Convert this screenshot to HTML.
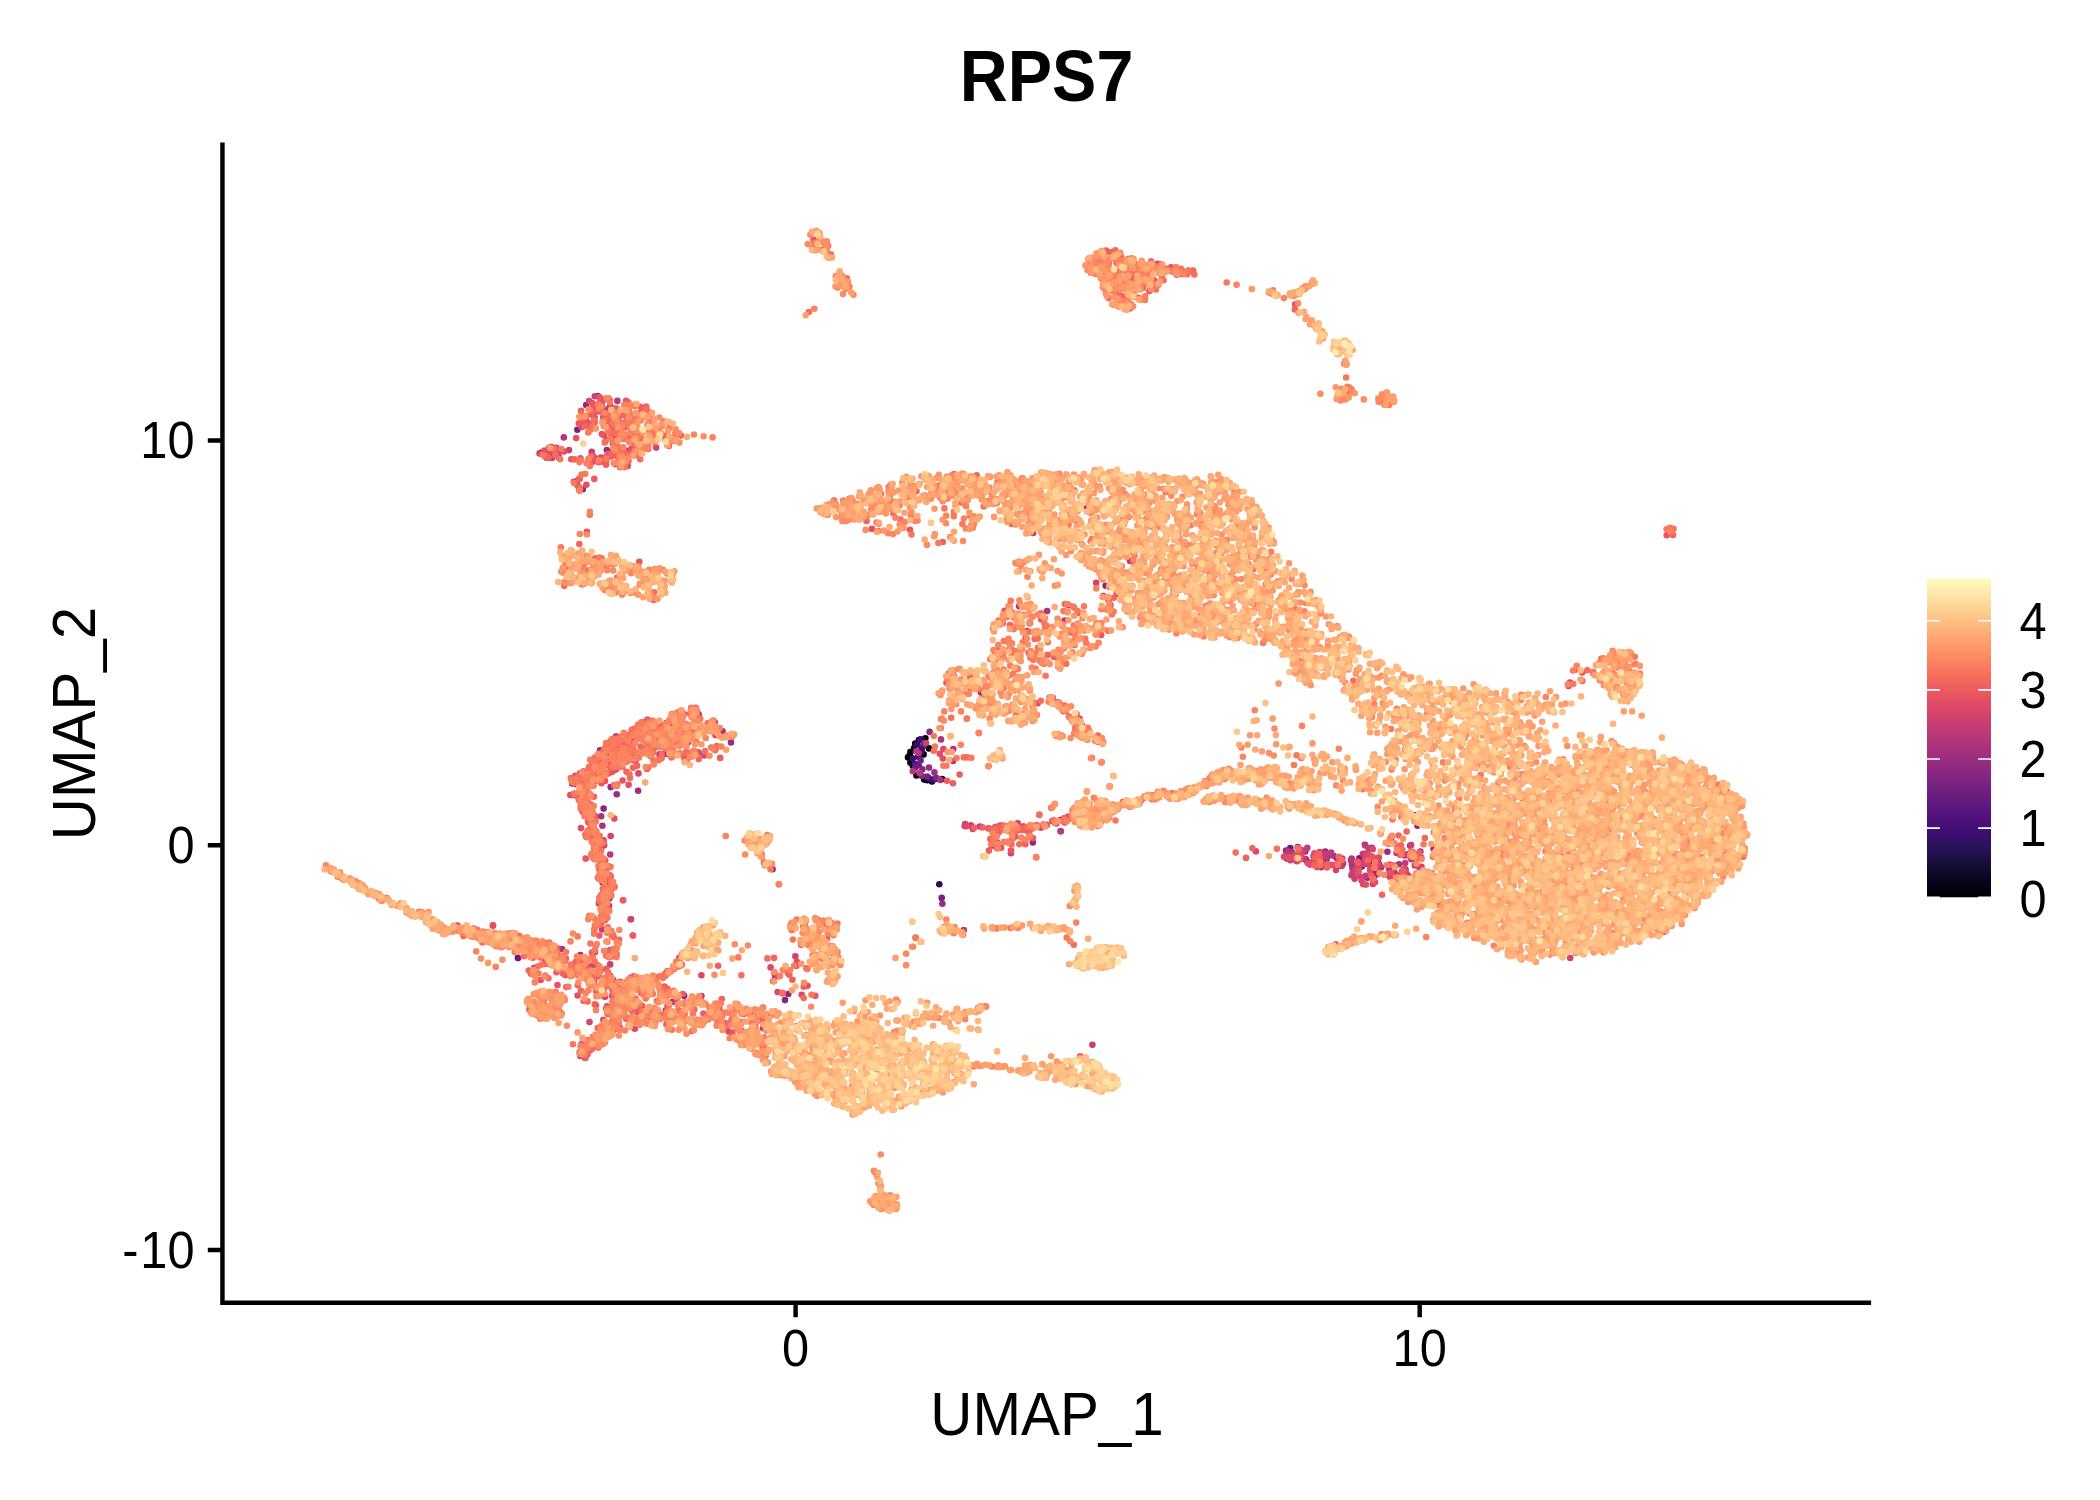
<!DOCTYPE html>
<html><head><meta charset="utf-8"><title>RPS7</title>
<style>
html,body{margin:0;padding:0;background:#fff}
svg{display:block}
text{font-family:"Liberation Sans",Arial,Helvetica,sans-serif;fill:#000}
</style></head><body>
<svg width="2100" height="1500" viewBox="0 0 2100 1500">
<defs><linearGradient id="mg" x1="0" y1="0" x2="0" y2="1"><stop offset="0.00" stop-color="#fcfdbf"/><stop offset="0.05" stop-color="#fde7a9"/><stop offset="0.10" stop-color="#fecf92"/><stop offset="0.15" stop-color="#feb77e"/><stop offset="0.20" stop-color="#fe9f6d"/><stop offset="0.25" stop-color="#fc8961"/><stop offset="0.30" stop-color="#f7705c"/><stop offset="0.35" stop-color="#ed5a5f"/><stop offset="0.40" stop-color="#de4968"/><stop offset="0.45" stop-color="#ca3e72"/><stop offset="0.50" stop-color="#b73779"/><stop offset="0.55" stop-color="#a1307e"/><stop offset="0.60" stop-color="#8c2981"/><stop offset="0.65" stop-color="#782281"/><stop offset="0.70" stop-color="#641a80"/><stop offset="0.75" stop-color="#51127c"/><stop offset="0.80" stop-color="#3b0f70"/><stop offset="0.85" stop-color="#251255"/><stop offset="0.90" stop-color="#140e36"/><stop offset="0.95" stop-color="#06051a"/><stop offset="1.00" stop-color="#000004"/></linearGradient></defs>
<rect width="2100" height="1500" fill="#fff"/>
<g fill="none" stroke-width="6.6" stroke-linecap="round">
<path stroke="#010106" d="M929 748.4h0M909.8 755h0M908 757.4h0M925.4 738.2h0M910.4 752h0"/>
<path stroke="#030312" d="M923.6 754.4h0M924.2 779.6h0M911.6 758h0M932 781.4h0M942.2 779h0M916.4 775.4h0M910.4 762.8h0"/>
<path stroke="#07061c" d="M921.8 749h0M915.2 743.6h0"/>
<path stroke="#0c0926" d="M912.8 765.8h0M914 748.4h0M927.2 780.2h0"/>
<path stroke="#130d34" d="M918.8 740h0"/>
<path stroke="#29115a" d="M939.3 884.3h0"/>
<path stroke="#390f6e" d="M920.6 739.4h0M917 744.8h0M912.8 758.6h0"/>
<path stroke="#440f76" d="M932 779.6h0M922.4 747.2h0M918.2 756.8h0M921.2 751.4h0"/>
<path stroke="#4c117a" d="M1405.7 887.3h0M928.4 777.8h0M935.6 779h0"/>
<path stroke="#54137d" d="M915.2 764h0"/>
<path stroke="#6d1d81" d="M915.2 767.6h0M518.1 958.1h0M1361.9 866.5h0M918.8 765.2h0M923.6 743.6h0M1317.2 854.3h0M1361.9 864.3h0M1290.3 848h0M1359.4 858.3h0M517.9 957.9h0"/>
<path stroke="#762181" d="M927.2 776.6h0M920.6 760.4h0M609.1 1024.4h0M941.7 897.9h0M1371.9 873.7h0M1341 865.8h0M1378 862.3h0M577.4 429.8h0M628.1 759.9h0M523.9 943.6h0M1060.4 820.1h0"/>
<path stroke="#7e2482" d="M1367.4 877.7h0M629.1 998.1h0M545.2 953h0M1105.7 585.7h0M1391.3 837.6h0M1364.9 844.8h0M650.7 722.1h0M585 795.6h0M1397.2 850.5h0M1336.3 867.2h0M604.3 1037.3h0M1373.5 874.1h0M996.5 846.9h0M694.2 718.1h0M613.3 980.3h0M911.6 1064.9h0M749.6 1011.8h0M528.9 947h0M936.2 777.8h0M684.1 995.7h0M580.5 793h0M554.2 455h0M540.5 452.9h0"/>
<path stroke="#862781" d="M595.4 847.6h0M1084.8 505.6h0M595.6 778.1h0M1312 863.3h0M663 754.4h0M586.2 405h0M1372.6 875.8h0M742.5 1010.3h0M1006.7 706.6h0M1417.5 825.8h0M581.1 779h0M605.3 873.5h0M1412.7 895.1h0M922.4 769.4h0M1369.1 849.1h0M558.8 457.3h0M921.8 776h0M1077.8 520.7h0M600.7 845.1h0M593.7 826.5h0M1305.3 859.4h0M773.8 1071.6h0M583.2 964.4h0M1336.4 857.7h0M785 1000.1h0M603.6 808.6h0M1074.2 645h0M601.3 921.1h0"/>
<path stroke="#902a81" d="M610.7 787.1h0M540.2 955.8h0M929.6 731.9h0M594.7 975.3h0M551.7 452.5h0M1422.6 873.7h0M1297.8 847.1h0M585.3 815.8h0M612.7 953.9h0M1433.6 849h0M1032.8 842.5h0M1307.4 861.7h0M1305.3 851.4h0M1325.3 851.6h0M1325.1 865h0M788.3 994h0M1305.7 859.3h0M1017.8 827.2h0M688.4 733.3h0M1286 850.6h0M1064.3 708h0M582.8 489.2h0M607.2 867.4h0M617.5 429.9h0M563.1 958.7h0M1378.1 872.8h0"/>
<path stroke="#982d80" d="M672.1 1002h0M585.5 799.3h0M602.6 882.6h0M1325.1 865.2h0M731 742.4h0M613.2 887.1h0M590.7 971.7h0M606.4 1008.6h0M772.6 869.3h0M600 750.4h0M598.4 1044.5h0M580.3 955h0M597.8 396.1h0M561.1 450.4h0M1295.1 857.1h0M688.3 742h0M699.7 1002.9h0M942.4 903.8h0M698.5 714.3h0M1327.5 856.9h0M616.7 794.3h0M551.4 947.4h0M1387.4 851.7h0M632.3 738.8h0M698.4 752.5h0M929 767.6h0M1289.5 857.6h0M606.2 909.3h0M606.8 450.1h0M715.9 747.3h0M1377.5 874h0M586.3 812h0M1060.7 831.2h0M1371.9 847.7h0"/>
<path stroke="#a02f7f" d="M965.8 826.2h0M642.3 1018.1h0M1374.2 876.5h0M1355.7 869.1h0M1005.3 829.7h0M1405.4 869.3h0M668.6 754.2h0M572.9 965.2h0M688.5 756.4h0M1402 871.2h0M1414 815.1h0M619.4 984.1h0M594.1 759.5h0M934.4 772.4h0M1289.2 858.7h0M1055.6 529.4h0M638.1 790.7h0M1316.3 865.6h0M1367 856.5h0M754.5 1035.6h0M1319.4 854.4h0M1389.2 868.9h0M582 802.7h0M605 912.3h0M609.4 898.6h0M1321.2 858.2h0M981 692.4h0M579.8 1052.6h0M1397.2 879.2h0"/>
<path stroke="#aa337d" d="M1286.8 858.6h0M562.1 949h0M717.4 731.2h0M602.4 825.7h0M1420.4 851.6h0M918.8 753.2h0M1326.4 860.1h0M874.6 1062.6h0M1394.6 872.9h0M1047.1 611.1h0M1398.1 846.3h0M581 804.4h0M1351.9 864.8h0M617.7 740.8h0M1398.9 864.3h0M992 845.4h0M940.4 779.9h0M722.6 731.2h0M1019 606.2h0M1411.4 859.3h0M1333.5 855.8h0M626 454.5h0M604.6 996.3h0M601.2 816.2h0M605 983.6h0M1340.4 860.7h0M582 784.5h0M1381 867.4h0M595 951.9h0M551.1 447h0M605.6 757.9h0M629.7 752.9h0M1118 590h0"/>
<path stroke="#b2357b" d="M619.3 986.9h0M1372.1 848.5h0M594.5 417.5h0M595.8 407.7h0M1311.8 862.8h0M1314.1 861.1h0M1373 858h0M631.7 995.7h0M572.1 783.6h0M1352.5 868.7h0M988.4 828.3h0M581.4 420.4h0M1323.7 853.8h0M953.3 749h0M1292 852.4h0M610.3 881.3h0M625.7 403.8h0M941 739.4h0M590.3 769.2h0M497.4 938.2h0M563.8 437.4h0M1410.1 845.8h0M1321 867.2h0M564.9 974.2h0M665.7 1010.5h0M1351.7 858.6h0M963.6 694.7h0M921.4 1074.1h0M1288.2 851.2h0M1364 863.9h0M1407.7 854.3h0M612.4 1031.8h0"/>
<path stroke="#ba3878" d="M617.4 400.9h0M630.3 1006.5h0M1362.8 854.1h0M659.5 754.2h0M701.4 996h0M614.7 434.2h0M576.5 969.3h0M963.8 930h0M635.1 998.5h0M1361.6 877.8h0M588.6 459.3h0M664 745.2h0M1342.2 858.6h0M1013.8 829.7h0M601.8 757.5h0M852.2 1042.5h0M1064.6 620.6h0M604.8 898.4h0M1431.8 873.6h0M1343.1 863.4h0M594.6 815.8h0M595.2 819.3h0M578.5 797.2h0M1286.6 854h0M1342 859.4h0M1311.4 864h0M912.8 771.2h0M684.6 759h0M775.3 977h0M953 761h0M1027.1 631h0M1056.4 702.2h0M528.3 943.7h0M1060.7 831.2h0M1130 561h0M576.3 784.3h0M610.2 854.5h0M1370.4 861.3h0M660 745.2h0M617.7 986.9h0M1421.2 857.9h0M614.3 448.8h0M660.9 741.7h0M763.1 1028.3h0M916.4 751.4h0M630.2 740.3h0M1318.4 861h0M579.5 478.6h0M979.9 826.5h0M919.4 773h0M1331.1 852.6h0M1350.9 860.4h0M548.8 457.6h0M1033 533h0M1151.4 511.7h0M589.7 768.4h0"/>
<path stroke="#c43c75" d="M606.8 764.9h0M1392.6 873h0M1404.7 855.6h0M1368.7 857.4h0M1052.4 821.1h0M1017.6 830.3h0M1397.4 881.6h0M1341.9 865.7h0M1369.4 848.2h0M592.1 982.6h0M1396.5 853h0M1405.2 863h0M598.2 778.5h0M632.6 429.5h0M1302.2 850.2h0M1352.6 872.9h0M1407.9 875.2h0M1068.2 604.9h0M1006.1 827.3h0M1067.8 819.6h0M1400.5 855h0M1325.7 857h0M591.9 425.7h0M1322.5 855.9h0M1291.4 859h0M1419.2 866.9h0M1103.3 596.1h0M1365.3 845.6h0M1325.6 853.8h0M609.5 887.1h0M1370.8 856.3h0M608.8 408.3h0M1041.4 827.3h0M667.3 748.5h0M692.2 754.2h0M1303.6 858.6h0M1321 859.6h0M1365.5 875.9h0M614.3 427.2h0M1378.3 866.3h0M615.1 1000h0M654.3 746h0M592.4 840.1h0M598.2 767.4h0M593.7 423.4h0M1307.3 847.9h0M602.1 929.5h0M1290.5 860.3h0M631.1 743h0M592.9 820.4h0M714.9 722.5h0M598.9 903.4h0"/>
<path stroke="#cc3f71" d="M1031.8 828.4h0M575.5 781.4h0M610.2 964.4h0M627.1 450.7h0M1355.3 869.9h0M589.6 982.2h0M1303.2 852h0M607.9 764.8h0M457.4 925.5h0M619.3 758h0M970.8 825.2h0M607.7 898.7h0M620.7 737.4h0M546.2 457.6h0M552 458h0M1015.7 825.4h0M630.6 750.3h0M596.9 856.3h0M1186.6 625.5h0M1397.8 879.4h0M635.6 760.8h0M614.7 414.4h0M1366.9 863.8h0M709.8 729.5h0M1411.1 845h0M957.4 687.5h0M616.4 1007.1h0M594.8 396.3h0M1365.1 853.5h0M600.9 461.6h0M596.3 769.4h0M609 905.7h0M1027.2 829.7h0M632.2 755.5h0M725.3 1023.2h0M587.9 1040.4h0M1121.6 594.4h0M631 919.3h0M680.1 1011.4h0M478.7 934.5h0M926 743h0M1017.4 827.1h0M653.5 736.2h0M591.7 451.9h0M609.3 419.8h0M610.1 766.5h0M603.7 905.3h0M1299.5 859.4h0M639.5 1009.8h0M605.9 1036.8h0M605 984.1h0M591.7 966.6h0M580.3 1056h0M603.1 409.8h0M1354.6 878.7h0M657 726.4h0M1364.2 863.8h0M1017.7 823.2h0M1378.7 857.8h0M582.5 420.6h0M1317.1 862.8h0M997.4 842.6h0M601.6 758.5h0M607.4 875h0M1372.9 884h0M569 450.1h0M1357.4 865.5h0M1351.4 875.3h0M1319.7 852.1h0M606.1 460.7h0M623.3 1003.4h0M1300.4 853.6h0M556.9 450.4h0M1092.4 1044.8h0"/>
<path stroke="#d3436e" d="M1379.5 864.6h0M949.1 673.5h0M588.3 811.3h0M627 995.9h0M578.6 783.4h0M656.2 447.6h0M604.2 896.5h0M1570.2 957.9h0M616 736.4h0M665.5 975h0M1105 574h0M1025.6 638.5h0M1036.8 825.4h0M1148.1 271.9h0M954.1 676.5h0M1117.1 593.8h0M964.7 826h0M630.7 919.3h0M1415.5 860.3h0M1398.8 885.9h0M601.1 898.4h0M972.8 829h0M595.1 816.9h0M1010.9 853.3h0M609.6 754h0M1336 870.1h0M601.3 847.9h0M1328.6 947.1h0M1414.8 865.5h0M576.9 481.1h0M593.1 413.8h0M1018 825.8h0M628.1 411.5h0M549.3 447.8h0M606.3 884h0M658.7 732.8h0M1294.4 855h0M1157.6 263.9h0M610.4 406h0M1404.5 880.1h0M562.6 961.9h0M1387.9 874.9h0M611.1 746.8h0M774.6 973.5h0M1296.8 861.3h0M584.3 809.9h0M603.7 901.5h0M586.3 970.9h0M655.1 743.5h0M1096.2 582.9h0M604.2 845.2h0M1114.6 291.1h0M1373.2 858.3h0M621.6 1003h0M715.5 735.1h0M603.6 840.2h0M1362.8 863.9h0M1003.5 825.5h0M608.4 415.3h0M612.7 883.2h0M607.8 978.9h0M1006.9 827.4h0M1358.6 875.4h0M628.7 758.7h0M610.7 836h0M615.5 748.9h0M969.5 687.6h0M606.7 874.1h0M605.7 983.5h0M1357.6 861.5h0M632.5 735.5h0M615.1 464.1h0M795.4 956.4h0M601.9 919.2h0M1298.3 859.7h0M1364.6 860.6h0M589.5 1022.1h0M649.8 419.1h0M618.6 753.9h0M965.2 824h0M509.7 943.4h0M588.1 1043.5h0M632.7 423.3h0M645.9 726.8h0M582.3 810.2h0M575.4 775.8h0M982.6 697.7h0M1421.5 866.9h0M650.2 1017.4h0M600.1 843.3h0M1056.3 823.5h0M671.6 724.8h0M612.8 451.4h0M629.3 424.9h0M642.8 984.5h0M1390 877.1h0M590.7 816.6h0M1000.3 825.6h0M619.7 745.9h0M605 996.7h0M534.3 967.8h0"/>
<path stroke="#dc4869" d="M1052 702.1h0M1405.7 871.7h0M634.8 1028.8h0M626.6 996.8h0M616.8 1025.1h0M688.3 727.2h0M610.9 767.5h0M626.9 740.7h0M593.5 818.7h0M493.1 925.2h0M579.5 784.3h0M543.9 952.1h0M637.9 1011.8h0M579.1 489.4h0M580.1 773.4h0M1311 864.1h0M553.4 451.6h0M662.5 738.8h0M605 462.3h0M628.3 410.6h0M1370.1 867h0M1290.3 857.4h0M612 885.6h0M666.6 722.8h0M1284 856.7h0M1040.8 827.4h0M600.3 458.4h0M492.9 943.4h0M1372.7 849.2h0M645.4 448.2h0M1388.6 843.7h0M573.9 481.8h0M615.6 994.1h0M603.5 908.4h0M524.1 946.3h0M588.9 983.4h0M600.7 457.5h0M583 783.4h0M1142.6 286.3h0M586.2 836.8h0M1361.6 880.6h0M1363.2 884.3h0M597 845.5h0M1037.7 703.3h0M564.9 960.6h0M510.5 940.7h0M704 755.4h0M607.6 906.9h0M548.1 452.5h0M1289.1 859.1h0M539.5 453.6h0M607.1 1006.2h0M770.6 967.4h0M595.6 974h0M604.1 908.7h0M546.6 451.1h0M1014.1 834.1h0M606.3 748.1h0M556.1 451.9h0M1309.9 864.6h0M580.8 961.1h0M652.4 745.8h0M610.2 950.1h0M1570 682.5h0M642.5 728.4h0M701.4 975.2h0M615.7 437.9h0M728.5 1031.4h0M589.1 401h0M629.6 993.1h0M1296 859.7h0M556.5 447.8h0M588.5 965h0M607.8 910.2h0M1411.5 877.7h0M1256 851.4h0M1313.4 856.3h0M665.4 439.8h0M592 462.2h0M777.6 992.1h0M1024.2 829h0M1109.5 604.1h0M1389.5 873h0M943.4 749h0M632.8 754.1h0M644.7 417h0M638.4 773.4h0M1358.7 868h0M426.4 915.6h0M1376 866.1h0M592 785.9h0M580.4 776.2h0M618 423.9h0M580.2 785h0M667.6 1006h0M504.4 943.2h0M1367.6 854.3h0M1300.7 855.8h0M558.2 455.5h0M647.9 741.3h0M593.8 854.9h0M605.1 882.1h0M967.1 825.8h0M686 724h0M801.7 994.7h0M599.4 846.2h0M611.3 1032.4h0M612.5 1007.8h0"/>
<path stroke="#e34e65" d="M1117.1 302.9h0M532.2 948.9h0M577.5 485.3h0M1314.8 860.3h0M611.4 956.4h0M598.6 462.2h0M594.3 981.3h0M1079.6 718.5h0M590.7 804.6h0M1288.3 857.1h0M565.5 975.1h0M650.7 751h0M942.8 758.6h0M600.6 872.6h0M1116.7 592.7h0M577.6 995.5h0M1149.4 291h0M577.7 974.9h0M564.1 451.5h0M608.1 420.3h0M542.5 955.1h0M593.1 834.7h0M612.3 751.8h0M625.3 1003.2h0M1295.3 856.5h0M1153.9 280.4h0M807.5 985.7h0M1331.1 864.9h0M627.7 1008h0M587.8 797.1h0M607.9 426.4h0M796.2 965.9h0M1664.3 931.7h0M1314.4 853.4h0M1032.2 704.2h0M1011.3 829.4h0M1171 267.4h0M687.2 737h0M605.3 1029.3h0M605 920h0M627.8 465.9h0M492.9 925.7h0M689.5 738.1h0M602.4 902.1h0M628.6 784.8h0M633.5 760.3h0M604 1038.4h0M643.1 723h0M600.5 993.2h0M1082.1 725.6h0M1307.8 863.3h0M1375 882.3h0M597.2 852.4h0M612.4 1025.1h0M603.3 1019.7h0M616 769.6h0M593 783h0M1134.1 286.8h0M678.5 717.5h0M1335 864.8h0M588.1 793.4h0M1390.9 872.6h0M545 961.3h0M679.7 741.7h0M1410.5 857.6h0M595.3 459.2h0M641.9 734.1h0M581.6 426.9h0M1316.2 859.3h0M1076.5 714.1h0M603.2 761.7h0M1342.3 392.9h0M540.7 980h0M606.4 413.9h0M593.3 814.6h0M614.3 818.6h0M612.2 771.8h0M1001 847.8h0M603.8 435h0M1012 829h0M490.1 940.4h0M570.3 795.1h0M1370.1 870.4h0M778.7 976.1h0M796.9 961.9h0M586.3 484.7h0M760.5 1020.6h0M997.7 827.6h0M586.9 531.7h0M679.3 957.7h0M556.1 961.5h0M636.6 432.9h0M581 828.1h0M719.4 1008.9h0M560.3 964.7h0M550.6 448.5h0M1071.9 720.2h0M622.7 747.1h0M496.6 940.1h0M1294.9 857.4h0M1404 868.9h0M675.7 727.5h0M1119.8 277.1h0M614.2 758h0M605.2 860.6h0M1008.2 830.9h0M598.8 763.6h0M598.4 1045.3h0M604.2 750.5h0M585.4 1057.9h0M1122.6 600h0M631.5 448.5h0M510.6 936.6h0M544.5 450.5h0M606.5 952.3h0M604.7 420.2h0M1120 302.4h0M504.7 935.5h0M602 405.3h0M1123.7 260.9h0M946.5 682.7h0M611.7 758.6h0M1365.9 884.6h0M872 528.9h0M600.6 401.1h0M599.7 849.5h0M603.2 417.4h0M1040.4 827.4h0M1399.2 875.4h0M995.4 827h0M710.9 1012.9h0M676.6 1001h0M606.3 955.6h0M1013.2 837.9h0M631.6 1010.3h0M1109 601.4h0M614 417.9h0M1568.6 685.9h0M657.3 739.7h0M582 416.3h0M791 924.7h0M1582.2 672.5h0M615.5 769.5h0M603.2 909.9h0M627.1 427.3h0M545.6 451.9h0M606.6 438.7h0M612.7 1001.6h0M622.5 748.5h0M1018.5 514.4h0M601.4 763.2h0M606 904.4h0M620 981.8h0M636.1 444.1h0M585.7 420.1h0M592.9 456.1h0M939.8 753.8h0M628.8 412.2h0M622 737.3h0M599.1 970.4h0M992.4 842.6h0M692.9 730.1h0M489.8 934.3h0M1126.3 280.6h0M1317.2 867.3h0M614.1 762.1h0M597.1 459.4h0M1378.8 857.5h0M1123.2 267.1h0"/>
<path stroke="#e95462" d="M557.2 948.2h0M593.7 834.8h0M633.5 755h0M597.3 921.2h0M685.6 1002.3h0M612.8 443h0M604.7 899.7h0M581.3 775h0M1389.9 864.6h0M604.8 875.5h0M594 413.6h0M586.4 416h0M1004.6 610.7h0M630 1005.4h0M611.3 771.7h0M658.2 735h0M609.9 875.9h0M635.8 756.6h0M601.7 1029.6h0M608.9 773.2h0M578.3 781h0M1077.4 613.1h0M599.9 762.6h0M604.3 888.1h0M910 529.8h0M582.2 807.9h0M649.2 747.3h0M1041.3 619.4h0M579.1 785.8h0M590.9 427.6h0M1120.8 256.4h0M607.7 866.1h0M689.6 736.9h0M622.7 749.1h0M601.4 783.3h0M597.6 847.1h0M625.9 735.9h0M765.7 1055.4h0M673.7 720.1h0M592.5 767.3h0M664.6 746.7h0M1338.6 862.2h0M610.8 456.5h0M1319.8 858.1h0M506.3 934.7h0M813.5 239.5h0M1046.9 824.9h0M592.9 427.9h0M605 780.9h0M600.9 970.5h0M609.9 400.6h0M663.1 747.3h0M665 976.1h0M691.5 1001.2h0M1011 850.5h0M1027 533h0M579.4 799.4h0M607.9 1012.9h0M806.5 968.4h0M622.6 780.5h0M1086.5 738.2h0M604.8 457.6h0M1046.4 628.5h0M1152.5 271.2h0M736.3 1021.7h0M571.3 459.3h0M582.4 967.8h0M1372.4 856.7h0M751.3 1016.4h0M486.9 932.3h0M581.5 1044h0M601.9 752.7h0M597.6 965.2h0M628.7 1025.6h0M599.3 411.5h0M602.9 982h0M592.4 414.8h0M639.3 561.9h0M580.5 458.3h0M1295.2 304.4h0M659.1 737.2h0M684.1 714.4h0M617 745.1h0M1127.1 295.2h0M604 399.6h0M628 742.1h0M500.8 935.6h0M599.8 397.3h0M618.3 419.3h0M596 1005.2h0M835.4 952.4h0M573.8 795.3h0M1112.3 270.3h0M1576.1 669.4h0M577.4 971.9h0M611.3 748.1h0M642.3 1006.1h0M561.9 970.5h0M582 784.5h0M764.8 1025h0M498.5 938h0M1023.5 826.2h0M732.3 1032.6h0M623.7 1007.5h0M511 936.7h0M557.5 985h0M592.8 424.2h0M576.2 438.1h0M1101 274.2h0M578.8 423.2h0M1081.6 732.1h0M716.5 729.9h0M1068.2 816.6h0M1039.7 660.5h0M1015.1 836.7h0M604.8 773.3h0M614.7 1003.9h0M593.8 422.2h0M1059.1 705.2h0M1611.6 659.3h0M587.2 421.5h0M582.8 776.4h0M1419 881.4h0M606.3 891.4h0M598.9 976.5h0M573.4 964.5h0M660.4 992.3h0M626.7 419.7h0M587.8 807h0M581.2 779.5h0M586 810.3h0M697.5 752.2h0M608.9 877.6h0M592.3 403.1h0M1036.8 634.6h0M605 914.7h0M699.8 718.4h0M589.8 424.6h0M623.1 900.2h0M601.2 1044.6h0M1666.7 535.3h0M620.1 467.2h0M645.1 411.4h0M1063.5 711.2h0M993.5 829.3h0M605.9 751.9h0M1007.1 827.2h0M815.3 995.8h0M585.7 858.6h0M623.6 758.1h0M561.8 956.7h0M650.4 756.1h0M1101.2 635.1h0M605.4 870.2h0M611.9 995.8h0M634.8 752.4h0M507.9 934.6h0M593.1 405.1h0M589.4 822.9h0M594.9 458.1h0M686.9 752.5h0M635.4 455.2h0M601.5 874.4h0M996.9 649.9h0M594.5 848.1h0M1142.5 270.8h0M614.1 434.5h0M1119.2 258.3h0M601.9 434h0M1071.2 656.1h0M1110.5 605.3h0M557.3 1007.2h0M596.1 991.1h0M632.9 935.5h0M668.5 732h0M582.6 800.1h0M949 1049.5h0M1358.7 871.3h0M691.9 1000.4h0M665.6 736.6h0M626.1 400.9h0"/>
<path stroke="#ef5d5e" d="M982.3 827.4h0M590.9 804.7h0M591.4 854.3h0M750.4 1012.9h0M1025.3 844.2h0M762.1 1019.5h0M648 749.9h0M555.8 965.1h0M1018.6 626.8h0M606.1 464.7h0M998.9 828.6h0M608.3 951.1h0M715.4 749.1h0M591.9 952.5h0M617.3 784.5h0M1182.1 274.1h0M584.5 1057.5h0M612.1 1009.6h0M1118.1 271.7h0M669.5 731.1h0M1004 826.3h0M699 728.8h0M576 780.6h0M635 438.7h0M1121.1 295.8h0M616 408.3h0M952.3 478.2h0M559.4 968.1h0M577.3 974.6h0M1301.7 290.2h0M618.7 1002.9h0M696.7 710.6h0M1150.7 283.8h0M637.8 733.7h0M875.4 1172.6h0M1131.5 258.5h0M586.2 968.1h0M703.4 1013.5h0M656.7 739.2h0M645.4 748.4h0M1066.7 821h0M1130.4 289.7h0M593.3 766.6h0M998.6 832.4h0M1189.5 271.2h0M1080.2 1056.2h0M583.8 812.6h0M731.9 1036.5h0M603.2 892.5h0M591.2 978.1h0M1008.1 826.2h0M593.7 425.2h0M953 783.2h0M581.1 410.9h0M1326.8 864.4h0M1066.1 640.1h0M1000.6 826.8h0M586.6 804.1h0M539.1 954.3h0M997.5 826.9h0M717.8 1003.9h0M597.8 769.1h0M1096.1 568.9h0M1080.6 823.1h0M464.1 932.7h0M790.9 927.5h0M644.2 752.5h0M587.5 778.1h0M565.9 958.6h0M1138.3 297.9h0M506.6 937.3h0M625 737.7h0M590.6 767.6h0M607.1 1012.6h0M1411 853.1h0M681.7 712.1h0M765.2 1017.5h0M607.8 454h0M1034.3 653.8h0M504.6 939.6h0M586.2 978.4h0M617.5 422h0M1103.8 279.8h0M603.5 979.3h0M629.7 453.6h0M1083 731.4h0M586.2 960.1h0M651.4 436.8h0M599.8 874.9h0M603.3 842.4h0M605.8 752.4h0M592.2 811.6h0M584.3 783h0M599.4 935.6h0M620 1027.6h0M759.7 1012.5h0M489 939.1h0M1030.3 605.1h0M646.6 733.6h0M647.5 411h0M561.1 962.2h0M616.7 755.5h0M600 863.8h0M606 460.1h0M997 848.3h0M480.4 939.5h0M682.9 994h0M502.7 939.4h0M1357.8 862.6h0M597.7 778.2h0M1371.2 876.1h0M807.4 930.5h0M1156.1 798.7h0M822.8 249.7h0M588.4 821.3h0M556.5 972.2h0M594.8 1004.2h0M812.2 249.1h0M608.4 757.2h0M633.4 730.5h0M604 988.2h0M718.1 965.7h0M593 984.5h0M640.4 406.7h0M1110.2 252.5h0M588.8 830.2h0M601.1 861.7h0M514 933.8h0M575.9 961.8h0M604.4 750.1h0M792.4 979.7h0M646.9 768.9h0M1099.8 253.6h0M1127.7 277.8h0M522 946.9h0M523.1 939.2h0M563.1 572.6h0M1103.7 259.5h0M1064.7 822.6h0M588 821.9h0M585.3 791.2h0M582.7 811.8h0M1419.3 852.8h0M612.5 934h0M592.1 981h0M773.2 981.2h0M633.6 419.3h0M1317.2 854.9h0M1053.9 656.9h0M1079.7 724.7h0M602.3 921.4h0M626.7 739.6h0M661.3 725h0M524.5 943.3h0M1072.7 719.4h0M1174.3 271.6h0M618.8 461.7h0M1090.8 258h0M720.2 757.9h0M627.4 751.2h0M526.6 946.7h0M608.3 745.6h0M602.5 776h0M558.2 961.8h0M643.8 981.6h0M603 863.2h0M1129.9 308.4h0M595.4 986.3h0M633.9 1001.5h0M1318 814.8h0M1151 280.1h0M607.5 930.9h0M646.4 428.7h0M1335.7 944.3h0M594.4 848.4h0M527.3 948.7h0M603.8 902.5h0M592.7 841.9h0M827.1 938.5h0M624.3 741.4h0M505.2 937.5h0M733.9 1008.7h0M959.6 774.5h0M1142.8 288h0M593.3 764.7h0M587.1 800.7h0M585.1 1045.4h0M990.4 839h0M614.4 1029.3h0M1433 856.8h0M1299.9 859.1h0M1082.4 726.9h0M594.9 818h0M1029.1 833h0M603.7 1035.8h0M623.4 742.2h0M598.9 773.6h0M1299 848.4h0M594.3 478.9h0M1132.4 261.6h0M626.9 1002.3h0M589.9 807.1h0M532 956.9h0M1055 526h0M642 409.1h0M578.7 780.7h0M647.4 719.5h0M1648.8 929.3h0M594.5 772.5h0M1176 585.8h0M478.7 935.4h0M1032.9 838.1h0M604.9 460.5h0M622.9 900.2h0M607.9 752.3h0M652.3 720.8h0M682.8 953.1h0M742.9 1040.3h0M656 742h0M1107.8 809.8h0M600.9 924.1h0M599.5 853.4h0M631.7 435.2h0M652.3 726.7h0M988.9 850.6h0M594.1 561.5h0M591.5 838.3h0M638.4 1010.2h0M1120.8 285.5h0M648.1 428.4h0M1012.8 653.9h0M670 1018h0M531 973.7h0M719.8 1012.9h0M556.8 967.4h0M722.3 1016.1h0M1111 573.7h0M667.2 744.6h0M630.4 742.6h0M624.6 982.6h0M654 748.2h0M543.4 1000.6h0M529.3 1009.5h0M951.4 1050.2h0M632.9 935.5h0M1024.9 830.1h0M532.8 957.7h0M597 991.2h0M621.8 423h0M507.7 938.8h0M803.7 986.7h0M587.5 1054.4h0M637.2 983.9h0M726.6 1024.1h0M988.8 828.2h0M625.5 746.8h0M1088.1 729.3h0M1132 278.6h0M839.6 962.2h0M782.6 993.5h0M616.4 455.8h0M664.5 986.5h0M630.9 977.6h0M654.6 979.1h0M628.4 461.1h0M606.3 968.7h0M1122.8 802.1h0M616.1 747h0M602.4 777h0M1099.3 262.3h0M600.1 986.4h0M606.5 773.9h0M595.2 428.1h0M613.4 767.2h0M684.2 735.5h0M1064.3 818.1h0M595.5 780.7h0M665.8 974h0M642.9 732.2h0M643.2 736.3h0M1106.1 250.5h0M497.5 936.3h0M1176.8 274.7h0M676.2 742.5h0M1299 850h0M611.6 983.9h0M592.8 759.8h0M626.1 1018.7h0M1601.5 658.9h0M617.4 1018.9h0M947 780.8h0M1185.9 792.6h0M534.1 954.4h0M612 420.5h0M607 1026.1h0M607.2 744.5h0M580.9 785.7h0M682.1 743.5h0M1402.5 871h0M592.3 415.1h0M583.5 1000.7h0"/>
<path stroke="#f3655c" d="M1029.7 828h0M820 236.1h0M1109.3 811.9h0M647.3 739.1h0M557.4 967.5h0M595.2 558.3h0M593.4 854.3h0M549.7 447.8h0M1438.2 904.6h0M592.5 956.9h0M605.2 1032.5h0M535.9 951.6h0M637 439.9h0M1058 520.5h0M1112.9 811.4h0M996.5 828.6h0M1012 656.2h0M612.1 989.1h0M541.6 953.3h0M789.3 974.8h0M1400.8 845.3h0M468 930.7h0M879 1203.3h0M1129.9 267.1h0M590 1050.4h0M592.7 780.5h0M603.8 588h0M898.1 506.9h0M601.7 772.1h0M467.6 932.7h0M1123.1 269.2h0M640.6 746.5h0M634 437.6h0M659.7 987h0M1372.7 879.9h0M581.8 418.9h0M618.4 985.5h0M668.9 445.9h0M611.8 755h0M619.1 939.7h0M599.1 868.8h0M599.6 775.9h0M779 884.3h0M1022.3 830h0M1074.1 633.9h0M470.6 930.4h0M646.2 406.5h0M632.9 767.7h0M499.4 936.1h0M1064.9 604h0M608 1014.2h0M991.3 829.7h0M1098 735.6h0M620.5 1010.2h0M1143.1 273.5h0M655.6 745.9h0M643.4 440h0M596.5 973h0M681.9 964.7h0M529.8 950.2h0M838.6 278.2h0M592.5 784h0M634.1 1007.5h0M626.5 771.8h0M613.9 937.3h0M508.4 933.5h0M731.7 734.6h0M1406.6 831.5h0M634.8 1021.4h0M544.3 951.7h0M482.2 933.9h0M1116.5 262.8h0M548.5 457.5h0M653.6 600h0M604.9 908.3h0M611.3 1026.4h0M612.5 763.1h0M680.9 717.4h0M1024.9 843.3h0M681.9 954.6h0M1382.1 894.8h0M1112.9 255.7h0M680.9 435.6h0M610.1 1011h0M591.4 817.3h0M582.6 774.5h0M614.6 886.9h0M650.9 755.9h0M602.4 773.3h0M669.1 1005h0M615.1 1016.3h0M574.3 459.4h0M616.2 1004.6h0M551.7 945.3h0M610.5 766.8h0M835.3 960.9h0M613 1001.4h0M625.9 455.2h0M601.7 877h0M1127.3 298.6h0M605.8 899.1h0M597.6 755.8h0M886.4 505.3h0M1113.8 281.9h0M583.6 771.4h0M626.9 436.4h0M1003.2 656.2h0M744.2 1014.1h0M581 776.5h0M691.7 756.6h0M630.1 746.6h0M688.8 736.5h0M774.1 957.9h0M611.5 952.5h0M1108.7 298.1h0M525.5 947.3h0M603.9 865.1h0M545.6 963.9h0M584.7 1053.1h0M1617.1 687h0M1108.2 630.8h0M660.2 581.3h0M1111.2 277h0M545.8 955.1h0M595.9 1040.2h0M1016 715.3h0M603.4 1028.2h0M524 939.2h0M620.2 760.2h0M1161.8 276h0M1193.1 270.6h0M527.3 950.6h0M605.1 982.7h0M1424.9 838h0M1131.9 306.4h0M617.1 1002.1h0M594.8 422.1h0M1139.7 270h0M650.2 978h0M559.7 999.5h0M761.6 854.4h0M601.8 777.2h0M1171.2 796.7h0M1140.9 800.6h0M1412.6 851.7h0M584.9 426.1h0M1314.3 865.2h0M645 444.3h0M606.4 875.6h0M602.9 756.7h0M622.5 766.4h0M601.5 558.4h0M525.6 944.4h0M671.1 749h0M497.3 935.8h0M1064.3 818.6h0M589 982.6h0M1346.4 364.4h0M667.3 992.1h0M543 947.6h0M1080 733.6h0M1294.9 309.5h0M611.1 454.4h0M513.1 942.5h0M1182 516h0M621.6 424h0M866.5 520.9h0M721.8 999h0M535.2 944.3h0M590.5 817.1h0M1108.5 261.2h0M916.5 491.3h0M647.5 721.9h0M466.6 929.2h0M974.4 827.7h0M546.2 947.7h0M1111.5 580.8h0M583.2 958.1h0M644 738.9h0M602.1 899.7h0M1157.8 285h0M762.5 1047.7h0M538.7 944.2h0M1058 734.3h0M1028.6 652.7h0M524.7 939.6h0M1009.9 625.1h0M606.4 751.5h0M787.9 972.9h0M1113.8 597.8h0M633.9 976.2h0M658.8 759.8h0M686.7 726.4h0M831.6 926.7h0M585.6 802.5h0M619.5 741.4h0M594 796.8h0M667.5 971.1h0M1129.9 806.7h0M645.9 983.6h0M601.2 875.8h0M1114.2 291.4h0M1367.7 860.2h0M1063 820.2h0M616.3 764.8h0M1060.9 704.8h0M606.4 874.9h0M1047.7 654.9h0M333.6 871.1h0M1669.6 529h0M622.9 414.9h0M1143.6 275.8h0M630.6 989.2h0M652.9 976.7h0M691.8 1031h0M627 750.6h0M1079.9 724.7h0M668 1009.7h0M1110 574.3h0M826.4 929.4h0M1012.9 629h0M564.2 960.6h0M1246 857.9h0M1149.6 282.9h0M463.5 936.1h0M1187.2 791.9h0M1127.5 291.1h0M619.3 997h0M1669.4 529.2h0M544.4 942.8h0M539.9 954.9h0M550 963.2h0M593.4 977.2h0M703.1 1022.5h0M750.7 1015.3h0M1087.7 264.6h0M677.2 721.6h0M628.3 402.3h0M682 725.4h0M597 850.6h0M698.7 759.1h0M598.5 461.8h0M673.6 990.7h0M1016.6 825.9h0M831 254.5h0M1121.5 301.4h0M1133.4 562.7h0M832.2 923.9h0M512 936.6h0M623.7 451.9h0M690.3 950.4h0M552.3 1002.7h0M586.3 800.6h0M644.8 734.4h0M610.4 975.7h0M610.1 420.9h0M808.6 944.7h0M599.5 990.6h0M677.4 965.8h0M677.2 733.5h0M674.9 754.9h0M632.6 428.2h0M1166.1 793.2h0M586.9 974.8h0M539.2 949.8h0M598.4 409.7h0M588.6 570.4h0M612.9 993.3h0M504.8 935.4h0M1115.4 250.4h0M1102.6 265.1h0M665.3 435.5h0M1092.7 822h0M1103.4 281h0M741.2 1030.3h0M673.8 969.2h0M1346.6 391.7h0M528.7 949h0M1011 927.9h0M1112 252.4h0M826.4 925h0M1036.8 714.9h0M1044 663.8h0M610.7 876.4h0M599.8 764.2h0M1075.5 727.3h0M604.8 900h0M651.5 990.7h0M1397.6 847.5h0M666.6 732.6h0M618.3 1010.2h0M638.7 413.3h0M566.3 987.1h0M1100.6 270.9h0M1099.6 625.1h0M1318.9 854h0M612.7 428h0M694.3 1009.5h0M969.8 676.5h0M1011.7 524h0M1160.7 264.2h0M605 1022.9h0M579.4 479.3h0M615.5 422.7h0M1040.9 613.2h0M598 877.9h0M645.1 721.7h0M1092.9 267.8h0M950.2 689h0M1039.3 815h0M1008.7 642.3h0M1225.3 798.6h0M1142.5 276.9h0M550.3 958.6h0M620.6 736.9h0M627.2 1007.2h0M708 1019.6h0M594.4 831.5h0M665.6 973.4h0M600.6 1035.3h0M612.1 417.6h0M1673 534.9h0M652.9 731.8h0M590.6 828.4h0M1493.8 864.5h0M1021 616.5h0M616.9 420.3h0M976.7 475.3h0M589.9 806.6h0M664.3 741.4h0M1325 813.2h0M603.6 907.2h0M1214.5 610.1h0M667.6 988.9h0M579.3 544h0M545.5 456.2h0M654.2 433h0M528.8 970.5h0M627.6 409.3h0M1113.2 280.4h0M635.6 426h0M589.7 463.4h0M1604.3 682.7h0M581.6 417.4h0M1078.4 728.7h0M1015.8 830.9h0M1062.6 707.3h0M671.7 714.2h0M942.8 542h0M947.5 498.5h0M612 762.4h0M607.7 876.2h0M564.3 585.7h0M1101.2 739.5h0M1604.1 660.3h0M690.2 713.7h0M1296.2 858.1h0M580.9 990.7h0M534.7 974.1h0M469.6 935h0M679.5 725.1h0M739.1 1006.8h0M635.7 451.5h0M1106.4 810.6h0M1338.9 856.9h0M1326.9 867.5h0M1139.2 272h0M605.5 875.5h0M511.9 938.9h0M1130.1 263.7h0M601.1 1034h0M588.7 812.8h0M659.6 731.4h0M666 730h0M1314.9 857.6h0M637.1 765.8h0M588.7 1046.2h0M634.4 445.1h0M577.8 985.2h0M1002.8 623.2h0M655.1 433.8h0M560 961.4h0M582.7 789.9h0M620.4 451.8h0M1036.1 825.2h0M1342.9 396.6h0M944.1 927h0M562.9 973.5h0M603.2 1035.2h0M1023.3 714.3h0M1398.5 835.5h0M1008.5 694.5h0M627.5 743.2h0M659.2 429.4h0M631.7 982.7h0M673 1018.4h0M592.1 1048.7h0M743.2 1033.2h0M682.7 755.1h0M1252.4 848.3h0M632.8 1009.3h0M610.6 432.9h0M618.5 458.2h0M1103.5 812.8h0M601.1 1030.6h0M931.5 492.8h0M615.5 463.1h0M1155.6 284.6h0M705.5 1004.3h0M1052.8 697.8h0M665 731.9h0M592.4 977.7h0M1008 827.9h0M666.4 1024.4h0M595.4 830.9h0"/>
<path stroke="#f66e5c" d="M1029.5 623.4h0M696.6 720.9h0M627.9 997.6h0M623.9 757.2h0M1181.3 793.7h0M694.1 999.7h0M648.2 767.4h0M599.4 924.7h0M1115 293.7h0M510.7 942.6h0M808.9 312h0M651.5 1014.6h0M1131.4 273.5h0M607.7 927.3h0M1382.3 396.5h0M1119.1 297h0M617.6 763.2h0M542.6 943.4h0M542.1 949.9h0M1151.8 278.8h0M330.8 870.9h0M579.9 487.9h0M1032.4 701.5h0M680.2 740.9h0M634.1 421.6h0M497.9 946.1h0M846.9 278.3h0M1095.3 273.7h0M650.6 425.3h0M966.8 718.7h0M540.1 1018.6h0M803.7 926.2h0M767.1 1014.3h0M600.2 1033.9h0M1169.6 794h0M594.3 822.1h0M1210.7 589.3h0M994.8 829.8h0M519 935.9h0M685.3 735.8h0M656.3 979.5h0M582 584.4h0M669.7 1015h0M612.7 882.1h0M590 430.1h0M891.3 509.1h0M571.5 975.8h0M1126.9 279.3h0M838 957.1h0M599.5 900.4h0M594.3 419.7h0M646.1 979.4h0M587.5 831h0M1568.4 854.5h0M1128.1 302.3h0M609.2 957.2h0M983.7 506.4h0M597.5 779.9h0M1147.5 507.4h0M951.2 717.8h0M540.5 957.6h0M689.3 734.7h0M640.8 993h0M612.2 986h0M609.8 887.9h0M613.6 765.1h0M893.3 513.6h0M678.2 1010.3h0M579.9 779.5h0M1058.2 702.2h0M548.2 955.9h0M978.1 689.2h0M602.8 888.8h0M572.5 973.5h0M605.1 887.6h0M649.9 431.9h0M626.5 761.7h0M1133.2 296.8h0M620 744.9h0M607.4 1007.9h0M537.8 966.5h0M590.3 783.6h0M810.7 939.4h0M1011.5 844.6h0M1012.2 612.5h0M1177.2 796.1h0M611.3 887.1h0M878.7 523.7h0M599.4 897.9h0M699.1 733.3h0M1106.2 274.8h0M1424.1 825.1h0M638.5 416.2h0M1210.3 777.9h0M667.9 746.5h0M1299 670.2h0M662 975.8h0M665.6 748.2h0M636.6 756.6h0M1111.7 282.4h0M534.5 954.9h0M519.8 946.1h0M691.2 1000.1h0M612.6 1009.7h0M555.4 454.9h0M596.4 972.6h0M617.2 752.8h0M716.8 746.1h0M1625.7 700.7h0M600.4 920.2h0M1100 259.1h0M1094.8 266.4h0M1341.7 860h0M559.4 955.3h0M523.7 939.9h0M1393.3 865.3h0M1240.5 773.6h0M1373 878.5h0M629.6 749.3h0M621.7 436.7h0M588.2 792.5h0M671.5 756.5h0M624.4 437.2h0M604.8 442.4h0M1040.8 700.7h0M1152 799.2h0M733 1015.2h0M828.4 924.3h0M592.2 832.8h0M624.2 463.9h0M940.5 486.8h0M621.4 988.1h0M528 941.9h0M751 1043.8h0M1075.4 639.3h0M594.6 961.4h0M596.3 854h0M742 1013.6h0M610.3 758.9h0M579.9 786.1h0M1119.8 302.8h0M792 929.9h0M1087.6 495.9h0M711.4 747.6h0M607.8 986h0M578.8 800h0M545.2 975.5h0M601.4 868.1h0M1230.4 770.4h0M960 693.7h0M652.8 1010.3h0M1003.5 829.7h0M608.8 1030.6h0M1079.4 735.4h0M621.7 455.3h0M687 731.5h0M589.8 514.8h0M590.1 796.2h0M731.6 1019.2h0M648.4 984.5h0M628.2 744.8h0M614.1 785h0M1090.2 259.4h0M587.5 800.6h0M599.9 852.9h0M605.2 750.8h0M1019.2 844.3h0M1673.5 528.8h0M585.4 810.3h0M584.2 796.6h0M694.8 1020.8h0M517 940.6h0M630.7 571.5h0M703.5 1021.7h0M615.7 432.7h0M595.8 945.9h0M554.6 999.5h0M828.1 245.8h0M647.3 989.3h0M614.5 765.5h0M1133.6 292.5h0M601.1 895.1h0M668.9 750.5h0M744.1 1038h0M504 941h0M607.8 910.8h0M626 997h0M1083.9 737h0M1055.8 528.7h0M812.8 931.4h0M631 423.9h0M1125 303.9h0M1691.6 860.6h0M567.4 555.8h0M635.6 999.1h0M621.2 762.8h0M1253.1 569.2h0M573.8 781.4h0M1413.8 728.7h0M593 769h0M562.7 557.4h0M617.2 577.5h0M611.4 889.6h0M1112.1 284.3h0M1587.4 670.2h0M586.2 799.6h0M1074 607.6h0M600.2 868.9h0M653.5 761.3h0M1016.2 496h0M617.8 992.7h0M1297.9 848.1h0M628.6 410.4h0M554.3 449.1h0M587.4 783.6h0M1034.1 490.1h0M727.3 1025.8h0M1132.6 258.7h0M585.1 800.1h0M770 865.1h0M1030.7 485.6h0M1104.4 256.2h0M615.1 1013.2h0M1023.9 614.9h0M888.8 1209.6h0M1095 740.3h0M661.7 754.2h0M1187 274.2h0M741.4 975.2h0M1037.9 647.9h0M673.4 966.6h0M614.9 563.5h0M1064.9 705.5h0M594.3 929.5h0M942.1 932.4h0M592 763.6h0M608.2 972.5h0M1029.4 631.7h0M510.4 944.8h0M1320.9 611.5h0M1212.7 777.4h0M1145.4 268.9h0M616.7 785.9h0M559.1 1010.9h0M634.1 1021.6h0M530.3 946.9h0M599.6 835.7h0M1582.3 680.9h0M662.2 1014.7h0M613 752.7h0M1055.8 703.4h0M632.5 441.1h0M670.4 754.1h0M601.3 777h0M707.6 723.2h0M992 493.5h0M1118.9 260.2h0M629.5 774.2h0M616.8 749.4h0M630 778.1h0M583.5 1055h0M618.1 425.7h0M1064 648.3h0M559.8 962.3h0M613.2 738.7h0M603.8 755.9h0M644 578.6h0M1620.2 661.5h0M592.9 980.7h0M531.4 945h0M1069 632.5h0M1254.8 603.9h0M623.7 1004.6h0M1172.2 793.1h0M1045.3 627.8h0M1743.3 856.7h0M553.4 959.5h0M602.5 907.8h0M615.8 1014.6h0M583.8 564.5h0M647.1 751.6h0M630.4 743.7h0M782.4 992.8h0M954.2 474h0M536.8 1014.9h0M1054.7 703.2h0M1205 633.3h0M605.6 903.6h0M649.3 579.3h0M870.8 498.4h0M630.5 1006h0M804.9 924h0M592.5 807.4h0M755.6 1040.6h0M1348.7 636.9h0M717.2 1013.3h0M678.1 712.2h0M629.2 999.7h0M618.6 585.2h0M1101.4 762.6h0M501.3 939.3h0M477.7 932.8h0M556.9 952.3h0M501.2 938.4h0M691.2 707.8h0M1402.4 850h0M1112.8 280.7h0M967.4 757.4h0M559.8 955.9h0M663.8 731.3h0M651.3 723.4h0M613.1 747.7h0M597.5 856.5h0M1015.6 830.1h0M544.7 1012.2h0M1115.5 303.7h0M575.3 794.1h0M634.5 728.6h0M1153.1 550.6h0M660 995.6h0M933.8 750.8h0M1104.6 808.4h0M1151.1 261.4h0M582.2 1046.6h0M1107.1 279.2h0M618.3 1009.3h0M611.8 936h0M576.2 970.5h0M1152.9 273.1h0M604 750h0M646.1 736.6h0M536.4 951.5h0M1302.6 288.5h0M591 456.6h0M562.2 956.2h0M801.2 944.9h0M482.7 932.3h0M654.2 592.2h0M679.2 717.2h0M1066.2 663.7h0M550.4 964.5h0M591.4 769.6h0M613.9 1001.7h0M601.8 871.7h0M503.3 946h0M576 777.5h0M645.5 410.1h0M612.4 1020.5h0M625.8 993.8h0M539 949.4h0M1039.3 814.5h0M684.6 1013.4h0M605.5 747.6h0M611.3 414.3h0M1052.8 653.8h0M963.8 757.4h0M600.9 850.8h0M664.7 975.6h0M556.8 1015.4h0M717 1005.8h0M608.3 910.8h0M550.3 956.8h0M679 1003.8h0M580.9 808.8h0M591.3 410.4h0M680.2 733.1h0M599.8 861.1h0M1154.9 266.8h0M532.5 942.2h0M588.1 1048.3h0M689.3 753.1h0M666.7 739.5h0M592.2 766.4h0M518.3 946.7h0M962 477.5h0M615.6 740.5h0M597.6 1028h0M594.4 859.1h0M618.7 743h0M596.9 769.2h0M1109.6 281.2h0M583.1 790.9h0M581.4 798.8h0M1128 304.2h0M1064.1 709.6h0M584.5 807.1h0M615.5 444.4h0M635.9 989.8h0M612.4 887.4h0M1209.9 573.7h0M615.9 1003.6h0M996.5 654.9h0M732.7 1024.4h0M600.8 869.3h0M661.6 758.2h0M533.5 950h0M614.1 450.6h0M751.7 1022.8h0M604.5 895h0M1063.8 709.4h0M597.1 855.2h0M646.1 417h0M878.1 531h0M543.5 1000.1h0M824.5 949.8h0M646.1 981.7h0M529.4 1004.6h0M767.4 958.4h0M1171.6 271.1h0M1111.2 284.4h0M523.8 956.2h0M1320.3 864.9h0M584.3 799.3h0M739.8 1041.2h0M588.5 786.6h0M609.3 874.8h0M528.3 945.7h0M640.7 1023.4h0M708.9 726.6h0M671.5 757.5h0M996.6 928.4h0M593.5 785.8h0M628.4 734.8h0M510.7 938.4h0M578.6 775.7h0M593.1 825.1h0M631.8 729.8h0M588.9 767.1h0M1269.9 629.3h0M392.5 903.4h0M1109.7 809.7h0M1353.4 680.7h0M803.7 998h0M640.2 459.2h0M527.1 948.1h0M603.4 912.2h0M1022.9 631.6h0M1742.9 828.1h0M614.5 767.2h0M587.6 1001.4h0M531.4 948.3h0M663.3 989.3h0M585.4 834.4h0M608 1027.9h0M763.7 1046.9h0M653.7 733.6h0M644.9 732.1h0M1383.4 395.6h0M1078.9 729.8h0M715.2 750.2h0M689 754.1h0M1180.9 268.8h0M588.6 559.5h0M1155.9 289.4h0M620 451.9h0M606.8 772.8h0M618.9 991.6h0M1007.7 841.9h0M1194.3 274.4h0M1137.6 286.7h0M581.6 414.8h0M705.1 751.1h0M1180.3 589.7h0M541.1 953.6h0M620.3 1005.8h0M594.8 757.6h0M623.9 992.2h0M1003.4 688.6h0M656.9 1001.1h0M589.3 834.5h0M1382.7 402.5h0M675.3 965.8h0M606.4 910.3h0M730.3 1022.6h0M658.9 976.5h0M1011.9 649.7h0M660 1014.6h0M1074.5 490.3h0M1240.8 621.9h0M939.2 485.2h0M546.8 952h0M751.2 1038.1h0M617.1 1019.7h0M671.7 995h0M548.5 978.2h0M1034.6 639h0M599 777.4h0M617.8 738.9h0M1118.5 293.2h0M755.3 1025.7h0M599.7 838.3h0M667.8 734.1h0M750.3 1033h0M1086 728.4h0M588.9 972.7h0M1147.5 275.5h0M683.5 726.4h0M1212.3 575.5h0M584.4 788.4h0M477.1 929.7h0M628.3 421.5h0M1026.5 827.5h0M1037.7 638.6h0M1137.3 272h0M584.1 1045.8h0M604.2 915.6h0M687.6 731.4h0M1178.3 795.1h0M621.8 452.3h0M1109.8 810.7h0M1108.4 285.2h0M635.6 428.2h0M814.4 930.6h0M1144.1 275.4h0M592.8 425.8h0M766.7 1030.6h0M605.6 419.6h0M610.5 741.1h0M1276.9 848.8h0M622.4 754.2h0M651.7 726.6h0M1016.1 827.5h0M632.5 1001.3h0M524.9 941.6h0M491.1 935.9h0M837.9 280.2h0M971.5 527.6h0M501.4 944.6h0M609.3 414.3h0M599.8 901.7h0M611.9 767.2h0M1098.7 631.3h0M1118.7 549.9h0M482.4 942.5h0M580.4 787.4h0M629 755.8h0M664.5 586.2h0M763.2 1052.8h0M545.3 948.8h0M798.7 1030.8h0M1085.2 638.7h0M1065.8 710.7h0M570.8 778h0M1525.9 894.6h0M1118.6 295.6h0M1068.8 716.3h0M695.9 707.7h0M1073.8 944.8h0M915.7 937.9h0M900.5 519.4h0M1248.9 585.1h0M1235.7 852.6h0M1163.6 280.3h0M686.1 752.1h0M684.5 741.7h0M711.6 721.7h0M631.5 999.1h0M1616.1 685.1h0M606.5 1034.3h0M961.1 502.5h0"/>
<path stroke="#f9795d" d="M972.5 485.7h0M337.8 876.8h0M884.1 509h0M894.7 501.9h0M605.3 910.3h0M1620.9 654.1h0M608.8 887.2h0M1515.3 784.3h0M1111.8 614.4h0M938.4 543h0M817.3 936.3h0M590.2 759.7h0M1532.6 903.9h0M626.1 1016.7h0M1389 404.9h0M1084 606.2h0M525.6 949.1h0M1391 729h0M629.8 455.7h0M654.4 437.6h0M956.6 758h0M596.7 924.9h0M1150 274.1h0M465.9 932.7h0M1136.5 482.5h0M740.5 1034.2h0M972.8 679.4h0M605.9 955.2h0M1073.8 625.5h0M807.7 930.7h0M1253.9 629.9h0M720.8 1017.6h0M1018.3 490.9h0M617.2 759.8h0M822.6 959.2h0M814.8 245.8h0M604.6 901.2h0M1234.8 488.2h0M631.6 999h0M820.6 511.6h0M544.1 1004.4h0M565.4 556.6h0M545.5 944.1h0M946.4 765.8h0M639.8 584.6h0M1401.3 817h0M497.5 940.9h0M1670.8 762.3h0M523.1 947.5h0M595.7 821.6h0M651.1 747.8h0M1301.2 757.9h0M606.9 1029.9h0M836.4 959h0M523.4 947.5h0M1062.6 709.9h0M603.6 422h0M664.2 741.9h0M717.2 1004.5h0M1271.3 538.7h0M676.2 961.7h0M1564.9 867.6h0M990.3 659.2h0M1175.2 272.7h0M594.8 925.4h0M551.6 950.1h0M909.5 495.8h0M1120.4 285.6h0M670.4 745.4h0M600 873.9h0M591.5 773.1h0M644 740.2h0M1454.9 810.9h0M732.6 1014.8h0M643.7 738.5h0M1047.9 642.2h0M646.5 582h0M594.5 950.8h0M623.5 762.2h0M558.9 960.2h0M619.2 1004.8h0M1098.1 741.9h0M1165.7 492.2h0M591.1 823.3h0M545.6 943.1h0M604.5 984.8h0M644 448.6h0M1003.7 669.5h0M637 738.3h0M614.1 744.9h0M514.5 944.7h0M814.4 242.7h0M576.9 972.7h0M1490.5 771.1h0M673 749.3h0M1618.2 843.3h0M970 515.9h0M1615 752h0M928.5 476.1h0M1084.5 630.5h0M974.4 680.3h0M1091.9 757.9h0M1411.2 881.6h0M738.3 957.4h0M624.9 758.2h0M647.4 1023.7h0M998.5 620.6h0M813.6 960.9h0M630 758.6h0M1625.7 666.8h0M611.3 895.4h0M1104.4 270.1h0M1264.5 769.9h0M1067.9 707.9h0M814.1 940.5h0M582.2 805h0M617 1025.7h0M1629.2 760.1h0M605.1 1042h0M1066.7 937.6h0M636.9 451.9h0M500.8 935.5h0M656.5 434.5h0M1083.8 649.8h0M618.5 1001.9h0M1266 571.5h0M604.5 760.7h0M1527.5 876.6h0M971.3 757.7h0M558.1 962.7h0M696.2 741.8h0M1375.2 862h0M1080 536.7h0M880.4 1187.6h0M1216.6 552.9h0M1046.3 631.4h0M584.7 1054.6h0M486.6 936.1h0M608.1 759.1h0M1096.4 818.1h0M601.2 878.1h0M601.1 916.1h0M794.8 926.8h0M1013.2 673.8h0M600.1 778.6h0M1163.8 518.7h0M581.3 803.3h0M608 431.1h0M1468.8 700.5h0M631.1 1001.8h0M525.2 942.1h0M647.6 748.5h0M639.2 737.3h0M471.1 935h0M606.4 458.7h0M1421.7 874.1h0M331.7 871.7h0M585.2 814.4h0M627.9 753.1h0M342.9 877.7h0M524 943.4h0M1095.1 740.4h0M1123.9 301.8h0M1044.3 623.2h0M467.8 929.5h0M591.1 984.7h0M735.9 1009.3h0M640.2 738.6h0M1145.1 300h0M1112.7 812.2h0M1193.6 791.1h0M1094.2 265.5h0M599.6 898.6h0M935 746.6h0M1072.6 810.2h0M1657 885.1h0M1220.5 620.9h0M1614.7 666.5h0M642.3 1011.3h0M1215.6 511.7h0M622.4 763.9h0M1496 813.9h0M1128.5 289.4h0M881.1 493.9h0M792.9 939.6h0M609.8 402.1h0M474.6 929.4h0M1311.6 785.6h0M679.7 736.4h0M1175.6 582.9h0M1036.2 857.1h0M610.1 1025.3h0M1477.7 765.6h0M499.8 936.6h0M613 423.1h0M1184.3 549.6h0M561.3 449.1h0M640.4 420.6h0M1115.8 303.4h0M1140.5 270.9h0M1592 836.3h0M983.9 690.8h0M584.7 796.6h0M1139.2 803.8h0M700.2 719.1h0M560.1 459.2h0M1338 864.8h0M1477.5 755.7h0M763.8 862.4h0M1087.9 727.8h0M1227.8 615.8h0M755.4 1034.1h0M1171.9 623.6h0M811.5 994.7h0M681.1 1025h0M1491.9 751.6h0M607.2 889.1h0M687.1 760.6h0M1299.1 660.8h0M1054.8 804.3h0M600 841.2h0M1139.3 505.9h0M1593.9 673.7h0M615.8 750.5h0M670 745.7h0M1096.9 506.9h0M1126.8 260.5h0M631.9 984.7h0M767.3 835.1h0M1073 606.5h0M1541.4 906.2h0M1158.4 284.5h0M806.1 920.6h0M585.3 473.7h0M616.8 954.1h0M1128.7 516.9h0M1118.8 306h0M1195.3 787.3h0M1493.9 934.4h0M1125.3 267.5h0M814.9 250.3h0M617.8 755.6h0M1246 615.3h0M975 480.5h0M981.1 698.8h0M1084.3 730.4h0M583.4 799.6h0M669 742.1h0M1099.6 814.6h0M522.8 940.5h0M1009.5 476.1h0M604.3 1028.5h0M1118.9 304.9h0M1113.6 611.5h0M1101.4 258.7h0M988.7 766.1h0M966.7 681.5h0M1209.8 778.3h0M1003.8 641.1h0M809.5 1058.3h0M595 972.4h0M649.1 736.8h0M1381.8 397.9h0M1319.9 861.5h0M538.4 973.3h0M963.1 934.8h0M596.5 831.8h0M544.9 943.7h0M837.4 923.5h0M1073.4 812.2h0M680.5 722.7h0M623.8 567h0M694.9 998.5h0M607 898.8h0M1305 652.4h0M1593.3 673.6h0M1117.7 302.4h0M1088.9 821.4h0M1296.6 755.2h0M603.7 858.8h0M1182.4 270.8h0M1053.7 820h0M1341.8 388.7h0M590.9 772h0M1150.1 265.5h0M633 566.3h0M1670.1 761.2h0M645.4 982.7h0M641.3 722.4h0M421.1 912h0M873.7 1204.7h0M591.4 814.2h0M807.5 969.1h0M911.5 534.6h0M1143.4 508.5h0M1406.1 816.5h0M650.3 749.7h0M954.6 684.2h0M603.7 901.6h0M639.8 730.5h0M1717.8 784.6h0M750.6 1034.2h0M886.8 1205h0M1117.8 263.7h0M1007.5 650.3h0M992.9 839.6h0M1640.1 894.8h0M342 878.6h0M613.8 446.1h0M514.8 952h0M905.5 489.3h0M604.9 984.7h0M481.7 938.2h0M333.8 871.7h0M645.5 578.7h0M623.5 1000.6h0M1074.3 819.8h0M1510.3 878.3h0M969.5 481.6h0M764.3 1037.2h0M1075.2 731.7h0M1271.1 807.9h0M1611.4 815.6h0M570.6 964.6h0M1033.5 828.1h0M1401.4 854.7h0M1726.9 791.4h0M615 741.1h0M668.4 748.5h0M1666.6 529.2h0M1374.5 867.9h0M1601.3 660.4h0M598 404h0M589.3 915.7h0M988.6 676.6h0M1573.2 683.9h0M648.2 449.1h0M606 907h0M1058.2 661.2h0M654 740.2h0M1347.4 386.7h0M834.5 956.7h0M1004 841.9h0M606 898.3h0M1099.5 815.7h0M1364.6 678.1h0M1162.7 506h0M625.3 999.3h0M647.1 742.6h0M626.7 421.5h0M818.1 919.9h0M882.9 1202.5h0M629.6 997.6h0M515 933.7h0M987.3 501.1h0M617.7 1001.6h0M1183.5 611.9h0M611.1 593.5h0M865 500.8h0M1127.1 286.4h0M1513.6 711.9h0M866.5 501.8h0M1305.8 660.5h0M1553.8 808.5h0M587 837.3h0M549.8 956.4h0M1687.4 840.6h0M678.7 966.4h0M581.3 785.7h0M599.4 920.4h0M1621.7 818.2h0M1294.8 608.2h0M941 728h0M570.7 966.3h0M668.3 429.5h0M590.4 943.5h0M1006.9 617h0M755.3 1036.9h0M1346.1 377.5h0M552.4 1003.1h0M507 935.6h0M1665.8 848.2h0M1109.2 817.4h0M1109 263.3h0M888.9 502.2h0M954.9 698.9h0M612.6 887.4h0M598.3 1047.7h0M634.8 423.1h0M1107.9 599.6h0M692.9 1013.8h0M1146.3 272.1h0M1603.4 679.6h0M634.8 406.2h0M602.5 979.4h0M603.7 421h0M1142 263.6h0M656.8 741.2h0M1051.2 807.9h0M649.8 748.3h0M602.8 908.2h0M605.3 977.8h0M621.9 1006.1h0M931.5 1015.7h0M1582.5 782.9h0M653.5 740.6h0M770.5 869.2h0M1348.9 387.2h0M544.6 944.7h0M765.6 863.1h0M618.2 739.8h0M996.6 844.1h0M1278.9 779.7h0M1118.5 273.9h0M623.7 438.9h0M635.7 752.9h0M979.2 704.9h0M580.6 807.8h0M679.7 1004.1h0M1394.4 843.3h0M644.3 1011.2h0M1538.5 780.8h0M607.7 975.4h0M1112.5 546h0M1067.7 611.5h0M639.4 428.8h0M1113.2 280.1h0M1100.3 258.9h0M506.3 938.1h0M973.4 1066.4h0M588.3 432.4h0M607.4 917.8h0M1423.6 844.3h0M1162.4 793.3h0M613.7 766.8h0M813 932.6h0M650.6 742.8h0M612.6 440.7h0M1040.2 660.6h0M590.3 818h0M1233.2 583.6h0M616.2 1025.3h0M564.5 961.3h0M645.7 998.5h0M1182.3 796h0M542.8 455.1h0M1219 550.4h0M1613 835.6h0M1143.2 798.6h0M1030.4 657.6h0M1180.5 584.3h0M1560.7 762.2h0M606.1 743h0M481.9 931.7h0M1035.7 668.9h0M1233.8 779.1h0M836.4 961.7h0M652.8 993.9h0M541.4 964.7h0M621.2 1008.6h0M839.3 275.1h0M654.6 442.3h0M1097.2 803.9h0M1611.2 837.9h0M413 913.9h0M665.9 742.2h0M1190.6 525.2h0M1117.7 805.9h0M981.9 499.3h0M574 483h0M1033.2 660h0M1100.2 255.9h0M1270.1 558.5h0M1631.8 872.9h0M1165.2 538.5h0M603.9 867.8h0M1058.7 655.4h0M834.1 500.2h0M1669.9 527.9h0M544.8 947.6h0M968.6 480.4h0M1117.9 260.6h0M352 881.5h0M836.6 929.4h0M1459.2 798.5h0M1010.7 600.9h0M639.6 1004.2h0M605.6 875h0M610.6 747.8h0M1074.4 632.1h0M991.3 844.2h0M989.3 487.7h0M966.9 718.6h0M1303.3 679.5h0M1038.7 489.6h0M1128.5 806h0M629.1 426.1h0M1199.9 785.5h0M609.3 910.9h0M611.1 886.4h0M653.1 421.2h0M988.3 476.4h0M1093.8 259.5h0M996.7 503.2h0M1420.6 880.9h0M1173.1 271.7h0M1154.7 795.1h0M591.8 807.1h0M855.5 506.9h0M1647.1 924.9h0M622.7 739.1h0M609.9 438.8h0M631.3 751.2h0M1438.6 864.8h0M1093.5 475.6h0M559.8 1003.6h0M1522.7 802.6h0M709.7 1007.9h0M837.5 280.3h0M1008.6 606.3h0M604.3 565.6h0M962.4 524.1h0M694.8 751.2h0M1309.9 637.6h0M583.7 778.5h0M1219.9 519.7h0M599.2 757.6h0M617.4 941.6h0M521.3 942.9h0M672.5 441h0M593 813.9h0M587.3 800.1h0M608.2 982.4h0M624.2 759h0M633.2 427h0M624.8 760.9h0M601.3 780h0M561.6 1013.4h0M536 949.8h0M688.8 951.8h0M1382.1 692.3h0M609.1 1011.1h0M367.7 892.1h0M1308 806.6h0M1067.2 630.4h0M695 951.3h0M653.3 752.7h0M1046.7 625.8h0M559.8 958.7h0M470.5 934.6h0M1188.6 270.2h0M888.6 487h0M603.9 1037.6h0M550.7 955.6h0M581.8 972.3h0M633.3 747.6h0M837.5 952h0M1593.2 671.9h0M791.7 930h0M611.7 739.2h0M606.8 750.6h0M1103.5 284.7h0M571.5 780.2h0M419.1 911.8h0M474.8 929.3h0M628.1 992.6h0M605.4 905.1h0M1114.4 281.3h0M910.9 515.5h0M613.5 740h0M596.8 845h0M625.2 422.3h0M1028.5 524h0M608.6 398.2h0M558.9 968h0M589 795.2h0M590 466h0M1196.7 787.8h0M1567.3 847.2h0M600.9 776.8h0M575.5 781.3h0M1343.9 819.9h0M834.7 959.5h0M1086.2 643h0M1433.8 832.2h0M1092 538.9h0M594 918.1h0M871.3 509.5h0M1008.9 675.8h0M616.5 957.1h0M1476.2 923.9h0M1075.7 728.1h0M794.2 965.8h0M1053.5 530.9h0M1239.2 559.9h0M1051.5 698.3h0M636.4 417.7h0M1049.5 697.5h0M995 653.8h0M598.5 865.7h0M1006.6 711.7h0M530.6 944.8h0M627.7 749.2h0M1017.9 669.1h0M595.3 833.4h0M1049.5 520.2h0M1155.3 286.6h0M622.1 763h0M564.8 1000.1h0M736.7 1029.3h0M604.5 895.4h0M816.5 928h0M1098.1 826h0M641 986.1h0M572.1 782.1h0M1029.2 614.4h0M995.1 651.4h0M1077.7 611h0M545.1 946.1h0M502.7 937.3h0M752.3 1028h0M605.3 903.9h0M1159.7 273h0M611.2 881.6h0M978.8 733.1h0M1154.1 273.5h0M1298.6 804.5h0M666.4 997h0M612.7 583.7h0M1198.9 498.9h0M1068.6 524.8h0M627.2 755.5h0M545.3 951.6h0M619.8 1016.3h0M499.7 939.4h0M574.3 782.7h0M444.6 932.5h0M1344.3 363.7h0M1079.3 628.8h0M1038 651.6h0M677.1 965.5h0M662 740.3h0M1083.3 503.5h0M803.2 919.7h0M553.2 947.2h0M471.2 935.1h0M791.5 1042.2h0M476.7 937h0M1163.5 793.2h0M386.8 898h0M637.3 438.9h0M606.6 895.5h0M582.6 1048.8h0M512.7 935h0M1582.1 810.4h0M1135.9 263.7h0M619.1 767.2h0M500 942h0M669.5 427.2h0M766.1 1051.8h0M1012.2 839.1h0M1197.1 514.2h0M650.7 734.5h0M986.1 1006.6h0M618.2 446.8h0M527.4 1000.4h0M677 966.9h0M1099.8 623.6h0M679.8 964h0M1519.8 722.4h0M1063.5 611.1h0M584.3 798.2h0M683.9 728.5h0M572.9 1044.3h0M632.3 418.3h0M592.9 957.3h0M678.2 996.6h0M1443.1 829.8h0M1075.2 728.5h0M1013.8 629h0M669 740.8h0M653.6 745.1h0M1386.7 865.3h0M796.7 919.6h0M803 926.5h0M544.9 1009.8h0M1064.2 710h0M832 953.2h0M612.2 741.1h0M633 986.3h0M683.2 1023.9h0M1226.7 282.5h0M658.5 760.2h0M585.5 778h0M1634.8 656.7h0M1268.2 767.6h0M1509.6 766.8h0M588 816.9h0M549.2 942.5h0M631 414.2h0M891.4 504.2h0M1022.8 642.2h0M1076.4 817.5h0M1113.5 277.6h0M1449.5 830.6h0M1089.5 731.6h0M1159.9 514.8h0M668.8 737.2h0M614 948.7h0M600 968.1h0M684.8 953.2h0M836.5 954.9h0M1628.8 670.1h0M1134.2 265.2h0M329.8 868.9h0M1096.6 623.3h0M610.2 1035.9h0M655.9 728.4h0M610.5 866.7h0M1500.7 700h0M1115.5 820.5h0M616.5 1011.9h0M560.9 547.3h0M658.9 733.2h0M1145.1 296.3h0M1240.3 529.9h0M1046.4 499.4h0M833.5 948.8h0M620.9 752.9h0M953.9 511.8h0M585.9 780.1h0M1004.8 826h0M639 729.6h0M1079.5 629.4h0M623 564.9h0M1339.6 666.9h0M580.8 460.2h0M1146.3 518.6h0M602.4 843.4h0M587.2 778.5h0M1508.5 733.3h0M681.8 734.8h0M1294.5 672.4h0M944.4 508.4h0M1087.3 739.7h0M1135.4 282.5h0M576.3 779.9h0M1164.5 272.1h0M1480.7 774.7h0M600.2 844h0M668.3 991.7h0M684.8 1017.1h0M658.8 986.7h0M997.6 481.8h0M510.1 936.8h0M552.2 957.1h0M1010.3 665.8h0M1090.6 541.3h0M1024.9 632.9h0M593.9 845.5h0M1467.2 922.9h0M512.2 946h0M1362.4 789.3h0M717.4 1022.4h0M680 735.2h0M579.6 784.9h0M577.6 936.4h0M1007.9 828.4h0M608.5 564.5h0M578.4 963.2h0M579.5 462.1h0M1315.4 813.6h0M568.3 986.7h0M615.5 415.5h0M933.8 736.1h0M1101.2 278.6h0M643.3 729.4h0M594.9 927.7h0M624.6 467.2h0M678.8 728.5h0M1125.2 494.3h0M1126 288.5h0M656.1 760.4h0M1064.6 819.7h0M1166.2 268.5h0M603.9 426.1h0M646.5 1010.9h0M1114.5 810.2h0M599.6 557.5h0M604.9 866.1h0M1108.7 284.4h0M1148.5 270h0M438.6 927.4h0M604.2 881.9h0M639.1 1003.4h0M589.1 806.6h0M632.9 1000.5h0M1077.9 803.3h0M584.6 816.2h0M516.4 948.6h0M953.8 516.2h0M1074.5 644.8h0M637.1 752.8h0M585 1053.1h0M713.4 720.5h0M593.6 777.8h0M681.2 958h0M568 569h0M459.7 931.1h0M628.9 456.3h0M671.9 1029.8h0M548 949.7h0M1392.5 819.5h0M693 734.3h0M638.2 724.6h0M594 933.8h0M597.2 1047.2h0M1188.1 795h0M1002.6 619.8h0M1603.6 952.3h0M541.6 942.9h0M1085 729.5h0M565.4 558.2h0M1095.5 814.7h0M1119.1 275.7h0M623 425.4h0M1030.3 657.8h0M817.6 249.2h0M589.6 815.2h0M649.6 737.2h0M1193 792.8h0M943.4 765.8h0M640.9 434.7h0M1273.1 290.2h0M1599.4 663.1h0M1122.5 627.3h0M1235.9 592.3h0M638.9 757.6h0M584 789.6h0M584.6 796.9h0M647.6 980h0M1255.9 624h0M650.2 429.4h0M588.3 786.1h0M606.2 904.4h0M1218.9 489.6h0M1591.1 866.9h0M1518.5 931.1h0M597.4 973.9h0M541.7 953.1h0M640.8 986.5h0M620.1 1002h0M755.3 1039.5h0M581.5 474.6h0M1118.9 501.2h0M725.1 1012.5h0M946.2 488.6h0M643.9 739.5h0M595.1 761.9h0M1129.2 293.5h0M1123.2 259.7h0M1029.4 836.6h0M663.7 421.3h0M810.6 930.5h0M1134.6 555.5h0M1242.3 532.9h0M1045.6 675.7h0M1098.9 260.9h0M632.7 1015.9h0M565.9 952.1h0M1121.4 496.2h0M1551.3 877.9h0M649.6 1014.4h0M633.8 1004.4h0M574.1 793.5h0M1109.8 609.3h0M915.5 937.6h0M663 978.1h0M550.5 959.3h0M755 1035.1h0M629.1 760.4h0M526.1 941.7h0M1118.8 806.9h0M1622.5 664.8h0M1144.9 281h0M1016.1 651.1h0M540.7 948.9h0M642 733.5h0M618.8 1022.6h0M589.4 973h0M1097.2 274h0M1573.6 872.7h0M1263.2 643h0M643.4 726h0M1294 765h0M1411.1 851.7h0"/>
<path stroke="#fb835f" d="M1565.9 838.6h0M612.6 754.6h0M555.5 951h0M536.4 952.7h0M833.5 935.3h0M587.7 1047.8h0M601.1 910.5h0M643.6 753.4h0M546.4 950.1h0M665.9 723.7h0M622.7 1009h0M1374.2 704.1h0M806.3 1035h0M527.9 942h0M509.3 935.9h0M953.3 486.9h0M620.4 754.4h0M1216.1 545.4h0M585.5 963.4h0M630.3 427.9h0M528 950.4h0M1368.1 707.6h0M655.4 1022.8h0M824 507.6h0M591.7 841.7h0M631.9 736h0M1396.8 708.9h0M1571.9 787.6h0M1137.7 270.6h0M832.6 981.6h0M648.3 446.4h0M551.5 948.3h0M1518.4 899.4h0M1015.3 680.7h0M803 1085.7h0M1075.2 517.2h0M1212.6 579.3h0M1445.7 745.5h0M1381.5 934.4h0M1114.2 806.8h0M1030 835.8h0M495.8 946.3h0M1405.6 758.7h0M1640 673.5h0M1178.4 533.9h0M581.4 1053.8h0M921.6 476.3h0M1698.8 772.1h0M1011.4 495.1h0M1615.3 841.5h0M602.4 1041.7h0M1130.2 293.6h0M1525.1 773.6h0M800.7 941.9h0M627.3 991h0M1068.5 514.3h0M1633.1 857.5h0M1404.7 886h0M623 760.5h0M1454.9 812.5h0M1043.3 824.3h0M651 979h0M559.1 961.2h0M707 1017.1h0M613 882.1h0M925.5 1016.2h0M1519.2 766.6h0M656.3 981h0M645 447.5h0M889.7 1201.7h0M589 1044.4h0M965.8 528.4h0M1008.5 638.7h0M614.2 418.4h0M603.8 881.3h0M1126.1 265h0M594 832.9h0M510 946.7h0M649.4 740.5h0M793.8 1045.9h0M672.9 969.3h0M1030 489.6h0M1393.9 800.7h0M630.5 996.7h0M500.3 945.1h0M1091.1 271.2h0M649.5 729.2h0M635.5 1019.6h0M504.5 939.2h0M530.2 945.3h0M1102 567.6h0M584.8 1051.3h0M464.1 932.3h0M599.4 966.3h0M664.6 728.9h0M1112.7 492.4h0M1389.8 839.4h0M1168.4 796.7h0M972.8 527.7h0M672.3 721.5h0M1273.7 542h0M878.7 494.4h0M1236.7 494.2h0M747.6 1032.3h0M1093.9 797.8h0M1607.5 782.2h0M1588.7 848h0M987.2 692h0M586.5 776h0M555.7 991.8h0M1303.7 641.4h0M616.9 942.6h0M1570.2 774.4h0M533.8 1006.5h0M1112.9 258.2h0M628.8 1000.3h0M622.3 989.5h0M1520.5 835.7h0M1360.2 940.8h0M592.5 857.5h0M1104 809.9h0M1187 790.4h0M552.8 948.7h0M660.1 991.5h0M834.6 949.2h0M1620.7 663.6h0M662 746.1h0M656.5 723.1h0M1715.1 788.9h0M635.8 733.7h0M473.5 928.4h0M1222.9 773.3h0M1605.2 901.2h0M544.2 1007.2h0M1249.7 583.1h0M1694.1 903.1h0M510.6 942.2h0M635.6 983.7h0M1629.9 904.9h0M915.2 521h0M605 1039.3h0M1087.3 824.3h0M966.3 495.7h0M556.6 1012.9h0M1433.3 766.8h0M1614.2 653.5h0M615.2 1005.1h0M693.1 751.1h0M1642.1 812.8h0M668.1 994.2h0M1479.8 876.4h0M1018.1 928h0M743.8 1010.8h0M1130.2 292.2h0M1345.5 388.8h0M588.5 990.3h0M1127 300.5h0M899.7 505.7h0M422.6 916.9h0M1611.9 662.7h0M623.4 735.2h0M651.4 722h0M808.5 945.2h0M1090.7 503.5h0M981.8 495.3h0M1587.9 943.7h0M1101.3 276h0M1363.7 938.2h0M1055.5 525.4h0M1130.4 306.7h0M355.6 881.3h0M650.6 982.4h0M1067.2 604.1h0M1027.5 576.7h0M1146.6 591.5h0M608.9 1036.1h0M599.2 875.3h0M476.8 937.1h0M610.2 889.1h0M585.4 561.3h0M956.2 489h0M538 948.2h0M609.2 982.6h0M558.2 1008.7h0M629.1 441.9h0M1007.5 842.6h0M790.1 970.1h0M1032.6 616.8h0M528.6 947.9h0M1290.8 596.7h0M1621.9 652.8h0M554.3 1012.1h0M1073.3 818.9h0M1441.9 732.2h0M1621 811.8h0M830.9 922.5h0M634.7 451.1h0M1037.3 519.2h0M1117.6 258.7h0M515.8 937.4h0M382.6 898.7h0M831.9 964.6h0M687.2 741.1h0M1410.1 855.3h0M596.8 944h0M1048.6 701.7h0M1176 267h0M491.7 943.3h0M325.9 865.3h0M1040 649.7h0M1017.8 827.9h0M822.1 958.6h0M1308.8 286.1h0M1596.9 819.4h0M647.7 727.3h0M885.3 510.4h0M1464.2 865.1h0M559.6 1015.2h0M1119.2 263.3h0M1051.3 700.6h0M1504.2 897.5h0M956.2 704.3h0M501.5 945.6h0M585.7 992.9h0M669.9 751.7h0M1721.5 853h0M1470.3 761.1h0M594.4 840.8h0M1096.9 810.5h0M604.6 589.9h0M1352.6 392.4h0M1081.7 822.9h0M1636.6 817.6h0M1481.7 884.9h0M1097.7 274h0M1249.7 778.5h0M993.1 628.8h0M558.1 959.1h0M600.1 987.2h0M620.7 590h0M618.6 463.5h0M1008.8 642.1h0M1582 863.5h0M495.7 966.9h0M1104.1 811.3h0M525.1 939.3h0M588.4 784.9h0M654.6 598h0M731.4 1012.2h0M822.5 954h0M669.6 740.3h0M554.2 955.5h0M1489.9 836.5h0M1085.4 496.6h0M1177.4 577.9h0M835.8 504.3h0M814.6 1050.5h0M1613.2 807.7h0M1154.8 616.1h0M1070.2 941.2h0M599.5 772.1h0M1118.8 306.6h0M1628.4 835.1h0M585.1 809.9h0M1642.9 918.7h0M564.9 564.9h0M1600.6 896.1h0M1042.1 503.6h0M1501.4 857.1h0M625 1030.5h0M1143.6 270.8h0M1106 268.8h0M1183.8 273.7h0M540.3 1018.4h0M1273.7 774h0M668.7 734.3h0M1308.2 672.8h0M615.6 592.4h0M669.7 738.3h0M488 942h0M992.3 713.9h0M605.4 583.7h0M1168.4 270.3h0M1485.2 831.3h0M629.2 758.1h0M1144.8 279.1h0M616.2 784.9h0M1206.6 785.9h0M651.4 979.6h0M1007.1 505h0M488.6 936.9h0M620 760.2h0M1172.4 797.5h0M881 1209h0M1128 283h0M1639 911.4h0M1060 703.9h0M1093.4 816.4h0M998 848.2h0M617.4 1012.5h0M579.8 534h0M467.1 934.1h0M675.2 433.6h0M713.1 748.8h0M831.7 960.2h0M1097.2 740.4h0M614.3 986.9h0M553.4 951.1h0M721.3 746.6h0M609.3 889.2h0M977.5 687.3h0M545.5 1018.4h0M1271.1 551.9h0M437.4 922.3h0M1468.7 776.1h0M1066.6 821.3h0M524.8 938.6h0M1129.5 289.6h0M609.6 895.2h0M1152.4 797.1h0M399.9 906.5h0M972 688.3h0M480 935h0M1240.9 632.6h0M1016.5 624h0M712.6 437.4h0M1420.3 679.9h0M636 431.5h0M1449.5 888.4h0M622.1 430.5h0M611.4 1008.6h0M1306 603h0M1078.4 556.2h0M595.5 831h0M1120.5 283.8h0M1075.8 809.6h0M1608 841.2h0M1188.6 788.3h0M972.3 477.1h0M1241.4 747.6h0M1080.8 803.7h0M895.9 1209h0M596.9 769.8h0M622.1 594.6h0M607.2 570.3h0M845.5 511.7h0M1054.8 479h0M1242.7 550.5h0M1061.6 636h0M1000.6 692.5h0M540.1 952.1h0M687.3 729.6h0M669.5 719.7h0M1439.6 919.4h0M475.5 932.1h0M1628 829.4h0M1682.2 877.4h0M645.1 1016.8h0M1709.7 809.3h0M596.8 835.5h0M1148.3 580.7h0M1263.9 530.3h0M1615.4 685.7h0M532.4 973.2h0M1588.9 882.8h0M792 927.2h0M1036.2 857.4h0M535.9 940.6h0M493.7 936.2h0M1082.2 813.5h0M610.3 588.2h0M1128.7 480.7h0M1290.2 294.7h0M649.7 735.7h0M625.6 753.6h0M410.5 913.6h0M1118.1 808.2h0M505 941.3h0M608.5 1025.6h0M1545.9 697.1h0M1163.5 790.7h0M618 990.4h0M670.8 971.4h0M589.1 808.1h0M658.6 743.3h0M1069.1 717.1h0M1618.1 660.7h0M1021.6 495.3h0M996.7 836.2h0M763.1 1007.4h0M880.8 508.4h0M1417.2 822.6h0M587.4 976.7h0M1283.9 298.1h0M1155 266.2h0M562.7 960.7h0M1311.6 321.1h0M589.8 511.9h0M1136.7 570.1h0M521.4 940.6h0M605.3 1021.9h0M595.9 564.4h0M510.6 935.9h0M1311.3 809.1h0M583 977.2h0M826.7 250.7h0M544.5 993.8h0M477.2 937.6h0M1310.6 643.9h0M1095.6 646.4h0M543.7 950.2h0M1018.6 571.2h0M567.1 582.7h0M1303.4 636.5h0M679.7 752.8h0M489.5 932.5h0M1135.7 503.1h0M1186.7 578h0M1486.8 735h0M529.5 941.1h0M1315.3 658.7h0M780 976.2h0M631.3 999.9h0M593.8 806h0M1539.9 782.6h0M1712.3 808.9h0M1627.8 830.4h0M964.4 495.2h0M1509 948.9h0M1206.8 559.7h0M833.2 926h0M1612.8 672.8h0M1008.3 477h0M613.4 1000.9h0M612.9 1009.6h0M1076.2 922.6h0M851.6 1088.1h0M1072.9 721.9h0M588.3 919.3h0M409 912.9h0M1443 762.4h0M1159.9 591.4h0M1583.1 795.8h0M1180.9 791.2h0M764.2 1059.2h0M1105.4 290h0M992.8 706.2h0M556.6 1009.2h0M656.3 430.2h0M646.4 749.5h0M941.9 718.6h0M1527.8 925.4h0M1121.9 566.2h0M1597.2 826.3h0M947.4 679.2h0M1502.1 871.1h0M751.3 1030h0M1288.5 610.5h0M1701.9 857.1h0M649.9 575.7h0M889.8 497.5h0M1444.6 837.8h0M960.8 744.8h0M1012.9 704.6h0M615.9 993.5h0M1279 807.4h0M756.1 1015.6h0M597.7 971.4h0M1592.4 944.5h0M560 1004.3h0M1378.7 401.8h0M1508.4 872.5h0M501.2 947.2h0M978.8 732.9h0M472.5 936.8h0M594.5 859.1h0M1157.2 511h0M1013.4 484.9h0M629.3 1008.7h0M1492.6 860.7h0M1574.9 798h0M607.8 896.9h0M485.7 932.6h0M1102.7 251.4h0M1571.6 933.9h0M1179.2 272.7h0M1667.6 799.2h0M691.5 1008.2h0M1630.9 653.3h0M619.4 461.4h0M1621.9 748.9h0M612.6 1026.6h0M614.7 992.7h0M956.8 484.2h0M1591.2 759.2h0M1291.9 295.3h0M553.7 963h0M1511.4 826.2h0M528.4 949.3h0M1634 664.5h0M677.6 1004.7h0M742.2 1035h0M490.8 936.6h0M1184.5 585.4h0M462.1 932.8h0M1183.9 625.8h0M1509.9 913.9h0M1296.6 658.1h0M1338.8 748.7h0M1140.5 299.8h0M1210.2 603.6h0M623.7 592.3h0M354.8 884.1h0M870.6 503.7h0M639.2 727.4h0M1289.2 630h0M1542.1 799.3h0M1624.9 661.5h0M1098.6 642.7h0M1577.1 882.1h0M1254.8 710.2h0M588.6 959.1h0M635.1 1018.5h0M590.7 810.8h0M986.6 697.7h0M1102.5 274.8h0M611.6 1023.2h0M966.2 506.2h0M897.9 504h0M1542.6 776h0M1163.2 608.3h0M691 1002.8h0M1102.8 287.1h0M659.3 747.3h0M1012 643.3h0M853.5 507.8h0M1103 255.5h0M871.8 1202.7h0M1031.6 825.5h0M638.8 978.7h0M1042.1 513.6h0M1501.1 744.3h0M1026 839.5h0M1524.4 746.1h0M876.5 522.5h0M615.6 1027.7h0M968.8 693.9h0M753.1 1027.2h0M1372 717.2h0M1744.1 854.1h0M1177.6 795.8h0M1711.4 835.2h0M489.2 941.8h0M595.6 853.8h0M1205.7 561.4h0M701.5 1025.2h0M534.8 982.4h0M607.5 941.8h0M1605.7 799.5h0M586.5 463.2h0M524.9 943.9h0M793.4 1050.7h0M1606.8 811.2h0M378.6 898.4h0M905.3 497.7h0M910 497.3h0M628.1 740.5h0M1370.1 779.5h0M595.6 1034.7h0M604.6 904.2h0M605.1 1039.9h0M812.9 948.7h0M620.3 1014.2h0M537.8 1005.2h0M382.1 900.8h0M712.7 1017.8h0M836 1095.4h0M1347.3 397h0M630.2 433.1h0M603 754.9h0M1043.7 498.4h0M678.4 738.2h0M1078.6 724.8h0M1111.7 809h0M1679.1 858.2h0M1112.1 806.4h0M594 830.8h0M917.5 520.5h0M705.7 738h0M523.2 949h0M589.8 981.6h0M644.4 992.1h0M1248.4 563.7h0M1054.8 822.9h0M832.1 964.9h0M604.9 907.5h0M1521 774.2h0M1223.1 516.5h0M571.1 971.9h0M596 1010.2h0M1667.8 895.2h0M1027.5 498.7h0M686.4 731h0M1640.1 778.4h0M604 950.7h0M1022.4 478h0M662 731.1h0M941 719h0M1624.4 680.4h0M998.8 675.7h0M1297.4 785.5h0M1116.6 288.1h0M1126.9 308.3h0M818.6 941.6h0M552.7 947.3h0M1128.2 258.8h0M599.1 460.2h0M1195.6 603.6h0M1497.9 739h0M1063 497.8h0M946.3 919.5h0M602.8 858.3h0M734.1 1020.4h0M1031.8 667.6h0M470.8 936.1h0M963.9 518.6h0M639.8 752h0M812.5 955.3h0M1534.5 851.2h0M661.4 731.5h0M825.6 943.1h0M720.7 1003.6h0M617.7 422.4h0M526.9 942.2h0M622.8 1008.4h0M1149.4 284.9h0M513.7 942.9h0M607 932.7h0M1652.7 756.7h0M579.6 490.9h0M1542.9 891.2h0M961 711.4h0M694 434.5h0M599.5 878.9h0M557.9 968.9h0M1276.7 612.6h0M601.3 1026.1h0M946.1 515.7h0M582.1 801.9h0M830.2 504.3h0M622.6 460.5h0M1315.9 783h0M706.9 728.4h0M1194.2 617.6h0M502.6 939.5h0M549.8 953.2h0M588.3 1040.7h0M965.1 1019.2h0M1265.6 623.6h0M970.1 705h0M890.2 1209.4h0M1133.3 559.1h0M1684.3 881.1h0M1103.2 742h0M843.1 500.5h0M728.1 1012.7h0M609.2 1012h0M993.1 672.9h0M622.6 748.1h0M1545.4 851.3h0M1151.2 526.6h0M612.2 757.8h0M1125.9 271.8h0M716.6 1025.8h0M513.3 944.2h0M1234.3 492.3h0M652.2 738.3h0M1646.2 934.5h0M1081.1 732.8h0M520 942.8h0M849.2 498.9h0M580.6 1046.3h0M1122.1 489.7h0M1194.3 789.5h0M674.8 1018.1h0M1395.7 759.7h0M628.8 995.8h0M1351.6 389.2h0M1016.5 667.7h0M1613 829.6h0M421.7 913h0M1242.9 756.7h0M1602.9 674.4h0M575.5 973.9h0M1583.8 886.9h0M1058.1 622.2h0M1061.9 633.7h0M1178.5 796.5h0M596.1 923h0M1636.6 922.3h0M1293.4 787.2h0M743.7 1038.7h0M1003.7 657.5h0M993.5 650.1h0M1101 271.9h0M624.7 752.8h0M598.7 408.1h0M602 1040.4h0M792.1 922.7h0M600.4 583.9h0M589 458.9h0M1726.7 850.5h0M638.2 566.1h0M1180.7 794.1h0M645.3 1022.8h0M1113.5 274.8h0M1082.2 808.2h0M1304.5 611.4h0M1503.2 753.3h0M1106.3 609.4h0M1182.2 561.2h0M1009.9 710.4h0M589.9 794.1h0M1126.3 537.8h0M562.7 1000.3h0M965.2 505h0M550.8 992.4h0M1493.8 945.8h0M602.7 1043.9h0M1030.3 519h0M1589.9 816.9h0M725.7 836h0M592.7 1036.8h0M825.9 247.5h0M1247 802.4h0M1603.1 658.2h0M1037.7 614.5h0M652.5 734.5h0M1206.9 557.7h0M1503.4 850.9h0M507.2 935.5h0M1580 903.5h0M1248.8 802.7h0M1528.7 900.5h0M1629.7 758.7h0M593.3 571.3h0M1075.4 635.4h0M546.9 956.9h0M1546.6 929.7h0M1552.1 908.7h0M1612.9 683.4h0M1567.9 684.4h0M1694.3 839.3h0M1253.6 610.5h0M594 856.5h0M602.9 918.1h0M1729.4 810.5h0M1111.9 280.7h0M594.6 985.9h0M552.1 959.3h0M899.5 505.1h0M1576.7 805.7h0M1042.4 502.1h0M593.8 825.8h0M1031.5 713.6h0M1237.4 638h0M1112.2 291h0M1635.2 853.6h0M504.4 934h0M1251.1 598.3h0M893 534.1h0M1112.6 539.8h0M709.3 726.8h0M625.1 565.9h0M663 569.9h0M1177.9 798.7h0M1515.1 833.4h0M990.7 675.6h0M647.2 415.5h0M585.5 978.5h0M778.8 884.3h0M964.5 1016.1h0M686.2 1002.7h0M515.5 941.9h0M867.6 515.5h0M667.7 1017.4h0M923.4 1067.2h0M515 941.1h0M1097.4 257.4h0M1158.1 526.9h0M1573 670.5h0M983.3 486.5h0M731.7 736.4h0M1189.6 792.2h0M1606.8 913.1h0M439.4 925h0M670.8 745h0M512.5 941.5h0M359.1 884.6h0M1236.6 284.8h0M1095.6 634.3h0M1102.7 539.5h0M954.5 927h0M604.2 898.9h0M614.5 952.2h0M623.2 447.3h0M1095.3 737.8h0M581.1 799.6h0M1186.8 544.4h0M1582.3 887.6h0M992.7 833.2h0M1621.1 758h0M806.1 934.5h0M534.2 975.1h0M630.9 404.8h0M1253.6 508.3h0M1678.2 857.2h0M1642 891.8h0M719.7 728.1h0M639.4 1024.9h0M997.9 843.9h0M546.1 1009.7h0M643 740.6h0M662.4 745.8h0M1077.9 479.6h0M1242.3 527.8h0M590.1 970.6h0M865.2 514.3h0M586 812.2h0M994.8 661h0M1040.4 929.1h0M836.5 1069.3h0M863.8 1030h0M1195.1 789.2h0M1157.9 791.8h0M578.5 792h0M351.7 882.8h0M583.3 568.6h0M637.4 1018.2h0M1527.4 795.8h0M655.8 428h0M1521 700h0M1002.8 510.5h0M1186.8 794.1h0M1117.7 476.6h0M624.3 404.9h0M602 765.1h0M603.6 767.3h0M1261.8 804.3h0M1096.3 588.4h0M616.9 947.9h0M1030.6 651.1h0M876.2 1073.5h0M1485.5 862.9h0M1295.6 642.7h0M1245 567.3h0M476.2 951.4h0M1019.4 650.4h0M1635.5 663.6h0M684.9 954.8h0M1302 725.9h0M600.8 1028h0M589.5 978.2h0M1094.3 798.1h0M622 762h0M709.5 1012.7h0M581.7 957.4h0M619.6 455.2h0M1161.3 569h0M532.7 949.6h0M1021.1 480.1h0M680.9 965.5h0M687.8 732.9h0M1012.2 830.2h0M1213.6 623.7h0M613.8 953.1h0M470.5 936h0M631.7 570.7h0M1035.1 527.9h0M1012 507.1h0M518.6 945.5h0M602.3 866.7h0M1631.6 751.5h0M625.1 995.4h0M1081 727.2h0M845.6 521.1h0M1136.9 267.9h0M1175.9 553.7h0M913.9 1021.7h0M1442.2 855.6h0M669.9 971.6h0M906 494.6h0M1230 637.2h0M1042.4 534.3h0M603.8 900.6h0M1203.2 484.1h0M1059.2 473.7h0M997.7 501.6h0M1562 830.4h0M627.3 1004h0M511.1 937.2h0M670.6 744h0M615.1 762.5h0M1640 777.6h0M1614.7 862h0M1146.1 509.8h0M585.6 1046.6h0M464.7 928.3h0M649.2 569.8h0M1185.4 792h0M1030.2 623.1h0M577.1 956.6h0M489.2 937.4h0M537 994.2h0M1122.3 269.8h0M629.6 993.6h0M1622.5 750h0M582 793.2h0M1522.4 806.7h0M952.5 675.5h0M647.7 752.4h0M823.6 241.5h0M1521.6 775.2h0M1455.1 698.1h0M1137.5 576.2h0M1576.8 665.8h0M985.2 1006.2h0M814.3 308.7h0M619.8 1029.9h0M1560.4 783.6h0M1454.3 806.6h0M715.4 1003.5h0M613.5 1003.5h0M587.9 832.2h0M520.9 947.8h0M1486.1 928.2h0M444.7 933.9h0M681.5 744.9h0M1007.1 518h0M951.3 475.6h0M758.6 1038.6h0M1136.2 577.1h0M857.1 516.5h0M603.1 919.5h0M1247 778.9h0M827.8 514.7h0M1101.4 623.1h0M592.1 853.2h0M1426.2 937.1h0M1709 873.6h0M550.5 1009h0M549.1 948.9h0M1101.4 609.2h0M1157.1 594.8h0M832.8 932.8h0M533.6 947.2h0M639 987.5h0M1034.6 656.4h0M889.2 494.1h0M603.3 895.1h0M827.4 509.3h0M1226.7 539.7h0M600.5 854.8h0M596.6 859h0M944.3 711.4h0M498.9 939.8h0M1340.7 400.5h0M1689.6 770.4h0M653.7 764.5h0M636.1 980.6h0M1121.9 301.5h0M1142.6 559.1h0M592.1 810.1h0M628.6 979.2h0M570.5 941.4h0M590.2 811.7h0M1477.6 887.4h0M1429.1 684.1h0M1103 478.5h0M623.8 987.7h0M737.5 1004.1h0M666.9 725.8h0M743.3 1036.7h0M611.6 757.3h0M1271.3 293.6h0M643.5 995.1h0M540.9 996.4h0M1339.4 817.3h0M985 687.2h0M1072.3 652.4h0M665.2 1018.2h0M606.2 750.5h0M637.4 733.6h0M637.2 429h0M594.6 857.1h0M635.5 742.8h0M749.8 833.4h0M743.5 1035.1h0M569.1 554.3h0M601 777.5h0M1170.3 567h0M1144 297.8h0M813.1 928h0M1152 795.4h0M1095.8 740.9h0M1104.8 807.2h0M1196.9 586.7h0M1524.3 747.6h0M1204.9 781h0M1391.6 769.6h0M1311.8 283.9h0M1542.1 949.8h0M512.3 933.1h0M762.2 1043.8h0M828.9 1057.4h0M1062.1 626.1h0M1092.3 265.5h0M1130.4 573.9h0M1072.7 811.2h0M365 891h0M1614.7 777.2h0M996.9 678.6h0M1514.9 931.5h0M887.3 506.5h0M604.6 412.9h0M1194.6 789.6h0M613.2 1023h0M1150.3 498.9h0M1089.5 812.5h0M1624.4 928.9h0M532.4 949.4h0M526.1 942.5h0M1197.8 788h0M654.6 425.9h0M823.4 920.6h0M631.2 573.2h0M1021.2 837.6h0M1033.5 493.2h0M746.1 1037.1h0M1151.2 578.6h0M534.5 1006.6h0M629.7 987.5h0M621.9 758.8h0M974.8 493.7h0M688.6 735.9h0M1458.3 784.2h0M1005.3 707.2h0M1217.4 515.2h0M847.9 281.9h0M1231.2 575.3h0M1521.4 694.8h0M1122.6 263h0M938.7 1018h0M1669.8 882h0M1025.3 1065.9h0M1397.6 888.4h0M611.4 930.9h0M579.6 786.6h0M726.3 735.5h0M1017.9 500.9h0M1074.1 733.5h0M1613.9 913.2h0M1176.4 633.4h0M832.8 931.6h0M739.7 1024.2h0M904.9 522h0M827.8 933.2h0M1152.2 493.8h0M1583 935.8h0M570.2 976.1h0M741.7 1021.9h0M782.8 970.1h0M1380.7 833.7h0M953.8 933.2h0M1108.1 567.7h0M589.2 786.1h0M1007.4 511h0M613.2 1017.2h0M709.7 1017.7h0M1695.1 813.7h0M654.7 569.1h0M617.9 1020.7h0M643.6 733.8h0M676.1 728.3h0M795.4 1077h0M1114.2 810.3h0M623 433.9h0M761.7 856.6h0M1230.2 601.1h0M1644.9 774.1h0M1020.1 603.6h0M895.5 517.8h0M562.7 956.1h0M829.7 932.9h0M586.3 803.9h0M618.6 998.2h0M974 524.1h0M685.5 1005.8h0M1575.3 841h0M1384.5 404.7h0M629.9 979h0M1062.2 478.5h0M888.1 533.2h0M810.4 936.1h0M681.4 710.8h0M849.4 286.8h0M1245 776.2h0M594.8 971.9h0M773.4 1015h0M824.1 243.3h0M623.8 732.9h0M820.6 947.3h0M547.2 957.1h0M1032.5 655.4h0M1483.4 749.9h0M991.7 1066.5h0M606.1 1034.6h0M666.6 1012.1h0M676.1 435h0M609.1 588.8h0M1671.1 799.1h0M729.6 1038.3h0M633.6 425.8h0M1311.9 282.9h0M601.8 879.9h0M627.5 997.8h0M1546.8 902.3h0M1192.9 789.8h0M1719.8 825.9h0M493.5 933.1h0M1038 632.7h0M1281.1 597.3h0M939.4 489.9h0M663 728.6h0M1173.3 574.5h0M1722.6 832.9h0M640.2 449.9h0M1670.7 531.9h0M634.6 759.1h0M1099.6 822.6h0M1073.3 478.8h0M601.1 768.1h0M605 764.3h0M688.4 730.3h0M1421.4 859h0M682 1013.9h0M998.3 645h0M991.9 699.2h0M623.3 1003.8h0M1464.6 737.9h0M690.6 950h0M604.1 773.5h0M1203.7 636.4h0M621.8 425.4h0M613.6 447.9h0M819.7 924.7h0M1003.6 477.8h0M693.5 718.1h0M1367.7 683.6h0M674.7 713.9h0M608.4 1025.6h0M482.2 934.1h0M832.4 926h0M1098.8 265h0M596.3 987.4h0M1489.9 866h0M640.2 1021.6h0M457.1 930.6h0M666.2 744.8h0M1290.9 606.5h0M1510.1 822.7h0M1066.5 707.3h0M599.9 972.3h0M643.6 984.7h0"/>
<path stroke="#fc8c63" d="M1169 629.6h0M704.4 1003.4h0M1090.7 272.8h0M613.8 462.9h0M820 239.1h0M658.9 987.6h0M1123.9 589.4h0M1116.8 805.7h0M1547.3 772.8h0M880.7 1154.5h0M1179.7 562.5h0M1481.4 752.9h0M1344.3 395.1h0M1131.4 266.6h0M1080.7 803.7h0M655 722.4h0M1187 509h0M1079.3 819.1h0M1117.4 588.5h0M1107.5 280.7h0M1234.2 585.3h0M1022 720.2h0M604.7 892.4h0M1004 481h0M1307.2 649.6h0M1694.8 900.6h0M815.1 918.1h0M1682.6 904.9h0M1304.5 585.2h0M858.8 1045.6h0M1029.8 621.9h0M1095.8 809.3h0M1104.7 810.8h0M598.2 754.1h0M810.5 1089.9h0M852.1 1034.7h0M997 1066.9h0M1017.9 677.1h0M1455.5 730.5h0M620 462.7h0M1167.6 478.1h0M1126.9 279.9h0M1669 834.1h0M1100.8 822.2h0M535.9 1009.8h0M748.3 1012.1h0M1249.1 773.3h0M1254 549.3h0M1462.8 709.3h0M1118.2 549.2h0M1133.1 549.6h0M682.8 742h0M869 493.8h0M1546.5 830.6h0M1550.7 917h0M1327.9 645.5h0M1661.3 813.6h0M959.5 693.6h0M1620.5 932.4h0M1159.3 797h0M648.9 754.8h0M1218.7 481.8h0M863.9 517.1h0M1631.3 941.6h0M1474.4 819.7h0M890.5 506.4h0M1386.1 394.2h0M852.6 500.4h0M613.4 583.5h0M1092.6 811.5h0M1223.1 589.8h0M1214.3 800.4h0M1354.4 822.8h0M1517.2 873h0M1043.7 659.5h0M582.5 967.6h0M612.4 1013.5h0M1100.8 813.4h0M661.3 993.8h0M1455.7 930.8h0M813.2 944.4h0M613 564.2h0M795 1080.9h0M1235.7 530.8h0M996.8 669.5h0M558 1014.2h0M558.8 965h0M696.7 1003.3h0M977.1 492.3h0M1572.6 844.2h0M1525.9 859.6h0M1322.2 331.5h0M823.4 941h0M1052.4 807.4h0M1290 783.4h0M1138.8 605.2h0M911.5 1025.8h0M1407.4 757.6h0M1536.1 762.3h0M671.8 745.2h0M675.6 429.2h0M619.3 930h0M1133.2 553h0M989.7 718.4h0M1683.7 778.4h0M1059.8 657.7h0M1735.5 862.5h0M978.1 1007.9h0M571.1 555.6h0M1195.1 588h0M1103.1 806.5h0M1256.6 593.4h0M1371.4 791h0M546.4 1012.2h0M1344.6 689.5h0M654.4 1007.7h0M1005.5 495.1h0M1042.1 663.2h0M1213.7 595.2h0M505.7 938.1h0M1569.8 877.5h0M845.6 288.9h0M1172.1 569.6h0M1144.2 282h0M1222.4 772.1h0M1650.6 805.7h0M702.7 1019.3h0M553.9 999.4h0M1022.4 649.4h0M1554.5 828.2h0M473 935.9h0M1610.7 881.2h0M1104 541.1h0M1471.7 927.5h0M1079.9 825.2h0M1662.3 862.7h0M1561.9 856.1h0M1305.1 666h0M765.7 1029.3h0M766.4 1042.7h0M1679.8 770.7h0M1079.3 477.7h0M826.9 241.3h0M1424.8 893.5h0M1444.2 881h0M1618.4 667.9h0M1492.1 764.6h0M988 686h0M1608 806.4h0M546.5 950.1h0M1087.5 269.9h0M1140.5 281.5h0M825.3 1079.7h0M1525.1 797.4h0M509.1 933.7h0M1547 880.1h0M1194.6 622.6h0M1058.5 649.7h0M1107.9 281.4h0M941.6 486.1h0M555.2 1005.6h0M1166.9 516.7h0M671.4 994.6h0M877.7 1203h0M1028.3 687.7h0M602.3 981.9h0M1107 262h0M1269 753.1h0M1221.9 603.6h0M1469.5 913.4h0M1574.9 780h0M622.8 764.4h0M990.3 503.6h0M605.2 1033.9h0M1152 552.1h0M948.5 497.1h0M1232 799.8h0M1511.3 764.3h0M804.2 982.7h0M1184.7 585.1h0M1582.6 813.5h0M852.1 1086.4h0M599.4 1045.6h0M1203.2 785.2h0M1145.6 621.4h0M835.4 926.9h0M1269.5 586.4h0M864 501.5h0M343.5 878.5h0M758.5 1011h0M1655.2 784.3h0M1091.4 561.9h0M508.9 947.1h0M1212.7 483.5h0M1592.8 752.4h0M641.7 444.6h0M1626.7 859.2h0M1092.2 262.4h0M1156.5 575.6h0M1694.7 786.6h0M912.6 1088.1h0M1002.4 618.9h0M1005.7 673.6h0M1461.8 913.5h0M614.7 449.7h0M1340.2 637h0M1550 954.6h0M797.1 1059.2h0M1049.7 663.9h0M1153.3 512.9h0M1072.2 719.2h0M1003.8 615.2h0M1377.1 938.3h0M1030.1 825h0M1579.1 814.1h0M595.7 848.3h0M370.7 891.7h0M1065.2 489.1h0M1644.1 866.4h0M1541.4 902.3h0M1016.4 502.5h0M642.2 1022.4h0M1104.9 817.6h0M502.4 959.8h0M1492.7 865.9h0M673 1021.8h0M1027.1 513.5h0M1611 681.5h0M746.1 1008.7h0M675.4 739.6h0M1064.3 641.4h0M962.4 694.1h0M674.4 753.8h0M1497.8 736.5h0M1211.6 799.9h0M1095.3 737.9h0M1110.5 807.6h0M946 523.3h0M838.5 1049h0M1238.5 799.8h0M1038.2 633.1h0M765 865.4h0M1377.9 786.7h0M1254.6 527.4h0M636.6 977h0M1480.8 745.7h0M1483.2 933.5h0M811.9 964.2h0M641.3 573.8h0M879 1205.9h0M1106 262.4h0M747.5 836.9h0M1666.4 866.9h0M1460.5 914.3h0M616.6 420h0M910.2 484h0M534.4 1003h0M1122.6 489.8h0M621.6 465h0M1471.3 889.7h0M709.5 755.7h0M937.2 1077.5h0M1111.3 546.8h0M1462.6 871.7h0M1568.7 864.6h0M1144.4 494.6h0M1234.1 554.6h0M540.8 993.4h0M1168.1 795.1h0M602.9 1038.7h0M1214.1 796.4h0M636.1 593.1h0M894.7 1087.7h0M644.1 984.5h0M745.2 854.5h0M1701.2 895.4h0M1601.6 853.6h0M940.5 694.9h0M1442.2 882.4h0M1685 914.9h0M566.3 583.2h0M1013.4 479.4h0M596.3 996.2h0M914.1 1086.6h0M1614.8 655.9h0M1052.5 627h0M628.6 982.2h0M1175.6 576.5h0M1379.8 940.2h0M481 958.6h0M545.8 1010.9h0M1470.4 695.1h0M1655.4 798.7h0M703.6 436.2h0M1143.4 580.8h0M1531.5 831.7h0M590.1 796.5h0M1110 808.2h0M1089.2 566.2h0M896.3 999.6h0M1377.7 806.7h0M942.2 932h0M376.5 893.4h0M1211.6 504.7h0M1497.2 877.6h0M1084.7 737h0M1163.8 582.4h0M1463 716.3h0M591.1 813.9h0M699.4 996.1h0M343.5 876.7h0M580.4 969.8h0M789.8 1021.7h0M1133.8 572.2h0M1616.9 795.9h0M680 1028.6h0M1395.9 877.5h0M1645.4 884h0M607.8 912.1h0M1096.6 253.5h0M1239.2 801.6h0M566.9 1025.7h0M1535.5 896.3h0M1612.6 650.8h0M1091.4 512.5h0M1213.4 606h0M1131.9 508.4h0M673.6 1021.4h0M564.7 1000.3h0M1219.6 561h0M1122.1 516h0M1140 617.4h0M638.8 571h0M1708 876.7h0M903.2 488.2h0M1460 739.6h0M554.4 1017.7h0M902.3 493.6h0M1676 761.8h0M1058.7 502.6h0M1114 806.2h0M669.6 1010.7h0M1460.4 834.8h0M1045 618.3h0M1193.1 787.8h0M1431.9 878.4h0M653 1018.8h0M1694.4 828.9h0M971.5 487h0M1270.8 574.7h0M1240 526.1h0M1466.4 734.6h0M1567 800.5h0M591.1 569.9h0M677.9 736.9h0M605.9 865.3h0M1175.7 793.5h0M1020.3 657h0M841.9 518.6h0M1239.5 775.9h0M1145.8 483.6h0M1069.2 489.6h0M1456.9 869.4h0M680.4 719.3h0M836.7 508.3h0M756.8 1021.1h0M490.5 937.6h0M586.7 555.9h0M953.6 495.7h0M676.9 725.6h0M1258.2 607.8h0M721.1 1016.4h0M1205.5 605.7h0M1034.4 523.8h0M624.2 1012.9h0M554 949.2h0M600.5 908.7h0M1454.2 863.8h0M510.8 940.2h0M890.6 484.7h0M667 573.6h0M1647.1 826.7h0M578.4 982.3h0M538.7 953.2h0M1141.2 288.5h0M1021.7 626.1h0M1520.2 863.3h0M1596.6 866h0M1498.2 866.5h0M1513.8 874.8h0M685.2 724.2h0M764.5 1016.1h0M1223.5 799.5h0M1009.5 683.8h0M1505.7 893h0M558.8 963.6h0M381 900.4h0M697.9 721.2h0M606.9 892h0M614 1026.5h0M1363.8 399.4h0M1098.4 272h0M1107.5 808.1h0M1055 585.7h0M1348.5 669.4h0M1692.3 827h0M1152.7 487.4h0M627.1 459h0M1101.2 565.9h0M1004.9 614.1h0M1243.8 630.8h0M975.8 1012.2h0M1183.9 587.8h0M1250.7 556.8h0M1492.3 882h0M1125.3 520.3h0M1109.1 603.9h0M1020.9 566.3h0M477.9 933.8h0M679.4 442.6h0M946.6 476.7h0M853.2 509h0M542.1 951.5h0M804.1 1081h0M1578.9 915.9h0M1091 758.3h0M881.4 1193.6h0M1444.4 815.8h0M1163.5 488.8h0M1600.8 875.4h0M361.1 889.2h0M513.2 944h0M1304.6 673.8h0M1151.1 289.5h0M1314.3 759.3h0M1130.6 266.1h0M1668.7 894h0M621.8 996.8h0M1602.4 674h0M1489.5 829.7h0M1541 819.1h0M1672.8 801h0M1722 800.7h0M536.6 1010.1h0M690.1 954.1h0M1674.4 770h0M832.6 946.3h0M814.2 931.5h0M613 1015.6h0M1069.8 906h0M536.7 955.3h0M624.3 991.5h0M978.9 487.4h0M612.1 588.4h0M1101.8 738.1h0M1032.7 721.1h0M1516.1 797.3h0M631.3 1022.8h0M1320.4 393.7h0M1078 820.6h0M1492.3 915.5h0M1565.5 940.4h0M1463.8 697.7h0M544.3 976.8h0M683.3 715.7h0M1345.3 682.7h0M1609.2 822.8h0M1170.8 563.9h0M551.4 1013.9h0M595.8 1035.1h0M607.5 1011.4h0M688.6 730.9h0M624.3 434.4h0M1134.5 510.7h0M1638.8 817.1h0M1225.2 802.2h0M484.3 936.7h0M1221.7 534.5h0M1088.7 259.4h0M1590.8 782.4h0M1502.9 869.6h0M594.9 766.9h0M1247.3 777.4h0M1224.8 779.3h0M1544.6 813.1h0M833.9 925.1h0M1267.4 629.6h0M1130.9 303.9h0M668.3 729.9h0M1558.1 895.3h0M1253.1 611.1h0M1190.2 620.6h0M1632.6 892.4h0M530.5 1011.7h0M1611.3 793.3h0M1724.8 813.3h0M647.8 977.7h0M906.9 1075.2h0M1127.6 282.2h0M946.5 490.7h0M1004 614.1h0M1032.9 489.9h0M1661.1 868.5h0M1553.7 800.2h0M1442 872.6h0M894 1032h0M380.7 898.7h0M1181.6 612.3h0M1101.9 762.1h0M835.7 276.1h0M817.2 937.9h0M1165.5 578h0M709.2 942.1h0M1135.7 496h0M1113.4 282.1h0M1563.9 803.4h0M1059.8 736.3h0M1603.2 812.2h0M809.7 933.8h0M651.6 1017.8h0M1438.4 805.5h0M1554.2 854.3h0M1519 740.1h0M694.3 722.9h0M906.2 953.8h0M549.5 961.6h0M1018.9 491.2h0M1720 792.1h0M1095 272h0M1513.7 877.3h0M582.1 966.3h0M331.9 871h0M1598.5 859.4h0M579.2 577.4h0M1551.8 801.7h0M1682.5 805.3h0M1072.4 816.6h0M1217.7 573h0M1266.6 797.8h0M551.9 997.8h0M1489.8 849.2h0M894.7 509.1h0M1156.7 797.5h0M1003.2 651.1h0M1618.8 908.5h0M1615.4 776.1h0M808.2 1088.6h0M1183.8 606h0M1222.1 586h0M1256.1 799.6h0M1493.3 881.5h0M1420.3 752.5h0M1695.9 818.6h0M683.3 738.1h0M592.1 785.5h0M621.4 1001.5h0M1595.4 808.9h0M736.6 1039.4h0M587.5 813.8h0M1120.3 252.9h0M1408.6 815.8h0M961.3 679.3h0M914.7 486h0M549.4 1014.8h0M808.8 1063.9h0M1451.1 829.1h0M879.6 509.8h0M679.3 724.7h0M1655.5 900.4h0M1427.6 904h0M1437.8 779.7h0M1140.6 289.3h0M668.4 972.9h0M1319.9 647.4h0M760.5 839h0M1340.7 817.8h0M1192.1 563.7h0M1132.1 803.3h0M660.1 744.3h0M1606.5 944.9h0M731.5 1025h0M698.9 730.8h0M1081.5 737.4h0M1536.1 829.8h0M1054.4 484.7h0M1399.7 805.9h0M1459.5 840h0M684.2 742.3h0M959.5 668.9h0M781.7 1075h0M601.2 406.6h0M1205.9 534.1h0M587 961.6h0M1673 837.3h0M1098.6 820.7h0M1637.3 772.7h0M1108.6 818.5h0M1206.3 560.1h0M1519.5 944.8h0M1382 394.3h0M1268.5 527.5h0M546.4 953.8h0M1042.5 502.2h0M1623.6 899.3h0M651.7 596.4h0M1108.2 805.3h0M1091.9 811.8h0M1634 923.9h0M1652.6 806.3h0M495.3 943h0M1171.5 568.7h0M1604 810.8h0M1575.8 953h0M578.7 556h0M1428.6 872.2h0M541.3 991.3h0M1277.7 581.4h0M772 863.7h0M493.6 932.8h0M838.6 509.6h0M598.2 858.4h0M889.9 508.9h0M433.6 927h0M527.3 950.4h0M980.1 495.2h0M1517.1 787.3h0M842.2 520.9h0M1297.4 639.1h0M1057.6 618.7h0M1007.5 481h0M1189.1 577h0M1578.4 895.2h0M435.6 922h0M1155.5 270.7h0M1089.2 563.1h0M1661.8 916.4h0M1449.5 877.5h0M1304.6 675.7h0M622.9 993h0M1470.3 895.6h0M1467.1 910.5h0M336.4 873.8h0M1027.8 488.4h0M1729.8 872h0M1074.9 821.9h0M1566.2 934.7h0M685.9 735.2h0M533.2 950.6h0M1199.8 560.2h0M606.7 398h0M1177.5 797.1h0M452.7 931.7h0M1109.4 268.6h0M721.9 1021.1h0M1111.3 807.5h0M1401.9 888h0M1531.1 861.7h0M1433.2 731.8h0M690.9 710.8h0M868.8 1039.3h0M878.1 1196.5h0M717.6 732.8h0M591.8 970.8h0M1001.6 621h0M1239.5 491.8h0M1515.2 777.9h0M620.3 437.1h0M1419.8 717.7h0M1613.9 774.7h0M828.5 979.8h0M581.5 1054.3h0M1541.2 880.8h0M1192.5 544.5h0M540.2 948.8h0M1393.8 883.4h0M525.4 941.1h0M1683.7 853h0M878.5 1183.2h0M1710.6 871.9h0M717.8 1007.1h0M1126.4 277.9h0M863 1012.8h0M628.6 417.9h0M1577.7 932.1h0M1064 658.8h0M682.4 714.5h0M798.1 1080.1h0M1056 736.1h0M650.1 984.6h0M1254.4 545.1h0M396.6 905.4h0M1680.5 818.9h0M1384.4 397.8h0M586.1 972.5h0M564.2 997.7h0M1604.6 770.7h0M663.9 995.7h0M1654 786.6h0M690 756.7h0M692 709.2h0M812.8 1089.8h0M1257.9 510.9h0M1603.7 850.6h0M1714.3 843.6h0M634.8 990h0M1010.4 490.7h0M1002.1 1066.7h0M599.3 841.3h0M605.9 583.3h0M1689.6 802.7h0M1464.5 734.6h0M526.7 946.5h0M1687.7 776.2h0M497 941.9h0M1036.6 526.8h0M1436.4 778.9h0M850.1 518.9h0M963.4 473.8h0M1508 818.5h0M987.1 490.3h0M1215.5 482.3h0M819 932h0M808.8 1037.2h0M952.9 695.7h0M1105.1 808.2h0M995.5 670.4h0M1147.2 526h0M1511.7 856.6h0M686.5 1033.7h0M1416.6 863.5h0M1092.1 824.2h0M750.9 1043.9h0M536.1 1006.6h0M1157.8 488.2h0M1321.6 659.3h0M601.6 907.7h0M1697.5 901.9h0M483.2 931.5h0M1685.4 839.5h0M1132.3 479.4h0M1104.1 288.2h0M673.9 753.4h0M1381.6 675.9h0M1121.7 520.2h0M649.9 755.2h0M432.7 922.8h0M1045.1 534.9h0M1445.2 840.7h0M604.3 1034.7h0M1476 846.1h0M1109.5 786.4h0M671.8 991.9h0M533.8 994.4h0M914.1 486.4h0M1116.9 540.1h0M1296.8 659.7h0M1179 546.2h0M515.2 938.7h0M1563.4 849.3h0M1337.3 626.1h0M1243.5 803.5h0M643.5 576.1h0M1606.1 769h0M1187.7 515.3h0M1619.3 689.5h0M1553.1 769.2h0M512.6 940.5h0M1579.5 809h0M896.6 1031.1h0M1316.2 815.3h0M1402.9 838.7h0M755.8 1038.3h0M1185.8 789.6h0M1512.9 843.3h0M757.7 1043.8h0M601.7 871.6h0M1724.1 787.8h0M1131.4 804.5h0M660.6 1019.1h0M832.6 1062.2h0M1567.3 746h0M891.4 484.9h0M1405.1 749.2h0M605.2 775.2h0M987.5 703.6h0M1031.5 698.5h0M1576.6 877.5h0M906 965.2h0M1586.7 899.7h0M1088.7 496.5h0M1343.7 397.6h0M406.5 912.5h0M1116.1 288.4h0M1149.6 502.6h0M1118.2 484.2h0M751.6 1030.2h0M561.3 571.7h0M672.7 574.4h0M1175.3 270.8h0M1211.9 593.6h0M1644.9 870.6h0M1177.4 795.9h0M1224.6 492.8h0M1406.8 885.1h0M1051.4 500.5h0M583.8 583.9h0M1478.5 752.3h0M1683.7 872.6h0M1498.7 862.5h0M1069.2 481.8h0M756.8 1052.6h0M906 953.8h0M1238.7 530.7h0M1485.8 892.5h0M812.1 937.6h0M755.7 1041.4h0M654.2 744.3h0M819.2 232.7h0M1109.8 786.4h0M1210.1 529.5h0M557.4 968.4h0M1018.9 685.5h0M1637 933h0M1534.3 802.2h0M568.4 970.7h0M693.8 1030.2h0M1177.9 518.3h0M1688 846.3h0M1296.7 659.4h0M1047.9 634.4h0M1089.9 628.2h0M1084.8 814.5h0M1027.8 644.6h0M843 294.1h0M944 720.8h0M1504.7 831h0M678.9 731.3h0M1719.6 863h0M1531.7 861.6h0M1435.8 851.2h0M557 1001.1h0M1428.8 709.2h0M711.6 1016.3h0M1498.3 782.8h0M424.6 914.5h0M1658.5 784.7h0M1070.9 550.9h0M1113.3 304.8h0M1668.6 897.5h0M1263.7 621.1h0M1641.4 827.8h0M1305.9 675.3h0M1665.3 893.3h0M1685.4 840.6h0M1494 819.6h0M1728.6 852.1h0M736.5 1006.9h0M1247.5 546.8h0M1153.5 581.9h0M481.2 935h0M1512.7 909.8h0M467.5 933.5h0M1653.6 826.8h0M1031.1 494.3h0M1069.8 641.2h0M1151.6 267.2h0M1581.4 835h0M1110.8 280.3h0M1555.3 821.7h0M1668.5 896.8h0M341 876.7h0M1183.1 548.6h0M1089.9 817.6h0M1240.8 549.8h0M1474.3 938h0M771.3 1071.4h0M736.3 1038.4h0M1687.6 804.1h0M1313.1 283.3h0M495.1 933.4h0M811.1 1006.8h0M1416.2 873.2h0M592.6 825.6h0M1584.4 886.4h0M1026.7 513.2h0M1153 581.8h0M1309.1 777.5h0M973.8 516.2h0M1060.5 502.8h0M1077.2 505.5h0M722.6 1030h0M1096.7 801h0M1491 738.4h0M927 544.9h0M1658.3 842h0M1622.8 652.4h0M1218.1 510.5h0M1141.6 545.4h0M1127.8 290.6h0M1081.3 638.4h0M1163.2 569.2h0M747.9 945.5h0M1699.3 875.3h0M582.9 791.8h0M619.3 1004.8h0M1332.8 946.5h0M1009.5 475.9h0M1115.8 805.9h0M993.5 927.5h0M587 561.9h0M922.3 1023h0M582.1 772.6h0M1183.5 566.2h0M1405.3 781.5h0M1139 599.5h0M1274.9 770.1h0M663 737.2h0M1687.7 798h0M1105.6 508.2h0M1187.2 583.9h0M1144.9 572.7h0M628.8 989.5h0M652 581.6h0M1695.7 890.6h0M1228.1 610h0M1622.3 845.4h0M1473.1 852.6h0M1618.5 780h0M357.4 886.2h0M549.6 955.8h0M523.2 938.1h0M1226.3 801.9h0M1070.6 738.1h0M422.7 915.6h0M1336.2 785.4h0M1023.7 562.2h0M1219 548.1h0M1492.8 799.8h0M686.5 746.3h0M1126.4 482.4h0M824.8 242.8h0M1033.4 703.4h0M1297 293h0M617.6 982.4h0M1203.9 801.6h0M892.7 508h0M1612.8 868.6h0M647.3 426.1h0M1041.8 571.5h0M1345.2 361.1h0M1587 886.4h0M1321.7 814.3h0M1463.9 751h0M1299.7 611.9h0M1707.7 801.3h0M1642.2 753.5h0M1010 645.3h0M1694.2 816h0M1030 498.5h0M1630.6 677h0M1013.9 617.9h0M1072.2 510.7h0M1318.6 813.2h0M554.1 960.7h0M592.4 1043.6h0M961.9 694.1h0M571.3 564.4h0M1003.2 671.4h0M1200.1 787h0M658.3 984.7h0M1575.4 776.5h0M557.1 965.5h0M1603.5 793.5h0M549.7 945.5h0M1237.1 798.7h0M1209.5 801.9h0M640.3 572.3h0M1551.2 880.6h0M1526.8 939h0M1544.6 825.1h0M528 1002.8h0M1582.5 825.9h0M1615.9 842.8h0M1609.2 940.5h0M1533.7 898.6h0M668 1029.1h0M1637.2 833h0M1339.5 675.7h0M1235.2 579.4h0M1256.6 771.1h0M1621 659h0M1604.2 672.3h0M1026.8 638.6h0M1522 957.8h0M829.3 952.6h0M1627.2 829.3h0M552.8 1005.3h0M453.5 929.9h0M873.9 1170.9h0M542.2 941.4h0M1144.5 265.1h0M496.1 934.4h0M1458.3 924.2h0M1343.2 946.8h0M1156.3 794.8h0M1484.6 792.6h0M647.9 723.9h0M953.2 1014.5h0M1090.3 647.9h0M911.4 512.3h0M1090.5 513.1h0M988.3 766.2h0M839.1 1039.9h0M1597 833.6h0M1304.6 289.3h0M786.1 1028.4h0M683.3 726.9h0M1264.6 640h0M1345.3 399.4h0M1469 785h0M1623.8 926.3h0M1723.3 876.8h0M848.3 520.2h0M1479.6 894.3h0M865.7 529.9h0M1524.4 810h0M940.3 497.9h0M530.5 940h0M1100.9 560.2h0M630.5 593.1h0M661.7 733.4h0M1642.8 806.4h0M649.7 598.6h0M1247.6 500.8h0M649.4 584.6h0M1062.9 515h0M1626.3 823.7h0M937.4 491.5h0M889.5 1206.2h0M1603.9 685.2h0M1159.5 479h0M1306.3 287.4h0M606.2 873.5h0M1006.4 505.1h0M1430.1 880.2h0M1600.5 829.9h0M1176.4 796.2h0M601.2 565.5h0M540.1 1011.8h0M996.2 485.8h0M1096.4 634.7h0M913.1 946.7h0M1012.2 835.2h0M629.6 990h0M1527.4 927.5h0M1116.7 807.8h0M552.9 946.8h0M1560.4 866.6h0M1511.6 919.6h0M1654.7 855.5h0M1060.6 652.1h0M1261 801.3h0M500.2 943.8h0M1047.9 539.9h0M954 1082.3h0M1622 852h0M1628.9 853.7h0M690.8 737.7h0M1660.6 784.7h0M451 930.1h0M682.5 720.3h0M755.6 848.4h0M1506.1 938h0M421.3 914h0M1620.3 873.5h0M840.5 965h0M927.3 499.7h0M1263.3 573.9h0M1678.2 854.3h0M1719.6 826.7h0M667.7 422.2h0M1620.2 815.2h0M1200.4 513.1h0M943.4 480.1h0M1243.7 529.4h0M1548.8 900.3h0M1108.4 279.2h0M618.8 1019.5h0M1382.6 396.9h0M1641.8 876.4h0M1561.6 897.8h0M827.3 514.8h0M1186 547h0M1592.5 917.2h0M1474.5 913.9h0M1182.5 496.8h0M1225.8 774.7h0M1075.4 811.1h0M596.8 564.6h0M1015.4 562.7h0M513.7 933.7h0M659.4 417.5h0M493.4 941.6h0M489.6 933.1h0M662.6 583.4h0M670.8 439.9h0M602.4 1038.4h0M1489.7 865.1h0M1504.6 891.1h0M1500.3 919.7h0M874.3 504.8h0M999.3 679.3h0M1588.9 787.2h0M1273.8 755.5h0M534.7 947.1h0M1231 519.1h0M1109.7 288.7h0M1474.5 739.4h0M661.6 732.1h0M662 426.3h0M610.1 983.3h0M613.2 570.6h0M1060.7 490.3h0M636.1 437.9h0M514 933.5h0M1677.9 872.5h0M492.7 939.6h0M1130.6 478.5h0M1231.3 529.1h0M1559.6 795.1h0M827.1 1028.9h0M549.7 963.8h0M1099.1 801h0M541.7 946.1h0M1426.9 713.7h0M1653 883.1h0M1564 859.4h0M1074.3 807.7h0M514.5 935.4h0M906.2 965h0M1634.6 884.3h0M1721.8 865.1h0M907.7 1062.3h0M555.3 1010.4h0M890.3 1195.4h0M1572.1 935.5h0M1582.6 769.1h0M1206.6 798.7h0M1108.9 587.1h0M1131.8 570.3h0M849.4 505.6h0M678.6 1029.8h0M1149.3 523.1h0M738.8 1010.3h0M1610.8 829.4h0M1241.3 579.1h0M808.7 1044.8h0M696.7 713.2h0M829.9 945.7h0M802.6 932.8h0M721.2 1025.4h0M942.7 501.2h0M693 998.9h0M1504.9 747.3h0M1110.5 258.7h0M1635.1 875.6h0M899.7 524.6h0M1385.8 761.9h0M1093.9 483.5h0M1685.7 831.3h0M642.7 415.8h0M1021.9 478.2h0M1510.8 921.7h0M1656.5 786.9h0M1145.6 270.1h0M1296.3 293.6h0M609.8 956.2h0M588.4 409.4h0M1588.1 766h0M760.6 1009.7h0M504.9 940.9h0M886.4 506.7h0M688.1 1020.7h0M647.5 423.8h0M1120.7 527.5h0M1690 829.8h0M1032.4 706.7h0M823.3 251.5h0M1261.5 568.5h0M1305.3 286.4h0M617.6 583h0M1608.7 886.6h0M734.8 944.3h0M702.2 1002h0M1628.9 684.1h0M1627 682.6h0M1717 810.9h0M535.4 976.4h0M1019.3 600.2h0M1694 776.5h0M767 843.1h0M912.1 946.7h0M658.5 1002.3h0M1599.7 680.2h0M534.2 1001.5h0M1378.3 398.6h0M697.5 1019.6h0M954.6 670.2h0M1183.2 603h0M1233.2 800.3h0M1127.9 285.3h0M1733.8 837.2h0M500.8 936.9h0M1706.3 842.8h0M1562.8 889.3h0M769.8 1039.9h0M1291.6 578.9h0M714.5 974.8h0M654.2 721.8h0M1103.7 279h0M751.2 1048.7h0M1625.9 795.4h0M1488.1 827.7h0M1106 293.6h0M1616.5 850.6h0M1534.4 833.8h0M354.9 882.7h0M1209 493.8h0M665.7 743.6h0M744.1 1009.9h0M694.3 1025.8h0M1596.4 848h0M731.9 736.8h0M1003 674.3h0M885.7 1082.2h0M1607.8 676.5h0M1068.6 530.3h0M791.5 1039.4h0M1547.9 781.2h0M1253.4 610.9h0M1214.8 506.3h0M1392 835.9h0M1303.7 677.4h0M1563.8 857.3h0M667.2 727.3h0M951.7 479.7h0M1443 924.3h0M1489 812.2h0M889.9 1103.5h0M1343.1 780.5h0M1017 495.9h0M1093 509.6h0M1236.1 618.2h0M1109.3 274.5h0M621.6 456.6h0M1064.7 526.3h0M826.8 505.1h0M633.4 1017.4h0M1143.3 277.4h0M1007.7 492.8h0M1172.4 582.5h0M1155 799.4h0M984.1 482.9h0M613.7 413.7h0M1444.7 780.6h0M1098.3 470.9h0M1613 932.7h0M546.7 954.3h0M1300.3 602.5h0M1299.4 652.4h0M691.5 716.9h0M950.3 537h0M902.3 482.8h0M755.6 1034.9h0M1633.1 776.8h0M1470.2 828.9h0M1544.2 944.3h0M837.6 287.6h0M1573.3 780.4h0M1442.6 902.5h0M1673.2 853.7h0M1261.6 773.7h0M1038 499.6h0M1079.6 631h0M785.3 1075.8h0M857.7 503.8h0M1471.5 892.9h0M911.8 494.8h0M617.4 414h0M1585.9 781.8h0M1474.9 862.3h0M1312.8 324.5h0M1263.7 559.4h0M1061.9 735.6h0M1320.5 613.4h0M991.7 497.9h0M1078.9 811h0M525.8 938.1h0M1558.3 855.7h0M1521.7 781.8h0M946.4 676.6h0M1513.3 911.4h0M1563.3 759.4h0M1441.5 872h0M1106.3 820.3h0M1509.9 820.7h0M600.7 1036h0M1519.3 727.8h0M978.3 487.4h0M1331.1 657h0M756.7 1021.1h0M549.5 962.1h0M1020.9 625.2h0M826.7 245.8h0M853.5 294.8h0M717.8 733.7h0M1593.3 863.6h0M1261.8 543h0M1569.2 934.7h0M626.1 461.2h0M410.7 914.1h0M1656.3 787.8h0M807.8 244.1h0M1670.5 908.5h0M653 983.2h0M1552.7 769.4h0M1285.3 786.8h0M652.9 975.5h0M1071 706.3h0M1200.7 614.7h0M1512.2 752.6h0M1658.9 823.2h0M1197.6 566.6h0M1387.1 690.5h0M873.7 1066.3h0M1404.4 884.6h0M1511.1 881.6h0M1529.4 798h0M1131.9 266h0M1611.6 913.4h0M1531.9 776h0M645.7 767.1h0M738.8 1029.9h0M1107.5 812.4h0M1100.3 509.1h0M1118.1 532.1h0M613 558.6h0M853.8 1011h0M678.8 717.3h0M590.7 818.1h0M773.5 1036.5h0M1098.4 739.3h0M1437.9 854.3h0M938.9 1078h0M1623.7 675.9h0M614.9 412.4h0M1610.7 915.5h0M1060 663.3h0M651.5 979.6h0M1133.1 306.3h0M533 950.3h0M1630.1 819.6h0M810.4 234.7h0M1033.5 497.7h0M1683.3 835h0M891.3 487.2h0M1615.7 844h0M1174.9 550.7h0M741.3 1013.5h0M1236.8 636.1h0M1242.5 627.3h0M1257.9 557.1h0M1124.1 524.1h0M563.9 582.2h0M1082.5 618.3h0M611.8 978.4h0M615.3 585.5h0M1625.5 848.8h0M679.1 746h0M1201 522h0M1017.1 720.6h0M440.5 924.6h0M1294 295.9h0M1537.2 832h0M891.5 493.1h0M600.8 1031.6h0M962.2 1014h0M411.4 915.5h0M897.7 1001.8h0M1737.7 808.2h0M1562.2 918.6h0M1097.2 517.5h0M1268.8 292.4h0M645.3 729.5h0M1693.1 818.6h0M617.5 994.3h0M1235 502.8h0M1571.8 872.6h0M1004.5 481.5h0M1212 509.3h0M1610.4 936h0M589.3 977.8h0M1453.7 840.4h0M593.4 565h0M932.5 1016.5h0M1168 509.8h0M1235.7 525.4h0M1589.7 893.5h0M1505.4 815.3h0M1226.3 514.1h0M1468.5 928.8h0M671.3 438.7h0M1584.8 860.4h0M862.5 1098.4h0M1600.8 878.6h0M493 939.7h0M555.1 960.1h0M572.9 933.6h0M1155.9 501.1h0M1039.9 489.1h0M1171.3 495.7h0M933.9 490.5h0M679 433h0M1548.9 922.7h0M653 740.3h0M1150.2 281.6h0M1149.9 797.6h0M641.5 978.1h0M1574.7 926.7h0M919.6 484h0M1397.2 850.3h0M1186.4 624h0M439.6 930.5h0M536.6 956.3h0M930.9 498.7h0M1166.6 509.6h0M806.1 928.1h0M343.8 879.7h0M1646.4 771.5h0M637.5 430.3h0M1635 829.1h0M607.1 1033.5h0M872.7 498.7h0M1205 590.8h0M1346.9 665.8h0M671 754.6h0M1524.5 727.9h0M1299.7 290.7h0M380 897h0M1160.2 268.6h0M1744.8 848.3h0M668.1 441.5h0M1130.8 551.7h0M1485.5 831.4h0M505.2 934.9h0M978.4 492.9h0M778.3 1028h0M358.7 883h0M1005 707.9h0M541.2 1002.1h0M1451.5 839.2h0M1097.8 273h0M1627.4 780h0M1573.2 866.3h0M686.7 724.7h0M1508.9 919.1h0M1465.9 727h0M1570.2 779.6h0M580.8 573.4h0M607 902.9h0M949.5 492.8h0M1518 931.5h0M1146.4 519.8h0M698.5 1024.8h0M1569.3 915.7h0M1547.4 814.8h0M604.2 756.8h0M1582.8 802.3h0M957.1 494h0M618.9 1035.6h0M1181.7 541.6h0M1212.3 623.1h0M784.9 1065.2h0M1016.2 563.6h0M1123.9 574.7h0M448 929.4h0M667.6 445.3h0M1734.2 839.5h0M618.8 943.8h0M1545.7 840h0M1645.4 791.9h0M533.2 1010.1h0M754.9 1009.3h0M580.1 552.8h0M1505.9 874.1h0M1702.7 827.8h0M1498.8 797.3h0M1414.8 856.9h0M796.3 1026h0M1579.8 891.1h0M678.9 1018.1h0M556.2 1006.2h0M712.6 1010h0M1002 695.8h0M1347.4 638h0M875.3 496.4h0M984 681.2h0M539.8 996.8h0M1177.1 794.2h0M987.2 488.6h0M963 541.1h0M603.5 1043.7h0M780.6 1022.9h0M540.8 950.6h0M646.1 572.6h0M1470.2 896.3h0M844.7 1024.2h0M1126 572.6h0M1154.3 534.3h0M1384 874.8h0M630 1023.8h0M1106 524.9h0M1220.2 780.2h0M1202.6 527.6h0M556.9 1004.5h0M689.4 739.9h0M1294.7 804.7h0M605.9 1032.9h0M1209.6 561.3h0M1137.8 515.8h0M604.3 1028.6h0M672.3 716.1h0M827.9 257.4h0M1242.9 567h0M1292.3 805.1h0M1030.6 508.3h0M1593.8 754.7h0M995.8 681.3h0M1208 489.7h0M733.9 1015.1h0M1437.6 886.7h0M695.5 943.3h0M558.3 1009.7h0M1534.1 873.3h0M1228.7 768.9h0M1014.6 690.6h0M1592.5 895.9h0M1477.5 916.8h0M705.7 945.2h0M1512.3 933.6h0M1082 654h0M1379.6 873.1h0M756.1 1029h0M743.9 1045h0M1219.4 486.9h0M1274.5 728.5h0M1150.1 553.9h0M1599 891.7h0M526.1 941.8h0M1498.1 872.5h0M1568.2 907.3h0M1182.6 794h0M1544.8 772.2h0M1287.9 806.9h0M747.2 1010.5h0M674.5 441.1h0M1102.8 579.6h0M914 486.5h0M1122.7 532.2h0M872.4 506h0M1265.6 584.4h0M544.7 1017.2h0M744.6 840.6h0M1623.2 898.6h0M1522 941.1h0M1667.5 782.1h0M1224.1 623.5h0M562.6 958.8h0M991.8 702.5h0M1095.7 626.2h0M1483.3 802.2h0M579.6 1053.7h0M407.1 909.7h0M586.9 534.5h0M545.7 1011.2h0M582 793.9h0M1608.7 826.5h0M1509.7 814.3h0M1439 794.7h0M1109.1 531.9h0M1235.2 772.1h0M812.3 963h0M1298.1 303.4h0M962 488.4h0M1630 782.6h0M1149.2 797.1h0M1244 775.9h0M1213.7 800.4h0M994.4 503.5h0M1231.5 623.9h0M696.8 1022.3h0M484.3 932.4h0M1089.6 803.7h0M1150.8 281.8h0M1557.7 796.4h0M1102.9 552.7h0M894.1 508.6h0M1270.8 638.9h0M1697.9 883.2h0M1113.8 535.7h0M529.9 953.2h0M1578.7 792.1h0M1136.3 542.3h0M1228.2 516.1h0M1490.1 758.9h0M1355 823h0M1150.8 582.2h0M512.6 940.8h0M1563.2 903.9h0M1077.2 810.7h0M774.4 972.1h0M1531.4 798h0M1112.4 557.6h0M500 935.6h0M1120.6 289.8h0M610.4 580.5h0M1080.3 815.4h0M1513.4 870.6h0M1282.9 609.6h0M1084.2 496.9h0M603.7 898.8h0M682.4 1012h0M1223.2 770.1h0M959.4 1014.6h0M852.3 515.3h0M659.1 734.6h0M893.9 1206.4h0M1159.1 792.6h0M1684.2 847.7h0M1222.6 522.7h0M1703.2 807.3h0M1467.2 857h0"/>
<path stroke="#fd9869" d="M1546.7 920.4h0M1563.8 799.3h0M1582.8 812.4h0M1298.3 784.1h0M984.4 484.7h0M1486.6 891.4h0M845 1071.6h0M981.3 497.4h0M1324.5 662h0M1681.1 918.3h0M1194.1 490.2h0M1535.4 829.1h0M1093 819.7h0M1514.5 712.4h0M1196.2 485.7h0M697.9 1024.8h0M1027.6 699.2h0M979.7 493.8h0M1712.8 870.7h0M1514 781.4h0M836.7 506h0M1205.8 800.4h0M1299.4 293.8h0M1596.5 754.1h0M629.5 982.2h0M1645.3 769.9h0M1209.5 487.3h0M1096.9 532.9h0M648 984.8h0M1124.5 539.9h0M1665.5 881.1h0M865.6 1000.3h0M1430.7 745.5h0M747.6 1035.3h0M695.6 937.8h0M1450.3 909.5h0M1676.8 873h0M1554.8 892.6h0M1496 798.1h0M1554.8 903.7h0M1581.1 785.5h0M1110.7 499h0M835.5 286.5h0M1639.2 770.8h0M1591.6 945.8h0M1375.8 724.3h0M373.6 895.6h0M1306.9 808.3h0M1272.5 768.3h0M1420.7 893h0M1213.9 587.6h0M1059.6 636.6h0M363.1 885.9h0M1699.8 877.7h0M1177.3 796.6h0M987.9 699.8h0M1276.2 744.3h0M1697 894.6h0M1580.7 756.5h0M1645 796.2h0M1146 499.9h0M1153 536.2h0M1614.1 939.4h0M986.5 696h0M1725.5 843.7h0M1633 682.2h0M844.4 1101.8h0M1247.4 551.1h0M712 1006.6h0M942.9 1092.4h0M1734.2 836.5h0M353.1 880.4h0M1133.6 259h0M1436.5 810h0M1056.8 1061.6h0M1232.7 572.6h0M1668.7 805.3h0M1636.1 760.6h0M821.4 1066.9h0M1447.7 723.4h0M1589.2 874.9h0M1400.4 688.1h0M867.7 496.3h0M1244.7 623.7h0M1554.4 889.4h0M1077.4 734.9h0M1616.2 941.9h0M1051.2 1056.2h0M1526.7 919.6h0M1648.7 886.4h0M1107.1 561.8h0M1412.8 728.7h0M587.5 562.1h0M591.9 915.7h0M1153.9 479.8h0M1448.1 695h0M1528.9 736.5h0M1316.2 600h0M1104 561.8h0M401.5 904.6h0M1476 883.6h0M1374.4 698h0M927.1 1072.6h0M700.8 1001.9h0M1695.5 795.2h0M1512.4 870.8h0M1660.4 762.3h0M585.3 416.5h0M1335.7 387.3h0M1085.7 802.9h0M1736 797.9h0M1566.9 813.5h0M1601.4 949.7h0M1635.5 905.7h0M1098.4 571.1h0M1608.3 772.2h0M628.2 566.1h0M1601.8 936.2h0M1663.4 884.3h0M1041.7 504.9h0M977.2 1063.9h0M1665.5 880.2h0M1555.1 840.4h0M1189.9 791.7h0M1117.2 502.8h0M526.3 944.4h0M1126.3 260.9h0M559 1015.1h0M637 983.4h0M852.9 1114.6h0M1725.1 845.7h0M1618.2 772.3h0M1679.1 773.9h0M1103.4 253.9h0M1704.3 872.7h0M648.8 995h0M536.7 993.1h0M1017.3 497h0M664.7 592.8h0M1072.7 629.8h0M1552 890.2h0M1438.8 728.2h0M582.5 573.2h0M1446.7 925.4h0M1551.9 922.7h0M1495.1 748.9h0M1521.2 755.4h0M1026.8 489.3h0M1607.9 938.7h0M1427.1 741.4h0M496.7 944.7h0M1391 688.6h0M1393.8 402h0M1124.4 534.7h0M1109.2 472.4h0M1420.5 900.8h0M1211.7 774.9h0M1567.2 890.3h0M1644.7 784.6h0M1273.9 632.3h0M1180.6 575.2h0M1269.1 590h0M1005.3 706.5h0M1106.9 296.3h0M1426.2 873.1h0M1650.8 808.9h0M1014.2 824.6h0M349.9 878.3h0M1197 522.5h0M1232.5 498.8h0M1034.8 483.4h0M1585.1 873.1h0M1626.6 818h0M1113.7 571.3h0M957.3 479.6h0M1004.8 927.6h0M1173.1 490.6h0M1617.9 912.6h0M1451 918.6h0M815.5 1085.1h0M903.6 527.9h0M1293.3 657.7h0M1023.4 632.8h0M1091.9 809.1h0M1608.9 851.4h0M1687.3 809.1h0M871.3 1019.2h0M1324.3 675.6h0M1264.9 525.3h0M1211 486h0M549.7 1015.8h0M1565.6 703.6h0M1678.1 908.3h0M1100.7 805.8h0M1432.1 707h0M1195.5 791.3h0M1023.3 512.7h0M1651.7 792.1h0M997.7 704.1h0M1693.3 769.9h0M1582.1 894.4h0M1348.7 397.4h0M1274.3 627.9h0M1489.7 821.1h0M1582.5 944.1h0M1618.5 688.8h0M1462.3 705.2h0M1568.4 856h0M1438.5 833.6h0M1711.9 825.5h0M1653 921.5h0M1451.2 694.1h0M1019.1 626.8h0M1639 757h0M480.6 932.5h0M448.1 931.4h0M1705.4 807h0M848.2 1064.2h0M1584.7 913.3h0M1179.6 537.5h0M1094.9 529.7h0M514.1 943h0M761.1 1038.9h0M1468.6 845.5h0M1241.8 780.7h0M1605.5 809.7h0M1726.3 848.6h0M1583.4 805.5h0M1213.6 615h0M549.7 991.9h0M1221.9 631.9h0M1736 862h0M533.9 944.6h0M604 585.3h0M1429 817.4h0M880.1 1207.8h0M954.3 1071.5h0M664.7 1000.9h0M1646.2 828.4h0M531.7 1013.5h0M1729.1 838.1h0M1387.3 754.3h0M1172.8 511.4h0M1355.8 673.7h0M1575.5 820.1h0M1228.1 512.8h0M1575 897.5h0M1214.4 584.5h0M1258.1 577.5h0M790.9 1015.7h0M1064.6 1075.7h0M1101.5 251h0M1738.4 833.8h0M1082.3 627.8h0M1015.7 524.6h0M1434.8 887.9h0M1665.9 784.9h0M638.1 450.6h0M539.6 1005.6h0M1037.2 630.9h0M1664.1 775.6h0M626.4 995.7h0M1210.1 580h0M1404.1 719.5h0M857.5 1021.4h0M1708.8 886.7h0M808.2 933.6h0M1020.8 661.3h0M903.4 486.6h0M1092.1 271.7h0M1456.8 854.7h0M1513.7 885.4h0M1284.9 786.5h0M1062.8 736.2h0M1149.4 578h0M1101 576.9h0M815.6 920.4h0M1524.9 833.5h0M616.1 989.5h0M1060.1 928.2h0M1627.7 881.9h0M1543.6 800.2h0M885.1 502.5h0M376 895.2h0M891.7 487.5h0M638.3 594.8h0M507.4 936.2h0M1545.5 704.8h0M584.8 972.9h0M1582.6 825h0M1047.2 661.8h0M971.1 476.3h0M1581.2 821.7h0M664.4 745.7h0M1507.1 798h0M1510.3 802.5h0M909.8 507.4h0M1317.7 666.5h0M883 1198.2h0M548.8 1010.5h0M338.9 876.5h0M1419.3 885.7h0M1185.4 615.9h0M1638.7 858.9h0M1150 607.9h0M1571.5 921.3h0M1217.9 513.6h0M1607.7 662.7h0M1581.6 910.6h0M1289.2 808.6h0M1677.4 868.2h0M420.7 915.2h0M1016.6 514.1h0M1599.4 762.8h0M901.2 490.6h0M888.6 1207.8h0M1533.1 795.3h0M1221.2 797.5h0M657.5 578.6h0M1594.6 856.3h0M1517.2 725h0M1378.9 677.6h0M1597.9 757.8h0M1238.9 772.8h0M1097.4 253.3h0M1530.5 802.7h0M658.2 570.4h0M955.7 1017.7h0M1644.9 888.6h0M640.1 583.5h0M1727.9 834.1h0M682.1 954.1h0M1531.4 913.9h0M1529 939.4h0M916.2 500.6h0M1540.3 863.5h0M1101.5 801.2h0M1431.1 894h0M549.6 1005.7h0M885.8 1068h0M832.2 502.7h0M827.4 1052.7h0M1029 523.9h0M1639.9 770.9h0M795.9 1082.7h0M1628.3 678.9h0M1316.3 328.6h0M1711 854.7h0M844 504.8h0M1529.1 722.6h0M1093.9 493.1h0M1424.6 794.1h0M1155 272.1h0M1444.3 854.6h0M1572.6 792.8h0M1093.6 824.9h0M1670 788.5h0M1676.2 861.8h0M816.4 1050.2h0M1572.1 862.4h0M1393.5 808.7h0M666.2 743h0M487.7 933.7h0M1552.4 923.2h0M1019.7 500.4h0M1121.4 305.7h0M964 682.3h0M1327.4 814.5h0M1484.2 694.2h0M1494 852.5h0M817.6 1030.8h0M1654.9 791.3h0M1306.9 631.5h0M558.5 1003.7h0M1660.3 933.6h0M1639.1 851.8h0M960.2 495.8h0M1517.2 935.8h0M851.7 1109.1h0M1449.8 754.2h0M1380.2 663.2h0M864.3 1107.5h0M1088 490.5h0M767.9 1062.5h0M1241.9 525.1h0M934 485.9h0M829.2 965.8h0M1511.5 763.5h0M1344.7 768.6h0M1614 912.8h0M755.4 1054.1h0M1167.1 796.5h0M806.8 1088.4h0M528.6 998.7h0M695.9 709.9h0M335.5 872.2h0M1725.4 826.9h0M1249.6 768h0M1707.5 893.8h0M992.6 674.9h0M1648.1 816.5h0M1101.9 575.3h0M1575.2 793.8h0M1622.8 693.3h0M855.2 510.4h0M1544.3 771h0M1612.5 835.6h0M548 997.7h0M1263.3 805.5h0M1276 612.7h0M1250.3 598.5h0M637.9 422.2h0M615.8 588.9h0M1044.8 563.2h0M1564.7 924.9h0M1516.8 914h0M878.8 503.6h0M1457.8 786.6h0M1256.3 560.5h0M1456.9 840.4h0M1744.6 851.7h0M1586.4 753.2h0M1508.1 923.2h0M1153.5 597.4h0M1080 736.4h0M1467.3 810.2h0M973.4 686.1h0M1026.8 1069.7h0M1407 884.9h0M1455.4 858.4h0M1598.9 676.3h0M537.5 1013.9h0M1411.3 899.4h0M1477.5 886.5h0M1081 553h0M663.2 588.8h0M1693.6 813.8h0M1663 774.6h0M1612.6 858.5h0M460.9 930.5h0M1631.3 764.5h0M643.4 982.2h0M1615.2 659.4h0M469.6 929.8h0M1112.8 804.2h0M1269.8 610.8h0M843.3 503.8h0M780.1 1044.8h0M1661.6 810.5h0M839 1091.9h0M1182.5 606.2h0M1655.3 849.9h0M1091.8 646h0M1063.8 532h0M1604.1 879.7h0M948.7 1022.3h0M1573 776.9h0M1544.6 809.2h0M1458.7 849.9h0M1080.6 626.1h0M562.3 1000.5h0M817.1 1096h0M1123.8 481.4h0M1231 798.3h0M1448.8 882.8h0M1100.2 276.6h0M1132.5 586h0M993.6 503.9h0M618 427.3h0M1107.3 510.2h0M1312.5 743.4h0M1554.7 836.2h0M1192.2 603.6h0M1196.5 550h0M1626 788.7h0M1452.5 756.6h0M1409.6 900.1h0M1047.7 474.7h0M1017.8 498h0M1486.1 860.7h0M1044.5 501.4h0M1172.2 547.2h0M1473.5 877.2h0M1202.6 564.1h0M1270 602.9h0M1675.7 827.5h0M1642.5 898.7h0M1488.1 855.2h0M606.8 1010.6h0M602.3 422.4h0M1475.9 889.8h0M1144.5 558.8h0M1584.4 897.9h0M541.2 1005.2h0M1585 908.5h0M1567.9 803.7h0M1066.2 555.1h0M1495.4 826h0M1373 711.7h0M1418.4 754.3h0M598 1040.3h0M1714.7 815.2h0M684.8 744.3h0M1146.1 555.4h0M1484.2 797.6h0M1429.2 744.7h0M1606.9 842.9h0M1086.9 791.4h0M1104.2 270.4h0M1477.5 886.3h0M971.2 524.8h0M358.4 884.8h0M1394.9 867.3h0M1301.3 644.5h0M1138.6 800.7h0M1486.9 814.2h0M579.3 416.8h0M1685.1 810.3h0M1583.7 754.2h0M1112.7 492.2h0M513.9 933.4h0M592.7 982.5h0M1661.3 931.5h0M1617.2 842.5h0M1289.4 611.9h0M1211.5 797.8h0M1647.8 823.9h0M601.9 983.2h0M1465.1 704.4h0M673.5 728.7h0M1027.4 597.1h0M1211.2 534.4h0M846.6 515.2h0M1612 810.8h0M1611.6 741.1h0M1458.7 795.3h0M1731 810.8h0M896.6 1040.3h0M815.6 959h0M1685.9 778h0M1675.8 761.6h0M1674.1 862.3h0M1159.8 573.4h0M1479 860.7h0M1669.9 820.5h0M1054.8 803.8h0M1585.4 854.8h0M1093.8 823.7h0M1077.1 540h0M712.1 722.3h0M1603.6 750.7h0M1149.4 575.3h0M784.2 1046.3h0M1552.9 923h0M1311.2 670.8h0M1118.2 490.2h0M1212.2 620h0M1681.7 764.4h0M1737.1 820.7h0M1038.7 499.7h0M1448.4 824.4h0M1638.3 850.7h0M1586.8 802.2h0M1566.9 936.2h0M1442.7 825.2h0M1539.1 810.1h0M1160.7 270.5h0M1162.8 568.1h0M1509.8 751.6h0M794 922.3h0M508.4 946.2h0M1029.3 532.1h0M968.3 685.5h0M1156.4 619.7h0M1401.6 785.8h0M817.7 1039.9h0M1693.8 854.9h0M1712.8 860.7h0M1486.3 701.6h0M648.9 584.5h0M802.9 1023.1h0M1169.3 504.1h0M1000.6 624.4h0M1587 926.4h0M1253.1 576.2h0M1598 835.3h0M1690.1 783h0M859.3 496.4h0M771 1037.5h0M957.2 1008.7h0M1377 763h0M1515.9 837.8h0M488.1 962.9h0M813.1 1035.7h0M1060 478.9h0M561.1 1015.4h0M1454.8 910.8h0M1731.3 870.8h0M1468.7 778.3h0M1274.7 777.5h0M1722.1 859.7h0M1532.4 946.2h0M1013.8 493.8h0M887.5 507.8h0M978 1029.5h0M1637.5 795.1h0M1544.2 820.4h0M1155.9 616.4h0M694.9 744.5h0M971.6 495.6h0M1632.9 811.3h0M1283.5 643.1h0M1405.1 881.6h0M659.4 568.3h0M1308.9 783.5h0M365.3 888.6h0M1659.2 882.9h0M994.1 516.9h0M629.8 1026.9h0M818 937.3h0M1535.1 871.2h0M557.6 1004.9h0M1002 684h0M1417.8 753.5h0M1605.4 838.3h0M463.6 927.5h0M1678.7 769.8h0M949.3 688h0M1306.4 594.7h0M1242.3 801.8h0M561.3 994.7h0M1537 797.9h0M1628.9 860.2h0M1146.2 480.6h0M1066.5 1076.2h0M873.8 1019.2h0M1228.3 504.6h0M1550.5 926.1h0M603.4 1034.6h0M1111 283.9h0M799.4 1046.5h0M1632.8 812.5h0M1410.1 882h0M696.5 734h0M1275.6 806.5h0M1531 779.1h0M1681.7 923.9h0M1411.2 677.2h0M818.7 1064.5h0M1663.1 763.4h0M1542.8 816.3h0M1074 474.5h0M1011 823.8h0M1661.5 843.3h0M1495.9 898h0M840.2 1101.8h0M1158.1 797.5h0M1286.9 594.8h0M673.4 966.1h0M543.8 955.7h0M1569.3 770.6h0M1098.3 803.2h0M491.7 938.1h0M1173 610.7h0M1441.6 907.2h0M1615.4 749.4h0M620.9 466.8h0M599.1 779.3h0M1135.8 538.2h0M1700.1 774h0M1120.8 599.9h0M1479.7 894.8h0M1433.6 855.6h0M1030.3 571.2h0M898.8 490.5h0M1078.2 821.5h0M969.8 529.1h0M1684.2 812.3h0M1538 906.4h0M939.5 728.1h0M1437.7 912.5h0M1208.3 607.5h0M1018.5 659.1h0M1475.4 900.6h0M1661.8 797.1h0M801.3 963.8h0M1017.2 680.9h0M1272.7 590.5h0M1100 508.1h0M1141.8 260.7h0M1310.8 685.3h0M358.8 888.6h0M1212 506.4h0M1169.2 624.8h0M1728.9 835.5h0M1631.6 909.6h0M927.2 487h0M1730.9 864.3h0M535.3 993.6h0M1481.4 854h0M1387.4 748.7h0M1214.2 782.2h0M1435.9 833.8h0M1019.4 490.6h0M1182.5 620.4h0M1166.7 531.5h0M1634.3 857.1h0M1164.1 580.6h0M899.5 501.5h0M1157.1 625h0M1466.3 924.4h0M1267 768.8h0M1160.3 479.4h0M978.2 1065.7h0M1534.3 916.9h0M1665.3 914.5h0M1215.5 622.7h0M607.6 563h0M609.1 1036.4h0M1022.1 719.3h0M1247.7 542.2h0M499.3 936.1h0M1669.8 796.3h0M643.4 989.4h0M829.8 1080h0M1590.1 858h0M1607.2 855.7h0M1119.1 265.2h0M1228.2 499.9h0M824.3 1044.5h0M1192.3 596.6h0M1683.1 913.3h0M1625.5 849.6h0M1072.4 501.1h0M1655.5 862.9h0M533.9 1010.8h0M1633.4 753h0M1522.8 924.1h0M1034 631.6h0M1588.9 922.6h0M1483 883.5h0M1543.4 939.1h0M821 946.6h0M775.2 1050h0M1637.9 877.9h0M381.4 897.8h0M1712 828.5h0M1075.5 719.3h0M656.8 734.2h0M1182 523h0M1605.5 673.8h0M1402.2 727.3h0M1586 820.3h0M1601.9 757.1h0M1215 575.4h0M1693.7 804.2h0M1408.1 901.9h0M1456.6 905.1h0M951.4 709h0M1059.9 539.1h0M1388 681.5h0M1599.8 909.9h0M1627.5 837.8h0M1699.2 846.3h0M859.3 1045.4h0M1570.1 941.5h0M808.1 1054.8h0M1704.4 769.6h0M832.5 1084.8h0M1598.4 880.1h0M1033.1 710.9h0M1535.3 787.5h0M1264 806.9h0M715.7 729.9h0M1238.7 591.9h0M1468.9 854.7h0M1679.5 909.7h0M1662.5 790.8h0M1155.5 797.4h0M419.9 915.2h0M1270.2 777.8h0M1677.1 804.7h0M1611.3 907.2h0M635.7 413.1h0M1556 697.1h0M542.3 1005.7h0M1171 549.8h0M745.4 1032.4h0M1573.7 882.2h0M1673.6 769.5h0M1541.1 948h0M1635.2 919.6h0M908.3 493h0M1654.4 819.1h0M1129.9 484.2h0M1438 832.9h0M554.9 965h0M1221.1 604.2h0M1470.9 928.1h0M1556.2 898h0M1710.5 781.2h0M1226.6 635.6h0M754.2 1039.1h0M653.5 1023.9h0M1613.8 924.7h0M819 924.1h0M1632.6 887.1h0M1568.5 784.2h0M1629.5 658.9h0M1089.3 563.9h0M1627.5 695.9h0M1211.6 570h0M1247.6 744.8h0M1232.3 800.9h0M1604.2 810.2h0M818 1026.1h0M1046.5 473.4h0M1475.8 842.4h0M1572.7 828.4h0M1058.2 654.7h0M1273.3 640h0M1310.9 780.2h0M1062.7 624.8h0M1525 857.7h0M1311.2 668.7h0M1252.8 510.9h0M597.5 567.3h0M1721.5 805.1h0M878.6 487h0M1682.7 808.4h0M752.1 844.5h0M1650.6 755.5h0M1220.4 609.1h0M834.8 1093.8h0M862.1 1044.5h0M1198.4 560.4h0M1476.5 922.5h0M1609.6 659.2h0M1689.4 803.4h0M1477.8 890.4h0M1713.9 792.3h0M961.6 681.5h0M1115.1 570.9h0M1416.1 902h0M1642.9 868.2h0M656.4 572.2h0M1171.3 581.7h0M814.9 1093.9h0M1130 294.2h0M736.7 1019.3h0M1673 848.2h0M1629 890.9h0M1312.5 601.3h0M1313.1 643.5h0M811.2 1036.6h0M1348.2 942.6h0M1352.1 645.4h0M1483.6 761.9h0M1272.6 718.6h0M1003.9 501.2h0M1684.3 841.7h0M1582.8 839.9h0M1215 779.3h0M1469.7 849.4h0M1654.9 923.9h0M1521.8 828h0M1149.6 598.9h0M1527.1 923.2h0M1461.6 891.6h0M1547 931.1h0M1148.2 588.9h0M1431.2 744.6h0M789 1041.9h0M1499.5 940.1h0M1450.4 820.4h0M1638.1 675.3h0M1417.2 888.4h0M1540.4 865.2h0M618.9 996.4h0M1439.6 894.2h0M992.3 700.8h0M1698.9 838.8h0M1551.2 804.4h0M1217.2 545h0M640.7 417.3h0M1162.2 264.8h0M544.5 997.1h0M747.2 1042.4h0M1526.2 856.1h0M786 1073.7h0M765.2 1013.5h0M545.1 992.4h0M1081.8 543.7h0M1475.8 883.9h0M1598.2 779.9h0M1448.9 859.9h0M562.7 568.1h0M544.2 949.5h0M825.5 1079h0M903.6 491h0M974.5 489.1h0M1341 947.8h0M1103.4 576.8h0M1678.6 795.1h0M990.1 477.1h0M1021 500h0M584.6 957h0M1386.9 392.3h0M739.5 1026.7h0M1185 516.5h0M1109.6 805.3h0M1661.8 847.6h0M1154.3 609.5h0M1626.4 894.1h0M1335.3 813.9h0M1605.3 822.5h0M680.1 1003.3h0M507.7 943.6h0M1489.6 929.5h0M1264.9 594.7h0M1628.5 652h0M1029 499.8h0M839.9 1024.3h0M1543.6 894.8h0M1459.4 808.3h0M1057.6 571h0M1135.3 598.5h0M1468.9 712.3h0M1607.3 802.5h0M1510.7 904.4h0M1568.6 876.7h0M1680.7 876h0M1135.2 507.8h0M1393.9 716h0M522.7 949.3h0M1730.7 869.9h0M1091.7 820.1h0M1509.5 830.4h0M1609.8 937.4h0M1480.4 842.4h0M1232.2 583.5h0M550.2 1011.9h0M1248.8 576.9h0M1268.8 616.9h0M740.6 1025.4h0M1150.7 284.5h0M913.9 498.2h0M1719.5 862.2h0M661.6 424.1h0M1410.2 754.9h0M888.3 1087h0M1235.7 630.2h0M1453.4 820.1h0M1647.1 763.4h0M1288.2 618.2h0M1301 627.8h0M1078 639.5h0M954.2 484.8h0M1433.5 905.2h0M1539.4 912.9h0M1200.2 501.3h0M768.9 836h0M823.2 955.3h0M1594.4 950.1h0M688.7 735.3h0M1639.4 798.8h0M1569.2 911.6h0M1176.8 795.5h0M1637.2 931.1h0M1504.5 845.9h0M653 726.2h0M1290.9 295.3h0M1119.6 499.8h0M1622.2 789.4h0M1078.4 532.1h0M881.4 1194.7h0M805 1072.6h0M1500.7 902h0M1315.9 781.9h0M1676.3 838.1h0M1073.3 520.1h0M1532.5 726.4h0M1718.4 857.8h0M1191.1 594.2h0M1510.8 841.6h0M1478.3 924.6h0M428.6 911.9h0M1241.5 567.8h0M501.4 945.4h0M1549.2 846.8h0M1505.2 824.9h0M528.7 941.3h0M1444 885.3h0M879.6 489.9h0M1332.4 762.3h0M1498.8 868.9h0M1232.3 506h0M1602.4 664.9h0M1482.8 735.5h0M1657.7 904.7h0M1740.2 831.8h0M1450 820.3h0M1239.1 543.7h0M1578.5 892.8h0M1463.6 927.4h0M1121.9 287.1h0M1449.4 829.6h0M1207.2 784.7h0M1167.2 604.2h0M844 1042.7h0M571.2 583.3h0M1200 493.8h0M1435.1 826.4h0M700.1 930.6h0M1580.8 904h0M1251.8 289.1h0M1184.1 550.8h0M865.5 1021.8h0M1041.5 518.5h0M1539 949.6h0M1677.7 808.8h0M1564.9 804.4h0M1123.7 515.7h0M1116.5 583.7h0M1624.9 900.5h0M1664.9 903.7h0M1010.1 1070.1h0M1264.7 593.3h0M568.5 560.3h0M668 430.8h0M1538.2 846.3h0M1602.5 799.9h0M794 1041.5h0M1085 557.9h0M1605.8 756.6h0M1571.5 865.3h0M1243 621.1h0M1089.4 826.4h0M1620.1 849.9h0M999.6 652.8h0M879 489.1h0M770 836.4h0M615.7 1014.8h0M1604.4 791.1h0M834.9 1096.5h0M1432.7 874.9h0M1005.4 504.9h0M1230.6 771.7h0M1103.1 629.2h0M1294 641.9h0M1314.8 636.9h0M1089.9 500.1h0M420.3 914.9h0M1245.7 598.2h0M1645.7 766.7h0M1247 637.4h0M1002.6 479.5h0M1619.8 883.8h0M1196.6 575.9h0M836.1 1075.6h0M938.9 474.9h0M562 555.2h0M1251.1 540.1h0M673.6 715.4h0M1444.2 819.2h0M1434.9 879.9h0M1267.9 591.7h0M1531.3 831.7h0M1312.1 603.1h0M1286.9 647.4h0M1408.7 678.9h0M796.3 1078.7h0M957.5 477.4h0M976.2 491.8h0M702.2 1025h0M1741.9 830.9h0M617.9 579.9h0M846.7 501.8h0M1165.5 602.3h0M1501.4 911.1h0M1307.7 632.1h0M1030.5 603.7h0M1502.5 829.6h0M1581.7 820.2h0M1647 866.3h0M1077.9 819.6h0M1646.8 896.2h0M1557.1 826.6h0M1575.2 891.8h0M1153.2 499.7h0M1540.8 940.9h0M975.8 708.4h0M446.5 931.9h0M1164.5 793.8h0M1080.9 478.9h0M1213.3 795.6h0M1219 510.5h0M1356.8 670h0M1601.2 831.5h0M692 996.3h0M1345.6 364.5h0M1102.5 597h0M1677.6 887.7h0M626.3 567.1h0M519.8 950.2h0M1607.9 662h0M1670.6 849.3h0M1306 669.4h0M1380.1 694.9h0M1512.3 789.3h0M1068.4 620.3h0M1266.4 622.5h0M1565.9 885.5h0M1295.9 583.8h0M965 1014.4h0M1488.3 766.7h0M707.1 730.7h0M1625.3 814.1h0M1488.8 888.8h0M1368.5 708.8h0M1638.1 858.5h0M1097.7 487.8h0M1007.8 697.2h0M444.6 930.7h0M1115.7 571h0M1194.3 600.7h0M1474.6 828.8h0M1160 281.2h0M555 954.3h0M1507.7 701.9h0M1105.1 278.4h0M1428.5 878.1h0M1671.6 793.7h0M896.5 1208.4h0M763 1060.1h0M1252.3 516.7h0M954.6 931.1h0M748.5 1031.9h0M1588.9 871.5h0M1540.4 769.5h0M480.9 934.3h0M1616 770.6h0M880.1 1015.5h0M888 1204.4h0M1465.2 875.7h0M1659.4 770.6h0M616.7 558.2h0M955.5 505.5h0M1061.6 1068.8h0M1619 750.8h0M1409 886.7h0M628.8 1003.2h0M1295.9 294.6h0M1200.5 495.1h0M1269.6 630.4h0M1127 611.6h0M1442.6 822.8h0M1632.5 804.8h0M542.8 953.8h0M1503.5 819.9h0M1087.3 737.1h0M704 733.4h0M1109.5 559.5h0M1472.6 921.2h0M803.6 1047.4h0M1660.8 849.8h0M812.7 1049.4h0M715.9 730.6h0M1119.7 557.1h0M602.7 865.6h0M1698.9 800.8h0M1005.9 481.8h0M709.8 730.4h0M1237.9 591h0M1149.9 477.9h0M1415.1 759.1h0M688.9 735.4h0M541.2 1009.2h0M1528.8 864.6h0M1125.7 602.7h0M897.8 1020.6h0M1171.1 571h0M1076.6 719.4h0M1661.4 784.5h0M1644.9 763.4h0M1272.7 292.3h0M1561.9 897.8h0M1270 589.5h0M981.9 490.2h0M1486.3 865.8h0M1568 794.9h0M1457.8 919.4h0M688.1 949.3h0M1480.6 915.3h0M623.3 983.4h0M832.1 1075.8h0M1626.6 673.8h0M1156.2 556.6h0M480.9 937h0M1034.6 483.6h0M1583.7 783.9h0M1144.2 564.2h0M1528.3 957.6h0M1271.6 803h0M1018.6 613.5h0M1617.4 837h0M1504 840.2h0M1057.3 703.5h0M1268.8 633.2h0M1554.2 789.8h0M1278.7 600.5h0M992.6 928.4h0M1593 852.8h0M1644.1 790.5h0M1584.1 929h0M1676.2 870h0M1158.8 604.1h0M1146 503.3h0M1541.4 878.7h0M1077.8 510.9h0M1744 827.5h0M1718.7 854h0M1582.8 783.6h0M1057.9 1064.5h0M1695.5 786.8h0M1585.1 784.5h0M885 1208.2h0M533.6 970h0M1530.5 835.1h0M1451.8 754.4h0M765.3 837.2h0M429.2 922.2h0M1233.8 626.6h0M1559.6 764.3h0M1423.6 749.3h0M1143.8 511.4h0M827.1 1037.9h0M1344.1 650.8h0M1005 1066.4h0M1727.7 806.4h0M1344.9 772.8h0M1451.8 837.7h0M793.8 1037.9h0M1720.9 842.3h0M588.3 556.3h0M1460.8 842.7h0M1193.4 617.9h0M1432.7 720.5h0M840.3 283.2h0M1738.1 804.9h0M1024 697.8h0M1238 555h0M1641.4 752.2h0M1123.6 805.1h0M1538.5 787.6h0M1119.8 277h0M1366.4 654.7h0M422.4 912.6h0M1090.9 267.4h0M1685.7 870.4h0M1404.2 753.1h0M1354.7 393.3h0M1240.6 796.6h0M1029.9 691.1h0M1196.8 604.9h0M1405.8 877.9h0M1505.3 720.4h0M935.1 1014.1h0M1685 866h0M1124.8 265.8h0M735.8 1025.6h0M1261.8 539.2h0M1187.1 516.3h0M1144.2 796.2h0M1607.3 658.5h0M1178.4 482.4h0M400.9 903.1h0M1139.4 608.4h0M1613.9 791.3h0M902.6 1031.2h0M957.5 690.1h0M1128.1 531.6h0M1603.4 923.7h0M1512.3 853h0M1469.7 924.5h0M471.4 934.8h0M1507.5 900.9h0M1262.6 806.1h0M815.4 928.1h0M854.3 519.4h0M381.8 896.9h0M1639.1 685.8h0M1631.7 910h0M1250 735.2h0M570.4 972.1h0M671.3 715.2h0M1477.2 886.7h0M705.4 930.1h0M954.2 1049.8h0M1598.2 774.2h0M883 1208.6h0M1184.1 521.5h0M1525.6 888.4h0M775 1011.4h0M1114 255.4h0M1347.7 945.1h0M680.8 1020h0M1276.6 768h0M1113.8 297h0M527.2 937.4h0M1087 815.1h0M1328.8 624.3h0M1275.7 296h0M529.7 1000.2h0M1442.1 860.7h0M1618 892.3h0M696.5 736.2h0M1105.2 543.7h0M1264.7 773.7h0M1088.4 258.7h0M499.9 933.6h0M1595.4 886.6h0M1137.4 541.7h0M1443.1 698.3h0M1543.1 796.7h0M1272.9 770.5h0M1032.4 478.3h0M1562.3 922.9h0M982.2 495.1h0M605.7 1021.9h0M710.5 730.4h0M1145 567.8h0M1088.1 554.8h0M841.9 514h0M1118.2 805.1h0M958.9 695.6h0M1136.6 603.6h0M887.6 1209h0M1596.6 921.1h0M1217.8 587.4h0M1640.5 933.8h0M1537 814.7h0M1632 860h0M1645.7 853.9h0M1643.6 901.1h0M1550.6 780.6h0M1585.2 813.6h0M1165.9 794.1h0M1555.3 784.4h0M612.5 985.7h0M1193.3 789.7h0M1101.3 816.5h0M1556.3 918.7h0M1476.9 856.1h0M1039.8 569.4h0M994 631.5h0M1429.5 900.5h0M1160.4 603h0M832.5 947.4h0M1066 657.7h0M1564.3 920.9h0M1674.7 807.2h0M1378.8 665.4h0M1137.2 278.1h0M947.6 752h0M693.8 710.4h0M996.9 499h0M778.7 1013.2h0M630.8 1021.5h0M1703.9 896h0M1448.5 908.3h0M559.9 1004.5h0M1617.5 675.1h0M1556.8 935.4h0M1057.5 491.3h0M1231.9 801.1h0M759.1 1014.4h0M657.8 1016.8h0M1227.7 776.3h0M1635 852.7h0M896.9 1204.3h0M734.1 734.6h0M1671.7 926h0M453.6 926h0M1272.9 565.2h0M1212.5 775.5h0M1242.4 616.9h0M1508.3 914.8h0M1275.5 571.3h0M1647.2 766.4h0M1022.1 925.6h0M1647 762.6h0M595.9 428.5h0M480.1 936.4h0M654.9 1026.1h0M1649.5 884.6h0M1363.5 940.1h0M1171.2 565.4h0M1433.1 920.1h0M638.3 569.6h0M1664.9 783.7h0M1057.8 820.9h0M835.8 977.9h0M1037.3 523.9h0M513 934.4h0M1469.9 757.6h0M1160.3 506.9h0M1092.4 519.4h0M906.4 476.8h0M1169.4 611.1h0M1082.1 813.9h0M912.7 1026h0M1449.8 715.3h0M1166.7 271.4h0M1525.9 868.5h0M1310.1 324.3h0M654.7 570.5h0M1505.7 837.4h0M581.2 572.6h0M676 996.6h0M1624 693.7h0M1516.2 789.6h0M1006.3 672.1h0M1144 495.3h0M634.8 427.2h0M1114.4 282.6h0M1600.5 829.1h0M1259.1 566.9h0M1550.6 836.2h0M1099.3 809.9h0M1328.4 649.3h0M1162.8 793.4h0M1473 859.2h0M1230.4 528.2h0M974.5 488.2h0M1605.7 877h0M1220.3 587.3h0M1635.6 816.8h0M1161.3 518.2h0M1617.5 746.9h0M1393.8 400.6h0M1083 495.6h0M1643.5 855.6h0M999.1 475.4h0M871.8 1202.1h0M1522 836h0M981.3 1066h0M663.6 740.7h0M1102.3 266.2h0M1473.7 684.4h0M1488 871.6h0M606.4 941.4h0M1274.3 774.3h0M706.6 728.4h0M1168.2 795.9h0M1618.8 802.2h0M812.1 963.6h0M1488 873.8h0M1161.7 480.4h0M1123.7 531.4h0M925.1 495.4h0M844.7 1061.3h0M870.2 1201.3h0M1622 877.4h0M1552.5 950.6h0M1508.7 942.6h0M784.6 1071.2h0M1310.7 591.9h0M1534.5 894h0M649.4 593.3h0M1054.4 514.6h0M1492.1 867.1h0M756.6 843.7h0M816.8 508.5h0M1345 820.8h0M1309.5 646.1h0M1048.9 510.5h0M488.8 934.7h0M1004.2 1066.3h0M1363.8 781.8h0M1671.4 796.7h0M1694.6 908.3h0M1415.5 782.6h0M1693.8 781.2h0M1694.2 829.3h0M1539.9 795.5h0M1488.5 833.8h0M1298.6 312.8h0M1486.3 711.4h0M1367.1 788.6h0M1132.8 268.3h0M767.4 837.2h0M1256.9 594.3h0M1513 885.5h0M758.8 1054.9h0M1137.3 804.1h0M1421.6 906.7h0M882.2 1197.3h0M1600.5 911.5h0M889.4 1102.6h0M1550.9 933.7h0M1050.8 486.8h0M1144.6 483.6h0M1688.4 882.4h0M1029.5 611.4h0M1684.1 867.5h0M1446.7 914.2h0M1623.8 891.4h0M669.4 1003.6h0M1026.5 507.9h0M1201.1 632.3h0M1411.7 853.9h0M1475.8 761.1h0M1605 899.6h0M1573.2 949.3h0M1597.7 917.1h0M859 508.9h0M1683.3 859.4h0M1130.6 502.6h0M1048.2 532.1h0M1629.9 939.3h0M1503.5 927.2h0M568.3 555.4h0M1346.5 941h0M1336.6 399h0M1010 607h0M1606 847.1h0M1320.4 773h0M1240.3 599.1h0M1216.9 486.8h0M1583.7 908.3h0M1474.1 887.3h0M1452.6 901.4h0M1037.2 928.1h0M1033.8 715.6h0M448 931.1h0M1278.6 683.6h0M1408 886.6h0M1165.3 574.7h0M543.5 991.7h0M1061.2 486.5h0M617.9 440.4h0M1406.4 716.4h0M1521.3 782.9h0M1239.7 590h0M1475.1 889.3h0M1217.9 492.2h0M1358.7 692.5h0M646.3 982.4h0M1102.7 511.5h0M813.5 1082.2h0M936.6 477.9h0M1299.1 785.9h0M1565.9 903.4h0M1127.8 515.9h0M684.8 739.4h0M1014.4 521.9h0M1080.9 479.6h0M892.7 1201.1h0M1537.3 805.2h0M1084.8 799.9h0M1437.2 885.7h0M432.6 919.4h0M1477.7 938.4h0M1568.6 847.8h0M1095.6 256.3h0M1522 812.2h0M1343.3 635.1h0M1566.4 864h0M1495.4 833.9h0M1310.9 637.9h0M715.3 726.2h0M1509.3 842.8h0M993.9 666.3h0M998.4 1065.3h0M530.2 956.9h0M1388.4 398.8h0M1515.6 901.9h0M1684.7 800.1h0M942.7 519.7h0M888.9 1207.3h0M1584.8 891h0M1216.1 776.1h0M1458.4 862.6h0M1635.4 687.8h0M1548.8 836.4h0M1061.5 1064.5h0M934.9 534.1h0M1140.1 536.7h0M1149.7 614.1h0M1525 872.4h0M1707.8 777.7h0M1610.6 841.2h0M544.9 1007.5h0M1095.6 510.2h0M886.2 1203.2h0M655.5 578.4h0M1593.9 765.2h0M864.9 1015.9h0M872.4 1035.7h0M1340.3 769.3h0M1498.8 899.5h0M1697.7 858.2h0M637.1 443.5h0M1084 556.9h0M1247.5 532.1h0M774.2 981.2h0M1571 806.9h0M956.7 1048h0M890.6 1104.1h0M839.8 1039.6h0M1545.3 808.5h0M1034.9 520.9h0M1603.4 781.2h0M881.2 1206h0M534.3 954.1h0M1413.1 897.6h0M1590.3 775.6h0M1222.8 621.2h0M852.8 1033.1h0M1142.7 549.3h0M1203.7 528h0M1167.6 793.7h0M751 1046.5h0M1417.7 738.3h0M1624.1 814.4h0M1258.2 800.6h0M1728.1 830.8h0M1177.3 501.1h0M1620.6 893.8h0M1609.7 761.9h0M1067.1 708.6h0M1563.3 931.8h0M839.1 1076.6h0M1080.7 524.2h0M1145.9 599.8h0M1020.5 654.6h0M821.4 953h0M1592 882.6h0M1517.4 830.9h0M1488.1 899.6h0M479.6 933.6h0M1624.3 782.5h0M1410.2 735.5h0M1541.1 776.6h0M1177.3 519.9h0M1442.6 855.3h0M602.3 980.2h0M1625.1 779.1h0M1702.4 865.8h0M1522.6 795.8h0M679.7 964.5h0M1248.1 545.9h0M1154.2 272h0M1528.4 860.1h0M883.8 530.6h0M1141.5 614.7h0M1233.1 636.4h0M1007.3 521.9h0M1349.9 941.8h0M1670.1 912.5h0M1212.2 542.8h0M1670.8 907.3h0M1486.6 864.7h0M1524.7 926.8h0M1259.9 778.6h0M1307.5 286.3h0M604.7 994h0M1298.3 592h0M1580.9 844.3h0M1649.3 803.3h0M1452.6 827.4h0M813.3 1027.5h0M1743.3 823.5h0M1429.8 783h0M1009.1 478.4h0M1089.5 552h0M678.6 995.4h0M934.6 1017.8h0M823.6 513.6h0M1583.7 910.7h0M1125.2 517.6h0M1446.3 855.9h0M1447.6 871.8h0M1030 531.8h0M1219.8 510.5h0M1013.4 504h0M1177.2 551h0M897.6 531.6h0M584.3 998.6h0M717.5 949.9h0M1585.6 792.5h0M570.4 973.9h0M1294.8 640.2h0M1631.9 870.2h0M1682.6 815.1h0M1629.3 682.7h0M934.5 508.7h0M1211.2 531.7h0M1093.1 527.1h0M1245.9 609h0M1097.1 487.2h0M1629.2 819.3h0M1182 797.1h0M1453.1 693.5h0M1691.9 784h0M1557.8 790.6h0M846.9 281.3h0M340.1 872.2h0M1668.6 858.4h0M1604.5 838.4h0M1491.8 878.2h0M1148.9 538.7h0M1558.2 775h0M1709.7 797.7h0M1669.3 833.2h0M1713.8 800.3h0M1370.3 676.4h0M600 571.6h0M1594.2 839h0M701.4 744.2h0M1309.3 682.2h0M1688.3 875.8h0M1725.1 787.2h0M1735.6 829.1h0M1036.4 714.9h0M1504.8 693.8h0M1693.2 768.8h0M1480.1 779.5h0M1190.4 793.7h0M1624.6 826.1h0M433.5 923.5h0M719.3 736h0M1241.8 804.2h0M914.3 488.3h0M1658.6 919.7h0M1588.8 887.8h0M1264.8 624.2h0M711.4 723.3h0M1523.7 909.7h0M1416.8 751.8h0M1598.6 800.1h0M1480.1 732h0M1535.9 902.9h0M1405.2 885.2h0M1130.3 481.1h0M647.2 986.3h0M1555.6 870.1h0M1513.8 868.8h0M1243.5 776.5h0M703.2 726.4h0M962.4 932.3h0M643.5 986.5h0M1551.3 843.3h0M1639.8 675.5h0M1404.7 676.2h0M1442.6 916.1h0M1563.6 834.4h0M1691.4 804h0M826.7 511.8h0M1485.7 804.7h0M1251.8 503.2h0M1121.2 522.8h0M1637.5 806.2h0M1117.9 582.7h0M1142.9 605.9h0M597.2 1036.1h0M1308.6 812.2h0M1162.6 553.9h0M1187 578.9h0M820.2 1026.6h0M627.2 995.9h0M1413.1 897.7h0M1510.8 851.2h0M1534.2 953.1h0M1074.4 890.7h0M1488.3 758.5h0M1688.3 777.2h0M631.8 567.1h0M1112 257.1h0M1080.1 805.9h0M1403.4 674.4h0M1117.8 298.7h0M552.9 1001.7h0M1513.1 781.9h0M710.1 943.4h0M894 492.3h0M834.6 963h0M1298.3 782.9h0M1656.1 929.1h0M1022.4 607.2h0M1235.4 494.5h0M616.3 1010.1h0M1657.6 935.2h0M1126.4 531.9h0M593.1 563.5h0M1502 740.9h0M1099.1 628.5h0M617.2 999.6h0M1247.7 797.7h0M1025.6 1072.4h0M1545.8 934.4h0M851.5 498h0M1129.6 283.4h0M1313.6 790.3h0M630.5 986.7h0M1158 581.5h0M1494.1 735h0M1458.2 871.4h0M1629.3 652.1h0M1177 273.7h0M1062.1 514.7h0M1457.9 914.5h0M1325.9 616.6h0M1080.2 496.7h0M1413 878.2h0M1108.9 488.3h0M1571.1 771.4h0M1176 799h0M1395.3 748.6h0M1264.2 634h0M528.6 1001.2h0M760.5 844h0M675.4 725.1h0M549.5 956h0M1513.5 880.3h0M1109.5 275.8h0M1569.6 780.8h0M886 1206.1h0M1413.4 790.6h0M414.5 914.3h0M1684.7 794.4h0M1316.4 640.1h0M1219 772.5h0M375 893.9h0M1067.3 612.5h0M1593.8 952.5h0M1504.9 924.2h0M1084.6 534.5h0M1649.5 898.4h0M1583.7 954.3h0M1348.3 637.8h0M967.7 500.4h0M1388 934.8h0M1064.3 488.6h0M555.3 1017.9h0M1109.8 811.3h0M1463.3 688.5h0M345.6 878.9h0M1385.5 726.7h0M1106.5 479.6h0M1177 552.6h0M1521.5 959.5h0M1600 763.5h0M392.5 904h0M1030.6 499.2h0M1592.9 906.1h0M1630.8 781.8h0M1020.9 483.5h0M1008.3 504.1h0M547.9 1016.1h0M1009.1 503h0M995.4 703.5h0M1242.3 636.5h0M1613.6 838.4h0M1043.7 529.8h0M1480.8 894h0M798.2 1064.8h0M1658.9 851.6h0M1303.1 635h0M658.8 579.8h0M967.8 476.9h0M1247.5 778.2h0M1639.8 792.9h0M433.2 925.5h0M683.7 738h0M893.8 1203.7h0M1557.2 893.7h0M1456.5 820.5h0M953.3 697.8h0M692 724.4h0M1686.3 895.5h0M1639.5 785.7h0M1648.7 836.7h0M1684.2 781.9h0M527.6 939.2h0M1709.1 878h0M1304.6 774.9h0M1345.8 944.3h0M845.7 514.6h0M1501.3 758.8h0M1434.8 890.1h0M1164.1 529.3h0M1584.1 830.9h0M1544.8 897.2h0M1131.3 590.3h0M718.7 1013.1h0M332.5 869.7h0M823.6 965.5h0M1688.6 822.2h0M1141.1 592.9h0M1570.8 841.7h0M661.7 580.2h0M1669.1 910.1h0M630.2 998.2h0M1572.2 872.2h0M1650.1 857.6h0M536.9 992.7h0M1026.8 604.9h0M398.3 905.6h0M870.9 490.2h0M1494.1 772.5h0M762.8 842.3h0M668.7 1027.5h0M1186.6 521.2h0M1411.1 895.3h0M1109.5 610.4h0M1492.8 762.8h0M1077.8 623.3h0M1430.6 901.3h0M812.3 1090h0M1627.2 917h0M1032.7 712.3h0M1081.9 811h0M1263 521h0M763.2 1050.7h0M1220.7 797.5h0M526.8 938.7h0M1444.8 822.7h0M1401.9 717.8h0M934.2 536.5h0M1126.5 801.6h0M1432.5 749h0M1146.4 618.1h0M1220.7 515.8h0M1464.1 732.9h0M1542.3 838.7h0M1113.3 775.7h0M1221.6 553.2h0M1211.8 612.5h0M715.7 1016.1h0M1644.2 760.5h0M1466 852.6h0M1021.2 498h0M969.4 512.5h0M1097.3 550.7h0M1432.3 770.5h0M1038.4 511.3h0M1622.2 666.2h0M841.6 286.1h0M1476.5 922.6h0M942.2 931.3h0M1239.1 522.8h0M1228.7 770.6h0M1656.7 890.6h0M784.2 1067.1h0M1175.9 594.2h0M1532.1 794.3h0M1498.5 734h0M1002.9 614.8h0M1261.6 776.7h0M1583.8 753.7h0M1474.2 724.5h0M972.2 1065.2h0M1656.4 908.3h0M1463 889.2h0M1220.8 478.7h0M1085.4 265.4h0M805.5 1053.4h0M1621.7 671.3h0M690.3 953.9h0M1557.7 789h0M1054.3 527.7h0M1648.6 764.7h0M1096.2 817.5h0M981.8 482.3h0M691.2 1020.6h0M1705.8 786.7h0M1528.7 834.2h0M1497.5 908.1h0M1626.9 778.3h0M1461.2 831.5h0M1139.3 523.7h0M1612.9 870.6h0M952.2 672.6h0M1302.7 769.4h0M1679.5 822.3h0M1590.8 876.6h0M948.5 685.1h0M1366 780.8h0M1629.8 777.7h0M1304.2 776.5h0M976 706.6h0M1008.7 660.2h0M1505 865.8h0M815.3 945.9h0M362 886.5h0M1541 930.8h0M524.7 945.3h0M1524.2 778.8h0M1231.3 516.9h0M571.4 575.2h0M784.8 1070h0M1562.8 835.6h0M1551.9 867.6h0M1436.7 896.9h0M1617.9 805.6h0M943.4 487.8h0M1611.5 789.2h0M1683.2 849.8h0M1485 862.8h0M1600.9 873.7h0M608.1 1034.9h0M1615.6 842.8h0M975.2 687h0M1605.2 879.2h0M1161.1 602.5h0M1505.8 809.5h0M916.7 1023.7h0M1105.1 511.4h0M1530.9 906.1h0M1503.5 910.4h0M909.6 480.7h0M595.5 571.9h0M1045.2 826.4h0M434 924.8h0M1564.2 786.3h0M1556.1 819.2h0M927.2 1002.7h0M1119.6 528.7h0M816 954.9h0M1644.6 817.2h0M1137.9 593h0M1434.8 746.1h0M1695.6 844.8h0M1555 854.1h0M611.5 1031h0M1187.1 618.1h0M1409.1 899.6h0M1611.7 767.4h0M1593.9 809.2h0M1558.3 883h0M1290.5 612h0M1449 908.4h0M1655.6 921.9h0M1184.4 478.9h0M647.1 584.9h0M1597.8 780.1h0M1620.5 813.9h0M1191.5 790h0M1204.2 560.7h0M1174.9 794.3h0M1355.9 769.5h0M1168.6 579.3h0M599.1 996.2h0M1092 827.2h0M1272.1 800.6h0M1137.2 608.2h0M1140.7 489.7h0M552.7 1014h0M829.8 1057.7h0M842.2 275.8h0M820.8 508.1h0M1478.9 852.6h0M1266.1 562h0M1606.3 896h0M630 1004.2h0M1455.8 902.5h0M1547.5 878.8h0M1645.3 844.3h0M952 695.5h0M1687.4 880.1h0M1718.1 865.2h0M1652.2 859.7h0M1615.2 691.2h0M1404.6 769.2h0M1058 666.7h0M876.9 488.1h0M443.9 927.2h0M1553.7 930.6h0M1467.6 888.3h0M657.5 599h0M1108.2 809.7h0M1704 860.4h0M1577.4 901.4h0M1052.3 485.2h0M1364.9 676.1h0M1223.7 569h0M1586.4 820.4h0M1170 798.7h0M879.7 512h0M654.7 1013.5h0M1619 942.5h0M1438.1 898.2h0M660.2 995.6h0M1039.3 478.1h0M1534.8 715.6h0M1229.7 564.2h0M901.4 1038.6h0M1488.2 813.2h0M1213 571.6h0M833.9 504.9h0M1512.6 864.6h0M1228.5 611.4h0M1181.1 796h0M1382.7 703.1h0M1143.8 618.9h0M1000 483.5h0M1607.7 835.8h0M1269.9 564.9h0M1129 806h0M1643.7 882.5h0M1624.4 852.3h0M888.4 490.6h0M893.3 1198.7h0M1016.8 657.2h0M1051.8 514.6h0M1538.1 755.1h0M1652.5 758.4h0M1342.4 776.3h0M1219.9 608.7h0M1721.3 812.9h0M1503.5 838.2h0M1012.3 503.9h0M1390.8 800.5h0M1563.6 928.9h0M843 1106.4h0M1564.9 947.6h0M1518.7 953.4h0M978.1 481.6h0M1397.8 884.6h0M914.6 502h0M1410.4 693.7h0M1726.7 826.1h0M1626.3 925.3h0M1640 914.9h0M1669.4 842.8h0M887 1074.5h0M1038.9 554.9h0M1438.7 786.6h0M351.6 880.4h0M1625.1 782.9h0M1544 782.7h0M1700 821.8h0M1517.8 744.9h0M1252.8 537.8h0M1621.2 913.7h0M848.4 1094.9h0M1159.1 556.6h0M1414 821.1h0M1724.9 794.5h0M1168.1 575.2h0M1575.3 913.6h0M982.5 707.1h0M1201 526h0M391.8 905h0M766.5 842.9h0M885.9 513.4h0M645.2 584.1h0M1233.8 628.2h0M986 504.3h0M1516.7 730.7h0M1622.2 756.8h0M1534.3 857.3h0M627.5 411.3h0M1484.7 768.9h0M997.1 673.5h0M688.6 1001.6h0M838.6 508.7h0M836.9 928.8h0M1165.4 569.1h0M1159.6 619.9h0M596.9 988h0M576.6 565.1h0M836 517.1h0M1260.6 634.3h0M1518.1 807.2h0M871.3 513.6h0M1026.7 481.2h0M1472.9 807.5h0M1572.9 898.8h0M1572 878.5h0M588.9 982.9h0M888.5 491.6h0M1208.9 583.7h0M884 1081.5h0M1443.5 880.4h0M941.7 691.9h0M657.7 1009.9h0M1516.4 919.7h0M1479.6 935h0M674.1 1012.3h0M1038.3 527h0M1099.7 486.2h0M1641.4 877.5h0M1346.1 946.2h0M868.9 502.3h0M1733.5 826.2h0M1140.4 599.1h0M1660.3 911h0M1195.2 571.5h0M1289.1 563.3h0M1564.9 881.3h0M863.2 1105h0M1460.6 746.6h0M1538.5 746.1h0M577.6 1032.4h0M1438.3 691.1h0M1310.2 640.7h0M1607.6 823h0M643 432.4h0M1123.9 265.2h0M558.1 968.7h0M1648.7 843.8h0M1221.1 546.5h0M1104 801h0M1399.3 892.2h0M1617.2 824.7h0M1516.4 841.6h0M647.9 987.8h0M1625.3 827.2h0M577.8 967.2h0M1264.4 622.6h0M1645.9 869.4h0M1659.3 841.1h0M1710.9 838.5h0M1584.6 758.6h0M1021.8 616.2h0M1054.1 928.5h0M631.6 988.6h0M1553.7 919.8h0M1633.6 890.7h0M1503.8 936.6h0M1580.1 735.4h0M545.8 955.5h0M1634.9 891.6h0M1412.2 780.9h0M1674.1 851.1h0M1639.8 665.9h0M504.7 936.7h0M1333.8 947.3h0M1302.1 809.5h0M1020.8 702h0M1714.7 801.6h0M1694.7 883.9h0M1475.8 739.7h0M903.1 1086.1h0M1187 504.2h0M1502.8 829.7h0M1598.2 795h0M1463.2 821.6h0M1147.1 264.9h0M917.9 484.8h0M1235.2 519h0M1496.6 893.9h0M1487.3 795.5h0M1126.5 557.1h0M602 984.2h0M704.1 955.7h0M1538.5 777.4h0M1440.4 863.1h0M1446.9 881.7h0M1552.2 945.7h0M1065.7 523.2h0M468.3 933.1h0M1579.4 802.1h0M1549.7 930.6h0M593 779.9h0M1628.8 666.7h0M1654.1 797.9h0M642.6 571.9h0M1685.6 863.1h0M459.2 927.5h0M1236.9 531.7h0M877.3 1177.1h0M1628.6 757.2h0M379.2 894.2h0M1475.7 778.7h0M871 512.7h0M1527 730.2h0M1539.1 870.8h0M1510 865.8h0M1118.3 503.7h0M705.7 1019.5h0M855.7 512.1h0M1647 867.4h0M1296.7 673.7h0M1622.2 824.7h0M1129.7 535.4h0M1153.3 563.8h0M1605 880.3h0M768.2 1051.4h0M1570.6 856.7h0M1541.7 862.7h0M992.7 677.7h0M1587.7 844.5h0M441.1 928.2h0M1004.6 477.1h0M1126.7 304.6h0M1458.4 901.1h0M1234.5 564.8h0M1391.9 745.2h0M1493.8 907.4h0M1405.1 743h0M1595.4 921.9h0M1683.5 908.6h0M1653.3 878.5h0M1074.1 615.7h0M1399.3 741.2h0M1523.6 823.9h0M1061.7 573.5h0M1091.3 822.4h0M1271.7 802.1h0M1651.8 883.8h0M1079.4 533.2h0M1742.2 806.1h0M961.6 473.9h0M1598.5 866.2h0M1271.7 586.9h0M1596.6 916.4h0M539.4 955.1h0"/>
<path stroke="#fea16e" d="M1185.9 534.3h0M603 561.9h0M1026.3 533.4h0M1269 583.4h0M1584.3 825.7h0M1488.4 897.6h0M985.4 708.3h0M963.1 672h0M1209 545.7h0M1096.5 1072h0M1613.7 919h0M1450.9 828.6h0M804.7 939h0M938.6 693.3h0M1444.9 729.9h0M1586 939.2h0M926.3 501.4h0M1102.2 576.1h0M1636.4 901.2h0M1658.8 884.1h0M1380.2 715h0M1061.9 518h0M918.9 1075.2h0M1516.5 864.1h0M1056.7 734h0M1460.4 922.7h0M653.2 985h0M1722.3 839.3h0M1673.2 904.2h0M1673.1 885h0M1523.2 827h0M1685.9 814.7h0M1132.3 536.7h0M716.8 732.8h0M1223.1 608.1h0M919.8 1070.1h0M1551.6 861.3h0M1310.9 665.8h0M1482 722.8h0M814.3 1024.9h0M1531.1 811.7h0M1618.7 750.5h0M788.6 1035.9h0M1552.7 912.4h0M1392.3 813.6h0M1001.1 688.3h0M1318.3 606.4h0M1495.6 897.2h0M894.6 505.2h0M1162.4 542.3h0M1525.6 936.9h0M1529.5 927.5h0M526.9 1001.8h0M1579 811.3h0M879.6 1095.8h0M432.8 928.7h0M1445.8 818.1h0M1109.2 528.5h0M1476.1 698h0M758.6 1041.6h0M1442.7 914.3h0M1543.2 838.9h0M1113.4 478.2h0M1533.7 920.9h0M1724.8 841.9h0M1604.6 789.7h0M1684.8 859.7h0M1259.1 784.5h0M1134.6 502.2h0M1697.5 899.5h0M1540.3 730.3h0M1259.2 589.5h0M1587.3 933h0M1643.5 834.6h0M1235.3 772.9h0M1572.8 826.7h0M1689 833.7h0M1473.9 708.8h0M1553.7 931.4h0M1141.8 520.8h0M1348.9 661.5h0M1488.8 800.3h0M1467.4 832.8h0M1136.2 610h0M1112.1 304.3h0M1213 774.6h0M1594.2 917.3h0M800.7 940.1h0M1529 941h0M1047 1074.5h0M1469.7 724.6h0M1191.9 607.3h0M1049.2 632.9h0M1247.8 613.4h0M1137.9 283h0M634 985.4h0M1261.8 783.8h0M667.9 728.1h0M1257.8 587.9h0M1557.8 875.3h0M1660.5 880.9h0M1530.8 834.8h0M774.3 1067.4h0M1607 904.5h0M835.7 1032.2h0M1529.7 841.2h0M741 1045.3h0M1478.6 853.9h0M1554.8 952.3h0M1447.2 810.3h0M1618.3 942.2h0M1041.8 632.3h0M1529.3 903h0M1541.5 782.1h0M1134.5 497.2h0M825.6 1041.9h0M1697.5 896.8h0M923.8 1061.7h0M1094.2 825h0M911.7 1045.4h0M368.3 894.3h0M1285.5 775.9h0M1665.4 928.2h0M1651.3 770h0M1534.2 901.7h0M1061.4 492h0M1572.6 901.7h0M816.9 1051.5h0M634.4 1005.2h0M533.1 1014.1h0M1172.6 594.3h0M1161.3 612.3h0M1357.1 684.7h0M1597.7 828.6h0M1391.3 681h0M1452.1 817.2h0M1291.6 787.8h0M1514.8 819.7h0M1570.5 902.3h0M602.5 587.5h0M929.1 1014.6h0M1271.9 631.2h0M1040.1 507.3h0M1524.1 906.8h0M920.6 1060.5h0M1111.1 630.4h0M1578.8 766.6h0M787.9 1050.7h0M1512.4 808.8h0M1178.8 557.9h0M1081.8 484.5h0M1260.5 769.4h0M1161 561.6h0M1086.9 1086.1h0M1145.6 485.9h0M1545.2 919.5h0M1460.5 882.7h0M1454.5 866.7h0M1566 915.5h0M1622.6 925.6h0M1259.1 601.1h0M441 927.3h0M1050.2 1071.3h0M1253.3 511h0M993.6 624.2h0M1263.6 594.9h0M1240.5 765h0M695.2 755h0M1539.4 928.9h0M1537.9 840.9h0M1493.7 765.8h0M1624.9 752.3h0M1101.5 817h0M1720.6 873.3h0M802 1052.2h0M1541.4 814.7h0M429.9 922.2h0M1134.3 801.5h0M1537.7 943.5h0M1445.4 852.6h0M944.3 1021.7h0M1242 803h0M1435.9 876.2h0M1413.8 734h0M1056.1 541.1h0M1150 569.6h0M1029.9 688.2h0M1301.6 770h0M1676 784.9h0M1671.7 918.3h0M1634.5 931.6h0M847.8 502.4h0M879.4 1097.9h0M1489.7 893.4h0M1553.1 837.6h0M1674.7 759.7h0M987.4 490.3h0M1721.3 881.7h0M1297.3 665.3h0M1554.6 943.4h0M740.6 1038.6h0M1136.4 572.7h0M1487.1 833.7h0M1109.5 786.7h0M1273.8 806.2h0M1228 629.3h0M1405.6 694.1h0M904.4 512.7h0M1647.9 867.9h0M829.8 929.7h0M1668.3 788.7h0M604.6 585.2h0M1070.9 1062.8h0M1456.5 887.1h0M1629.7 789.2h0M1083 801.5h0M1611.2 939.5h0M1118 809.3h0M1640 871.3h0M1676.5 767.3h0M1266.8 804.3h0M1075.3 808.6h0M1295.1 666h0M1584.3 886.2h0M1674 902.4h0M1071.4 519.8h0M792.9 1073.2h0M1599.8 925.4h0M1563.1 838h0M1669.1 813.3h0M1658.9 920.8h0M1709.6 822.1h0M1130 541.7h0M1628.2 939.9h0M1523.4 900.7h0M1623.4 694.9h0M706.5 932.3h0M1706.5 789.8h0M783.7 1042.5h0M1267.2 768.4h0M885.2 1195.2h0M1593.6 882.3h0M1710.1 869.3h0M1619.8 859.2h0M1045.4 531.1h0M1331.1 657h0M1204.7 591.4h0M1085.5 802.4h0M1712 796.1h0M797.7 1074.6h0M1171.1 584.5h0M1526.5 813.6h0M1558.3 794.8h0M802.6 1053.9h0M1554.7 808.4h0M812 1087.8h0M1685.6 900.9h0M1620.2 656.4h0M1516.6 830h0M1699.5 821.1h0M558.6 1022.9h0M1467.1 894.6h0M1234.6 565.7h0M406.3 907.9h0M871.8 1083.2h0M1574 908.8h0M996.8 485.8h0M1252.6 583.4h0M827.1 1030.4h0M1563 802.3h0M1104.6 544h0M1726.4 872.2h0M1622.3 933.7h0M1148.7 481.9h0M1429.6 875.9h0M1236.3 511.8h0M1183.5 620.8h0M1654.7 841.8h0M1086.9 791.7h0M1669.1 922.7h0M467.3 930.1h0M1441.2 854.9h0M988.3 504.3h0M1137.2 525.5h0M1593.4 796h0M1478.8 908.7h0M1263.4 773.6h0M684.6 1028.6h0M1609.6 884.7h0M1264.2 775.3h0M1661.3 886h0M1516.9 910.7h0M1613.1 879.9h0M589 581.5h0M1112.9 570.1h0M1040.7 492.1h0M1451.7 848.4h0M984.1 928.6h0M1530.8 798h0M432.6 924.8h0M1248.5 768.5h0M869.2 1102.5h0M1464.1 827.4h0M1447.9 893.9h0M1576.3 815.2h0M1271 807.2h0M996.5 656.6h0M1442.2 845.3h0M946.8 1081.1h0M1641.7 888.4h0M1294.7 804.1h0M644.7 415.5h0M921.1 1091.3h0M1108.7 816h0M1659 873.2h0M1261.3 808.8h0M1502.7 847.8h0M447.7 931.6h0M1553.7 865.1h0M1710.6 826h0M1608.3 660.8h0M1718.7 832.1h0M1528.6 729.2h0M738.4 1006.7h0M1112.7 479.9h0M1161.4 585.3h0M1107 819.8h0M1213.5 569h0M1160.1 516.4h0M1659.3 852.5h0M1026.8 503.9h0M1664.3 854h0M1737.7 861h0M1229.9 509.9h0M1323.4 754.6h0M1012.5 927.6h0M1631.4 820h0M986.8 693.3h0M1034.1 671.9h0M1086.7 812.3h0M1134.7 536.5h0M1609.9 807.6h0M984.5 679.8h0M1138.7 800.4h0M1483.5 921.3h0M789.9 927h0M1513.7 710.9h0M1452.7 927.1h0M1116.3 305.6h0M1253.1 555.4h0M936.2 495h0M1604 842.5h0M1477.2 894.8h0M1444.1 912.1h0M1093.8 564.4h0M1583.7 951.6h0M805.8 1026.6h0M1615.3 847.5h0M1084 801.1h0M1059.1 707.1h0M652.1 412.8h0M1569.6 887.6h0M1555.7 939.9h0M1561.4 704.8h0M1637.6 776.1h0M1626.1 918.7h0M1027 560.2h0M1127.9 593.6h0M1461.8 857.1h0M1165.6 489.5h0M1073.3 721.6h0M1404.5 886.5h0M1221.7 605.7h0M1386.2 797.1h0M1597.6 892.4h0M1720.2 799h0M1217.2 490.5h0M1467.1 928.2h0M843.5 1094.2h0M1196.9 479.4h0M988.1 476.2h0M1641.1 767.5h0M1481.6 888.4h0M420.3 913.2h0M1108.4 284.5h0M1624 887h0M1323 338.5h0M1543.7 909h0M1296.3 645.2h0M1331.1 776.4h0M1706.9 828.4h0M1141.3 623.9h0M1637.5 863.1h0M1309.4 775.6h0M1168 504h0M1687.3 856.5h0M880.7 1090.4h0M1058.6 529.3h0M1646.2 824.4h0M1580.6 679.5h0M1425.3 881.7h0M779.1 1041h0M998.7 1067.2h0M1470.7 860.7h0M973.7 477.8h0M1381.9 801.5h0M1203.4 785.7h0M1582.3 869.4h0M1692.7 852.6h0M1142.7 534.5h0M1493.7 800.8h0M1581.1 888.5h0M1362.2 680.6h0M1611.5 770h0M1328.1 640.9h0M1527 712.6h0M1543 883.3h0M752.8 845.5h0M1095.9 500.3h0M1690.8 905.6h0M1147.8 499.1h0M847.8 1062.5h0M985 485.5h0M1151.1 539.4h0M1114 304.2h0M1499.2 813.9h0M847.2 510.9h0M1144.9 541.9h0M1495.5 788.6h0M1504.6 797.6h0M1256.4 507h0M1625.7 837.9h0M836.1 1024.2h0M1371.4 779.2h0M943.9 930.6h0M1666.4 930.5h0M1359.8 939h0M1184.1 579.3h0M1465 904.4h0M1658 795.6h0M896.5 1196.8h0M1195.2 492.1h0M1468.1 806.5h0M1522.2 806h0M910.4 1056.2h0M1386.1 404.2h0M1058.8 535.2h0M887 1103.1h0M1615 916.7h0M1009.2 480.8h0M1638.5 679.5h0M1679.3 831.4h0M1442.8 855.3h0M1657.9 798.2h0M1448.5 744.7h0M1722.4 858h0M1267.9 611.8h0M1356 769.9h0M1693.6 847h0M1677.8 899.6h0M661.1 433.1h0M1529.8 723.7h0M1019 504.4h0M1719.6 871.8h0M1644.2 869.6h0M1586.4 929.1h0M942.5 1066.4h0M1501.8 841.4h0M911.5 489.6h0M859.9 511.9h0M561.7 966.3h0M1121.3 555.8h0M1086.4 818.6h0M1668.1 821.4h0M1006.2 477.4h0M1334.9 349.6h0M979.4 701.2h0M1432.2 905.2h0M1525.7 727.2h0M1593.2 831.9h0M1735.8 808.6h0M1564 880.3h0M1712 795.9h0M1498.5 860.9h0M944.3 1059.2h0M1532.1 895.8h0M1440.4 889.8h0M1697.5 785.2h0M665.2 580.8h0M1437.5 846.1h0M1578.4 873.7h0M675.9 440.2h0M1249.5 602.5h0M1482.9 764.3h0M1721.1 803.2h0M1512.2 871.7h0M1606 881.9h0M1649.9 781.2h0M1538 770.9h0M1688.3 848.9h0M872.3 1064.1h0M1188.9 482.6h0M939.2 1054.6h0M929.4 477.2h0M1226 530.9h0M833.5 1025.8h0M1735.7 821.3h0M1306.4 317h0M1571.7 813h0M1025.1 709h0M1462 834.6h0M1131.1 291.9h0M1009.1 474.5h0M1080.8 823.4h0M683.2 955.3h0M1618 853.9h0M1427.6 825.4h0M1556.2 824.1h0M1468.6 773.4h0M1509 851.2h0M1335.5 947.7h0M1485.5 927.6h0M623.1 578.3h0M1461.7 779.6h0M1441.3 891.7h0M1184.2 478.1h0M1552 805.2h0M1263 807.3h0M1258.3 772.5h0M1702.4 788.8h0M1114.7 496.1h0M1053.8 652.4h0M1683.1 915h0M1686.2 872.9h0M979.8 516.6h0M1214.8 495.3h0M1206.4 609.5h0M703.4 945.9h0M1405.3 738h0M1543.3 835.4h0M825.8 956.1h0M1108.2 502.1h0M1420.2 744.5h0M1604.9 825.5h0M564.5 967.8h0M1269.1 615.2h0M768.8 1019.4h0M1639 810.5h0M1236.9 495.9h0M1601.1 789h0M1163.3 527.8h0M1531.1 763.9h0M844.4 1053.4h0M1537.9 838.1h0M1546 944.1h0M646.6 976.8h0M1200.9 482.7h0M687.9 958.3h0M1470.7 894.1h0M1406.6 885h0M1558.3 885h0M1636.4 873.5h0M1482.1 810.7h0M1016.9 621.5h0M1066.3 474.3h0M1551.7 898.7h0M834.7 1093.3h0M615.9 555.9h0M1527.6 843.9h0M1647.5 899h0M811.7 937.4h0M1707.1 870.7h0M1689.9 780.7h0M455.1 927h0M1603 939.6h0M1525.8 846.3h0M1495.5 832.3h0M1576.1 831.6h0M1396.7 891.6h0M1004.3 483.9h0M1457.5 902.3h0M909.9 1048.9h0M1034.4 496.3h0M1613.5 848.5h0M1539.6 802.8h0M1457.8 741.3h0M1085.5 807.6h0M933.1 1044.4h0M1367.1 689.6h0M1663.3 882h0M1254 595.8h0M1391.8 396.6h0M1346.4 363.8h0M1510.1 919.6h0M1619 754.1h0M1434 919h0M1430.1 748.8h0M1152.1 797h0M1663.8 888.8h0M1602.1 880.4h0M1481.7 924.3h0M413.8 916.1h0M1531.9 883.8h0M1594.9 945.2h0M979.5 1010.7h0M1499.7 875.1h0M1641.8 842.5h0M965.2 1011.8h0M1195.6 788.3h0M1009.9 628.9h0M1018.3 718.3h0M841 1032.2h0M964.4 479h0M608.3 1028.2h0M1634.9 924.5h0M359.2 889.1h0M1212 783.5h0M1529.5 900.2h0M1584.9 746h0M1579.3 767.8h0M858.2 1039.6h0M1637.5 932.5h0M356.8 884.6h0M1211.5 609.6h0M428 917.1h0M1069.1 498.4h0M977.5 495.4h0M1029.6 1071.2h0M1491.1 803.3h0M423 914h0M1208.2 596.2h0M1600.4 742.2h0M837.9 1049.3h0M1705.1 824.1h0M1667.8 852h0M1516.8 785.8h0M1517 898.8h0M826.9 981.8h0M1443.8 828.8h0M837.2 277.4h0M1536.6 702.8h0M1015.1 926h0M1530.6 847.8h0M1666.6 855h0M1393.3 396.6h0M654.5 1015.3h0M1108.1 808.3h0M1544.9 770.1h0M1110.8 579.3h0M667 445.1h0M892.9 1079.9h0M1438.5 740.3h0M1635.3 757.7h0M1289.3 803.7h0M1677.7 763.4h0M1038.3 495.7h0M1186.5 528h0M1136.5 607.6h0M1273.8 543.5h0M836.3 1065.5h0M1140 561.4h0M809.4 1020h0M748.1 1041.6h0M608.7 581.4h0M1232.4 508h0M1544.1 896.8h0M709.6 947.9h0M1002.5 758.4h0M1026.9 607.3h0M1595.9 665.2h0M1225.2 616.2h0M778.3 1075.3h0M1598.6 767.2h0M1177.7 565h0M768.2 1025.6h0M1529.8 827.3h0M1452.8 833.9h0M775.4 1032.7h0M1553.1 813h0M1208.8 566.7h0M942.2 690.6h0M1605 944.2h0M1420.3 813.6h0M1197.6 511.3h0M1571.8 849h0M1642.3 865.2h0M1088.4 819.3h0M1076.7 897.2h0M1174.8 555.7h0M1476.1 919.1h0M1119.7 494.7h0M873.4 514.2h0M1545 945.3h0M499.9 939.8h0M1693.1 886.2h0M803.5 919.2h0M1315.4 623.4h0M1736.8 840.7h0M1198.2 608.6h0M1535.2 884.7h0M888.8 507.2h0M1608.5 901.6h0M1624.3 656.2h0M1080.9 630.5h0M1027.2 675.3h0M923.3 495.9h0M607.2 929.9h0M1236.3 560.9h0M1232.4 497.2h0M1653.3 798.7h0M1311.3 322.8h0M989.1 1065.3h0M1556.9 788.8h0M660.5 589.2h0M1518.4 790.8h0M1633.5 775.8h0M718.3 950.4h0M1510.6 933.6h0M1541.5 838.5h0M1745.3 834.3h0M699.9 1003.1h0M1567.1 925.3h0M1635.6 933.6h0M1696.9 853.2h0M1458.4 854.5h0M1647.9 919.7h0M1710.5 791.1h0M1066.7 1070.2h0M1553.6 811.9h0M711 731.6h0M1495.2 840.8h0M1008.8 503.4h0M834.4 972.4h0M984.9 1064.7h0M809.5 1059.1h0M1152.2 536h0M1191.4 596.2h0M654.4 572.1h0M1601.5 920h0M1619 859.7h0M1661.9 881.8h0M1494.2 887.1h0M1176.2 588.6h0M1056.1 524.2h0M917.5 1076.9h0M1552.1 704.6h0M697.2 932.5h0M688.4 1019h0M1019.1 561.3h0M588.2 578.3h0M1100.8 531.7h0M1058.8 546.6h0M1446.2 831.3h0M640.8 575.9h0M1446 823.6h0M1224.3 498.5h0M1504.8 780.5h0M1095.6 538.7h0M1441.3 724h0M1713.9 818.2h0M1083.3 612.7h0M1449 729.8h0M1400.8 812.3h0M1475.8 828.9h0M930.1 1081.4h0M1261.9 751.4h0M1172.4 565.7h0M1545.7 858.7h0M1175.8 629.8h0M913.1 491.5h0M446 931.5h0M1458.6 766.6h0M1489.6 896.2h0M1099.7 561.4h0M945 1017.2h0M1100.1 470.2h0M1532.6 927.8h0M1663 916.3h0M1581.5 783.2h0M1403.6 883.6h0M1366.3 677.4h0M1305.2 642.9h0M1501.3 869.1h0M1606.5 763.1h0M816.7 970.2h0M1471.5 807.7h0M1387.9 397.7h0M1138.9 299.4h0M1575.4 845.1h0M1219 612.5h0M1011.2 690.8h0M1458.6 886.1h0M1070.9 477.6h0M1233.1 598.1h0M1138 801.9h0M1520.4 942.3h0M1625.7 914.5h0M561.4 999.6h0M1262.2 536.3h0M785.8 1069.2h0M669.5 436.8h0M1137.9 482.9h0M1504.8 762.8h0M1105.8 816.8h0M1084.6 493.1h0M1544.1 828.1h0M1132 263.2h0M1215.8 774.1h0M1008.6 489.2h0M1492.3 827.1h0M1387 670.5h0M1668.6 862.7h0M1232.5 537.9h0M847.8 1038.2h0M795.3 1057.7h0M1593.4 849h0M1624.7 753h0M1635.7 769.1h0M1607.6 894.7h0M517.4 951.8h0M939.1 1069.6h0M1441.9 821.3h0M1070.8 487.2h0M1221.8 483.6h0M1462.3 845.1h0M1708.5 889.6h0M1398.4 885.2h0M1688.7 766.4h0M1582.2 949.9h0M1609.5 910.2h0M1591.2 944.9h0M1639.6 899.2h0M1601.3 828.7h0M804.2 918.5h0M1337.7 659h0M954 540.8h0M1018.7 500h0M1264.9 802.5h0M1496.5 920.7h0M1535.9 961.9h0M1457.7 828.5h0M1058.9 929.8h0M1624.5 843.5h0M1602.7 847.3h0M948.8 703.1h0M1205.2 562.1h0M766.8 841.2h0M942.3 928.6h0M1537.8 920.4h0M1551.4 816.7h0M1536.2 849.1h0M1551.9 817.2h0M1631.3 689.7h0M1657.9 790h0M1645.4 902.2h0M1621.5 823.6h0M1254 549.4h0M1427 791.5h0M1139.3 478.9h0M920 1023.7h0M1566.3 911.1h0M1083.1 818.2h0M1382.5 708.4h0M1218.8 549.8h0M1085.2 799.7h0M1549.7 881.2h0M1588.1 883.3h0M1227.5 549.1h0M1218.2 557.1h0M862.3 1092.6h0M1027.5 482h0M971.1 486.4h0M1640.9 930.8h0M1025 722.8h0M1533.2 929.5h0M1138.1 799.5h0M1635.4 767.9h0M1522.1 808.6h0M993.9 713.2h0M1632.7 926.7h0M1524 843.6h0M1611.1 678.2h0M798.4 1085.8h0M1438.5 858h0M659.5 720.6h0M782.9 1075.3h0M1657.9 853.8h0M1006.8 488.4h0M1458.8 895.3h0M1150.7 279.6h0M1619.4 778h0M649.2 435.6h0M1672.8 835.3h0M1627.2 887h0M1437.4 847.2h0M1227.4 600.6h0M1483.1 884.5h0M1021.6 681.1h0M967.2 704.3h0M1221.5 798.5h0M645.1 580h0M732.4 958.6h0M1671.3 821h0M1664.4 840.1h0M1533.6 864h0M635.6 568.1h0M1315.2 663.9h0M1510.9 874.5h0M1010.3 613.4h0M1022.8 715.6h0M685.7 727h0M1620.6 828h0M1542.5 813.2h0M1101.8 537.1h0M1080.8 826.1h0M1368.1 828.4h0M600.1 583.9h0M1203.8 801.4h0M1310.5 664.7h0M637.7 1001.4h0M1491.2 707.7h0M1317.5 605h0M952 679.2h0M1242.2 781.4h0M1472 931.4h0M1674.5 880.1h0M1537.8 900h0M821.1 1037.5h0M1506.1 728.7h0M1611.5 865.1h0M1494.7 855h0M1707 888.8h0M1301.9 666h0M1037.4 520.9h0M961.6 683.5h0M1399.1 779.6h0M935.7 1016.2h0M1550.7 932h0M950.6 736.1h0M1414.8 903.3h0M1174.6 539.3h0M1195.3 493.8h0M1613 913.2h0M1512.8 823.5h0M1543.8 786.3h0M1711.8 793.9h0M1717.9 815.4h0M815.6 1045.6h0M897.6 1103.1h0M556.4 996.4h0M1657.2 900.9h0M1535.8 904.4h0M1681.2 843.8h0M672.2 1011.2h0M868.1 1012.3h0M1532.5 954h0M735.4 1003.5h0M1668.1 826h0M1537.8 866.4h0M654.9 579h0M821.1 966.9h0M1384.9 935.4h0M649.7 993.9h0M896.3 1081.7h0M1495.9 804.3h0M1162.3 497.7h0M1232.6 773.9h0M1260.3 598.2h0M1103.1 284.4h0M573 581.6h0M982.4 714.5h0M998.5 624.6h0M851.3 292.5h0M864.6 1105.6h0M1544.5 785.9h0M1536.3 798.8h0M1677.4 798.2h0M1016.4 678.4h0M1515.7 794.1h0M1685.2 830.9h0M1604.1 677.2h0M1700.9 841.4h0M991.6 927.2h0M1204.2 550.5h0M1632.1 711.4h0M1159.2 624.9h0M468 932h0M1592.2 843.9h0M529.3 1003.8h0M1007.4 827.7h0M1225.3 619h0M1172.9 589.3h0M1631.8 677.2h0M1569.8 877.6h0M1551.9 874.3h0M1616.6 841h0M661.9 740.5h0M1605.3 904.9h0M1305.1 664.9h0M1136.5 600h0M872.6 498.5h0M1590.3 784.4h0M1222.6 490.5h0M1116 539.3h0M1506.3 855.1h0M815.4 1039.9h0M1378.9 688.9h0M1421.8 689.7h0M1201.4 578.4h0M1623.7 751.6h0M816.3 230.7h0M1485 903.4h0M1638.4 780h0M1141.8 501.7h0M1726.5 807.1h0M1227.4 549.1h0M1563.6 891.9h0M1564 894h0M1305.6 319.1h0M1663.6 800.5h0M1480.1 929h0M1492.5 831.8h0M1128.8 288.4h0M874.1 1063.7h0M834.5 976.8h0M1253.9 598.4h0M1340.5 773h0M1600.9 758.5h0M1225.7 585.6h0M1503.8 873.5h0M855 1041.4h0M1485.8 706.5h0M1454 864h0M1622.2 764.2h0M1356.4 941.7h0M1579.3 919.6h0M1548.6 906.5h0M1133.1 533.7h0M1714 814.8h0M808.6 1074.3h0M1171.4 489.1h0M1562.6 772.8h0M1109.2 275.2h0M1147.8 794.7h0M1118.4 580.8h0M364 889.9h0M1417 909.4h0M1152.7 551.6h0M1296.1 292h0M1604.9 842.5h0M1529.4 934.5h0M1509.2 858.4h0M1243.7 553.7h0M547.6 959.1h0M1623.8 711.4h0M1186.2 488.2h0M1668.3 819h0M1585.9 922.4h0M1703.9 822.5h0M1520 740.7h0M996.5 489.5h0M901.3 1082.2h0M1391.6 398.4h0M1108.7 810h0M1292 617.3h0M1086.2 739h0M1418.4 691h0M1592.2 797.1h0M1074.9 643.2h0M1478.9 714.4h0M1504.3 814.2h0M1361.2 716h0M1201.1 627.9h0M1597.1 883h0M1600.8 736.9h0M1600 757.3h0M1629 759h0M1212.2 587.1h0M1695.9 884.5h0M1446 690.3h0M1423.6 877.1h0M995.8 714.4h0M1543 873.7h0M1064.1 524.4h0M1098.2 624.6h0M1605.3 900.6h0M1021.1 694.8h0M580.4 555.5h0M866.2 1038.6h0M426 922h0M1505.2 734.5h0M834.7 953h0M1746.4 834h0M1427.2 708.5h0M1622.1 675.6h0M1483.2 786.7h0M1268.8 635.6h0M881 1185.9h0M1179.1 602.9h0M1438.5 925.6h0M1165.7 271.5h0M1575.8 931.1h0M1506.9 937.5h0M1515.4 893.6h0M1542.8 779.6h0M1099.6 573.7h0M1160.5 523.9h0M1594 813.9h0M1398 731.3h0M1429.5 892.3h0M1263.6 623.2h0M1155.3 523.6h0M1007 706.3h0M1497.2 795.8h0M626.1 410.1h0M1351.7 821.9h0M1627.8 819.8h0M1219.8 502.2h0M1495.4 768h0M1618.7 933h0M1659.5 914.6h0M1164.8 545.2h0M1465.7 893.8h0M1215.8 540.5h0M1226.3 550.5h0M1623.6 911.1h0M1298.7 666.6h0M1583.3 923.3h0M1496.8 840.7h0M797.4 1030.3h0M1678 902.1h0M1331.7 629h0M1324.3 810.6h0M1018.1 690h0M1091.5 567.2h0M1293.5 622.4h0M1409.5 709.8h0M1513.1 793.1h0M1691.9 802.2h0M1710.6 820.2h0M1033.1 1066.9h0M1103.4 550.9h0M1589.2 830.5h0M641.7 980.6h0M1310.6 649.5h0M901.2 1106.4h0M1542.8 832h0M1487.7 789.4h0M669.7 1023h0M1510.4 944.7h0M1271.2 637.6h0M1353.2 942.2h0M1247.4 508.7h0M1667.3 798.5h0M1397.3 810.2h0M1242.5 613.4h0M860.5 1083.1h0M1391.7 756.9h0M1071.6 535.2h0M1479.1 851.3h0M1570.5 915h0M1597.9 849.5h0M1584.6 903.5h0M1280.1 633h0M1586.5 868.1h0M980.3 701.6h0M1064.2 539.5h0M1459.2 815.2h0M706.7 944.2h0M1491 885.8h0M1003.9 493.2h0M1529.7 827.1h0M1662.3 913.2h0M1293.2 644.7h0M1018.1 1070.8h0M1002.3 494.9h0M1022.2 526.7h0M1340.3 668.9h0M1192.4 591h0M1094 822.4h0M1243.7 590.9h0M885.5 1046.1h0M777.2 1040.2h0M1528.5 832h0M1664.4 902.7h0M707.9 943.1h0M1598.3 797.5h0M659 433.4h0M863.7 511.5h0M622.2 567.1h0M1572.6 840h0M1214.5 493.7h0M1063.8 485.6h0M835.2 1022.5h0M1101.5 806.6h0M1487.6 853.4h0M834.5 981.4h0M1403 898h0M1040 475.6h0M1630.1 864.4h0M1293.9 657.6h0M1494.6 928.9h0M1345.8 362h0M1071.9 656.2h0M1269.6 543.8h0M542.8 1008.8h0M1386 936.1h0M1305.9 683.1h0M1609.5 762.5h0M1451.7 752.5h0M1051.3 697.3h0M842.7 1002.7h0M779.8 1037.6h0M1076.9 885.7h0M1635.2 751.7h0M979 711.5h0M1257.9 566.8h0M1513.8 945h0M1083.8 826.6h0M1470.6 762.3h0M578.1 553.8h0M1299.6 778.1h0M882.2 1038.5h0M1567.4 815.7h0M656.3 441.1h0M1674.6 829.2h0M1578.5 945h0M1584.3 859.8h0M1222.1 602.8h0M1683.5 784.6h0M964.8 492.2h0M1655 884.5h0M870.1 499.3h0M1111.7 806.3h0M645.5 571.7h0M1163.4 621.4h0M1359.8 679.1h0M1651.8 927.8h0M861.6 1090h0M951.8 752h0M924.6 1076.1h0M1714 825.6h0M1179.7 589.8h0M1035.2 633.3h0M1121.6 571.5h0M1443.1 823.6h0M1268.4 770h0M708.5 934.4h0M1247.3 535h0M1034.5 720h0M1515.6 911.4h0M1536.9 864h0M1554.3 828.6h0M1510.5 851h0M1605.7 912.5h0M1479.3 904h0M1201.4 553.9h0M1450.7 881.8h0M1216.3 622.7h0M1592.7 897.8h0M1105.9 528.9h0M966 673h0M1278.7 585.7h0M1595.6 877.8h0M950.8 670.5h0M1529.3 735.6h0M1129.7 508.4h0M1091 521.1h0M950.3 488.9h0M1030.5 1064.8h0M1513 742.8h0M895.5 957.9h0M1473.2 806.8h0M1564 937.5h0M1642.4 825.2h0M1143.1 540.5h0M1034.2 633.2h0M1182.6 631.5h0M1442.3 915.4h0M1484.7 697.6h0M1510.7 720.9h0M1578.8 829.1h0M1628.1 917.2h0M1115.1 554.8h0M1478 836.1h0M1466.8 895h0M415 916.6h0M1633.2 869.3h0M1674.3 919.6h0M1613 870.1h0M1516.9 933.4h0M1528.8 906.6h0M671.9 734.7h0M1575.2 802h0M409.2 913.9h0M1644.2 776.8h0M1545.6 889.4h0M687.3 738.6h0M812.4 929.7h0M504.4 935.3h0M1549.9 843.3h0M1429.3 803.4h0M1699.4 837h0M1385.7 780.7h0M496.7 941.2h0M1550 691.2h0M1597.7 825.6h0M749.3 1009.9h0M1696 888.4h0M1178 524.3h0M1613.6 827.3h0M1045.2 528.5h0M1192.4 535.4h0M661.9 592.4h0M1691 878.7h0M1615.8 886h0M1532.3 876h0M1642.5 801h0M1403.4 788.7h0M1123 553.1h0M1188.8 483.1h0M1232.7 605.5h0M1071 501.7h0M1155.6 496h0M1522.9 939.8h0M1618 857.5h0M432.9 922.7h0M1261.7 559.4h0M622.9 1000.8h0M1223.6 771.9h0M485.3 939h0M1100.5 506.3h0M1263.5 561.4h0M1315.1 763.8h0M1605.4 660h0M1636.1 879.4h0M1042.6 529.1h0M1185.9 509.4h0M1505.8 807.9h0M1214.3 563.5h0M411.4 914.5h0M1352 943.4h0M1636.4 759.3h0M1267.4 799.9h0M1072.1 495.5h0M716.4 949.8h0M674.2 720.1h0M1679.5 878.4h0M1708.8 870.3h0M1701 789h0M1688.3 870.2h0M1130.3 538.4h0M1328.4 812h0M1292.9 664.1h0M1526.8 706.6h0M1499.3 795.6h0M1303.1 580.5h0M1041.8 501.4h0M774 1031.8h0M1022.2 606.4h0M690.7 956.9h0M1648.5 906.6h0M1613.5 666.5h0M1217.5 772.4h0M805.8 1061.2h0M1089.4 734.9h0M1557.8 807.6h0M1423.6 881.6h0M1468.6 711.4h0M1621.3 917h0M1489.1 912.4h0M1721.1 816.4h0M1382.9 762.1h0M651.4 979.8h0M1563.1 771.7h0M1287.4 787.9h0M1108.1 596.9h0M715.9 939.7h0M1249.5 543.8h0M1713.8 777.9h0M1510 907.2h0M1107.9 567.5h0M1135.1 602.7h0M1215.4 604.5h0M1060.4 524h0M1042.9 483.4h0M1137.2 498.4h0M1610.1 659.2h0M852.5 1093.5h0M1162.7 590.2h0M1729.6 846.8h0M753.5 1040.2h0M1135 551.1h0M647.8 417.3h0M536.5 1013.6h0M1515.5 860.5h0M1250.6 550.2h0M790.3 1022.7h0M831.8 257.4h0M1725.3 866.9h0M1212.8 798.9h0M1270.7 605h0M1426.1 888.5h0M1542.2 721.7h0M1298.1 782h0M486.7 941.3h0M1245.6 548.5h0M557.8 1001.2h0M1649.9 812.3h0M1581.1 781.7h0M993.3 684.9h0M1185.4 552.7h0M1526.5 860.4h0M1668.7 869h0M1437.1 877.7h0M1094.1 813.3h0M1493.6 877.6h0M1467.2 924.9h0M1214.5 590.9h0M1458 892.7h0M757.3 1032.1h0M423.9 915.8h0M373.3 892.3h0M1158.3 283.9h0M1431.6 761.9h0M1197.1 607.4h0M1641.7 715.7h0M1519.9 844.6h0M1470.4 862.6h0M1555.6 860.5h0M1618 782h0M1521.5 886.3h0M1584.3 919.3h0M813.3 1055.4h0M1594.7 675.2h0M1370.1 732.3h0M856.3 1050.8h0M1525.4 897.9h0M1229.5 561h0M1457.2 873.8h0M1570.7 804.1h0M1131.2 504.8h0M1494.2 869.3h0M665.6 571.8h0M1438 826h0M1590 784.5h0M952.3 1070.1h0M1582.9 827.6h0M1551.1 894.2h0M1302.1 678.7h0M582.9 561.2h0M1713.8 795.5h0M798.7 1051.5h0M871.2 1098.6h0M1500.9 937.5h0M842.5 1085.8h0M1079.7 808.1h0M1352.2 696.3h0M837.6 976.3h0M674.5 571.2h0M1477.4 917.5h0M1007.7 614.7h0M1535.9 899.9h0M1652.3 914.8h0M1691.4 837.4h0M1692.5 804.3h0M813.8 934.6h0M1007.2 683.7h0M1446.9 814.9h0M1653.1 850.4h0M937.2 1090.6h0M1470.4 815h0M1122.7 555.3h0M1506.3 719.4h0M1637.8 789.2h0M1633.8 757.4h0M1060.2 668.7h0M928.5 1017.8h0M774.7 1033.5h0M1585.5 793.1h0M1479.4 694.1h0M1034.4 507.4h0M1093.6 568h0M861.9 1070.3h0M1340.1 675h0M1610.5 883.8h0M1408.8 677.5h0M1619.1 880.8h0M1706.6 792h0M579.2 787.7h0M1057.8 584.9h0M1446.8 692h0M1560.6 908.9h0M1028.2 504.8h0M478.6 935.8h0M1598.1 888.7h0M1690.7 785h0M1554.3 830.3h0M1567 938.8h0M1523.8 906.5h0M1695.7 855.7h0M965.4 492.3h0M1413.9 876.9h0M437.4 926.4h0M1227.1 773.7h0M751.9 1017.5h0M1528.6 875.5h0M1299.3 609.8h0M1143.2 478.9h0M1662 784.7h0M1511.6 792h0M1493.1 817.9h0M1312.5 646.8h0M1241.4 779.8h0M777.2 1068.4h0M405.8 907.6h0M1405.1 815.9h0M1697.8 810.8h0M865.3 1079.3h0M1035 481.3h0M1664.8 912h0M1305.2 672.5h0M1133.8 284.3h0M1262.4 565.6h0M1057.6 1072.3h0M1540.5 909.7h0M1589.2 803h0M1511.7 947.4h0M1456.9 699.1h0M1479.2 824.4h0M1643.1 907.8h0M947.9 482.4h0M734.4 1037.4h0M1623.5 854.8h0M1313.7 784.3h0M1522.1 926h0M1699.9 830.1h0M1482.2 936.3h0M1434.4 709h0M1498.1 758.1h0M1709.5 880.2h0M1271.5 568.5h0M1113.6 545.5h0M1417.5 881.8h0M876.5 1026.4h0M1573 813.4h0M1629.6 775.7h0M1636 757.7h0M1000.9 660.9h0M1701.8 810.3h0M1113.2 488.9h0M1319.3 664.7h0M1673.7 842.4h0M612.5 1034.7h0M1581.3 951.7h0M1039 476.6h0M1315 660.4h0M1458.2 703h0M1135.6 515.7h0M1480 887.2h0M1694 784.1h0M1202.2 586.1h0M1161.9 540.7h0M1651.4 863.5h0M1559.9 926.2h0M1341.6 790.6h0M1314.5 672.9h0M981.1 680.8h0M505.1 939.9h0M834.4 1040.8h0M1548.4 938.2h0M1552.4 837.5h0M1077.3 886.9h0M777.5 1024.5h0M1239 629.9h0M1530.5 806.3h0M1482.7 888.8h0M1299.5 806.7h0M1174.6 624.1h0M855.2 1083.2h0M633.4 455.6h0M704.3 933.8h0M1732.7 858.8h0M1533.9 942.9h0M1275.4 640.4h0M1552.8 805.9h0M1572.3 938.4h0M1418.3 722.6h0M777 1016h0M468.3 932h0M1610 862.1h0M1598.9 766.5h0M1127.7 540.6h0M1498.5 876.7h0M1056.4 474.2h0M693.7 715.6h0M1030.3 501.5h0M1606.1 914.8h0M1496 693.4h0M836.6 957.6h0M839 1040h0M1609 944.1h0M1662.3 831.2h0M974.7 689h0M1455 928.5h0M1064.3 642h0M1469.4 881.7h0M1602.6 772.6h0M1166.3 534.4h0M1014.1 615.3h0M885.6 500.5h0M601.4 570h0M1358.9 669.5h0M1506.7 886.4h0M1459.4 861.6h0M1683.6 845.7h0M747.5 840.8h0M1647.6 830.7h0M1542.3 827.4h0M1538.2 790.1h0M1219.4 489.8h0M1565.6 906.1h0M1585.5 939.6h0M1369.3 936.4h0M1565.6 875.7h0M1694.3 775.5h0M1616 819.1h0M1298.8 777.2h0M1590.1 901.8h0M1626.7 751.5h0M1531 888.4h0M1311.5 771.3h0M1719.4 841.5h0M1511 722.7h0M1563.7 930.6h0M1321 667.5h0M968.7 1011.7h0M816.7 1088.6h0M1460.5 895.5h0M1619.6 796.3h0M1514.2 902.3h0M822.5 508.7h0M1658.6 809.8h0M1653 756.5h0M1185.9 530.2h0M957.4 1077.3h0M857.4 1061.2h0M1445.8 718.1h0M1076.3 510h0M898.9 1096.9h0M1660.6 846.3h0M976.1 485.7h0M816.2 1048.4h0M646 1010.7h0M571.4 568.7h0M1450.6 694.8h0M1440 912.2h0M1591.5 806.9h0M1608.8 793.4h0M943.3 487.4h0M1700.3 843.9h0M1220 771.6h0M625.9 570.7h0M1042 1064.5h0M722.2 737.7h0M547.4 1018.4h0M897.4 502.1h0M1512.7 710.7h0M606 427h0M1195.5 523.8h0M1375.4 759.6h0M1202.6 543.2h0M850.8 1044.1h0M940.9 1055.6h0M1627.4 912.3h0M767.4 842.2h0M1493 880.6h0M1697.9 794.8h0M1454.6 882.3h0M1438.2 860.7h0M1614.7 839.3h0M1670.6 824.2h0M1068.2 531.3h0M1624.7 883.6h0M1643.7 925.5h0M1408 896.6h0M1666.5 845.6h0M1260.1 566.4h0M1293.7 788.6h0M1642.8 876.2h0M1254 625.7h0M1633.4 857.9h0M1099.7 815.5h0M1246.1 540.1h0M1289.5 746.9h0M1144.5 586.4h0M1605.3 932.8h0M875.2 1103.2h0M1683.5 818.3h0M1269.7 560.4h0M1587.3 921.2h0M827.7 1075.6h0M1302.3 575.5h0M441.6 928.3h0M1554.7 871.1h0M1072.5 1079.6h0M1640.1 767.8h0M1261.8 781.6h0M1435.7 884.9h0M1538.1 777.7h0M1592 824.5h0M874.5 1035.2h0M1106.5 805.3h0M1469 693.1h0M1052.3 520.3h0M1500 930.2h0M1557.2 828.7h0M1297.7 777.3h0M1152 515.3h0M1577.1 809.7h0M1575 938.3h0M1566.7 938.6h0M812.2 1070.1h0M1577.1 776.6h0M1188.1 584.2h0M1216.8 557.3h0M1128.7 611.9h0M1569.7 823.6h0M835.9 951.2h0M1009.5 510.8h0M957.5 683.4h0M798.4 1064.1h0M1173 602.1h0M1632.3 849.9h0M1551.8 814.1h0M703.2 927.3h0M1101.7 802.2h0M1519.9 805h0M1582.3 792.8h0M1036.6 826.9h0M1636.4 818.2h0M1555 793.4h0M659.7 583h0M1073.4 1076.2h0M1260.5 779.4h0M1311.6 320.3h0M790.7 1041.7h0M1120.4 585.2h0M1631.6 764.7h0M1721.8 863.5h0M1333.7 347.6h0M1584.8 919.6h0M1143 268h0M804.3 921.9h0M1476.6 819.8h0M1296.4 664.1h0M1596.7 857.9h0M1618 849.2h0M1540 862.8h0M807.9 939.2h0M1227.4 545.1h0M855.3 1095.3h0M1126.2 477.8h0M1513.3 863.6h0M1632.4 911.2h0M710.5 725.8h0M1459.5 819.2h0M820.8 1092.3h0M1618.4 854.4h0M1452.7 741h0M1493 930.2h0M1516.6 807.5h0M1414.8 891.4h0M1430.9 701.1h0M805.7 315.3h0M1623.5 892.3h0M1520 939.9h0M1163.7 560.9h0M779.4 1045.9h0M919.4 500.2h0M1641.6 764.8h0M1590.8 853.1h0M1482.3 810.7h0M1275.3 779.5h0M924.4 477.9h0M1467.6 931.1h0M1370.8 783.4h0M792.1 990.3h0M1645.6 832.1h0M1556.6 950.9h0M1604.1 671.3h0M496.5 939.1h0M1412.8 856.6h0M1050.3 474.4h0M1638.7 678.4h0M1010.9 486.9h0M1142.5 569.2h0M1574.6 922.7h0M1025.4 496.8h0M1637.3 909h0M1427.4 871.5h0M954.2 703.4h0M1615 825.9h0M1730.7 848.5h0M703.7 928.4h0M900.4 528.2h0M1681.3 857.3h0M1588.6 947.7h0M1303.3 670.1h0M1192.9 793.2h0M1093.7 551.3h0M1530.1 931.9h0M758.1 1036.1h0M1492.6 864.4h0M1247.4 523.1h0M1461.4 866.1h0M681.1 710.3h0M1348.8 820.8h0M1324.7 773h0M1630.9 681.8h0M897.4 1072h0M1435 701.4h0M1239.4 509.3h0M1222.1 577.6h0M788.8 1044.3h0M1199.7 546.6h0M1491.2 882.9h0M1661.4 879.8h0M1730.3 861.1h0M1622.7 856.4h0M1361.4 921.4h0M1576.7 786.8h0M1152.5 564.9h0M1651.5 882.6h0M1549.2 711.3h0M1511.7 942.2h0M1553 912.2h0M1509.7 870.2h0M953.5 1015.3h0M1364.8 674.4h0M1627.3 760.1h0M544 1009.9h0M1676.9 880.9h0M1242.5 780.9h0M350.7 881.6h0M1681.2 791.7h0M333.9 869.5h0M1204 783.9h0M1212.2 776.7h0M1493.5 813.3h0M1657.6 825.9h0M1607.3 875h0M1086.6 738.5h0M1525.3 897.7h0M851.3 504.6h0M668.7 971.9h0M1297.9 594.6h0M1213.5 517.5h0M1403.9 707.4h0M1456.9 768.1h0M1063.7 927.4h0M1678.5 911.1h0M1440.9 830.4h0M894.3 1100.7h0M806.2 1024.8h0M1673.3 838h0M1477.4 877.1h0M696.9 734.5h0M1468.8 857.6h0M1607.3 809.8h0M1698.5 803.7h0M1334.8 948.4h0M1685.9 874.2h0M1461.4 928.6h0M1313.7 603.6h0M1126.6 585.3h0M1430 816h0M1634 887h0M1243 599h0M1192.1 483.9h0M797.7 1062.8h0M1538.6 827h0M1498.3 740.4h0M1129.3 590h0M654.5 418.9h0M1204.4 570.8h0M1545.4 706h0M1560.6 954.7h0M1593.6 762.9h0M1716.7 817.4h0M917.9 1090.5h0M1014.7 480.4h0M1537.6 881.4h0M550.3 447.8h0M864.7 1071.5h0M1695.1 892.7h0M1140.5 263.3h0M1200 609.9h0M1657.3 908.7h0M867.5 1078.4h0M1706.9 830.6h0M1583.2 951.6h0M1002.9 675.9h0M1670.9 764.3h0M1194.8 481.3h0M722 1026.9h0M697.9 1002.7h0M1222.5 523.8h0M1228.7 614.9h0M1023.9 1069.6h0M1493.2 880.9h0M1493.2 755.7h0M1493.6 931.9h0M871.1 1093.4h0M922.6 497.7h0M1483.2 824.4h0M1630.5 914.9h0M1586 803.5h0M1541.4 954.6h0M1446.8 715.4h0M1229.6 529.3h0M1534.4 811.3h0M1178.6 483h0M1581.4 859.6h0M1583 903.6h0M1494.9 841.7h0M1453.7 886.3h0M1591 791.5h0M1464.9 752.8h0M1556.8 883h0M1574.7 771.7h0M1648.4 851.3h0M1608.4 927.3h0M1714.7 824.4h0M1283.8 626.7h0M1709.6 830.4h0M1148.4 479h0M1701.7 795.5h0M1278 776.5h0M763.3 1024.2h0M1664.1 864.1h0M1055.8 704.5h0M1136.4 289.1h0M1475.8 752.6h0M941.6 481.8h0M1397.1 719.2h0M649.1 1006.8h0M991.8 712.4h0M1124.6 608.9h0M1496.7 795.9h0M1474 805.9h0M1520.6 881.5h0M538.8 952.1h0M1591.7 768.9h0M1548.5 798.1h0M1185.2 582.3h0M798.5 1087.2h0M1572.6 830.3h0M1604.3 848h0M1490.5 860.9h0M1257.2 515.4h0M1570.4 912.4h0M832.4 1083.1h0M1491.8 741h0M1239.1 796h0M1483.5 761.1h0M1064.2 709.7h0M1706.8 825.8h0M1658.6 850.8h0M1233.6 633h0M1164 477h0M1110.7 963.4h0M1531.7 905.1h0M806.7 1090.8h0M1290 293.5h0M1074.2 818.1h0M1067.6 930h0M1582 952.8h0M1033.5 487.1h0M1106.4 619.5h0M1128.6 275.8h0M689.3 1004.6h0M580.9 562.4h0M1081.6 502.1h0M1485.8 819.3h0M1099.8 273.3h0M1282.7 775.6h0M1560.7 894.8h0M1071.1 1068.2h0M1362.2 708.7h0M1571.4 789.7h0M1460.8 916.8h0M635.7 571.9h0M1639.6 826.1h0M655.6 427.6h0M1369 785.7h0M561.1 996.6h0M1288.2 807.1h0M1734.5 803.6h0M1719.3 873.5h0M1564.2 779.1h0M1503.7 834.3h0M896.6 505.6h0M403.9 906.6h0M1598.2 749.7h0M1629.4 658.9h0M1436 892.7h0M1651.6 935.1h0M1521 872.9h0M1600.7 900.2h0M996.6 476.6h0M1269.2 631.4h0M1285 576.7h0M1056.8 492.9h0M1651.5 784.3h0M1744.4 851.9h0M554.5 945.7h0M890.6 1086.6h0M1509.2 832.4h0M817.1 250.1h0M1458.5 854.3h0M869.2 1041.2h0M1643.9 903.2h0M1637.6 859.7h0M1499.8 797.5h0M1681.3 772.2h0M1385.7 842.9h0M1343.5 389.7h0M1042.4 1064h0M1417.1 732.2h0M743.5 1012.6h0M1637.8 916.1h0M1108 804.8h0M1134.1 803.9h0M952.3 686.9h0M964.7 1058.4h0M1631.1 813.7h0M1493.5 722.6h0M1513.4 804.9h0M1288.7 776.8h0M1481.9 844.6h0M1285.7 607.2h0M1085.1 495.2h0M1709.3 841.8h0M1333.2 661.6h0M1163.1 515.2h0M1585.3 766.5h0M1560.1 900.6h0M714.3 936.4h0M964.9 1013.7h0M1183.8 795.4h0M1042.8 571.7h0M1310.7 780.8h0M1373.8 678h0M1629.3 813.7h0M1248.5 801h0M1557.9 769.1h0M1527.4 868.7h0M1532.5 950.2h0M1187.8 626.5h0M1206.1 529.3h0M1580.9 917.7h0M1696.6 878.1h0M1696.7 815.1h0M859.5 510.3h0M1697.1 856.8h0M517.3 939h0M453.5 925.7h0M1010.4 689.1h0M1508 760.6h0M1611.6 840h0M1384.8 732.6h0M1621.2 786.5h0M1525.5 901.9h0M1628.5 914.3h0M356.2 885h0M1271.8 558.9h0M1318.9 676.3h0M1544 843.7h0M453.1 927.9h0M1691.7 789.8h0M1060.6 667.1h0M1477.9 830.7h0M1730.4 869.6h0M1262.3 549.9h0M1476.5 850.2h0M1470.7 925h0M1424.5 817h0M1573 849.3h0M1316.7 674h0M1693 823.8h0M1394.3 400.8h0M871 1042.7h0M836.5 927.1h0M884.5 1058.3h0M1507.9 955.1h0M1527.1 865.8h0M695.2 954.6h0M1597.2 909h0M1031.4 517.5h0M541.7 994.9h0M1284.7 654.1h0M1669.8 864.7h0M1721.8 786h0M1428.9 899.9h0M1204.9 781.7h0M1004.1 713.8h0M1616.6 861.8h0M1619.3 767.3h0M780.3 1063.7h0M1174.9 587.9h0M1284.2 604.2h0M1075.2 815.8h0M1481.5 805.1h0M1661.9 778.2h0M330.6 868h0M1076.7 525.8h0M1512.9 801.7h0M1568.4 768.5h0M1161.1 552.4h0M1429.3 743.1h0M1657.6 889.3h0M1007.1 513.2h0M1535.1 863.6h0M1584.5 855.7h0M1682 908.2h0M1671.8 848.1h0M1138.7 519.6h0M1081.9 536.4h0M1686 813.4h0M1671.4 908.5h0M1377.1 668.3h0M1429.6 776.4h0M1309.2 285.7h0M1542.1 839.6h0M1515.4 920.3h0M875.8 1041.4h0M401.6 904.3h0M1091.4 827.3h0M1674.8 894.8h0M1623 661.7h0M791.4 1074.8h0M1608.5 928.4h0M986.4 708.4h0M1505.9 807.6h0M1129.5 547.3h0M1082.8 819.6h0M1656.2 917.7h0M884.3 1086.3h0M1450 901.4h0M1261 779.2h0M1225.8 495.9h0M661.4 587.5h0M766.3 1053.3h0M1675.9 899.5h0M1190.3 631.4h0M1489.4 869.2h0M1587.7 905.6h0M1164.7 561.7h0M1184.8 541.7h0M1662.8 897.3h0M1449.5 689h0M1060.2 737.2h0M582.4 1037.9h0M798.9 1064.3h0M1445.3 718h0M1706.4 846.9h0M1429.7 683.8h0M1544.9 810.3h0M788.6 1045.1h0M838.2 1098h0M646.6 582.4h0M1558.7 850.6h0M1700.7 866.1h0M1306.2 803.4h0M1680.2 782.5h0M1693 889h0M1502.5 796.9h0M524.2 951.2h0M1169.3 616.9h0M891.6 1201.5h0M431.1 925.5h0M1418 888.6h0M1014.7 492.2h0M1487.5 887.4h0M1707 782.3h0M1589.2 804.4h0M1011.2 1070h0M1650.7 905.2h0M1248.7 576.1h0M1233.4 497.8h0M1008.3 720.9h0M1326 814.9h0M1163.6 618.8h0M1546.9 846.8h0M1017.9 487.3h0M1423.6 893.3h0M1465 820h0M333.5 870.6h0M954 531.8h0M927.2 1089.2h0M1444.5 849.5h0M784.5 1056.2h0M1433.9 902h0M1181 547.9h0M1163.3 610.4h0M969.3 672.2h0M1510.9 955.5h0M1656 852.6h0M1562.7 949.5h0M1497.1 728.1h0M1153.4 514.7h0M1639.2 941.8h0M1154.4 619.3h0M1295.7 650.8h0M1726.3 801.2h0M1438.1 848.5h0M1200.2 621.9h0M1102 568.3h0M1499.5 811.8h0M1127.7 496.1h0M1441.7 858.1h0M1161.7 513.2h0M1508.5 815.8h0M1670.5 761.1h0M1504.4 738.3h0M1506.5 818.2h0M1577.6 884h0M1516.6 716.8h0M1603.5 910.2h0M1105.5 801h0M1010.5 475.3h0M1726.3 795.9h0M1246.9 614.7h0M1541.1 865.8h0M1336.6 646.9h0M1467.8 876.1h0M1369.3 718h0M929.1 1016.4h0M1451.4 701.4h0M1205.8 782.8h0M1630.3 843.9h0M643.2 597.2h0M1597.1 750.2h0M1459.2 735.9h0M1175.2 514.4h0M1196.6 502.8h0M1348.2 942.9h0M1689.1 793.2h0M775.7 1054.1h0M1082.3 737.6h0M1692.6 859.3h0M1194.1 634.5h0M671.6 1022.8h0M1132.2 806.1h0M956.4 931h0M1392.3 783.7h0M815.5 1030.7h0M1577 864.8h0M1566.7 811.1h0M1672.2 769h0M1647 867.5h0M962.4 499.6h0M1000.7 486.9h0M1143.8 563.6h0M1299.1 779.8h0M1593.7 815.3h0M1524.7 906h0M1413 793.3h0M1499.4 822.3h0M1048 926h0M1123.4 496.9h0M1453.1 873.7h0M911 1047.2h0M867 1041.2h0M1588.9 795.7h0M1680.6 864.5h0M1724.2 859.1h0M1456.1 852.9h0M881 1041.1h0M1252.8 612.4h0M1544.3 953.4h0M1587.4 884.9h0M552.3 947.9h0M1212.8 585.2h0M1028.8 497.4h0M1030.9 654h0M1523.9 794.5h0M635.5 984.1h0M1529.9 903.2h0M414.4 914.2h0M1627.2 828.7h0M1406.3 886.9h0M1603.4 756.1h0M1212.7 629h0M1211.1 604.9h0M1281.9 595.6h0M975.6 687.9h0M1638.3 874.2h0M537 951.5h0M877 531.8h0M1486.3 895.4h0M1553.4 871.7h0M1244.3 777.9h0M1552.9 887.8h0M1304.1 592h0M1512.5 920.1h0M484.1 933.7h0M830 1055h0M795.6 1074.4h0M1197.8 508.6h0M979 490.2h0M1614.1 743h0M1115 810.8h0M1463.5 735.9h0M1508.3 816h0M1029.9 489.8h0M1098.3 821.8h0M1174 562.9h0M913.7 1075.7h0M1415.1 821.2h0M1187.6 483.6h0M1229.1 797.2h0M1670.6 796.4h0M1664.5 929.1h0M1592.8 791.5h0M972 519.8h0M1561.3 887.8h0M1710.2 809.9h0M1626.4 823.8h0M1119.2 280.8h0M1412.8 719.7h0M914 1095.1h0M1106.5 950.7h0M1171.3 617.1h0M1540.6 798.4h0M1588.2 790.7h0M1169.1 613.7h0M1414.5 716.3h0M701.7 725.2h0M453.1 927.4h0M581.7 1051.3h0M1022.3 676.9h0M1619.2 930h0M1544.5 773.3h0M1517.4 710.2h0M1488.1 894.8h0M1075.7 1084.3h0M1588.1 817.7h0M1125.4 603.4h0M1512.2 793.1h0M1564.1 908.3h0M1687.7 887.3h0M1498.7 873.6h0M1405.3 710.3h0M592.2 582.8h0M1186 516.5h0M1146.7 508.2h0M875.6 1196.1h0M1562.4 786.6h0M1544.4 812.5h0M1042.8 511.4h0M1297.9 623.5h0M1527.3 795h0M1619.4 873.5h0M1724.1 846.5h0M1484.7 728.4h0M1064.9 929.2h0M1606.6 750.3h0M1535.8 908.3h0M1507.1 790.1h0M1612.4 774.4h0M1146.7 505.6h0M1612.5 842.5h0M1105.2 509.5h0M1602.5 751.2h0M1436.2 891.2h0M1578.7 911.7h0M1600.3 864.3h0M554.4 945.8h0M514.6 947.6h0M1514.6 909.5h0M1738.7 838.7h0M1560.9 884.3h0M1587.6 830.3h0M1454.4 841.8h0M1032.4 495h0M1373 757.1h0M567.5 555.2h0M1509 728.9h0M1353.8 687h0M992 681.5h0M816.4 963.2h0M779 1063.5h0M1046.6 504.1h0M1394.5 753h0M1377.3 732.9h0M699.4 733.4h0M1406.1 747.4h0M1541.4 924.6h0M1432.8 713h0M1418 761.9h0M769.1 1024.3h0M1613.4 818.9h0M1647.8 845h0M904.2 488.9h0M891.8 1106.2h0M1491.3 706.5h0M581.2 978.1h0M1456.4 854.9h0M1483.3 868.6h0M1599.1 843.4h0M1563.4 910.2h0M1017.9 677.8h0M1645.1 915.1h0M815.6 1057.4h0M1176.1 795.6h0M1274.3 642.5h0M1265.1 780.5h0M1033.2 928.2h0M500 940.1h0M1494.6 863.1h0M1208.3 515.2h0M1218.6 619h0M1246.4 803.4h0M600.1 564.6h0M824.6 514.1h0M1467.3 772.6h0M713.1 925.2h0M1598 813.7h0M1218 774.8h0M768.7 840.5h0M1673.5 843.7h0M1670.5 793.7h0M1595.7 815h0M1189.6 606.2h0M1218.3 474.7h0M1649.9 765.2h0M1273.2 637.1h0M958.1 1065.1h0M1143.1 556h0M628.2 1000.5h0M952.1 1082.7h0M1450.2 920.2h0M1253.2 515.4h0M1537.2 824.2h0M1668.7 924.5h0M1245.8 614.2h0M1470.5 743.9h0M809.3 1038.5h0M1630.3 785.7h0M1514.7 842.4h0M1002.8 649.1h0M1295.7 602.2h0M1065.4 630.7h0M1497.5 699.2h0M1049.4 542.4h0M1520.9 855.7h0M934.1 1047.3h0M1431.3 844h0M1206.5 507.6h0M1005.8 679.1h0M423.5 916.1h0M1030.6 532.2h0M1252.2 522.1h0M1345.7 362.6h0M1533.3 806.5h0M750.9 1033.4h0M1418.3 874.9h0M477.5 933.3h0M813.3 1090.1h0M1610.2 655h0M536.8 950.2h0M1249.8 519.8h0M641.2 978.8h0M1509.9 951.5h0M1600.1 809.9h0M1271.7 801.6h0M1190.9 517.9h0M1604.9 934.4h0M1599.4 803h0M1598.9 754.6h0M1018.9 1070.4h0M1636.9 857.4h0M845.2 1088.8h0M1049.5 524.4h0M669.4 753.6h0M1515.6 808.7h0M1634.2 852.9h0M1094.4 526.5h0M1281.7 604.3h0M1446.3 855.2h0M1554.9 805.5h0M1486.7 712.8h0M550.7 1011.8h0M1577.4 931.9h0M827.1 1044.4h0M1324.4 668h0M1034.5 717.4h0M999.6 511.1h0M1483.2 897h0M842 1039.5h0M1438.4 845h0M1033.4 481.4h0M1570.9 815.3h0M992 657.2h0M1662 916.8h0M1585.1 846.6h0M1093.8 824.8h0M1545.9 881.4h0M847.7 1090h0M1495.3 720.9h0M1528.7 702.8h0M1557.7 837.6h0M614.1 416.2h0M1468.6 931.8h0M541.5 1017.2h0M757.6 853.4h0M1717.8 851.5h0M1124.4 308.9h0M901.1 1030.3h0M930.8 494.8h0M1063.2 1065.3h0M958.2 487.8h0M1146.3 550.6h0M1460.6 773.9h0M1492.9 876.3h0M1388.2 933.9h0M1179.4 609.7h0M868.6 1035.5h0M1505.9 871.1h0M1637.9 772.4h0M1650.6 853.4h0M1468.8 776.6h0M889.8 1001.3h0M951.6 1065.1h0M1633 936.5h0M1672 808.3h0M1018.1 521.6h0M746 1021.6h0M760.8 856.6h0M1000.9 927.6h0M1481.7 850.8h0M1474.8 812.7h0M1232.8 591.6h0M1385.4 934.2h0M776.5 1068.4h0M1428.7 742.1h0M1268.2 771h0M1213.9 518.2h0M1605.1 760.4h0M1557.4 790.7h0M1474.4 806.5h0M1493.3 804.6h0M1271 772.5h0M934.6 1067.3h0M1713 800h0M1508.3 782.6h0M1526.9 809.5h0M1514.9 825.1h0M607 1034.9h0M1094.7 470.1h0M1215.4 778.9h0M783.1 1031.9h0M1112.5 577h0M1208.4 528.9h0M1534 809.4h0M1529.6 893.1h0M1352.5 349.7h0M1575.1 878.9h0M859.3 1094.5h0M1670.2 903.6h0M1550.2 945.1h0M1509 803.3h0M889.2 1057.3h0M1182.3 580h0M1636.9 914.2h0M1702.4 795.9h0M1247.8 581.1h0M1713.2 781.2h0M624.5 564h0M1299.3 663.6h0M872.4 1035.2h0M1427 904.3h0M1742.3 845h0M872.7 1094.1h0M381.2 899h0M829.9 1053.2h0M1606.9 908.4h0M879.7 499h0M892.2 1057.7h0M1624.3 887.4h0M1263 594h0M1440.3 823.6h0M1163.8 591h0M1276.5 613.1h0M663.9 586.9h0M1685.8 889.3h0M1115.4 482.3h0M1573.9 777.4h0M1111.7 491.3h0M1704.5 772.4h0M1666.8 848h0M1604.7 862.5h0M1453.3 855.8h0M1034 1066.6h0M1451.8 858.4h0M622.2 576.1h0M816.6 1029.7h0M1495.1 893.1h0M688.9 1006.2h0M726.2 749.8h0M1696 901.3h0M875.9 1052.7h0M1024.8 480.7h0M1462.2 894.7h0M1738.3 868.5h0M1532.2 932.4h0M1485.3 733h0M1027.3 686.8h0M1343.9 946.1h0M1714.3 794.8h0M1545.1 840h0M362 884.8h0M1619.9 795.7h0M725.9 737.2h0M1316.2 642.5h0M1081.2 559.9h0M976.3 677.8h0M1217.7 799.1h0M1007.4 472.1h0M1516 872.5h0M1082.1 733.6h0M1466.4 911.2h0M786.4 1022.6h0M1566.1 871.8h0M1666.1 778.6h0M1481.9 934.5h0M1660 798.2h0M1262.5 589.4h0M1612.7 917.8h0M1502.1 830.9h0M1288.6 618.8h0M1584.1 847.8h0M1310.8 667.4h0M1346.6 819.9h0M775.7 1043.1h0M824.1 929.4h0M1168.8 533.1h0M1115.9 508.8h0M1505.3 843.1h0M1499.3 794.2h0M1315.2 657.9h0M1053.9 559.2h0M1207.9 800.8h0M1197.2 598h0M1452.1 842.9h0M1507.2 889.5h0M1380.1 717.2h0M1633.4 863.4h0M1723.6 822.1h0M1012.8 499.9h0M1520.9 950.2h0M1625.5 794.4h0M1305.5 671.3h0M854.4 1093.8h0M1483.2 854.3h0M1722.8 822.8h0M1562.5 864.4h0M1620.8 825.9h0M1160.9 593.6h0M1661.2 813.1h0M1482.3 707.1h0M950 1068.1h0M1154.1 563.4h0M1673.3 913.3h0M1211.1 482.5h0M1522.9 890h0M813.4 1076.7h0M1054.9 529.7h0M1701.6 780.2h0M1533.4 946.9h0M1502.4 768.3h0M1040.8 531.7h0M1561.7 921.3h0M1525.6 840.1h0M1029.2 717.5h0M1261.9 782.4h0M1210.8 476.2h0M871.9 1029.8h0M1124.6 277.6h0M1649.6 915.6h0M1642.4 762.5h0M1697.8 878h0M1562.7 817h0M1450.5 843.5h0M1549 792.5h0M1453.7 876h0M1092.3 820.5h0M740 1007.1h0M1405.8 885.7h0"/>
<path stroke="#feaa74" d="M1655.4 778h0M1645.2 904h0M1637.3 789.9h0M1071.2 534.6h0M1504.7 789.3h0M896.5 1071h0M1237.2 774.8h0M1579.6 942h0M1673.6 770h0M1018.2 507.5h0M1668 908.9h0M1555.1 797.9h0M1006.1 475.9h0M871.8 1092h0M1497.5 849.1h0M1698.8 819.7h0M1254.2 552.4h0M1491.2 703.8h0M1230.3 802.7h0M1073.3 1074.9h0M1710.1 804.1h0M419.9 916h0M364.4 890.1h0M1338.2 627.8h0M1392 889.3h0M1570.9 883.5h0M1572 781.4h0M1411.4 774.9h0M808.3 1065.6h0M435.3 924.5h0M1275.4 631.2h0M1708.5 869.6h0M1103.6 256.6h0M927.6 476.2h0M1682.4 812.8h0M1251.3 775h0M1500.3 823.2h0M1654.2 790.7h0M1480.3 922.3h0M1634.1 911.4h0M1706.2 834.3h0M999.3 754h0M1554.8 823.9h0M1460.5 850.5h0M1255.9 775.8h0M1629.5 808.7h0M1156.8 538.5h0M1052.6 484.1h0M817.9 1071h0M1562.3 792.2h0M1481 921.3h0M1161.1 273.4h0M1610.5 848.2h0M1635.4 754.5h0M1478.9 691h0M1217 518.6h0M1701.6 866.1h0M1233.5 568h0M1594.4 910.9h0M1265.1 575.3h0M1574.4 808.6h0M1191.4 617h0M1736.4 841h0M1375.5 708.8h0M1544.4 879.1h0M1332.8 627h0M1635.7 689.8h0M1106.3 955.2h0M645.9 981.1h0M1661.6 770.8h0M1510.7 800.3h0M1265.1 625.9h0M1703.7 841.4h0M1501.7 860.9h0M1735.1 812.4h0M1360.4 938.2h0M1343.5 946.6h0M952.8 696.4h0M1404.5 742.8h0M1077.1 721h0M1598.4 950.4h0M1237.8 537.2h0M1496.9 798.8h0M1467.7 761.3h0M1025.7 569.9h0M1586.8 940.7h0M1064.1 646.5h0M1620.5 826.1h0M842.6 279.9h0M1608.8 688.4h0M1521.3 851.8h0M1435.3 887.5h0M1568.2 799.6h0M866.3 1101.2h0M1500.8 875.5h0M1250.9 566.5h0M1032.8 608.6h0M894.5 1067.3h0M977.1 519.5h0M1351.9 654.3h0M999.9 510.3h0M1133.6 611.4h0M789.8 1036.2h0M1543.6 841.2h0M1324.6 813.7h0M1450.3 869.1h0M1626 831.3h0M706.3 929.3h0M1688.5 806.6h0M1493.9 876.6h0M1730.5 827.9h0M1439.6 846.9h0M867.4 1080.3h0M702.4 1005h0M1150.9 523.6h0M1468.9 820.6h0M817.5 1053.3h0M1280.9 605.5h0M985.8 708.8h0M1400.8 885.5h0M671.8 582.5h0M772.6 1071h0M1109.8 804.8h0M1243.2 619.9h0M331.6 870.7h0M1055.2 1079.7h0M1202.2 538.7h0M1726.7 843.7h0M1386.8 681.5h0M920.6 498.2h0M1606.1 685.1h0M974.8 671.7h0M1539 835.3h0M531.8 1006.6h0M891.5 1078.7h0M1403.6 785h0M1733 808.6h0M862 1080.3h0M1168.3 597.9h0M621 409.9h0M1703.4 777.5h0M1440.1 866.6h0M736.6 1019.7h0M1009.8 477.9h0M881.3 1056.5h0M1379 768.5h0M1407.7 788.8h0M1554.8 896.5h0M1427.6 772.3h0M1626.9 895.9h0M1593.2 865.3h0M1114.8 510.7h0M1606.6 850.2h0M1141.6 484.6h0M1579.7 839.9h0M646.6 438.8h0M1448.1 762.4h0M1221 617.4h0M1251.6 500.4h0M1160.2 542.4h0M931.5 1047.6h0M1455.8 816.9h0M1702.5 821.1h0M1595.5 845.7h0M900.7 1053.4h0M1539 771.6h0M1648.4 870.8h0M1254.9 802.5h0M1295.7 782h0M1081.4 523.4h0M684.6 954.2h0M1288.3 747.5h0M1681 919.6h0M1308.5 780.7h0M966.8 1075.2h0M1697.8 902.4h0M828.9 919.8h0M849.4 514.7h0M1267.7 579.5h0M1206.1 534.3h0M844.2 1100h0M1379 662.2h0M1269.2 291.3h0M1418.8 730.1h0M1477.7 919.8h0M1448 778.8h0M1275.2 294.8h0M1056.1 930.3h0M953.6 681.6h0M437.9 925.8h0M809.7 961.7h0M1030.5 702.9h0M1501.5 904h0M889.5 527h0M1599.4 853.3h0M1516.5 813h0M1306 807.2h0M1740.4 817.7h0M1355.7 691.9h0M955.4 502.5h0M1629.1 789.2h0M1211.5 534.2h0M1562.6 785.6h0M1309.4 603.5h0M1517.6 852.4h0M1489 734.5h0M1466.3 856.9h0M1250.1 611.3h0M832.3 947h0M1504.6 866.8h0M1417.7 722.6h0M1067.6 488.5h0M1690.1 877.9h0M1216.8 775.6h0M1692.7 855.1h0M1130.9 480.3h0M1172.2 507.7h0M1464 891.5h0M1461.3 730.4h0M1515.5 764h0M1391.6 744.1h0M1214.6 637.6h0M1559.7 933.3h0M1661 815.8h0M943.6 483.9h0M1669.7 868.7h0M1587.3 778.8h0M1481.1 833.5h0M892.6 483.9h0M1080.4 728.3h0M1539.3 939.8h0M1140.1 499.2h0M1506.1 936.3h0M1507.7 870.3h0M520.4 941.3h0M1483.9 710.9h0M1501.4 894.6h0M1575.5 756h0M1632 751.9h0M856.1 517.4h0M1536.8 892h0M754.9 1045.5h0M873.2 1086.8h0M1027 1072.7h0M1448.9 803.5h0M1543.8 807.5h0M1151.7 577.6h0M963 1066.1h0M954.6 1073.2h0M1344.8 943.9h0M1205.5 801.9h0M875 1078.9h0M1529.9 949.7h0M1524.5 912.5h0M1706.8 878.7h0M1427.8 904.8h0M1437.3 923h0M1372.2 664.3h0M1600.1 944.1h0M1479.1 829.2h0M1502.2 769.4h0M1412.2 798.3h0M1150.5 622.7h0M1719.4 838.2h0M1520.8 784.6h0M830.7 978h0M1530.8 955.7h0M1623.5 783.2h0M1615.1 804.9h0M1559.3 759.5h0M1337.4 395.1h0M1518.5 721.5h0M1216.5 610.6h0M591.5 571.2h0M1588.8 811.3h0M753.1 1026.4h0M1092.8 821.9h0M1661.7 780.6h0M1610.5 872.1h0M1096.5 1070.3h0M665.4 592.7h0M1232.5 776h0M1345 635h0M1465.6 866.8h0M845.9 1028.2h0M1139.2 800.9h0M771.8 1011.4h0M958 693.7h0M908.3 1024h0M1496.1 710.1h0M1702.6 870.5h0M1140.5 520.7h0M1467.3 934h0M1086.1 625.7h0M1610.7 694.3h0M380.7 898.8h0M972.1 495.5h0M1562.3 789.3h0M805 1086.8h0M1086.7 737.6h0M1217.3 573.1h0M1117.7 254h0M1197.7 786.3h0M1137.6 568.6h0M754.1 835.2h0M912.4 478.7h0M1521.9 805.7h0M1444.3 775.7h0M410.1 911.7h0M1651.3 873.9h0M1469.1 875h0M1191.6 561.3h0M1064.3 511.7h0M1617.2 814.5h0M1247.5 584.6h0M947 924.3h0M1183.7 551.6h0M1658.2 781.7h0M1573.6 916.2h0M1693.9 888.2h0M1277.6 295h0M1108.9 575.6h0M1182.3 556.2h0M1651.5 816.3h0M651.7 440.8h0M1279 602.4h0M1581.7 894.4h0M1107.4 510.5h0M1536.9 874.4h0M1569.6 839h0M586 575.2h0M1634.5 679.8h0M1548.7 704.1h0M1031.7 585.6h0M1542.4 900.3h0M1691 771.5h0M802.1 1087.3h0M654.8 424.3h0M1200.5 633.7h0M1300 773.3h0M1527.1 855.8h0M1677.4 778.2h0M1261.4 634.8h0M448.2 929.5h0M558.1 966.9h0M1650.9 774.7h0M1410.8 895.1h0M1555.5 725.5h0M1406.5 748.4h0M1246.6 805.1h0M1370 663.7h0M1203.4 485.7h0M1027.1 527.9h0M1577.1 762.5h0M1079.5 520.2h0M1524.2 908h0M1307.2 644.9h0M1468.5 850.8h0M1165.9 626.9h0M1494.2 700.6h0M481.1 939.7h0M1659.7 926.9h0M1384.5 936.8h0M1478.8 854.1h0M1530.7 923.7h0M1142.4 604.4h0M857.2 1080.2h0M1137.4 603.3h0M1291.5 804.7h0M1113.9 961.6h0M860.2 1111.3h0M1281.5 579.8h0M903.5 1063.3h0M767.4 1041.5h0M1164.5 590.5h0M1197.9 560.5h0M1598 796.8h0M1271.8 570.6h0M1178.6 523.4h0M848 1029h0M769.6 839.6h0M1150.6 581.4h0M1181.7 556.8h0M729.8 1007.2h0M1500.9 774.2h0M1032.6 1067.4h0M1559.4 922.2h0M1550.1 842.2h0M1065.5 520.7h0M1353.7 940.3h0M664.2 587.9h0M1054.6 607.1h0M646.7 978.2h0M1149.6 483h0M1490.8 878.4h0M1171.6 565.6h0M1062.3 515.6h0M1488.3 821.4h0M1564.1 892.9h0M1546.4 907.1h0M1047.5 473.8h0M699 733.8h0M1046.1 1077.7h0M1107.2 477.9h0M1541.3 898.2h0M938.4 1089.6h0M891.5 1051.5h0M1722.2 803.8h0M956.3 1009.3h0M1222.7 776.7h0M1272.7 809.5h0M1586 903.5h0M1669.5 908.9h0M1567.9 911.1h0M1564.6 934.5h0M1120.6 627.2h0M1241.4 600.5h0M1619.2 939.1h0M1013 684.9h0M1674.6 860.7h0M1672.3 787h0M1050.8 492.6h0M987.7 488.4h0M766.6 863.6h0M894.8 1035.1h0M1574.1 878.6h0M1484.3 915.5h0M1252.3 576.8h0M1640 827.7h0M1734.6 795.5h0M1617.6 857h0M1455.9 925.7h0M839.8 271.2h0M1242.8 805h0M1612 826h0M838 1051.4h0M1491.2 917.6h0M638.4 575.6h0M850.5 1067.6h0M1690.1 802.5h0M1532 825.4h0M1446.2 818.9h0M1441 688.8h0M1659.5 806.3h0M669.5 436.6h0M1433.8 853.4h0M1626.7 786.8h0M1120.7 578.1h0M1571.2 818.5h0M1294.9 617.2h0M1707.3 883.7h0M856.8 1086.1h0M1596.7 755h0M1015.4 522h0M1703.1 769.4h0M1673 829.7h0M1343.6 690.5h0M1496.8 854.2h0M1640.1 833.5h0M1508.4 918.4h0M1144.5 533.1h0M1517 721.6h0M1024.9 1065.4h0M855.1 1064.8h0M1141.3 502.4h0M681.8 957.3h0M1373.6 690.2h0M1199.7 517.7h0M1214 497.6h0M1624 814h0M1230.4 487.6h0M1505.2 848.5h0M1470.9 853.1h0M1512.9 897.6h0M605.2 1038.9h0M1307 661.6h0M1523.3 782.5h0M1551.4 782.4h0M1393 805h0M1480.9 756.6h0M651.4 1025.5h0M931.2 1075.6h0M839.8 1023.9h0M1429.2 819h0M1591.2 931.3h0M1333.9 948.2h0M984.4 670.9h0M1183.9 512.7h0M993.9 759.3h0M1088.6 815.1h0M1437.5 735.1h0M1671.9 876.3h0M942.4 490.4h0M1585.1 753.5h0M1171.2 529.9h0M1663.2 807.1h0M962.4 699.2h0M1468.1 860.7h0M1710.5 852.1h0M1137.8 572.5h0M1442.5 921.9h0M1449.5 792.5h0M619.5 1011.7h0M1305.6 616.2h0M1205.8 549.4h0M1396.6 739.7h0M1609.9 898.3h0M1686.4 809.2h0M866.4 1064.8h0M1627.9 821h0M1648.8 812.9h0M1098.6 503.5h0M1326.9 814.3h0M1154.6 551.4h0M1498.2 731.2h0M1324.4 666.7h0M641.6 1016.1h0M1408.6 746.9h0M1737.9 803.3h0M1582.5 852.9h0M980.8 482h0M1202 592.2h0M1545.6 907.3h0M1478.5 921.1h0M1521.7 732.2h0M1642.7 842.7h0M1683.2 873.8h0M1482.8 854.5h0M1395.2 925.7h0M1464.4 751.7h0M1113.7 486.7h0M1543.6 874.1h0M1140.4 509.4h0M1462 699.1h0M1627 675.3h0M942.4 487.9h0M1480.7 793.6h0M1030.3 923.8h0M1551.1 808.7h0M649.7 598.3h0M1636.7 794.8h0M593.6 561.3h0M1081 1077.3h0M803.7 1084h0M429.7 923.5h0M1606 849h0M1626.8 680.2h0M1275.3 618.8h0M1605.8 811.4h0M1573.3 912.2h0M1607.6 848h0M1318.4 649h0M1703.3 865.3h0M1539.3 821.6h0M1585.3 784.1h0M1599.8 845.5h0M1260.6 570.5h0M1250.1 517.9h0M853.3 1073.8h0M1470.2 859.1h0M1339.2 948.9h0M1341.5 637.4h0M837.2 1022.9h0M1710.8 866.1h0M1605.7 867h0M1715.1 868.1h0M1728.7 809.9h0M1576.5 857.2h0M916.1 1044.9h0M1507.7 952.4h0M1543.2 903.2h0M1539.9 705.7h0M861.4 1025.4h0M1684.2 886.4h0M1585 874.8h0M1154.2 475.5h0M1488.1 912.5h0M1231.3 597.2h0M795.7 928.2h0M1714.5 799.3h0M1697.1 882.9h0M1602.7 822h0M1481.3 894.4h0M1531.3 802.6h0M1616.2 918.3h0M1276.9 778.1h0M824.4 1079h0M494.1 938.1h0M1113.3 541.8h0M1251.9 801.6h0M966.3 1059h0M1217.3 533h0M1345.5 341h0M1554.4 953.3h0M1028.6 699.4h0M1610.6 837.9h0M883.9 1073h0M1138.7 474.3h0M1126.7 309.9h0M1579.4 811.6h0M1406.9 898.8h0M1239.3 547.2h0M1511.2 912.2h0M1682.4 815.9h0M1438.4 741h0M824.5 1084.4h0M1253.8 611.8h0M1662.7 920.9h0M1374.2 754.3h0M1501.4 946.9h0M1474.3 716.6h0M1714 803.1h0M1446.4 919h0M1130.2 802.9h0M913.6 495.2h0M1063.5 537.5h0M1386.3 705h0M892.3 1069h0M957.2 475h0M890.2 1043.1h0M1429.9 725.5h0M1628.4 836.5h0M833.8 1062.7h0M1048.9 927h0M1636.4 781.6h0M1594.3 869.2h0M1189.6 625.5h0M677.4 755.5h0M1160.3 620.5h0M875.7 1051.2h0M1579.7 940.4h0M1275.1 807.3h0M1496.1 892.7h0M1035.8 504.9h0M1248 596.8h0M1578.9 891.8h0M1576.5 798.6h0M1149 515.1h0M1095 629.7h0M1542.4 787.4h0M1092.6 562.5h0M1111.1 532.6h0M1093.6 618h0M1298 633.6h0M1688.6 864.7h0M815.6 1042.3h0M1201.9 485.3h0M1431.6 888.6h0M851 1024.8h0M1437 811.8h0M1669.4 923h0M1393.5 935.2h0M1359.5 667.5h0M1554.2 780.7h0M1711.6 835.7h0M1547.5 854h0M1655.8 840.3h0M1479.5 865.1h0M424.3 916.6h0M1005.6 695.5h0M1514.3 949.6h0M1231.9 585.8h0M1237.5 532.2h0M1590.7 783.7h0M1143 606.6h0M874.2 1198.1h0M1425.7 799.3h0M1203.3 558.7h0M1603.1 782.9h0M548.8 958.3h0M1546.2 747.1h0M1617 772.2h0M1634.8 822.5h0M343.1 877.9h0M1663.5 857.8h0M1115.1 522.3h0M1696.8 828h0M1658.5 797.6h0M1457.4 860.8h0M1495 895.5h0M574.1 556h0M1076.7 535.6h0M1488.8 837.4h0M1461.2 886.8h0M1046.6 482.2h0M1514.8 759.6h0M1607 807.2h0M1016.7 499.1h0M825.8 1069.2h0M1584.9 851.7h0M1234.4 596.6h0M1675.5 905.2h0M1539.5 824.3h0M1551.3 774.6h0M1206.5 564.4h0M930.7 1081.8h0M791.4 1059.2h0M830.8 1073.7h0M1650.8 878.6h0M1121.2 595.9h0M1514.1 844.6h0M971.1 685.5h0M1622.5 913.4h0M1526.9 827.3h0M1642.9 763.3h0M1145.6 613.7h0M1476.2 850.5h0M1709.4 874.5h0M1688.1 803.5h0M1621.3 912.5h0M1614.2 805.4h0M1544.6 827.9h0M1102.1 968h0M1585.1 935h0M1635.5 753.4h0M1732.5 819h0M1110.5 569.2h0M1645.6 867.7h0M1025.7 702.8h0M1531.6 950.1h0M885.4 1094.2h0M1158.2 511.5h0M1612.6 815.5h0M1203.9 628.6h0M1479.1 840.3h0M1532 827.4h0M1038.2 513.9h0M1544.3 752.3h0M1620.3 846.4h0M869.4 1089.9h0M888.7 1042.8h0M1096.7 954.4h0M999.7 750.4h0M1478.7 894.2h0M1599.2 892.5h0M1180.1 581.3h0M997.1 754.1h0M1422 903.7h0M1060 623.9h0M855.1 1062h0M879.2 1062.4h0M1198.6 499.5h0M1229.8 775.7h0M1720.8 816.3h0M823 938h0M946.5 1013.6h0M1575.5 887.6h0M1491.2 733.6h0M1291.4 574h0M1427.6 786.2h0M1520.7 858.6h0M897.2 1205.8h0M1632.9 813.8h0M859.7 1080.8h0M1203.1 612.5h0M889.4 1197.7h0M1518.2 754h0M1444.9 883.6h0M1528.4 764h0M1711 853.1h0M1537.9 898.6h0M924.3 1079.5h0M809.8 1038.5h0M1300.3 643.3h0M1438.6 891.6h0M870.3 1042.8h0M994.2 665.2h0M983.2 715.6h0M1702.8 895.7h0M815.3 943.9h0M813.9 958.3h0M1297.1 784.8h0M1548.4 848.3h0M1441.9 854.9h0M1554.6 906.6h0M1469.7 777.1h0M1459.4 709h0M1540.5 801h0M431.6 924.2h0M1054.7 484.7h0M1136.4 480.2h0M1723.8 788.3h0M1528 793.6h0M1438.3 830.9h0M1512.7 724.4h0M1526.7 694.7h0M1607.5 814.7h0M852.2 507.6h0M1279.2 783.2h0M1710 845.6h0M1648.7 859.4h0M1292.8 613h0M1160.1 512.8h0M1185.3 478.9h0M1201.6 550.8h0M1105.8 474.6h0M1002.2 486.8h0M1177.9 545h0M1347.5 821.3h0M1554.8 867.5h0M859.8 492.3h0M1422.7 875.1h0M1541.7 911.5h0M1409.9 779.9h0M1544.5 926.2h0M1242.3 565h0M1231.7 560.4h0M1630.3 777.6h0M1624.1 926.7h0M1516.4 732.4h0M1183.5 485.9h0M1657.6 876.8h0M1242.5 633.6h0M1272.2 637.1h0M1438.9 848.9h0M1444.8 902.2h0M1703.2 895.1h0M1031.8 1066.5h0M1057.8 493.3h0M1038.1 927.5h0M1173 504.5h0M1445.6 825.3h0M1507.7 932.9h0M1450.1 831.4h0M1180.8 500.1h0M1548.3 750.8h0M1029.4 500h0M1429.1 740.7h0M831.8 961.9h0M1232.9 559.1h0M1624 925.3h0M1120.6 480.2h0M1199.5 599.6h0M1680.6 859.1h0M1028.4 526.1h0M1487.6 804.5h0M1580.2 785.3h0M810.9 1029h0M863.8 1051.9h0M1620.7 800.4h0M854.3 1110.1h0M826 1086.5h0M1086.6 553.4h0M1605.6 831h0M943.6 1089.3h0M1555.5 899.3h0M1340.5 786.8h0M1597.8 896h0M1139.1 280.7h0M1586.9 826.2h0M1038.7 481.7h0M1068.9 477.6h0M1438.2 848.6h0M1535.2 698h0M1483.8 941.8h0M1302.2 645.6h0M1485 816.1h0M1447 843.2h0M1521.1 872.4h0M1558.1 926h0M1555.3 783h0M576.4 568.9h0M792.7 1045.8h0M1029.3 558.6h0M1077.8 887.1h0M492.5 943.4h0M1391.5 844h0M1585.2 813.9h0M1427.9 776.1h0M885 1076.5h0M1622.1 878.8h0M849.7 1037.2h0M1646.4 830.4h0M1698.9 869.3h0M1630 905.1h0M866.4 1052h0M1482.7 720.8h0M1515.4 872.1h0M1643.3 879h0M1288.9 805.7h0M1656 794.9h0M1154.4 498.1h0M1210.1 495.9h0M1566.8 947.3h0M1547.5 917.7h0M1481 871.4h0M1563.2 789.9h0M1653.2 784.6h0M1494.5 919.8h0M1629.3 800.6h0M1627 886.2h0M1462.4 716.4h0M1695.7 845.2h0M1613.4 869.6h0M1584.8 902h0M1591.8 863.6h0M1340.3 817.9h0M1259 607.1h0M1678.5 827.5h0M1520.3 921.8h0M1610.6 911.1h0M1700.2 798.6h0M1475.1 797.9h0M856 1090.1h0M1103.1 575.5h0M1581.8 939.4h0M1650.9 892.8h0M1275.7 629.7h0M710.8 1012.1h0M1591.3 858h0M1631.8 916.9h0M768.9 1030.4h0M1275.9 735.1h0M1466.5 896.5h0M829.9 951.9h0M1130.7 578.1h0M1545 799.7h0M1718 825.3h0M1493.6 933h0M1627.7 865.9h0M1104.7 948h0M782.5 1070.9h0M1463.9 883.1h0M1042.8 1073.8h0M1547.4 773.6h0M1640.9 775.3h0M1009.5 514.9h0M1713.9 788.2h0M1590.1 903.7h0M1557.8 825.8h0M636.5 403.9h0M1609.6 789.1h0M1126.4 552h0M1602.2 813.4h0M1543.1 832.5h0M1661.6 903.4h0M1580.5 780.5h0M1615 751.2h0M1599.8 906.3h0M1215.7 542.6h0M1137.4 275.9h0M916 1051.5h0M1700.9 835h0M1639.4 836.9h0M1661.9 737.6h0M1485.3 826h0M1256.7 720.3h0M1203.1 585.4h0M1486.2 758.7h0M1527.2 776h0M1338 646.8h0M513.8 934.3h0M1427.8 899.5h0M1209 579.3h0M1652.2 824.7h0M1588.4 756.7h0M944.8 1049h0M1339.5 348h0M815.2 1063h0M1239.3 744.8h0M904.5 1017.8h0M1692.9 774.4h0M1321.6 332.7h0M636.7 567.1h0M1568.5 895.9h0M1522.8 932.5h0M1644.2 897.7h0M1718.3 806.6h0M954.6 678.5h0M1483.6 851.1h0M1695.6 889.8h0M1452 860.2h0M1502.4 825.1h0M1243.7 554.2h0M1553.1 934.8h0M1263.5 550.9h0M813.3 931.6h0M984 501.8h0M1452.9 920.4h0M1597.9 867h0M1700.7 868.5h0M1471.8 699.7h0M1050.8 568.1h0M1165.3 585h0M1385.2 676.2h0M1520.4 930.9h0M916.6 1020.9h0M1463 713.7h0M830.1 1094.5h0M1442.6 869.5h0M1740.7 816.7h0M1641.4 752.4h0M1308.5 680h0M1345.1 389.6h0M1420.6 904.8h0M915.9 1093.1h0M1109.5 559.8h0M1507.7 709.4h0M1563.3 838.3h0M1663.7 809.9h0M1005.7 676.9h0M1621.9 854.6h0M1497.8 837.2h0M1451.8 891.9h0M1525.8 912h0M1167.3 534.9h0M1126.8 547.2h0M1113.8 476.7h0M1408.9 753.9h0M1467.3 885.1h0M621.1 584.7h0M1695.4 821.2h0M1533.3 712.4h0M751.2 1032.5h0M1605.6 940.2h0M1204.2 527.4h0M925.8 479.9h0M1340.6 766.3h0M805.6 1087.2h0M1186.4 621.4h0M1737.5 857.2h0M1555.7 928.4h0M1209 589.6h0M1490 873.2h0M1304.8 807.5h0M1404.2 779h0M448.3 932.2h0M840.8 1077.7h0M941.6 490.2h0M768.8 1023.5h0M1491.7 907.5h0M1661.6 823.7h0M832.8 1055.4h0M1484.4 850.4h0M1449.8 837h0M1348.4 942h0M1716.7 837h0M1642.8 837h0M1531.3 952.8h0M1140.9 521.9h0M1345.1 942.2h0M1660.1 916h0M1717.7 869.8h0M1516.4 832.1h0M1505.3 870.7h0M1561.4 828.3h0M1650.7 852.3h0M1222.8 583.9h0M1606.8 913.5h0M343.1 877.1h0M622.4 462.3h0M1616 864.5h0M1356.8 940.7h0M1458.1 708.2h0M1637.8 793.5h0M1481.1 877h0M894.4 1076.6h0M1309.6 779.3h0M1032.6 718h0M1408.4 893.9h0M872 500.5h0M1665.1 796.7h0M1134.5 494.3h0M1595.3 836h0M1098.4 950.5h0M1594.2 805.3h0M1450.4 843h0M1289.8 295h0M1297.9 652.2h0M1415.3 695.6h0M833.4 962.4h0M1530.4 819.2h0M622.1 998.2h0M1703 894.1h0M1640.5 851.4h0M1451.6 814.9h0M1652.1 879.8h0M1507.8 914.5h0M1397.3 748.9h0M1167.7 607.5h0M1545.3 838h0M919.9 1075.6h0M533 1011.4h0M826 1082.7h0M1308.2 770.7h0M1047.6 567h0M1015.9 698.4h0M589 582.4h0M1695.2 796.3h0M820.8 953.7h0M1208.4 541.9h0M1098.9 819.1h0M1041.2 472.4h0M1580.3 844.5h0M972.9 477.3h0M1294.7 570.7h0M1481.5 927.6h0M1614.5 665h0M816.4 1075.5h0M942.5 487.4h0M1082.4 493.8h0M1274 583.6h0M815 1055.6h0M1739 799h0M1246.9 576.2h0M1694.1 873h0M1172 555.5h0M1278.7 782.3h0M1248.5 773.3h0M1667.3 784.2h0M1487.5 881.8h0M967.2 484.4h0M1088.1 938.8h0M818.8 1073.8h0M1590.9 862h0M820.4 1068.2h0M1234 610.6h0M1088.1 826.7h0M1625.5 918.9h0M865.2 1028.5h0M1581.4 825.3h0M1184.8 559.7h0M1484.7 835h0M1555.3 901.8h0M1716.5 797.2h0M1631.1 895.2h0M1700.1 795.6h0M1304.1 311.7h0M1530.8 771h0M1114.8 474.4h0M1660.9 811.1h0M1636 793.5h0M1591.7 947.3h0M1352.1 699.6h0M1248.8 625.2h0M957.9 1067.7h0M1112.4 471.7h0M1651.3 793.5h0M1500.5 946.3h0M1451 825.3h0M1653 862.9h0M1697.6 901.9h0M1278.2 628.8h0M1355.6 766.4h0M1671.3 784.1h0M1456.7 734.7h0M1554.2 776.4h0M1453.5 827.1h0M1454 925.8h0M1575.6 757.5h0M1623.4 853.6h0M1027.7 487.7h0M1197.5 594h0M1465.7 903h0M1692.3 780.5h0M1270.5 596.8h0M889.6 1044.5h0M1482.4 889h0M1339.7 815.7h0M1013.5 709.6h0M1682.5 914.1h0M1613.3 944.5h0M735.8 1020.8h0M1583.7 851.2h0M1576.1 814.5h0M863.8 1069.1h0M908.1 1095.6h0M1650.2 883.6h0M812.2 948.9h0M1198.4 510.6h0M959.7 1072.8h0M1078 805.5h0M1433.7 883.4h0M1601.8 881.7h0M1473 920.2h0M1466.1 935.3h0M884.2 1056.5h0M552.2 965.6h0M1544.4 884.1h0M1523.3 726h0M362.7 890h0M854.1 1044.8h0M1111.1 964.6h0M1583.9 833.4h0M1654.7 862.3h0M1412.8 717.6h0M824.6 1077.4h0M1091 1086.7h0M1352.9 645.2h0M1634.9 891.5h0M1228 512.9h0M1542.2 813.3h0M868.3 497.8h0M618.2 582.1h0M1393.8 721.2h0M1651.3 786.6h0M900.2 1096.4h0M1567.7 777.5h0M924.7 539.6h0M1091.4 485.8h0M912.8 1083h0M1599.4 830.2h0M1583.8 774.6h0M969.9 1028.4h0M1611.8 695.9h0M412.8 914.1h0M1157.3 542.9h0M861.1 495.6h0M1632.6 821h0M874.8 1088.3h0M1622.6 893.4h0M1642.2 937.1h0M1379.4 759.1h0M975.8 684.7h0M1275.5 622.6h0M1720.4 869.8h0M1104.2 516.4h0M1255.2 749.6h0M1341.2 945.8h0M1684.4 904.9h0M1300 805.2h0M1568.5 797.9h0M1642.6 755.1h0M887 1059.2h0M1111.3 532.2h0M1175.7 578.2h0M1174 625.5h0M1595.9 851.4h0M1494.1 892.5h0M1123.7 803.2h0M1126.1 507h0M1485.3 932.3h0M1638.6 679.7h0M833.4 1079.8h0M1046.4 1068.6h0M1318.7 784.2h0M1424.9 904.6h0M856.3 1051.3h0M1342.8 393.1h0M1497.5 886.6h0M1089.2 258h0M1732.7 864.1h0M1046.6 927.5h0M1554.7 935h0M1477.7 778.4h0M650.3 990h0M1022.1 1072.8h0M1556.6 902.1h0M1163.7 517.1h0M1623.2 821.9h0M1588.6 912.7h0M1513.2 746.8h0M1118.9 621.3h0M1585.1 871.1h0M1614.9 838.1h0M1610.6 820.8h0M1334 639.9h0M1431.7 710.9h0M1213.2 797h0M1563.9 858.7h0M1041.4 1077.7h0M1515.3 906h0M1681.4 871h0M1589.3 913.4h0M1565.5 806.3h0M1250.9 636.9h0M1497.3 836.8h0M1536.2 824h0M1650 894.7h0M1569.3 920.6h0M1514.2 851.3h0M1514.3 903.4h0M1272.6 769.7h0M1058.9 527h0M1025 1057.9h0M1498 798.4h0M1649 806.5h0M1419.3 782.8h0M1562 801h0M901.1 1063.2h0M1308.3 666.4h0M759.8 851.1h0M1602.2 934.5h0M1115.5 808.5h0M845.6 1042.6h0M648.1 738.8h0M1738.3 801.3h0M1496.8 731.8h0M1224.6 632.6h0M1416.2 928.8h0M1641.3 777.1h0M1712.6 850.9h0M1625 912.5h0M1620.3 829.4h0M791.1 1078.3h0M748.5 844.6h0M1594 883.3h0M1304.6 656.5h0M1552.3 817.5h0M1443.6 921h0M1708.7 892.2h0M1559.6 921.1h0M1495.1 823.2h0M1068.1 530.6h0M868.2 1081.1h0M1498.2 832h0M1242 620.4h0M1086.3 564.1h0M443.1 934.2h0M1400.9 881.4h0M1264.4 806.6h0M1538.4 822.6h0M1599.5 835.2h0M1468.7 857h0M796.9 1063.5h0M1645.5 829.2h0M1608.7 928.1h0M917.4 516h0M1241.1 775.2h0M944.9 1062.5h0M1680.7 841.5h0M1686.9 869.3h0M842.3 1055.6h0M1620 783.2h0M1459.9 868.1h0M934.8 1067.5h0M1540.3 946.7h0M1508.3 949.4h0M939.8 1051.2h0M1078 519h0M1320.9 756.1h0M1645.5 823.4h0M1102.5 744h0M1307.6 655.6h0M1510.1 934.7h0M1096.1 501.8h0M1104.3 1081.2h0M1209.7 624.2h0M1100.4 489.9h0M1228.6 486.5h0M1390.6 749.2h0M1129.1 605.3h0M1014.1 667.7h0M1647.5 845.8h0M815 1090.5h0M1684.1 810.2h0M1659.7 868.6h0M871 1086.6h0M1643.6 863h0M1252.4 769.9h0M1637.7 765.8h0M1152.4 536.6h0M1173.3 580.8h0M1245 606.6h0M1506.2 912.7h0M1145.6 593h0M469.5 934.8h0M1570.6 820.8h0M1678.8 776h0M1436.2 921.1h0M684.5 762.1h0M1046.3 632.6h0M1164.4 505.9h0M1506.2 865.6h0M1039.2 500.8h0M1572.2 840.1h0M1453.6 888.5h0M973.8 1084.3h0M1050.5 699h0M1005.1 672.1h0M1142.1 605.3h0M1577.5 949.9h0M1540.7 778.4h0M912.8 1064.8h0M1452.6 917.4h0M1469.2 930.1h0M1220.6 633.5h0M1636.1 753.6h0M1275.5 767h0M1639.7 915.3h0M970.4 1011.3h0M1373.4 765.1h0M1621.3 943h0M999.2 683.2h0M1100.4 543.8h0M1588.7 856.2h0M1647.1 922.9h0M827.4 1048.9h0M1574.4 917.3h0M813.7 1076.9h0M1031.4 530.3h0M1023.4 519.2h0M1583.8 879.6h0M1030 924.1h0M1177.1 798h0M912.1 495.1h0M827.8 1085.5h0M1747.3 835.1h0M1274.1 771.6h0M1643.5 914h0M1166.6 539.5h0M1729.9 812.9h0M1112.4 560.6h0M1085.8 494h0M1734 855.8h0M1460.6 791.2h0M1699.3 862.5h0M1576 862.4h0M1261.8 515.6h0M1594.2 811.4h0M1133.6 576.2h0M1543.9 764.9h0M1505 898.1h0M1022.6 504.3h0M1168.4 481.7h0M1639.9 869.2h0M1240.8 505.3h0M1576.6 817.8h0M1455.6 831.7h0M1500.1 906.5h0M1255.1 542.1h0M1570.3 796.4h0M1468.9 766.5h0M1312.9 788.2h0M1645 884.9h0M1719.9 842.9h0M1143.7 550.9h0M1619.1 883.6h0M1168 795.4h0M1419.3 904.6h0M1557.1 868.2h0M835 1086.7h0M1744.5 836.4h0M1558.4 923.9h0M1647.4 870.9h0M1731.3 793.9h0M1646.4 856.2h0M931.6 1089.4h0M1526.6 773.8h0M902 1034h0M1110.5 811h0M1673.3 872.8h0M1621.5 903.4h0M812 231.7h0M593.9 576.8h0M1258.6 620.9h0M1577 920.2h0M592.4 1044h0M800.4 1047.9h0M1582.4 924h0M1114.7 534h0M910.1 480.9h0M1450.3 754.1h0M1558.2 840.8h0M1581.9 913.8h0M1728.5 842.2h0M1117 577.4h0M1129.1 295.1h0M1436 832.9h0M1700.4 877h0M1440.7 911.3h0M1354.2 936.5h0M1439.2 813.7h0M1478 806.4h0M1462.4 726.7h0M1174.1 479.6h0M1542.3 912.6h0M1552.2 780.2h0M980.6 1006.1h0M1099 821.8h0M1663.3 869.7h0M1213.4 493.5h0M832.4 976.6h0M1069 964.3h0M1226.9 585.9h0M956 1061.1h0M1646.2 795.2h0M1307 593.9h0M820.9 1068.3h0M1480.1 854.5h0M1299.7 583.9h0M1624.7 693.4h0M1134.7 566.7h0M1018.6 497.2h0M1680.4 763.2h0M356.1 886h0M863.4 1024.4h0M1336.7 639.5h0M999.7 680h0M782.8 1034.3h0M1485.1 780.5h0M946.7 675.7h0M1592.2 886.2h0M1604.3 939h0M1623.7 930.2h0M996.2 686.2h0M802.6 943.7h0M1664.6 775h0M1111.1 544.1h0M1562.3 872.2h0M1491.1 873.2h0M1034.1 709.6h0M816.4 1034.4h0M1476.8 820.2h0M1628.3 810.5h0M1587.2 916.9h0M1501.8 939.5h0M1701 779h0M1199.7 569.3h0M1148.2 508.6h0M1542.6 803.1h0M1465.7 824h0M1205.8 592.5h0M1734.1 814.5h0M949.9 483h0M1657.2 875.1h0M1316.3 618.1h0M1515.2 809.4h0M1033.3 481.7h0M1630.8 792.9h0M1105.4 501h0M1266 577.2h0M1595.4 940.3h0M1549.5 942.4h0M1536.1 805.9h0M1147.6 624.4h0M1026.5 1068.3h0M1511.1 751.7h0M1712.1 781.1h0M1210 556.8h0M1426.6 775h0M1630.4 909.1h0M1465.4 849.3h0M1529.2 821.9h0M1166.6 620.7h0M1504.4 893.3h0M1259.1 577.7h0M1473.3 901.9h0M1417.4 816h0M859.4 519.8h0M1489.5 903.4h0M1488.4 906.1h0M1051.9 527.7h0M1552.3 819.3h0M1300.9 640.1h0M1656 788.5h0M496.3 935.3h0M1606.2 932.8h0M648.7 589.9h0M1422.5 737.7h0M1559.1 902.6h0M1124.8 521.4h0M965 689h0M1248.7 593h0M1083.8 473.7h0M1483.3 894.8h0M1456.7 935.5h0M1694.1 778.7h0M1459.4 876.2h0M1032.2 513h0M1564.8 946.2h0M1461.7 755.1h0M634.3 1005.9h0M1662.4 780.4h0M1467.8 873.1h0M1568.2 825.5h0M1295.6 594.8h0M1594.6 763.9h0M1643.6 933.8h0M1561.9 889.9h0M949.4 759.8h0M860.5 508.6h0M1653.1 846.3h0M1435.2 898.2h0M1690.3 891h0M1584.7 785.4h0M1145.9 279.6h0M1681.8 817.1h0M1702 804.9h0M1269 856h0M880.7 1088.3h0M1511.3 784.5h0M1694.4 902.1h0M1487.6 805.6h0M1674.8 823.4h0M1712 804.3h0M1603.1 768.5h0M1068.3 1082.4h0M1006.5 830.6h0M1586.1 905.5h0M1152.1 481.4h0M1530.6 913.2h0M816.6 1083h0M1021 724.8h0M846.1 1093.4h0M1264.2 602.5h0M949.1 700.2h0M1049.1 537.3h0M1151.5 264.2h0M1391.1 784.9h0M1280 626.9h0M1509.2 846.8h0M869 1106h0M714.1 935.6h0M820 1025.4h0M1423 881.3h0M1423.6 876.5h0M1623.1 795.1h0M1083.2 484.8h0M1448.6 887.7h0M855.2 1048.6h0M1445.9 924.2h0M1597 796.9h0M992.7 694.3h0M1504.5 800.5h0M1580.5 837.4h0M1524.6 775.7h0M1319.4 330.6h0M1176 627.2h0M1093.1 480.2h0M1242 596.6h0M841.5 1088.4h0M1703.9 821.9h0M1469.7 866.5h0M1581.3 911.4h0M1284.8 573.1h0M1688.4 779.9h0M1616.7 845.2h0M1220.9 778.8h0M1643 897.2h0M1568.6 865h0M1087.3 550.3h0M1488 801.9h0M1681.9 827.2h0M1380.8 851.5h0M1155.4 540.8h0M889 1067.3h0M1693.4 862.6h0M1118.1 485.9h0M1689.5 872.6h0M1515.9 725.7h0M800 1073.6h0M1557.3 933.7h0M1486.2 897h0M1224 518.6h0M1655.7 835h0M1231 590.6h0M961.5 1074h0M1525.5 856.3h0M1716.6 808.4h0M1646 808.1h0M1547.1 888.8h0M1082.9 545.3h0M678.3 1021.8h0M1700.9 849.4h0M1487 799.4h0M1565.5 928.8h0M1730 805.3h0M1418.8 715.3h0M1731.8 875.3h0M1641.4 912.6h0M820.6 512.5h0M1483.7 848.4h0M876.5 1095.6h0M1132.7 801.9h0M1488.6 707.6h0M874.4 496.4h0M1652.6 752.4h0M1716.7 790.3h0M1438.6 795.2h0M1274.9 774.4h0M1632.6 821.5h0M878.9 522.7h0M913.4 1047.7h0M1466.6 838h0M1243.1 798.7h0M1447.6 926.7h0M1493.2 902.4h0M1593.6 760.7h0M1637.9 797.8h0M1485.4 872.6h0M848.1 1093.6h0M877.9 1172.7h0M834.2 1103.4h0M1236.4 557.6h0M1109.8 524.7h0M1436.6 886.4h0M1593.9 770.3h0M873.1 514.2h0M1233.3 534.2h0M1406.6 787.9h0M810.3 1038.5h0M1531.2 877.2h0M1598.7 940.9h0M1618.9 689h0M1699.3 842.5h0M1175 560.3h0M769 1049.3h0M1568.9 812.2h0M1293 630.4h0M1116 503.1h0M1719.1 810.8h0M1672.5 761.8h0M1621 886.6h0M886 1090.8h0M1220.3 615.6h0M610.9 555h0M1191 490.9h0M694.6 726.9h0M805.9 1069.1h0M1342.2 679.9h0M1480.9 916.5h0M1364.2 939.7h0M1638.7 906.9h0M1211.6 584.2h0M1172.3 510.1h0M1450.2 838.2h0M1643.7 932.9h0M1477.7 903.5h0M1535.5 904.8h0M1220 797.7h0M567.9 559.9h0M1428 698.8h0M1487.6 723.4h0M1264.9 618.2h0M1347.5 757.9h0M1257.1 735.2h0M1598.5 908.2h0M1704.5 888.1h0M1524.7 865.6h0M1153.2 520.6h0M1238.1 772h0M1210.3 514.6h0M1638.6 767.5h0M1600.6 761.8h0M1694.9 794.5h0M437.8 930h0M1394.3 883.5h0M1498.8 807.4h0M1610.4 901.5h0M1322.5 753.8h0M1542.4 772.4h0M741.9 950.2h0M1675.5 788h0M1135.8 509.8h0M962 1014.2h0M1561.1 895.1h0M634.4 439.4h0M1688.9 815.6h0M1452.4 873.7h0M1591.4 823.5h0M1171.5 532.6h0M1592.3 879.3h0M1467.7 697.5h0M851.6 1043.3h0M1254.2 773.9h0M1240.1 502.2h0M1276.2 782.2h0M1318.6 661.5h0M842.3 1034.1h0M1596.9 750.7h0M1469.3 708h0M1618.3 934h0M1133 261.2h0M771.9 1074.1h0M1523.7 835.6h0M1639.2 874.8h0M1270.1 776.2h0M1540.9 865.2h0M1660 896.9h0M1159.8 583.9h0M1139.9 580.4h0M1221.6 539.8h0M657.7 574.8h0M1590.5 888.8h0M1460.9 869.5h0M1013.9 719.4h0M1087.8 821.4h0M1480.7 716.2h0M1720 812.5h0M1452.8 860.6h0M1392.7 767.1h0M1658.9 808.6h0M1430.1 873.9h0M1216.5 780.6h0M1469.9 792.7h0M1597.7 751.7h0M1001.3 674.3h0M1617 928.5h0M1741.9 841h0M1587 875h0M706.4 945h0M900.7 1043.8h0M1671.9 840.5h0M1134.7 540.4h0M814.9 1046.8h0M1199.9 586.9h0M1241.2 772.7h0M1207.9 617.1h0M1430.5 789.8h0M1642.8 868.8h0M819.1 1051h0M1563.3 953.9h0M946.9 1071.9h0M1107.4 567.2h0M1274.9 771.7h0M1401.6 678.6h0M1675.8 876.2h0M1499.9 780.9h0M1144.3 613.7h0M1578.9 875.3h0M1513.8 874.4h0M1583.3 843.5h0M1630.6 930.9h0M1488.4 729.6h0M892.6 1208.7h0M1551.4 766.9h0M1518.1 817.8h0M1246.3 525.4h0M1631.3 689.4h0M1451.9 851.5h0M1259.7 631.2h0M1303.4 579.6h0M424.4 917.5h0M1669.1 810.5h0M1673.8 794h0M445.9 933.6h0M1423.3 870.6h0M1165.6 614.9h0M1523.3 794.9h0M1565.1 782.6h0M1097.6 740h0M1519.1 791.8h0M1532.6 828.1h0M1617 852.4h0M1416.9 751.2h0M1616.6 822h0M1117.1 805.7h0M709.8 965.7h0M811.8 1091.2h0M1440.4 853.2h0M1560 877.3h0M1046.8 541.2h0M1525.4 860.3h0M1478.9 818.8h0M1271.9 564.1h0M1191.2 590.1h0M1405.2 729.3h0M1570.7 880.9h0M1647.7 802.9h0M807.7 1077.5h0M1596.3 946.1h0M1427.8 692.5h0M1611.5 912.8h0M1240.8 541h0M1294.3 805.5h0M879.1 1092.2h0M827.9 972.4h0M1119.3 475h0M1610.6 881.7h0M1466.7 881.3h0M1061.4 479.4h0M1480.8 837.2h0M1058.7 1073.7h0M961.1 480.9h0M1334.5 777.2h0M1075.4 516.4h0M1521.4 919.4h0M1453.3 837.3h0M1447.6 818.8h0M1324.2 676.9h0M1575.7 838h0M1687.1 768.5h0M1482.4 905.7h0M760.3 841.4h0M1398.3 711.9h0M1660.9 875.8h0M1473.5 802.1h0M1516.7 806.9h0M1493.1 935.8h0M633.6 980.9h0M1542.5 839.8h0M1195 789.1h0M1660.2 915.1h0M1730 846.6h0M1514.5 943.6h0M1314.3 649.7h0M1599.8 822.2h0M971 705.5h0M1695.2 775.9h0M1703.4 792.1h0M1591.1 850.8h0M1612.9 697h0M1282.5 641.2h0M1599.7 913.3h0M781.5 1069h0M895.2 1069.4h0M1546.6 883h0M1127.1 575.3h0M1203.2 615.8h0M1370.2 828.1h0M1588.8 807.3h0M1051.8 929.8h0M1401.4 807.2h0M1634.2 917h0M1344.6 945.1h0M1370.9 793.5h0M1023.2 687.6h0M1239.8 501.3h0M1492.9 765.1h0M933.1 1025.8h0M1389 747.2h0M686.9 436.9h0M1090 525.9h0M1704 797.1h0M1470.7 845.1h0M1462.2 729.4h0M1266.4 602.7h0M1705 845.5h0M1475.8 857.6h0M1477.6 726.2h0M1540.6 940.5h0M1101.6 816.5h0M1629.1 753.1h0M1078.1 958.5h0M1583.1 850h0M1330.2 812.8h0M882.3 1200.9h0M1720.1 816.2h0M876.4 1049.4h0M1401 694.6h0M1289.2 587.7h0M1548.2 809.9h0M1200.8 576.8h0M826.8 1029.9h0M1293.3 292.5h0M1595.2 947.3h0M1487.8 843.2h0M876.3 1021.8h0M1731.8 856.7h0M875.7 1062.2h0M1439.1 711.3h0M1181.7 625h0M1615.4 770.5h0M949.2 1063.7h0M1600.4 795h0M1634.4 672.4h0M1054.8 1068.7h0M388.6 899.8h0M1111 526h0M839 273.9h0M1613.4 856.3h0M1463.6 876.9h0M1601.3 778.9h0M1138.3 579.1h0M1600.1 850.1h0M1334 949.4h0M1578.1 913.1h0M1734.7 813.8h0M1625.8 879.4h0M1616.8 882.5h0M1479.6 743.6h0M1522.3 856h0M1567.2 889.4h0M1250.3 587.2h0M843.3 1029.1h0M1502.8 802.7h0M1222 593.1h0M925.4 1076.8h0M1324.1 759.3h0M1350.1 782.3h0M1529 898.8h0M1701.9 869.2h0M1199.6 786.2h0M817.2 1071h0M845.3 1023.9h0M1321.3 658.4h0M1086.7 736.7h0M1422.5 705.3h0M1554.8 807.4h0M1260.2 551.2h0M697.7 934.9h0M1675 831h0M1490.1 693.3h0M1457.3 766.4h0M1358.3 703.9h0M1092.2 1074.1h0M807.3 1061h0M1613.8 906.1h0M1314.6 663.5h0M1646.8 807.7h0M645 586.6h0M1449.7 711.2h0M1592.7 785.1h0M878.6 510.6h0M1102.4 474.3h0M1162.6 600.1h0M1513.6 861.4h0M512.4 934.2h0M1182.6 615.5h0M1606.5 922.6h0M1019 686h0M1198.4 590.8h0M951.5 493.1h0M1290 627.1h0M932.8 480.1h0M1490.5 891.7h0M1102 1083.9h0M1164.4 520.6h0M1431.2 692.9h0M881 1030.3h0M1602.9 901.2h0M1650 885.5h0M774.5 1027.2h0M921.7 1019.2h0M868.6 1078.7h0M1552.7 795.6h0M995.3 714.3h0M1511.6 859h0M1329.1 771.6h0M1502.4 761.9h0M1571.5 811.6h0M1648.2 847.9h0M1608 842.2h0M1636.4 811.8h0M1570.6 877.4h0M1591.5 770.8h0M976.7 673.1h0M1631.5 940.9h0M1337.6 354.2h0M1187.7 577.3h0M1358.5 939.2h0M634.8 958.1h0M1453.1 860.6h0M1633.4 805.5h0M1533.9 938.2h0M831.6 1071h0M1532 816.8h0M1061.8 548.9h0M925.4 1013.4h0M837.2 1064.8h0M1417.9 782.5h0M1570.5 788.8h0M993.9 492.5h0M1009.4 518.9h0M951.2 670.5h0M1229.4 612.2h0M849.7 1031.9h0M1632.4 922.3h0M1666.5 859.7h0M1350.8 939.4h0M1040.9 931h0M1099.9 479.1h0M1050.3 478.8h0M1204.8 553.7h0M1120.9 548.3h0M1503.8 829h0M1516.9 774h0M1138.5 289.7h0M1011.3 721.6h0M1704.7 772.9h0M1672.9 858.7h0M949.3 931.6h0M1107.4 563.5h0M1507.2 813.3h0M915.3 500.2h0M1509.7 742.1h0M1320.7 337.8h0M1615.3 947.2h0M1400.4 878h0M1538.9 878.1h0M445.2 931.7h0M1109.6 529.4h0M859.5 1058.6h0M1476.9 831.5h0M1486.6 829.9h0M1025 1066.1h0M1497.5 887h0M1417.9 724.1h0M642.6 985.6h0M1079.6 820.3h0M1710.3 831.6h0M1587.3 855.2h0M1532.2 891h0M784.7 1020.3h0M1351 656.8h0M1343.3 818.5h0M1643.1 881.8h0M1597 826.9h0M1180.9 528.7h0M1469.9 903.5h0M1501.4 893.2h0M1498.3 904.2h0M1235.7 518.5h0M731.4 733.8h0M1586.1 755.4h0M576.7 563.2h0M1415.1 898.8h0M1603.5 775.2h0M1532 858h0M1450.3 804.3h0M817 1079.4h0M359.2 885h0M879.7 1196.3h0M1553.4 852.5h0M1191 553.4h0M1181 792.8h0M1555.1 908.5h0M374.6 894.4h0M1574.7 855.6h0M1483.5 859.4h0M1613.9 882.1h0M1685.4 827.1h0M1521.2 814.8h0M1474.8 856.2h0M872.3 1004.7h0M1709.7 889.4h0M1465.4 730h0M1592.9 812.9h0M991.2 758.1h0M847.2 1098.3h0M744 1036.5h0M1434.6 796.9h0M1419.7 905.1h0M1243 523.3h0M704.1 927.7h0M1710.8 853.3h0M1052.4 929.7h0M1202 546.4h0M1253 535.5h0M647.6 985.6h0M1641.3 910.3h0M1380.2 833h0M1737.2 862.4h0M1517.9 791.7h0M1528.1 930.4h0M896.2 1020.6h0M712.6 936.6h0M1157 520.5h0M1229.9 482.7h0M930.5 1078h0M1528.4 885.6h0M1543.9 910.3h0M582.1 550.6h0M1074.7 538h0M1473.8 825.4h0M842.9 1034.1h0M583.9 582.7h0M1679.4 905.9h0M1485 706.2h0M1481.2 846.4h0M1483.2 728.9h0M998.8 710h0M667 421.7h0M1130.5 548.9h0M792.8 1041.3h0M1199.3 635h0M890.4 1065.3h0M1149.6 539.3h0M1430.2 790.3h0M1042.3 578.2h0M1091.4 479.3h0M1373.8 757.8h0M1051.1 630h0M1284.7 582.3h0M1469.4 825.1h0M1131.7 476.8h0M1435.8 878.8h0M1647.1 930.9h0M1627.4 816.5h0M1458.4 867.6h0M1568.4 937.6h0M1310.8 806.4h0M1689.4 788.7h0M885.7 1003h0M1438.2 702.1h0M805.7 920.3h0M1556.6 791.3h0M1581.6 780.1h0M1561.1 907.9h0M858.6 1084.6h0M1445.1 819.3h0M1078.6 959.6h0M1321.3 634.1h0M1222.5 540.6h0M1195.3 626h0M825.8 958.3h0M1159 554h0M1376 725.7h0M1674 870.6h0M926.3 502h0M1514.7 790.3h0M1273.7 292.7h0M1674.2 759.6h0M1566.9 778h0M1126.7 800.4h0M1623.1 909.6h0M1681.6 866.2h0M1573.2 946.7h0M1457.3 807h0M1225.8 581.8h0M852.8 1112.8h0M1558.7 876.7h0M1649.4 821.4h0M1653.5 881.5h0M1293.1 603.2h0M956.8 930.3h0M1084.1 475.3h0M1155.9 546.1h0M846.5 1031.8h0M1248.7 775.1h0M1161.7 572.2h0M1524.8 834.8h0M1217.9 633.2h0M1060.8 503.3h0M869.6 1083.7h0M1154.8 609h0M1461.7 890.6h0M1210.7 498h0M1595.5 941.9h0M1531.1 948.5h0M1677.2 820.6h0M1627.2 836.7h0M1627.6 701.4h0M1418.2 753.1h0M1228.7 557.3h0M1231.1 515.6h0M785.5 966.1h0M1547.7 899.7h0M1362.4 779.1h0M1354.8 648.1h0M895.6 502.8h0M950.5 1027.1h0M1723.9 857.8h0M1587.9 925.3h0M1561.2 806.4h0M1523.6 863.7h0M1555.9 771.7h0M1603.7 813.6h0M691.8 941.4h0M1655.3 891.5h0M1438.8 926.6h0M1158.2 505.8h0M840.1 1028.6h0M1504.5 867.2h0M1059.7 1078.4h0M795.3 1042.9h0M1307 666.9h0M1564.8 862.3h0M1628.2 787.8h0M819.6 943h0M835.8 1076.6h0M1134 546.2h0M852.9 1029.5h0M1579.4 812.5h0M1342.6 677.7h0M690.5 944.5h0M1414.9 717.1h0M1151.2 587h0M1237.3 777.6h0M1301.7 644.4h0M1105.3 816.2h0M1032.3 717.9h0M1265.9 565.3h0M1521.5 893.8h0M801 1045.9h0M881.3 1069.6h0M1487.3 691.4h0M1721.8 849.1h0M1464.1 696.3h0M1345.7 943.3h0M1698.9 875.5h0M931.8 1059.9h0M1593.2 774.5h0M1691.4 819.3h0M1265.9 575.3h0M1541 709.2h0M1299.1 581.9h0M1090.1 619.1h0M849.5 515.3h0M1444.2 916.3h0M1600.3 896.3h0M1260.3 563.2h0M1536.8 739.7h0M424.9 915.3h0M1052 929.4h0M889 1047.5h0M1274.2 807.3h0M1454 878.6h0M1539.9 912.7h0M1496.6 849.1h0M881.1 1087.4h0M1165.6 506h0M786.2 1019.3h0M1420 874.5h0M1460.9 842.9h0M1647.2 797h0M1556.8 893.2h0M823.1 966.1h0M1315.7 761h0M1734.3 824.1h0M1526.1 832.8h0M826.6 1086.1h0M1640.9 910.1h0M1619.4 751.9h0M1441.6 876.7h0M1056.7 1076.1h0M1497.1 949.2h0M1374.9 774h0M1379 721.9h0M386.7 899.2h0M1603.8 841.3h0M1235.6 771.9h0M1339.5 817.7h0M1617.6 767.8h0M1635 818.5h0M1577.9 784.3h0M1666.3 797h0M1616.3 941.7h0M1484 698.4h0M861.4 1072.4h0M1237.1 538.1h0M1197.3 546.3h0M1259.9 804.3h0M1477.1 761.3h0M1539 818.9h0M832.3 983.7h0M1069.8 645.7h0M1670.8 801.5h0M1463.2 928.8h0M1488.2 855.5h0M1240.2 616.5h0M1407.7 711.1h0M1509 862.1h0M1545.1 762.3h0M1114.5 534.9h0M1159.4 561.1h0M1092.3 1061.7h0M1174.4 597.5h0M1241.2 563.3h0M1314.7 675.8h0M865.8 1077h0M1501 891.9h0M1025.3 615.7h0M1147.6 581.2h0M1499.1 867.1h0M1400.4 692.8h0M1000.7 682.9h0M1609.9 846.8h0M1221.1 795.1h0M884.4 1205.2h0M878.2 1207.5h0M1557.1 819.6h0M1676.8 808.4h0M1549.5 918h0M1685.8 768.7h0M1103.9 516.3h0M1556.4 841.1h0M913.8 1060h0M1061.5 551.5h0M1497.9 825h0M503.7 944.8h0M557.9 1013.5h0M1414.2 755h0M1354.3 823.2h0M1628.6 755.1h0M1526 848.8h0M1219.1 778.8h0M360.5 887.6h0M1255.9 780.4h0M864.7 1045.4h0M1165.7 518.1h0M1714 809.4h0M1621.8 675.8h0M639.5 444.4h0M718.3 942.8h0M1614.9 763h0M1480 877.6h0M891.9 1207.5h0M1629.8 871.5h0M1725.9 861.4h0M1242.4 549.5h0M1437.2 792.2h0M958.1 1021.3h0M1668.2 783.7h0M1358.3 648.1h0M1630.4 915.6h0M1274.2 775.9h0M1597.7 769.7h0M1594.9 859.4h0M1602.7 902h0M1337.2 652.5h0M874.4 494.7h0M914.7 1093.1h0M1618.4 882.1h0M1539.5 786.5h0M498.9 934.8h0M1679.1 774.3h0M1630.5 890.5h0M1027.5 490.9h0M1459.6 907.7h0M663.7 1001.3h0M1121.3 599.8h0M1405.9 786.2h0M1627.6 912.6h0M1514.9 942.9h0M1186 614h0M1314.8 283h0M1553.9 945.8h0M1532.3 782.3h0M1449.1 876.2h0M1542 903.7h0M1700.2 813.7h0M1490.8 805.7h0M1669.9 847.8h0M1606.9 930.8h0M1621.7 811h0M1174.8 568.6h0M923 1016.6h0M1519.6 941.2h0M826.9 1083.5h0M1476.7 813.2h0M1476.2 922h0M1091.8 480.5h0M1734.5 831.6h0M1644 807.6h0M1530 803.4h0M1324 649.5h0M1119.2 478h0M1608.4 670.7h0M1505.2 922.6h0M1619.5 848.4h0M1139.6 595.4h0M1533.9 870.2h0M1061.6 496.1h0M891.6 1105.6h0M1586.6 775.2h0M1627.4 832.1h0M797.1 1061h0M1525 861.5h0M1484 924.5h0M1190.4 620.3h0M1627.2 846.1h0M1657.9 886.1h0M1568.5 948.1h0M1734.7 833.6h0M1670.4 865.5h0M1269 601.1h0M1372.8 936.8h0M886.9 1008.8h0M1676.2 909.6h0M1654.9 798.5h0M893.3 1205.7h0M1315.3 625.7h0M1600.8 919.9h0M1063.4 546.1h0M1638.1 782h0M1620.1 915.4h0M1606.2 771h0M1558.3 937.2h0M835.4 1072.5h0M1317.2 664.7h0M1395.2 745.5h0M1157.3 517.1h0M598.5 574.8h0M1683.8 774.7h0M1228.9 511.5h0M859.9 1036.5h0M1093.7 473.4h0M1504.2 718.9h0M1547.9 804.6h0M1219.1 782.5h0M1477.1 881h0M1488.7 817.4h0M852.4 1114.6h0M1395.2 763.5h0M1016.8 655.6h0M835.3 1073.3h0M1648.6 879.3h0M1210.5 576.1h0M864.3 515.6h0M1127.8 306.9h0M1660.5 850.5h0M1520.6 845.7h0M830 257.8h0M1331.2 625.7h0M999.6 752.4h0M1312.4 754.8h0M830.1 1094.8h0M1135.5 804.8h0M1729.2 857.4h0M1149.1 597.4h0M1454.6 689.2h0M587.9 559.1h0M1648 810.1h0M1114.9 807.3h0M1466.9 797.7h0M1405 816.7h0M1484.8 889.1h0M792.5 1018.1h0M1048.4 926h0M1147 268.7h0M1585 835.3h0M1492.5 877.9h0M1024.1 489.5h0M1614.3 780.9h0M1493.8 889.8h0M1582 927.4h0M1055.2 927.7h0M1504.2 934.8h0M1277.3 628.1h0M1520.7 956.1h0M1576.9 767.7h0M1466.1 729.1h0M1191 487h0M1496.5 770.8h0M825.9 942h0M1663.3 860.4h0M1511 704.1h0M752.8 1039.6h0M1625.2 872.2h0M1622.6 919h0M1508.9 938.2h0M793.5 1076.3h0M1448.7 746.5h0M1195.6 480h0M893.8 1064.8h0M1679 865.3h0M1526.5 801.7h0M1126.7 511.6h0M1600.2 820.6h0M1629.5 937.8h0M1613.9 762h0M1194.4 791.2h0M1479.2 720h0M1636.7 939.2h0M1220.2 544.5h0M1526.8 863.7h0M1052.3 506.1h0M1203 555.3h0M816 969.8h0M1117 504.5h0M965.3 681.6h0M1199.1 786.4h0M1108.8 813.6h0M1488.9 860.8h0M686.1 1009.7h0M1107.7 541.8h0M787.1 1017.5h0M811.2 1065.6h0M439.1 923.9h0M860.7 1085.5h0M683.7 953.7h0M1289 623.8h0M1514.1 873.2h0M1101.9 605.8h0M1255 642.5h0M1315.1 815.7h0M1483.4 854.9h0M1646.2 925.7h0M1163.3 607.8h0M1545 942.9h0M1680.2 900.6h0M1522.5 833.6h0M1582.6 943.6h0M870 1084.5h0M690.8 1022.9h0M1538.9 737.5h0M1498.7 720.3h0M775.2 1034.9h0M1601.5 885.8h0M1042.7 616.3h0M1084.1 967.4h0M826.1 1056h0M1316.9 812.4h0M1310 810.1h0M420 914.8h0M1629.3 674h0M1312.9 280.3h0M1133.8 545.8h0M1475 842h0M1653.2 876.8h0M1577.9 951.5h0M1251.7 603.5h0M1059.6 480.6h0M838.3 1061.6h0M1673.4 917.5h0M1629.8 908.6h0M1069.7 932.4h0M1179.1 513.5h0M1117.4 590.4h0M1248.5 618.6h0M998.2 653h0M1585.6 926.9h0M1568 828.7h0M918.1 1053.1h0M1189 613.5h0M1578.7 910.5h0M1533.2 773.3h0M872.5 1065.3h0M1512.2 935.9h0M959.7 694.3h0M1611.2 837.9h0M962.1 934.5h0M1440.7 789.3h0M1093.5 564.7h0M1538.6 909h0M1565.7 937.8h0M1621.9 857h0M1533.9 938.2h0M1581.8 735.3h0M888.5 1210.2h0M813.1 1027.5h0M1576.4 938.8h0M840.1 1043.1h0M1622.7 915.5h0M1470.5 789.7h0M869.5 1023.3h0M1499.3 767.7h0M1554.4 910.2h0M1502 821.4h0M1686.9 818h0M936 1007.4h0M1386.7 691.5h0M1678 789.4h0M958.1 684.5h0M811.3 937h0M942.4 491.1h0M360.1 888.8h0M1590.8 795.3h0M886.8 1053.5h0M1097.7 1074h0M997 673.9h0M1505 696.4h0M1152.7 561.4h0M1252 550h0M970 482h0M1304.4 679.8h0M1655.8 826.8h0M1570 907.5h0M1585.1 859.2h0M1317.9 662h0M1411.5 894.6h0M1493.7 923.8h0M1442.1 702.1h0M1234.4 536.3h0M1566.3 934.4h0M1668.4 862.1h0M1534.1 773.7h0M960.7 932.2h0M1335.5 674.8h0M881.5 1053.4h0M1184.4 797.2h0M709 928.7h0M1716.6 853.7h0M1686.4 814.7h0M1654.4 909.1h0M1220.6 489.5h0M1537 733.2h0M1691.3 810.5h0M1441.4 734h0M1181.3 605.9h0M1150 605.6h0M1241.9 523.8h0M1663.5 792.3h0M1241.2 527.8h0M1091.6 510.1h0M1652.7 752.7h0M1310.1 776.9h0M933.4 1062.5h0M1158.8 793.1h0M1161.7 561.3h0M1241.1 774.9h0M933 1054.3h0M1300.8 783.9h0M1550.7 868.4h0M1442 816.9h0M1730.3 869h0M1180.4 483.7h0M1144.7 530.3h0M645.2 782.4h0M1726.1 803.4h0M1480 893.5h0M573.1 577h0M1041.4 500.9h0M1581.3 847.9h0M1327.1 756.6h0M1215.6 630.8h0M710.1 940.1h0M837.5 1051.3h0M1362.8 938.7h0M1199.8 592.7h0M1543.5 876.8h0M807.4 1024h0M1524.1 826.6h0M1727 832.8h0M1650.6 865.7h0M1459.9 850.7h0M1642.5 904.6h0M1707.4 895.4h0M1224.1 542h0M1669.1 825.6h0M1206.8 531.5h0M1549.5 840.5h0M1457.3 897.8h0M1437.6 915.4h0M1358.7 783.8h0M1576.1 938.7h0M1311.9 621.7h0M1541.3 921.3h0M1211.3 477.4h0M1525.8 747.7h0M846.2 286.6h0M1210.7 576.4h0M1651.2 909.6h0M803.9 929.3h0M1210.8 500.3h0M1186.6 591.9h0M1091.5 551h0"/>
<path stroke="#feb67c" d="M1347.8 658.9h0M1433.3 710.5h0M1061.1 1075.1h0M1700.4 789.6h0M1168.4 530.3h0M832.9 1084.4h0M1597.6 922.8h0M1402.9 783.9h0M908 1058.7h0M1136.3 602.9h0M1452.4 834.8h0M1626 760.5h0M1230.7 559.8h0M1437.8 840.5h0M1534.7 942.1h0M1437.4 879.8h0M1569.4 934.7h0M1667.5 821.6h0M852.6 1097.7h0M1452.2 905.9h0M1467.3 730.2h0M915.5 1090.3h0M1607.4 839.6h0M1492.2 827.3h0M1684 886.9h0M1534.7 701h0M975.1 680.4h0M854.5 1008.7h0M1179.5 613.2h0M1064 517.7h0M1502.6 910h0M1105.2 947.4h0M1547.8 783.9h0M1553 857.3h0M1722.3 806.2h0M895.9 1055.6h0M1610.2 884.7h0M1435.5 888.7h0M1609.7 896.6h0M1529.6 821.4h0M1544.5 782.3h0M1593.2 908.9h0M796.8 1059.1h0M1596.1 849.6h0M885.7 1043.2h0M1076.5 906.8h0M1676.5 784.7h0M817.1 1037.6h0M1259 779.8h0M1386.2 729.7h0M1494.4 712.4h0M1238.7 774.5h0M1296.5 631.6h0M1604.5 798h0M1091.6 960.1h0M965.9 1075.2h0M1640.2 757.5h0M1421.9 717.7h0M1290.8 596.9h0M1413.3 885.8h0M1375 663h0M1225.5 776.1h0M1539 708.3h0M1105.8 803h0M1583.4 905.9h0M1389.6 808.5h0M867.3 1099.5h0M1368 704.9h0M1393.2 679h0M1469.2 929.2h0M1385.4 809.4h0M1610.7 806.5h0M903.9 1084.3h0M373.4 894.5h0M651.4 576.6h0M939.4 1010.4h0M1629.1 883.3h0M1130.8 500.3h0M761.2 848.5h0M854.9 1083.5h0M1447.3 710.5h0M1448.3 867.1h0M1560 896h0M1090.7 563.4h0M1510.3 923.7h0M1504.1 912.5h0M890.3 1037.5h0M1306.9 769.5h0M985.1 479.9h0M1434 884.1h0M1632.1 915h0M1601 758.3h0M1089.5 506h0M1650.1 824.1h0M1008.9 482.9h0M1595 947.4h0M472.3 929.8h0M1622.4 780h0M601.5 583.3h0M1516 868h0M979.4 714.9h0M1477.7 862.9h0M1211.3 623.5h0M1692.1 863.4h0M1569.6 786h0M1186.3 491.5h0M1421.9 694.1h0M852.7 1054h0M1072.7 721.1h0M1185.3 520.8h0M544.3 950.4h0M1307.4 644.4h0M907.2 1055.7h0M860.7 505.4h0M1095.3 738.6h0M894.8 505.5h0M1141.8 494.4h0M1471.1 901.2h0M1436.8 690.8h0M869 1053.2h0M696.9 935.7h0M1390.5 780.6h0M1224.3 611.6h0M1673.3 836.4h0M1329.9 814.1h0M1508 911h0M1457.5 934.7h0M1537.6 693.6h0M794.2 1061.3h0M1105.4 958.8h0M1701.4 820.1h0M1560.7 949.9h0M863.9 1022.8h0M1512.6 898.5h0M1229.7 586.6h0M1675.2 904.5h0M1384.8 733.2h0M892.3 1009.1h0M1565.2 769.3h0M1590.2 809.3h0M980.5 479.5h0M1669.5 822.7h0M853.6 1030h0M1583.7 872h0M1112.4 536.1h0M1681.7 774.1h0M1522.4 822.1h0M948.9 1050.3h0M824.9 1061.4h0M997.9 705.1h0M935.3 1071.1h0M1517.7 869.3h0M1707.2 835.1h0M1582.3 879.6h0M854.8 1053.7h0M1663.2 884.1h0M1693.5 906.1h0M1280.8 645.9h0M1467.4 756.9h0M923.9 477.2h0M1310.8 671.8h0M869.2 1102.2h0M1590.9 893.1h0M1103.4 570.5h0M1587.2 796.1h0M953.3 1054.6h0M1083 968.4h0M1208.1 514h0M1586.4 860.8h0M1281 782h0M1695.1 854.3h0M850.7 1050.5h0M841.1 1025.5h0M1207.9 632.9h0M1610.6 943.1h0M1567.3 936.6h0M567.9 553h0M1597.3 783.2h0M1245 535.7h0M1143.7 504.7h0M681.7 1024h0M1394.8 686.9h0M1266.7 530.8h0M1268.3 529.9h0M1448.4 915.6h0M1173.6 581.8h0M1083.5 1059.3h0M1124.5 480.7h0M1711.5 829.8h0M1531.1 805.6h0M1646.5 839.1h0M1615.8 882.8h0M1501.1 800.1h0M1624.1 700.9h0M406.4 911h0M1589.3 901.6h0M1560.9 891.8h0M1515.8 699.1h0M1548.9 912.4h0M498.2 937.5h0M1082.8 1074.8h0M1057.8 929.7h0M1150 489.4h0M1619.8 931.7h0M1049.1 477h0M1409.1 758.2h0M1658.7 925.6h0M1712.3 819.8h0M1667.2 815.3h0M1421.4 815.2h0M1180 794.2h0M1395.9 935h0M1037.3 487.3h0M1734.7 807.3h0M775 1048.3h0M1445.8 853.3h0M1033.5 491h0M1659 791.8h0M1538.4 713.4h0M466.7 925.2h0M963.2 1059.4h0M884.2 1054.3h0M1060.5 491.2h0M1538.4 860.7h0M1483.8 754.1h0M1629 876.7h0M1598.6 922.3h0M685.4 957.1h0M1021.9 621.7h0M817.4 243.7h0M905.5 1103.4h0M1623 791.1h0M1575.3 906.1h0M1418.4 822.6h0M1643.8 841.5h0M1557.9 848h0M983.4 926.4h0M1693.9 862.8h0M1485.6 758.1h0M1576.6 923.5h0M904.1 496.4h0M1240.5 618.9h0M875.1 1067.6h0M1663.5 789.7h0M1433.6 921.9h0M1685.6 909.1h0M1084.3 1076.9h0M1687 793.5h0M1251.2 548.7h0M427.6 914.8h0M1158.3 481h0M1275.5 808.3h0M958.7 685.1h0M1677.3 891.1h0M1282.5 654.8h0M1404.3 691.1h0M882.4 1083.4h0M1296.2 627h0M878.9 494.2h0M1280.3 807.3h0M1617.2 829.7h0M1733.4 861.6h0M1168.6 561.7h0M1339.9 947.3h0M1152.7 540.5h0M1695.6 802.4h0M1318.6 810.8h0M1554.8 865.5h0M1016.8 721h0M1572.5 786.3h0M1441 897h0M1576 780h0M1590.2 917.2h0M707.6 931.3h0M1054.4 526.6h0M1365.2 939.1h0M1430.8 876.1h0M1568.8 873.8h0M1729.8 853.7h0M1193.4 572.7h0M1682.4 862h0M1589.6 866.3h0M1414.2 705h0M1547.4 875h0M1432.8 808h0M1045.7 568.5h0M921.7 1072.6h0M1231 634.8h0M1665.9 903.7h0M1116 518.5h0M1348.9 344.1h0M859.6 1048.6h0M985.7 671.4h0M1265.3 523.6h0M1564.6 938.3h0M1723.1 822.2h0M1608.3 839.6h0M1431.3 902.5h0M871.9 1066.4h0M843.3 1095.2h0M944 1083.3h0M1665.8 797.4h0M1027.7 713.5h0M1732.5 857h0M1530.4 813.9h0M1602.3 945.4h0M1325.9 659.6h0M1635.9 901.7h0M774.2 1025.7h0M1461 885.1h0M614.3 561.8h0M1636.9 864.9h0M619.9 573.8h0M1069.6 509.1h0M873.8 1062.8h0M998.3 623.2h0M1488.2 936.3h0M1697.1 793.9h0M1436.9 849.6h0M1497 725.2h0M1573.5 830.8h0M1509 895.8h0M922.1 1075.2h0M1320.7 609.8h0M1364.3 785.1h0M1055.7 534.5h0M1613.5 918.6h0M1128.4 531.8h0M1528.9 702.2h0M1530.2 899.9h0M1132.7 532.1h0M1673.6 780.6h0M1652 832.6h0M1474.3 880h0M858.5 1027.7h0M1550.2 923.7h0M1645.5 897.4h0M1290.6 652.4h0M1059.5 546.8h0M1100 551.7h0M880.2 1096.9h0M1558.8 833.2h0M1412.1 776.9h0M1313.4 813.3h0M1706.8 861.6h0M1542.4 942.5h0M1437.3 775.4h0M1494.1 710h0M1349.7 665.7h0M1637.1 812.7h0M1527 780.8h0M902.7 485.7h0M888.4 1102.3h0M1661.9 877.9h0M1505.4 877.2h0M1587.9 930.8h0M1501.6 840.8h0M1040.2 1072.7h0M820.9 1027.3h0M1519.5 926.8h0M1731.4 842.4h0M844.7 1025.9h0M1665.3 821.3h0M920.1 1076.2h0M954.2 1018h0M1598.7 912.7h0M1718.3 881h0M879.6 1028.6h0M825.5 1047.2h0M1423.8 873.4h0M1298.9 803.4h0M1575.3 746.9h0M936.5 1084h0M954.6 1072.4h0M1068.5 1061.1h0M1070.4 479.5h0M1507.5 910.1h0M1222.6 775.3h0M1241.6 800.8h0M1493.2 734.7h0M1306.4 777.7h0M1101.5 530h0M905.4 491.9h0M889.3 1056.1h0M1041.3 654.1h0M1193.5 548.6h0M1171.8 603.1h0M1034.6 607h0M1688.9 889.4h0M1088.2 630.2h0M1468.8 706.8h0M923.2 1084.2h0M1579.4 851.7h0M1113 540.1h0M1443.1 704.4h0M610.7 815.2h0M1165 507.3h0M1356.4 695.9h0M1705.5 838.1h0M1575.3 879.9h0M1501.8 743.9h0M622.7 591.8h0M1263.5 526.8h0M999.5 682h0M1644.1 935.5h0M883.9 1090.6h0M1459.9 773.4h0M1163.2 629.3h0M1457.4 794.1h0M1643.5 913.7h0M1227 625h0M1643.8 894.7h0M1539.2 876.8h0M1455.7 896.3h0M1622.9 767h0M1472.5 767.6h0M1462.5 857.8h0M1532.8 952.3h0M971.3 1028.6h0M703.4 956.3h0M1704.9 790h0M1499.3 742h0M1458.7 897.1h0M1489.7 752.4h0M1642.6 882h0M1335.5 815.3h0M1306.8 644.9h0M1211.1 637.7h0M1096.1 269.5h0M1055.5 520.9h0M1743 801h0M1113.3 509.6h0M901.7 1101.4h0M1668.3 832.8h0M1662.4 796.7h0M1663.7 762h0M660.9 594.7h0M1540.8 904.8h0M1712.2 804.5h0M1534.2 830.5h0M1468.7 862.1h0M1495.6 868.3h0M1318.6 323.2h0M789.9 1074.8h0M803.5 1075h0M1672.2 906h0M1172.2 527h0M1444.1 724.2h0M1507 708.9h0M1074.4 492.4h0M1513 859.7h0M950.2 736.4h0M1615.8 866.3h0M933.8 1063.3h0M1045.5 1077.5h0M572.1 551.4h0M1237.5 521h0M1009.4 478.4h0M351.5 881.1h0M866.8 1024.1h0M1513.9 895.1h0M1638.3 791.5h0M1022.3 516.2h0M1475.8 923.8h0M1589.1 906.2h0M1626 792.1h0M774.6 1068.1h0M1675.3 890.1h0M1655.6 762.6h0M1712.3 834.6h0M820.3 1036.7h0M1441.7 880.7h0M776.4 1067.9h0M1647.7 800.9h0M1695.5 901.9h0M1224.4 544.6h0M1388.6 713.5h0M1675.7 902.9h0M1552.6 943.2h0M1137.8 565.1h0M862.4 1057h0M1094.3 957.9h0M1593.7 898.2h0M1486.8 788.9h0M1639.5 804.4h0M1131.1 260h0M850.3 1050.1h0M1268.6 597h0M1106.7 285.8h0M1556.5 889.8h0M1600.2 939.6h0M1725.5 822h0M1541.8 867.4h0M1074.7 512.5h0M1509.7 956.2h0M1492.6 700.6h0M1455.8 815.1h0M1235.2 627h0M1712.2 880.6h0M1420.7 742.4h0M1687.9 796.1h0M1123.4 498.5h0M1086.4 492.4h0M1631.3 754.8h0M1377.7 811.9h0M1644.5 930.5h0M1556.7 900.7h0M834.1 933.2h0M1445 917.9h0M1569.1 767.7h0M1637.2 889.5h0M842.9 1083.6h0M1739.1 854.8h0M1604.8 841h0M1611.5 764.3h0M1122.1 594.2h0M1083 649.6h0M708.8 926.4h0M1362.3 939.2h0M1486.4 818.6h0M1078.8 653.2h0M1199.7 497.8h0M1502.9 915.3h0M978.1 1021h0M834.9 1078.4h0M642.7 414.6h0M687.1 971.7h0M1452 751.4h0M1633.2 694.4h0M995.2 711.5h0M1141.4 529.1h0M1189 605.1h0M1717 834.3h0M642.1 453.7h0M1478.8 810.8h0M647.4 593.7h0M1429.1 709.4h0M804.1 1035.9h0M1127.4 608.5h0M837.1 1061.8h0M1382.1 692.6h0M899.7 1087.3h0M1254.8 798.9h0M1663.6 865.2h0M1402 754.2h0M1517.3 704.5h0M1381.8 789.2h0M999.2 710.7h0M816.7 946.8h0M1406.2 789.1h0M1615.2 937.9h0M425.8 920.2h0M1485.8 747.8h0M1201 567.2h0M866.1 503.2h0M1580.9 835.3h0M1075.1 901.9h0M1308.5 667.9h0M1209.4 564.8h0M1049.3 928h0M1422.7 686.1h0M1326.8 661.8h0M883 1055.8h0M1054.2 477.4h0M1075.5 1076.6h0M814.9 1071h0M1664.9 874h0M1680.4 804h0M1470.3 710h0M1715.7 825.8h0M1420.1 797.2h0M1565.3 928.5h0M932.3 1069.5h0M1569.8 902.6h0M1668.7 870.3h0M673.1 579.8h0M672.8 423.6h0M1597.9 894.5h0M835.4 1102h0M765.9 837.8h0M882.4 1110.7h0M1668.5 866.3h0M1428.5 882.6h0M1552.2 809h0M1040.8 645h0M1645.9 837.3h0M1298.5 808.3h0M578 557.9h0M1496.2 734.5h0M1138.2 490.4h0M1108.4 513.9h0M793.5 1057.5h0M557.7 963.5h0M1249.6 513.9h0M957.1 498.5h0M817.9 1038.6h0M1598.6 915.2h0M1208.6 535.8h0M1714.9 847h0M1140.6 573.7h0M845.9 1062.3h0M675.2 992.4h0M1507.4 845.7h0M1183.8 488.9h0M1505.6 690.8h0M1528.4 790.7h0M1495.1 911.8h0M1406.8 817h0M1501.8 766.5h0M893.4 1084.7h0M1531.2 752.9h0M694.7 958.3h0M834.7 1062.2h0M1437 850.7h0M1163.3 542.9h0M683.2 952.9h0M891.9 1086.4h0M1570.9 830.9h0M1542.4 745.5h0M1629.2 908.8h0M630.1 591.4h0M1578.4 876.5h0M887.8 1023.1h0M1666.4 855h0M1214.4 775.9h0M904.1 1075.8h0M1506.5 818.8h0M1483.8 819.8h0M1542.1 907.2h0M1502.7 824.6h0M1651.2 928.3h0M1189.6 601.1h0M1719.5 865.4h0M1183.3 578.1h0M558.2 582.1h0M822.6 1028.9h0M1178.8 583.2h0M929.8 487.5h0M1499.6 836.9h0M1264 598.9h0M914.6 1039.8h0M962.3 671.7h0M1244.4 566.9h0M1135.7 517.7h0M1114.6 505.6h0M1128.1 577.8h0M1599.7 879.4h0M1198.6 594.1h0M827.1 513h0M1105.8 529.8h0M1326.7 811.6h0M836 280.4h0M571.7 576.7h0M1266.8 582.1h0M851.4 1038h0M1475.5 895.3h0M900.9 1037.9h0M1523.3 940.8h0M903.6 1062.3h0M961.1 1055h0M324.7 869.5h0M1119.2 547.6h0M1634.1 750.1h0M1667.8 770.2h0M1571.8 877.6h0M1417.6 886.9h0M1708.2 895.3h0M1489.4 909.5h0M1596 912.8h0M1154.5 549.6h0M1598.5 785.7h0M1636.7 755.4h0M1126.5 506.4h0M1445.8 692.7h0M1282.9 629.2h0M1512.8 849.9h0M1677.3 794.1h0M908.3 1055.2h0M1431.4 730.3h0M1465.2 884.1h0M1602.1 844h0M949.6 1082.8h0M837.7 1088.9h0M1174.9 612.9h0M1398.2 669.3h0M879.9 1180.9h0M794.9 1039.5h0M892.8 1065.1h0M804.2 1082.6h0M1455.2 910.6h0M1049.2 479.7h0M1481.6 854.5h0M1555.2 861.7h0M570.9 550.1h0M1604 798.5h0M1183.6 630.1h0M1698 828.4h0M944.7 1063.7h0M1485 794.8h0M1492.9 885.6h0M1510.3 773.6h0M1429.8 773.9h0M940.4 1087.4h0M1520.6 957.3h0M1585.4 937.8h0M1208.6 577.6h0M852.3 1074.3h0M503 934.7h0M1473.4 710.5h0M1577.1 919h0M1492.7 886.7h0M1654.7 918.9h0M1337.4 653.8h0M1397.1 804.1h0M1541.9 956.1h0M1625 688h0M1469.3 815.1h0M1566.9 764h0M1458.8 819.8h0M1109.6 511.2h0M1567.5 932.7h0M1246.5 594.5h0M1295.9 657.8h0M1464.2 751.9h0M820.8 510.6h0M1295 573h0M850 1089.8h0M1270.1 539.5h0M1556.6 920.4h0M1451.4 840h0M1475.7 821.8h0M1529.7 874.4h0M1371.9 685.3h0M1601.5 782.7h0M1744.6 831.9h0M1549.9 773.8h0M1172.9 603.5h0M1081 804.1h0M1469.4 718h0M1630.6 698.3h0M1230 797.9h0M887.9 498.5h0M874.8 1095.4h0M1175.4 549.2h0M768.8 862.8h0M1699.3 773.8h0M1670.1 913.4h0M1320.7 609.6h0M1599.4 675.6h0M1458.7 865.9h0M1608.9 786.2h0M1480.7 870.2h0M814.1 957.1h0M1555.3 801.5h0M1635.4 905.8h0M1002.1 476.2h0M1430.2 901.2h0M1175.5 587.5h0M629.4 1025.6h0M1434.6 689.2h0M1536.6 775.7h0M1673 907h0M1579.2 801.9h0M1727.4 806.7h0M942 1053.9h0M1480.5 824.4h0M1562.6 955.6h0M1341.5 947.3h0M1179.7 515.8h0M1512.9 819.2h0M1595.5 947.9h0M1600.5 859.1h0M1460.5 927.8h0M1372 680.6h0M1233.3 795.8h0M1614.5 833h0M1034.8 518.3h0M1577 867.3h0M1360 939.9h0M911 1069.4h0M1682.3 790.7h0M1494.6 936.9h0M1626 944.6h0M1166.8 602.6h0M1548.3 784.9h0M1287.8 614.7h0M615.2 561.9h0M1485.9 804.8h0M1055.4 1072.3h0M1373.6 780.1h0M1426.7 824.9h0M1629.5 791.2h0M808.1 1044.1h0M1077.1 966h0M1684.9 807.2h0M1608.1 781.2h0M1586.2 815.6h0M1604.1 884.2h0M837.3 1102.5h0M1622.8 849.9h0M1600.3 938.2h0M1093.9 559h0M1637.4 763.8h0M1005.4 513h0M877.7 510.2h0M1647.4 814.2h0M1550.9 889.1h0M1599 804.2h0M766.3 1026.8h0M1233.4 591.7h0M1575 928.6h0M1458.4 854.1h0M694.5 953.3h0M710.7 939.3h0M1659.7 831.4h0M1643.1 893.3h0M880.6 1030.8h0M1453.9 837.3h0M1564.5 919.3h0M1456.9 692.9h0M707.2 934.8h0M1478.8 896.9h0M1572.3 933h0M1098.4 1077.3h0M1150.1 284.6h0M951.1 926.8h0M1428.4 742.6h0M1208.9 548.7h0M1267.9 629.7h0M1086.6 548h0M854.1 1076.3h0M1622.9 925.6h0M1605.9 776.8h0M1588.2 840h0M1400.6 896h0M1617.3 759.1h0M560.2 552.3h0M1479.7 695.2h0M1613.7 827.3h0M776.6 1071h0M1693.1 815.5h0M842.5 1084.1h0M897.9 509.9h0M1342.1 946.9h0M1434.7 736h0M1038.9 517.6h0M1374.3 777h0M1105.3 569.1h0M1738.4 829.7h0M1507.2 897.4h0M1394 740.3h0M1230.5 802h0M1539 927.1h0M1102.3 1084.9h0M1359.4 778.7h0M1128.7 306h0M1223.2 576.7h0M1531.9 853.3h0M1495.2 744h0M1585.6 949.6h0M1048.1 1066.7h0M1109.4 510.6h0M626.1 585.9h0M1070.1 930.9h0M956 1030h0M993.5 755.5h0M1697.5 838.8h0M863.9 1025h0M1344.5 773.4h0M1249.1 641h0M1176.3 487.5h0M1603.2 943.6h0M1546.3 945.8h0M1540.4 929h0M1409.1 784.9h0M1663.4 811.3h0M1600.3 796.8h0M890.4 1086h0M1502.7 760.6h0M1493.3 759.9h0M1647.3 843.6h0M1485.9 914.5h0M1361.6 778.1h0M1538.6 783.1h0M1234.7 638.6h0M1473.7 862.5h0M1635.5 863.8h0M916.7 1057h0M1406.4 741.5h0M1074 813.6h0M796.8 1064.8h0M1028.8 684.4h0M1658 847h0M944.7 479.9h0M1439.5 893h0M858.2 1083.3h0M359.8 887.8h0M1658.1 780.3h0M1553.7 927.1h0M1465.6 881.5h0M1639.8 756.5h0M1117.4 947.6h0M1427.8 809.6h0M1535.7 931.8h0M1347.6 822.7h0M337.4 874.2h0M1693.4 868.8h0M1452.1 868.4h0M1482 750.1h0M1632.4 898.9h0M1407.7 697.2h0M1700.3 878.5h0M1538.1 897.6h0M1155.3 576.9h0M859.8 1015.8h0M1075 1081.6h0M790.2 1013.5h0M1042.4 539h0M1440 879.2h0M1693 773h0M1611 866.7h0M1615.9 749.4h0M1168.2 616.3h0M375.8 894.8h0M1066.9 639.3h0M1018 709.8h0M1554.8 823.2h0M811.9 250.1h0M825.4 1032h0M1248.4 567.8h0M1225.5 630.1h0M909.2 1059.3h0M1696.6 787.8h0M1210.6 558.4h0M1530.1 776.2h0M1022 495.2h0M1011.8 494.4h0M1521.8 957.1h0M1500.3 876.6h0M1658 825.9h0M1048.5 486.4h0M1474.2 744.4h0M1518.2 845.7h0M1160.8 794.5h0M1654.4 856.9h0M1469 753h0M1512.8 946.3h0M1433.3 729.5h0M1001.6 499.4h0M1213.3 606.5h0M1611.7 903.3h0M1174.1 540h0M1493 859.9h0M1613.1 723.8h0M1545.2 891h0M1468.4 858.3h0M1380.1 661.9h0M725.2 936h0M1631.7 791.3h0M853.7 1025.5h0M1107.3 1079.3h0M591.2 583.5h0M1595.8 892.7h0M825.6 965.7h0M1136.5 534.6h0M1422.5 748.1h0M1043.5 485.8h0M1426.1 901.4h0M1462.9 731.7h0M989.4 692.3h0M952.2 1050.4h0M1328 673.9h0M1173.1 490.9h0M1412.6 896.1h0M829.8 1037.1h0M1526.7 940.1h0M1639.2 865.8h0M1496.4 855.8h0M1628 843h0M1114.4 553.5h0M1382.4 663.3h0M1377.3 938h0M1055.8 525.2h0M1652.5 837.8h0M1099.3 1069.6h0M1499 821.6h0M1086.9 511.8h0M1072.5 534.7h0M1285.7 592.3h0M853.3 1034.7h0M1568.2 901.5h0M643.9 587.4h0M1076.3 1060.2h0M1075.9 899.7h0M1111 809.4h0M1528.6 694.3h0M1284.9 651.2h0M889.7 1210.9h0M1742.8 838.2h0M1696.4 904.6h0M1615.2 750.9h0M1611.1 685.1h0M1437.6 834.6h0M1494.7 929.4h0M1499.9 833.8h0M939.7 930.6h0M1605 951.4h0M1463.7 846.7h0M1145.7 482.7h0M1518.2 901.9h0M1647.2 844.4h0M1533.2 781.3h0M1693.3 844.8h0M994.2 679h0M1539 788.8h0M1072 512.8h0M489.6 932.5h0M1100.4 524.2h0M805.3 1055.7h0M1197 538h0M1094.5 517.6h0M1649.2 799.4h0M1531.9 905.4h0M1454.9 727.3h0M1527.7 916.2h0M1577.2 778.9h0M1639 934.7h0M928.4 1072.8h0M1697.1 789.2h0M910.2 520.1h0M1695.2 779.8h0M1505.1 883.9h0M1523.8 909.4h0M1490.8 804.8h0M1527.9 948.3h0M1316.1 619.8h0M1112.2 561.8h0M1529.5 798.8h0M839.7 1025.1h0M1269.1 532.1h0M1103 534.9h0M1319.2 778h0M898.5 1077.4h0M1647.7 879.1h0M1062.1 508.2h0M1663 760.5h0M1123.7 955.7h0M1532.6 958.6h0M712 937.6h0M465.7 930.8h0M1171.6 533.8h0M1248.1 616.9h0M1088.9 1062.3h0M1736.3 795.5h0M1257.2 588.7h0M1498.6 869.5h0M1486 915.1h0M1537.9 849.2h0M782.8 1072.3h0M1502.9 912.5h0M1516.2 869h0M951.8 539h0M1137.7 532.6h0M1660.8 773.8h0M1227.4 530.5h0M1565.7 848.9h0M1156.1 512.1h0M1194 537.4h0M1070.1 653.7h0M1188.9 488h0M865.8 1033h0M1223.2 599.5h0M1489.6 847.4h0M1172.4 628.3h0M1531.1 704.8h0M670.8 1014.5h0M1623.3 853.9h0M999.3 686.3h0M1315.5 666.9h0M930.2 483.3h0M1560.6 831.9h0M1534.5 757.1h0M1160 792.7h0M618.7 560.5h0M1126.2 609.4h0M1188.5 552.4h0M1331.3 946.5h0M1493 789.3h0M1211 630.7h0M542.4 953.9h0M1472.7 733.3h0M1368.4 702.3h0M1207 521.8h0M1185.5 550.8h0M1634.4 775.3h0M1520 958.5h0M1485.1 867.8h0M1479.7 841h0M1246.2 561.3h0M1720.1 807.5h0M816.1 1034h0M1366.2 682.4h0M892.5 1110.1h0M847.6 1060.9h0M859.9 1059.8h0M1514.2 917.9h0M867.7 1045h0M1504.4 881.1h0M1057.3 623.7h0M1327.8 950.3h0M1563.1 805.5h0M1647.8 822.7h0M1492.7 755.9h0M1592.8 831.2h0M1236.2 504.8h0M1268 573.4h0M1451.4 917.2h0M1118.2 505.8h0M821.9 1095.2h0M1623.9 804.3h0M1570.7 926.6h0M1187.8 556h0M1682.7 776.3h0M1467.7 794.4h0M1704 865.9h0M1154.5 588.5h0M1669.1 858.3h0M1247.1 550.1h0M1726 839.9h0M1653.5 851.3h0M1647.5 898.2h0M623.4 568.6h0M1240.7 537.6h0M1171.5 505.9h0M1015.9 505.4h0M1703.8 866.3h0M887.4 1034.4h0M903.2 478.3h0M1113.6 1076.6h0M1097.4 740.8h0M1589.6 911.5h0M1578.2 940.6h0M1221.4 568.1h0M1603 798.6h0M1629 891.1h0M908.7 1062.3h0M1654 789.2h0M1168 548.7h0M549.6 960.8h0M892.3 1052.7h0M1464.5 880h0M1036 527.6h0M1347.9 943.8h0M840.1 1045h0M1538.1 942.5h0M1360.9 824.4h0M1018.8 499.7h0M1579 917.1h0M1551.8 896.1h0M1504.4 799.4h0M1720.8 818.3h0M1564.6 823.3h0M1531.9 851.4h0M1466.9 778.2h0M1482.2 826.7h0M892.5 1066.1h0M1424.8 700h0M1671.3 795.3h0M889.5 1049.3h0M1152.8 590.2h0M1611.1 845.9h0M856.4 1087.8h0M1263.1 561.7h0M1331.1 616.2h0M1619.7 760.7h0M1602.2 826.2h0M1430.9 740.3h0M1716.2 791.7h0M1369.2 682.1h0M699.2 930.3h0M1120.2 565.4h0M1281.3 612.1h0M1066.3 1079.4h0M1481 794h0M1445.8 826.3h0M811.8 1036.7h0M1548.2 921.7h0M1021.2 715.9h0M1475.1 757.1h0M1196.6 602.9h0M1347.8 692.2h0M1487.5 916.7h0M1050.2 478.2h0M845 1073.8h0M805.3 1059.6h0M1603.7 805.4h0M1625.2 826.8h0M932.2 1079.4h0M1561.2 822.6h0M1299.6 782.4h0M1111.5 504.8h0M1613.5 893.3h0M1147.3 556.7h0M823.3 949.4h0M1020.3 646.3h0M1043.5 472.5h0M822.9 1044.2h0M1655.5 861.6h0M1140.2 563.8h0M1660.8 925.7h0M836.2 1072.2h0M1722 822.5h0M1709.7 887.7h0M1119.9 543.5h0M1630.9 807.3h0M828.2 507.4h0M1115.7 562.9h0M1475 815.8h0M1506.1 896.9h0M1591.2 897.4h0M1550.9 816.4h0M1047 530.1h0M359.3 886.6h0M1412 725.3h0M1113 490.8h0M1415.7 795.9h0M791.9 1071.5h0M1282.5 600.9h0M1077.5 482.4h0M1146.2 543.6h0M1664.2 914h0M970.4 670.2h0M696.4 941.7h0M1361.8 711.1h0M702.5 955.8h0M1326.7 665.6h0M886.5 1037.1h0M1624 885.3h0M1557.9 899.1h0M1588.5 767h0M1438.1 917.3h0M1089.6 486.8h0M1525.8 895.3h0M1240.5 782.3h0M1539.7 943.7h0M1713.5 881.8h0M973.6 1011.7h0M931.4 1012.7h0M1313.7 665.7h0M1088.3 1065.6h0M1248.2 530.9h0M922.9 1060.6h0M1262 532.4h0M1286 569.3h0M1676.9 787h0M1520.3 924.4h0M1480 888.5h0M1155.2 531.7h0M1626 844.6h0M1476.6 832.8h0M1376.6 695.2h0M632.5 993.8h0M1261.2 612.9h0M879.9 1051.5h0M1505.7 908h0M1500.3 829.8h0M1564.8 844.5h0M1517.5 812.8h0M1476.2 737.3h0M1493.4 909.9h0M1078.6 557.2h0M1190.4 569.8h0M890.6 1104.9h0M430.9 924.1h0M1735.1 866.1h0M1462.4 924.7h0M1089 477.3h0M969.4 1012.3h0M1447 825.6h0M1161.5 546.8h0M875.2 1203h0M1526.8 809.1h0M952.4 1068.1h0M981.9 1008.3h0M1548.8 889.4h0M1514.9 807.3h0M1512.5 735.6h0M870.6 1043.2h0M1435.8 724.3h0M1304.2 678.6h0M1249.4 542.9h0M964.3 673.6h0M799.8 1077.5h0M754.7 836.9h0M1022.6 487.6h0M1621 679.5h0M1586.2 906.5h0M1117 518.3h0M953.7 684.3h0M922.5 1072h0M1397.6 691.9h0M1586.2 793.5h0M1509.6 803.7h0M1246.6 498.7h0M1599.9 915.3h0M703.4 935.9h0M1693.6 897.5h0M1373.4 781.1h0M1560.9 805.4h0M949.1 1057.2h0M790.4 1033.4h0M1111.5 965.7h0M1452.9 770.3h0M1447.1 914.8h0M1633.7 884.4h0M1524.3 732.6h0M1632.6 778.9h0M1011 485.8h0M1515.4 724.1h0M1216.2 630.1h0M1103.3 963h0M1583.9 873.3h0M816.4 1066.8h0M1266 539.6h0M1649.7 862.7h0M1128.8 482.6h0M1384.2 697.8h0M1634.1 913.9h0M1124 522.3h0M1624 786.6h0M1037.9 526.4h0M1634.2 917.3h0M840.4 1071.3h0M855.2 1113.9h0M1445.7 795.3h0M1329.4 667.7h0M1691.2 894.3h0M1227.5 558.7h0M1200.8 618.1h0M1515.9 921.3h0M1588 921.8h0M1637.5 762h0M1147.2 523.4h0M1300.6 786h0M1681.7 807.1h0M852.9 1088.8h0M1563.8 924.7h0M1665.2 848.4h0M1332.9 954h0M1111.7 947.9h0M1661.9 824.7h0M1268 601.9h0M1555 876.4h0M954.9 1083.1h0M809.9 1034.5h0M837 1070.3h0M1526.8 932.8h0M336.2 874.1h0M1296.9 786.2h0M1621.9 864.3h0M1454.3 924.5h0M764.9 844.9h0M1621 927.7h0M1457.7 699.8h0M1444 923.6h0M1054.1 929.7h0M1622.3 920.7h0M1074.6 507.6h0M1106.2 482.6h0M1017.2 571.8h0M1484.6 870.5h0M1057.6 929.5h0M876 1033.5h0M1476.2 768.3h0M1033.2 517.5h0M1685 827.2h0M1512.4 947.5h0M1100.4 950.1h0M1502.6 812.5h0M453.3 927.1h0M1152.4 604.9h0M1681.6 881.2h0M1667 861.7h0M1262.8 614.5h0M1680.1 777.2h0M1036.8 512.4h0M986.6 491.9h0M1337.2 666h0M1035.1 1068h0M1612 941.3h0M1468.1 763.4h0M1497.2 939.3h0M1537.4 902.2h0M1178.6 478.6h0M1577.9 794.8h0M844.2 1082.4h0M689.8 765h0M1508.8 791.4h0M1503.2 737.3h0M1242.6 631.4h0M1275.5 641.5h0M1534.7 878.9h0M1655.1 772.7h0M1716.6 870.3h0M1192.5 489.7h0M1674.6 821.8h0M1590 776.5h0M1295.5 669.4h0M1475 695.8h0M945.6 1060.7h0M1245 604h0M1000.6 712.6h0M1657.9 916.3h0M390.5 903.1h0M1638.8 918.2h0M1623 772.4h0M1505.1 704.2h0M1453.6 895.4h0M1596.6 786.4h0M1238.5 570.4h0M1668.3 858.5h0M869.5 1059.2h0M1638.7 921h0M843.3 1106h0M1669.2 924.6h0M1540.6 866.5h0M1625.6 819.3h0M1686.5 830.4h0M705.8 943.5h0M1526.1 842.6h0M1506.6 704.9h0M1646.4 907.9h0M1678.6 792.8h0M949.7 1068.8h0M1450.9 817.9h0M1208.8 616h0M1586.5 758.6h0M1615.2 902h0M1709.6 798.2h0M1521.3 763.2h0M932.8 1057.7h0M1511.6 849.5h0M1050.4 484.1h0M1554.1 712.4h0M1312.5 716.6h0M1495.4 926.4h0M1113.6 561h0M1621.9 673.7h0M1476 689.7h0M1532.8 915.8h0M1623.8 842.5h0M1441.3 747.7h0M958.5 1068.6h0M1511.7 897.4h0M1530.5 958.6h0M1696.6 845.5h0M1247.2 598.9h0M1514.5 790.9h0M1644.1 810h0M1048.8 519.4h0M1556 839h0M1325.8 766.6h0M1474.4 900.5h0M1496.4 707.1h0M795.5 986.5h0M954 678.2h0M1231.9 547.3h0M1391.9 800.1h0M705.7 942.2h0M1208.3 555.7h0M1646.2 868.8h0M1735.9 830.3h0M1369.4 724h0M1228.1 585.3h0M1088.5 955.8h0M1617.7 797.1h0M1349.1 649.2h0M668.2 421.7h0M1513.5 908.2h0M1364.7 703.5h0M1096 1064.1h0M901.7 494.8h0M959.6 1016.9h0M1082.4 734.6h0M1598.2 881.9h0M749.3 1048.3h0M869 1095.9h0M1575.1 908.3h0M1436.1 867.5h0M1153.5 274.2h0M1403.1 780.6h0M1574.2 844.4h0M1075.7 533.5h0M1565.6 739.7h0M1531.3 773.8h0M1517 933.8h0M1168.8 570.7h0M1586.6 790h0M1412.3 713.8h0M1538.3 835.3h0M1194.9 580.7h0M879.9 1066.2h0M867.4 1032.1h0M1015.7 707.8h0M1112.9 1078.5h0M1362.2 686.3h0M1420.7 696.7h0M1015.2 717.9h0M853.5 1055.2h0M873.5 1056.7h0M1520.9 932h0M1046.6 495.9h0M1261 564.9h0M1396.2 753.3h0M810.9 1074h0M1695.7 903.5h0M1611.5 874.4h0M1444.5 753.6h0M635.6 589.3h0M543.1 990.7h0M1322.9 660.5h0M1474 891.7h0M811.4 1082.1h0M1054.6 733.8h0M1483.2 732.1h0M1114.3 256.7h0M1489 861.5h0M914 506.1h0M1543 941.2h0M1687.8 824.5h0M1053 530.5h0M1533.7 738.4h0M1179.6 565.9h0M1023.9 1073.5h0M1085.5 965.8h0M984.7 692.8h0M945.1 482.8h0M1603.3 945.7h0M947.1 1062.8h0M1546 880.6h0M703.6 932.9h0M1643.7 773.3h0M1611.8 837.4h0M1373.9 756.9h0M1480.3 923.1h0M1412.3 885.9h0M1536.9 786.2h0M1487.1 840.5h0M1253.6 721h0M1181.9 603.8h0M1121.7 306.5h0M1520.8 933.8h0M1580.6 816.7h0M611.3 409.9h0M1674.4 814.7h0M1291.6 634.8h0M804.8 1056.4h0M1570.8 820.1h0M1363.4 682.4h0M1617.7 802h0M690.7 955.7h0M1731.1 815.2h0M1705.4 861h0M1159.6 480.2h0M1671 776.5h0M1511.3 709.4h0M1139.3 564.3h0M809.2 1065.9h0M1498.6 792.3h0M862.7 1038.7h0M1627.9 849.5h0M1153 587.4h0M1211.3 626.3h0M1456.6 802.8h0M1579.8 841.8h0M1693.1 839.6h0M1451.2 786.2h0M1460.7 730.5h0M833.4 973.2h0M1638.4 900.4h0M1653.1 911.4h0M1184 607.5h0M915.8 1013.5h0M1150.2 482.6h0M1450.4 733h0M1010.4 519.2h0M1080.8 812.8h0M1662.5 886.7h0M1400.6 893.4h0M1435.7 736.7h0M1212.6 525.6h0M1459.3 916.2h0M1232.5 502.6h0M1211.2 636.2h0M708.6 946.1h0M1508.3 810.4h0M1545.2 876.1h0M1567.2 769.6h0M1217.5 485.4h0M1119.1 592h0M1544.2 810.1h0M1513.5 955.7h0M1410.2 897.9h0M1683.6 837.9h0M1281.9 632.7h0M782.2 1064.6h0M1486 863.7h0M1583.5 820.2h0M879.8 1100.3h0M1471.1 929.6h0M1232.8 799h0M1366 654.3h0M1201.5 597.4h0M1008.8 611.3h0M1297.7 620.4h0M1479.8 722h0M1418.1 805h0M1390.1 683.5h0M1459.5 897.2h0M873.6 1088.1h0M1567.6 829.9h0M1680.1 909.9h0M1162.5 587.6h0M1474 934.1h0M1620.6 700.7h0M1512.6 828.3h0M1010.4 517.8h0M1531.8 936.5h0M1419.9 899.7h0M891.1 1093.9h0M1500 789h0M1655.1 916.4h0M1078.4 803.2h0M949.4 929h0M1444.6 826.2h0M1344.7 658.9h0M805.9 938.7h0M1071.7 501.7h0M1088 952h0M1204.5 518h0M1229.5 592h0M1527.1 779.1h0M1464.2 927.9h0M1137.3 504.7h0M1467 780.1h0M1065.1 636.1h0M1156.5 509.5h0M867.5 1099.2h0M911.2 1060.8h0M1669.9 861.6h0M979.2 682.4h0M1606 823.8h0M1474.3 746.7h0M1246.3 502.1h0M1564.5 784.5h0M1512.8 755.8h0M1690.1 808.9h0M412.1 911.3h0M942.9 1070.2h0M1668.7 856.6h0M1566.5 813.4h0M1441.7 810.4h0M1404.9 806.8h0M1687.4 814h0M1088.8 558.4h0M915.9 1063.1h0M1667.8 920.3h0M760.7 849.2h0M1390.1 702.8h0M1158.2 503.4h0M1563.7 768.4h0M1487.4 700.2h0M1612.8 797.5h0M1443.2 731.6h0M1572.8 822.6h0M1142.2 533.8h0M1346.3 783.1h0M1627.5 676.4h0M1604.9 665.4h0M1544.6 795.6h0M1231.1 800.8h0M1475.7 904.2h0M1670.7 909.4h0M1683.8 890.5h0M1581 696.4h0M1490 921.4h0M1345 352h0M1210.4 622.6h0M1142.9 506.1h0M1414.3 688h0M1068 487.8h0M1573.1 907.2h0M1351.1 653.1h0M1500.8 890.9h0M800 1067.5h0M1612.5 770.2h0M1715.3 824.7h0M851 1068.7h0M1424.8 718.9h0M1622.5 762.3h0M1157.7 626.3h0M1558.2 835.9h0M825.2 963.9h0M1080.9 721.9h0M1660.2 808.5h0M1212.4 624h0M1443 826.9h0M1611.6 867.8h0M1064.1 505.1h0M1628.1 935.7h0M1696.8 839.3h0M1224.3 559.2h0M1599 756.2h0M1547.9 945.9h0M1239.7 588.8h0M590.6 980.9h0M1647.6 852h0M1070.3 497.6h0M1541.1 773.5h0M1372.1 711.3h0M1403 693.5h0M892.2 1044.7h0M1704.9 872.6h0M1482.6 690.7h0M942.9 1060.2h0M1211 489.4h0M1671.9 850.7h0M1588.8 879.2h0M919 484.9h0M1587.8 823.5h0M1039.7 479.7h0M1547.7 709.2h0M1658.2 796.3h0M1665.8 786.6h0M1522.4 834.1h0M1722.9 865.5h0M824.9 957.3h0M1423.3 887.2h0M1604 914.9h0M1499.4 699.5h0M1505.3 812h0M1479.9 745.7h0M1560.6 902.6h0M1358.8 651.7h0M820.6 1061.9h0M1460.3 886h0M1422.6 816.1h0M1678.3 782.1h0M1638.4 675.9h0M1450.9 924.6h0M1488.4 808h0M1434.5 816.8h0M1540.7 802.1h0M1250 574.7h0M1667.3 836.1h0M1709.9 803h0M1331.1 951h0M566.4 576.3h0M1154.4 510.5h0M1218.7 488.4h0M1513 856.5h0M1628 899.7h0M702.1 930.6h0M823.5 1043.5h0M1588.6 823.9h0M1106.6 482.4h0M1054.8 503.2h0M870.5 1083.4h0M1343.5 668.7h0M1644 832.2h0M1573 950.3h0M1277.4 556.4h0M1358.7 788.9h0M1246.5 774.7h0M764.9 1063.4h0M1513.3 770.4h0M1597.9 887.3h0M1132 578.1h0M1106.9 477.6h0M1733.9 853.2h0M1478.3 746.2h0M1285.7 801.3h0M1215.4 590h0M1585.6 755.7h0M965.9 491.8h0M1102.3 252.3h0M1418.1 686.7h0M1702.7 825.4h0M944.6 1019.7h0M1542.6 772h0M753 839h0M1527.4 823.5h0M1519.5 902.4h0M1482.9 801.2h0M1277.4 771.1h0M1515.8 878.1h0M1084.3 494.7h0M1469 747.7h0M1451.1 886.5h0M1430.4 733.4h0M1367.3 703.5h0M1666.2 817.7h0M1610.7 756.8h0M1144.2 550.5h0M1413 728.7h0M880 1066.8h0M1461.1 874.1h0M1311.2 675.3h0M1242.5 501.8h0M992.7 640.1h0M1208.4 796.6h0M867.5 1074.9h0M653.8 581.9h0M1438.2 916.5h0M859.2 1048.8h0M1461 926.2h0M1082.3 967.1h0M1161.8 554.3h0M1553.4 828.9h0M1099.7 803.8h0M1638.1 922.4h0M885.8 1056.8h0M1563.5 813.2h0M1637 812.5h0M1404.4 882h0M1520 870.7h0M1565.2 816.8h0M1423.8 814.4h0M1731 800.1h0M1075.8 813.3h0M1308.8 614h0M1509 833.1h0M1125.9 510.9h0M1592.5 883.6h0M1242.8 550.4h0M1479.2 889.2h0M1002.3 755.8h0M1542.8 945.4h0M1119.1 626.9h0M997.1 486.5h0M607.7 561h0M1127.6 293.7h0M870 1095.4h0M1557.7 901.1h0M1575.9 843h0M1501.6 753.5h0M826.9 256.2h0M1263.1 576.5h0M956.2 699.9h0M872.8 1037.3h0M1727.9 797.4h0M888.9 1038.6h0M371.5 891.3h0M1423.9 890.9h0M1608.3 914.8h0M1700.6 830.5h0M1428.5 787.3h0M1143.7 503.6h0M1538.1 868.3h0M1471.2 742.6h0M1643.6 752.1h0M1626.3 879.7h0M1487.1 863.5h0M1680.6 854.6h0M934.8 1087.4h0M1194.7 576.9h0M1454.2 786.2h0M1565.1 946.8h0M707.2 933.3h0M1536.1 949h0M1674.8 774.3h0M1500.8 830.6h0M1123.9 546.8h0M427.9 923.3h0M1170 556h0M1662.4 927.9h0M1583 820.2h0M1230.4 578.3h0M1106.6 947.3h0M1295.6 668.8h0M1574.6 811.1h0M612.9 561.3h0M1097.4 804h0M1575 929.5h0M1202.5 497.2h0M1466 784.3h0M1602.5 903.8h0M1208.7 522.7h0M1071.5 494.8h0M866.6 1072.1h0M1228.4 630.2h0M740.5 1036.8h0M823.6 1055.6h0M1109.8 584h0M959.5 1014.8h0M1075.8 530.5h0M1256 599.3h0M1125.8 597.6h0M997.1 1051.4h0M1070.4 541.6h0M1415 896h0M1510.4 788.7h0M619.1 562.3h0M1630 760.4h0M1547.7 872.3h0M1221.4 525.3h0M880.2 1190.4h0M1723.2 782.9h0M1410.1 759.8h0M1654.1 925h0M1536.2 755.7h0M976.2 674.3h0M1436.2 835.4h0M982.6 710.9h0M1264.3 802.4h0M1259.2 568.5h0M1543.7 766.5h0M1369.7 726.2h0M1205.7 497.2h0M1487.3 801.3h0M1437.2 829.5h0M1514.6 928.9h0M1678.8 766h0M1576.9 808.5h0M874.2 1016.3h0M891.4 1037.3h0M1396.4 666.9h0M1672.7 861.6h0M1112.2 475.6h0M1633.4 917.5h0M1257.1 803.9h0M1295.6 623.3h0M850.2 1067.3h0M1669.6 790.2h0M1351.2 644.6h0M1250.6 516.6h0M1116.6 506.2h0M1007.7 515.6h0M870.5 1092.7h0M1333.4 648.4h0M1444.6 882h0M807.7 1058.6h0M1503.3 840.7h0M1330.7 814h0M1106.2 803.4h0M901.2 1047.3h0M1467.3 765.9h0M1560.6 876h0M1211 591.2h0M1701.6 803.7h0M1487.7 874.2h0M1107 967.2h0M1622.3 652.9h0M1619.5 795.4h0M1584.5 805.7h0M1390.2 779.3h0M1582.8 814.8h0M1470 898.9h0M1525.3 805.3h0M1586.3 947.6h0M1667.2 921.1h0M1411.3 781.3h0M1609.9 947.4h0M1422 786.9h0M1593.9 943.5h0M1631.5 758.8h0M1279.3 583.4h0M1678.3 779h0M1409.9 788.3h0M1502.6 914.9h0M1224.4 589.6h0M1218.7 582.5h0M1156.8 795.7h0M839.4 1098.7h0M825.1 506.5h0M1675.8 872h0M1448.2 885.4h0M1524 834.4h0M1264 609.2h0M1516.9 718.3h0M1562.6 896.8h0M892.7 1197.9h0M1008.9 651.8h0M1356.7 942.5h0M694.9 952.4h0M1052.4 704h0M1479.7 906.2h0M1655.5 840.8h0M1069.5 536.7h0M1634.4 921h0M1605.9 817.9h0M1469.2 924.3h0M1555.2 869.4h0M1390.2 751.3h0M1139 604.3h0M1050.4 1065.6h0M1435.4 833.5h0M1512.4 890.6h0M1646.3 752.8h0M1469.9 838.3h0M1253.4 638.5h0M1546.2 918.7h0M338 873.5h0M820 236.5h0M1014.3 704.7h0M1570.3 905.6h0M1309.3 780h0M1638.9 810.7h0M1695.3 796.7h0M1655.6 786.8h0M1454.6 690.2h0M931.7 1066.5h0M1104.6 474.3h0M1469.5 901.9h0M1574.1 907.8h0M1420 878.9h0M1717.8 854.9h0M1737.3 818.3h0M1650 816.1h0M1397.3 711h0M1588.8 795.9h0M1249 580.1h0M1299.7 782.8h0M1584.4 932.8h0M1561.3 843.3h0M1618.1 780.1h0M1634.5 903h0M946 1021h0M1111.4 557.9h0M1679.3 773.7h0M1174.9 491.6h0M1043.7 927.7h0M1581.1 877.6h0M1583.1 953.8h0M1736.6 841.2h0M946.8 1074.3h0M1603.9 788.2h0M1492.8 927.4h0M1329.4 769.5h0M569.3 563.3h0M1408.5 745.2h0M1662.2 894.1h0M1478.6 932.2h0M1630 674.8h0M1527.3 917.6h0M1569 775.6h0M1176.2 562.7h0M1259.2 510.8h0M1271.6 768h0M1666.2 843.5h0M1574.1 784.4h0M1612 906.8h0M1439.8 812.6h0M777.3 1065.3h0M1570.4 891.7h0M1269.6 770.3h0M1662.1 811.1h0M1069.6 531.1h0M1174.4 506.5h0M857.8 510.8h0M416.7 914.8h0M1219.4 526h0M1413.6 755.8h0M871 1066.3h0M1062.9 515.5h0M1682.6 775.4h0M835.6 1077.6h0M1038.7 672.1h0M1033.3 499h0M1519.1 910.4h0M1412.6 722.8h0M1103.4 1084.6h0M1590.8 926.7h0M1546.4 885.6h0M1604.4 882.7h0M1659.4 822.6h0M1629.7 760h0M1541.5 815.8h0M1440.6 771.2h0M1561.8 770.8h0M775.7 1074.9h0M1574.4 906h0M411.8 914.4h0M1187.5 523.4h0M1136.7 573.3h0M1612.8 754h0M1557.3 888.8h0M844.7 1098.6h0M1579.6 801.3h0M978.6 1030h0M1369.7 715.1h0M1035.3 558.4h0M1408.7 724.1h0M1176 578.8h0M1489.8 811.8h0M1189.6 621.5h0M1601.4 935.3h0M1156.9 514.1h0M1195.9 588.6h0M1667.4 864.9h0M1733 826h0M1478.5 827.1h0M1563.7 782.2h0M1409.5 764.8h0M1696 767h0M1154.7 551h0M1314.7 325.9h0M1648.5 893.7h0M1603 847.1h0M1205.5 622.8h0M1677.4 776.8h0M1428.7 883.3h0M1457 854.2h0M990.8 723.5h0M1535.9 822.3h0M1486.8 865.7h0M1281 780.2h0M1628.4 783h0M1435.8 776.8h0M1606.8 778h0M1635.9 908.2h0M1380.2 763.4h0M1596.7 788.1h0M1403 807.5h0M1343.1 673.4h0M881.6 1038.4h0M1089.3 491.5h0M1274.4 767.3h0M1450.6 724.7h0M1627.2 762.2h0M1253 555.9h0M827.8 1088.9h0M1646.2 848.4h0M1060.5 503.3h0M1694.7 889.5h0M1468.3 843.2h0M1481.8 932.6h0M1123.7 582h0M923.5 1074.6h0M1551.2 806.6h0M1589.6 935.1h0M757.3 851h0M1606 854.8h0M992 657h0M1074.6 899.9h0M1731.7 859.5h0M1482.6 728.4h0M1148.7 483.4h0M1680 803.7h0M1057.6 663.3h0M1404.9 728.9h0M1155 530.8h0M1227.1 628.5h0M825.3 1036.7h0M906.3 503.1h0M1514.1 907.7h0M1538.6 737.7h0M1337.2 669.3h0M859.3 1081.8h0M1492.4 839.5h0M1395.1 792.2h0M1207.5 514.9h0M1512.7 929.3h0M1714.9 800.8h0M1238.6 544.4h0M1560.1 790.7h0M1537.2 852.3h0M799.5 1065.3h0M1468.8 775h0M1462.7 734.5h0M1337.4 762h0M510.7 944.7h0M1562.4 875.1h0M1047.5 533.5h0M1197.5 551.9h0M1074.9 886.7h0M720.1 932.4h0"/>
<path stroke="#febf84" d="M1518 795.9h0M849.6 1031.8h0M1518.8 813.9h0M905.8 1044.8h0M1113.1 510.5h0M1236.8 519.3h0M1485.6 836.9h0M967.1 1074.9h0M1714.1 797.1h0M1545.5 815.4h0M1518.9 756.4h0M1542.9 878.6h0M1072.9 1063h0M783.2 1073.3h0M1664.4 897.5h0M964.9 475.7h0M962.1 493.9h0M1208 608.4h0M1588.4 942.9h0M1349.2 691.4h0M833.4 983.6h0M1111.5 1076.9h0M1466.7 773.1h0M1444.1 755.1h0M1497 800.4h0M843.3 1044.3h0M1704.9 799h0M870.2 1046.4h0M1689.4 809.1h0M1520.2 905.3h0M1621.9 915.8h0M1411.2 795.5h0M1479.6 758.4h0M1561.3 804h0M1656.4 821.6h0M1380.5 769h0M1462.3 772.9h0M1272.5 602.5h0M1625.2 782.5h0M1636.4 888.9h0M1605.7 756.3h0M1453.5 893.5h0M941.2 1069.9h0M833.8 1045.4h0M786.4 1026.9h0M910.1 478.5h0M1124.8 589.3h0M1144.1 601.8h0M1591.9 919.6h0M1272.2 629.1h0M1070.1 547.6h0M1603.7 938.6h0M1473.5 756h0M1642 834.5h0M1638.8 870.9h0M1212 527.5h0M938.6 1050.5h0M779.5 1049.1h0M813.9 1039h0M1584.3 866.7h0M1312.4 788.3h0M925.2 1080.1h0M1665.3 759.9h0M1492.9 785.8h0M1539.2 773.6h0M865.1 1042.1h0M957.7 1073.7h0M856.6 1093.9h0M1620.7 681.5h0M1256.8 564.8h0M820.1 1028h0M1691.2 762.5h0M945.9 1045.9h0M1455.6 889h0M842.2 509.4h0M776.5 1047.5h0M1532.3 806.7h0M1209.5 799.1h0M1099.8 1080.5h0M1262.2 522.1h0M858 1077h0M1486.7 741.7h0M1176.3 532.3h0M1299.3 292.2h0M1297 785.8h0M1518.7 908.8h0M1502.7 891.3h0M918.1 1054.2h0M1579.9 872.2h0M1261 561.9h0M1571.8 873.7h0M1600 882.9h0M935.4 1071.3h0M1183.6 562h0M894 1109.7h0M1619.5 849.8h0M1179.2 587.9h0M1678.1 889.3h0M914.2 1027.1h0M868.5 1027.3h0M1162.6 516.9h0M865.9 1026.3h0M1463.4 711h0M687.5 950.2h0M880 1081.7h0M1101 800.1h0M1132.2 616.8h0M795.2 1071.7h0M1108.2 483h0M1520.9 750.6h0M1084.6 496.4h0M1143.6 603.4h0M1076.4 963.4h0M1184.7 526.6h0M926.8 1047.6h0M1567.9 823.7h0M1573.3 892.2h0M1048.2 502.6h0M1623.8 874h0M1337.9 814.6h0M881.7 1099.5h0M823.8 1073.7h0M1451.8 748.5h0M1095.4 966.1h0M429.8 922.7h0M1588.7 885.6h0M1514.5 876.5h0M1570.1 778.7h0M415.3 916.6h0M1253.1 613.2h0M683.8 952.1h0M1501.3 909.7h0M1478.1 924.3h0M1679.7 855.5h0M859.4 1112.1h0M1686.6 855h0M1632.4 862.6h0M1496.7 721.2h0M1302 289.7h0M1548 807.1h0M1335.6 655.2h0M1470.4 759.3h0M885.6 1097.3h0M1173.8 797.7h0M1531.7 831.5h0M1487.8 803.4h0M1560.5 819.3h0M688.4 955.2h0M794.5 1016h0M1670 887.3h0M1032.5 696.4h0M1211.6 584.8h0M1309.8 595.2h0M1670.2 826.8h0M1714.2 815.3h0M812.3 1036.5h0M1594.6 906.3h0M1540.4 885.7h0M1175.4 592.5h0M805.8 1047.1h0M1663.5 779.8h0M892.5 1103.6h0M1426.5 747.3h0M983.8 665.3h0M879.6 1067.6h0M1479 801.7h0M1550.6 875.6h0M1217.6 620.1h0M1129.3 801.9h0M1521.1 762.7h0M1633.4 935.7h0M1558.9 798.6h0M1116.3 574.5h0M932.1 488.6h0M1549.7 831.1h0M1740.1 864.6h0M946.9 1077.1h0M1237.7 774.6h0M1451.1 825.7h0M1139.2 597.2h0M1637.8 877.1h0M1103.8 950.9h0M1105.1 505.3h0M1138 609.6h0M1062 1078.4h0M1575.2 808h0M1029.2 572.1h0M1569 828h0M1561.7 934h0M813.3 927.9h0M1159.2 590.1h0M1201.1 532.6h0M1677.4 863.2h0M1593.6 910.6h0M1333.2 945.3h0M1344.6 340.6h0M1243.1 586.8h0M1649.9 757.9h0M918.4 1048.5h0M1700.2 832.8h0M1568.5 939.2h0M1005.7 510h0M850.7 1049.4h0M1358.8 690.3h0M1459.5 694.2h0M840.3 1020.5h0M1187.4 590.8h0M1562.7 837.6h0M1243.6 557.5h0M1469.1 905.5h0M1440.1 875.5h0M837.7 1105.1h0M1605 762.5h0M950.5 694.3h0M1302.7 756.4h0M1663.6 837.8h0M1676.5 917.3h0M1738 835.1h0M1691 790h0M1693.1 885.6h0M1439.6 892.6h0M1434.1 906h0M1564.7 930.2h0M1512.1 851.7h0M1738.3 835.1h0M1654 926.6h0M1513.1 880.2h0M1167.7 510.9h0M1702.3 789.7h0M1362.1 691.1h0M1163.8 503.2h0M810.6 1088h0M870.3 1088.9h0M1391.4 882.3h0M1301.7 781.6h0M1730.6 810.2h0M796.7 1048.5h0M1368.5 670.8h0M1117.1 469.6h0M615.3 582.1h0M1591 885.9h0M1248 770.4h0M1510.9 803.7h0M1452.1 890.7h0M880.7 1031.5h0M1630.8 867h0M1452.4 817.5h0M1198.9 579.2h0M578.1 582.3h0M1619.2 851.9h0M1094.8 473h0M1091.6 956.7h0M1641.6 907.3h0M924.3 1077.8h0M515.7 940.2h0M1257 778.3h0M1481.5 910.7h0M1038.2 1076.9h0M858.6 1031.9h0M1639.2 686h0M1666.3 905h0M958.1 1015.6h0M1487.2 814.3h0M1308.5 633.8h0M1566.4 783.5h0M1201.1 563.4h0M1606.3 917.5h0M881.6 1097.2h0M1533.2 921.3h0M1630.6 879.4h0M1036.3 927.8h0M932.7 1093.4h0M1415 698.1h0M939 1066.3h0M1060.6 1071.1h0M1586.5 899.4h0M769.7 837.6h0M957.1 1019h0M1424.5 688.9h0M1485.7 689.6h0M1238.4 534.2h0M1427 756.4h0M1539.3 885.4h0M843.7 1074.2h0M1635.7 767.6h0M1558.7 950.6h0M1303.7 633.7h0M1267.3 622.6h0M1432.3 761h0M1032.9 529.1h0M1363.2 939.9h0M1566.2 790.2h0M1338.4 392.9h0M1657.9 846.5h0M1335.1 672.2h0M1724.6 790h0M1447.7 853.5h0M698.4 935.5h0M1474.8 749.2h0M1646.8 886.6h0M880.8 1045.1h0M1457.8 833.6h0M1545.7 732.2h0M1626.8 819.5h0M1608.1 915h0M435.5 920.7h0M1649.3 835.2h0M1226.4 598.2h0M1402.8 722.3h0M1497.2 745.1h0M1010.6 513.9h0M1672.2 774.9h0M1058.9 487.9h0M1308.4 647.2h0M1225.5 572.5h0M913.7 1055.3h0M1633.1 846h0M1536.7 875.7h0M1163.7 529.8h0M1662 809.7h0M1554.7 814.3h0M1368.7 828.3h0M1344.3 350.8h0M1543.4 920.9h0M1100 825.3h0M1098.8 959.8h0M837.3 1080.8h0M1657.1 845.7h0M844.3 1096.3h0M1321.2 637h0M1408.1 783.9h0M633 427.6h0M1048.4 507h0M1644.2 856.1h0M1743.4 834.9h0M1569.4 807.9h0M1479.1 785.9h0M1211.7 544.1h0M1457.4 761.3h0M1562.6 957.4h0M1667.6 839.4h0M1468.2 907h0M1208.5 492h0M1687.5 890.2h0M770.2 1040.2h0M1472.1 914.9h0M883.1 998.1h0M1079.8 554.7h0M393.5 904.1h0M1038.8 927h0M1423.4 796.2h0M1511.2 941.7h0M766.6 839.8h0M1458.1 716.3h0M866.7 1079.4h0M1143.4 550.6h0M1595.4 774.2h0M1630.1 830.2h0M790.1 1031.7h0M1163.6 509.4h0M1412.1 690.4h0M1235.9 487h0M1565.5 776.3h0M1475.6 703.6h0M1727.4 785.1h0M1652.9 854.6h0M918.1 1054.7h0M1579.8 751.2h0M1529.8 708.6h0M1494.1 861h0M1706.3 835.4h0M706.4 929h0M1156.8 593.3h0M1635.2 828.9h0M1076.6 887.7h0M1477 727.5h0M1668 841.4h0M1564.7 928.9h0M1577.6 822.2h0M1413.5 785.5h0M1681.1 806.7h0M1094.6 1089.2h0M1143.7 507.9h0M1078 504.4h0M1288.1 654.6h0M1164.2 549.4h0M1566.4 844.9h0M1645.2 776.6h0M1653.9 878.2h0M900.4 1079.6h0M954 1049.4h0M1562.7 924.3h0M1662.6 759.8h0M1621.4 880.7h0M1062.2 1066.5h0M1411.4 726.5h0M812.2 1084.7h0M1518.5 762.2h0M1113.1 515.7h0M896.1 509.9h0M1487.3 938.9h0M858.4 1106.2h0M1612.8 849.2h0M885.5 1050.4h0M1611.2 865.7h0M1168.5 533h0M1509.9 930.8h0M927.9 479.6h0M1239.5 615.2h0M1614.5 833.5h0M1590.9 753.2h0M1711.3 783.2h0M1197.1 573.4h0M821.9 1075h0M1691.3 834.6h0M905.5 1024.6h0M1510.4 818h0M889.5 1058.2h0M1630.4 825.2h0M1625.2 654.1h0M808.7 1069.5h0M1476.8 718.4h0M888.4 1060h0M1382.3 768.4h0M1342.4 774.7h0M1243.2 565.9h0M850.4 1100h0M959.1 1079h0M917 1061.7h0M1071.1 1081.1h0M902.1 1030.4h0M1448.3 843.1h0M924.7 1083.3h0M1619.5 651.8h0M714.3 942h0M1053.6 926.5h0M1235.3 530.4h0M1562.8 835h0M1704.8 862.9h0M1242.9 611.8h0M1473.3 708.7h0M1115.9 499.4h0M1675 811.7h0M1495.8 709.7h0M1635.5 802.6h0M1618 923h0M863.9 1022.1h0M1667 896.4h0M894.9 1079.5h0M797.9 1049.7h0M1687.8 878.4h0M1525.1 936.2h0M1149.1 547.2h0M1099.7 968h0M1141.7 603.5h0M1454.4 850.8h0M697.3 951.6h0M1300.3 781.7h0M992 674.7h0M855.4 1048.7h0M1665.8 770.5h0M1548.3 932.5h0M1249.6 571.4h0M1280.1 572.7h0M1513.3 784.1h0M1351.7 820.9h0M1059.4 1071.9h0M1099.1 1074.9h0M1405.4 888.6h0M1433.4 774.8h0M964.6 1061.6h0M1054.7 542.5h0M789 1070.5h0M1119.9 553h0M805.2 1066.5h0M1501.8 932.9h0M1529.5 757.2h0M1080.4 1058.5h0M943.6 1056h0M1677 918.4h0M1561.6 838.7h0M1070.7 498.6h0M1491.5 928.9h0M1228.7 623.8h0M1602.1 795.3h0M1607.8 674.9h0M1498.4 866.8h0M1599.2 665.1h0M1454.4 708.2h0M834.2 958.9h0M1710.1 832.9h0M1671.8 922.3h0M1658.3 882.9h0M1250.9 775.4h0M1389.9 778.5h0M1585.6 943.9h0M1649.3 905.4h0M1433.8 922.1h0M878 1059.9h0M1553.8 699.3h0M1250.5 511.6h0M1626 885.3h0M1491.7 840.8h0M1485.5 907.5h0M1509.9 888h0M1397.6 682.5h0M1386.9 671.5h0M1376.7 937.8h0M1626.6 788.8h0M1591.7 780.5h0M671.6 579.6h0M1688.3 866.4h0M1706.5 890.2h0M1421.9 748.4h0M1106.6 571.3h0M1489.7 832.1h0M1188.9 494.4h0M1364.7 709h0M1615.1 839.3h0M1599 932.2h0M1288.1 755.5h0M1115.4 499.8h0M696.5 951.1h0M856.1 1105.8h0M1427.7 892.9h0M1265.5 703.1h0M1659 922.1h0M952.2 1067.9h0M1052.6 497.7h0M1235.9 621.2h0M1722.9 814.3h0M1283.3 747.6h0M1328.4 947.2h0M1569.8 822.7h0M824.5 1062.2h0M859.7 1028.4h0M909.5 1066h0M1708.2 792.9h0M1213.3 622.8h0M1562.9 901.7h0M561.8 559.5h0M956.7 684.1h0M812.5 1068.1h0M1515.6 913.8h0M1612.2 936.1h0M1310.8 630.8h0M1665.7 827.8h0M1727 812.2h0M1165.2 529.7h0M1733.3 845.4h0M1045.2 1074.7h0M1176.9 535.2h0M1643.7 931h0M1276.8 643h0M1426.2 887.9h0M983.3 856.2h0M1551 866.6h0M877 1092.6h0M1228 546.6h0M1063.9 532.2h0M964.8 1056.1h0M970.5 491.5h0M874.6 1050.9h0M1184.7 574.3h0M963.3 1081.3h0M1193.9 540.2h0M949.1 1045.9h0M352.7 884.9h0M789.6 1022.5h0M1101.9 1091.7h0M1451.3 775.7h0M1581.2 918h0M1147.8 549.9h0M1599.7 927.3h0M1664.1 785.1h0M1677.2 778.1h0M1260.5 570.7h0M1413 713.9h0M1158.2 621.1h0M1645 824.4h0M1538.1 871.7h0M1139.1 509h0M1106.5 965.4h0M911.4 1089.4h0M909.5 1101.2h0M1514.6 907.8h0M1651 820.4h0M1656.3 880.1h0M1544.4 921.7h0M1059 502.5h0M1592.2 763.8h0M1167.6 488.4h0M1161.9 557.1h0M1441.2 915.9h0M1124 512h0M1488.4 814.7h0M1355 691.6h0M1088.1 967.5h0M1555.4 915.3h0M1648.9 846h0M364 890.2h0M1094.6 963.1h0M852.1 1060.5h0M875.9 1103.6h0M1572.9 926.8h0M1422 825.2h0M1037 484.2h0M954.4 1052.3h0M1306.7 811.9h0M1213.1 542.5h0M1594.5 864.3h0M889 1086h0M1415.2 716.3h0M896.7 1003.3h0M1694.6 901.2h0M899.8 1070.1h0M1686.4 898.5h0M380.9 897.1h0M1226.6 479.9h0M1156.1 538.2h0M1677.6 796h0M1496.8 856.4h0M1292.6 659h0M1616.3 935.8h0M994.7 627.9h0M1100.3 1080.4h0M1486.1 862.5h0M1721 843.3h0M1223.5 611.1h0M1563.8 867.6h0M990.7 723.3h0M876.2 998.1h0M1108.7 961.8h0M776.9 1069.9h0M1659 936.2h0M856.2 1082.9h0M1180.5 608.2h0M612.5 593.8h0M1498.3 720.6h0M1350.7 346.9h0M1317.8 675.9h0M1459.9 738.5h0M1513.4 936.7h0M1112.4 1088.6h0M1314.1 602.3h0M705.6 930.6h0M1482.8 921h0M1580.6 670.4h0M819.5 1030.1h0M1670.6 832.3h0M848.8 1094.2h0M1245.2 569.1h0M1472.6 734h0M1671.8 920.2h0M881.2 1062.6h0M1216.3 523.3h0M1479.2 801.2h0M1485.7 920.3h0M1190.7 554.7h0M1638.8 907.1h0M982.9 670.3h0M1071.5 1071.3h0M1464.4 929.7h0M1215.2 604.9h0M831.6 1043.6h0M879.9 1052.8h0M841.1 1090.8h0M1234.2 486h0M852.9 1065.4h0M1613.8 918.7h0M1526.6 863.5h0M1359.1 691.4h0M1490.7 933.9h0M1504.3 840.1h0M1487.2 736h0M1170.4 606.4h0M1616 818.4h0M1595.6 820.6h0M820.2 1049.3h0M1448.3 833.6h0M1416.7 770h0M1455.4 713.5h0M1437.9 899.6h0M1063.4 514.4h0M1640.1 683.9h0M1165.6 537.5h0M1006.7 675.1h0M671 572.1h0M1131.7 586.9h0M1330.2 651.9h0M1210.2 504.3h0M1082.5 1075.1h0M1568.2 910.2h0M1151.3 478.4h0M1716.3 810.7h0M1419 702.1h0M1574.5 885.4h0M1625.4 795.3h0M1708 867.7h0M1085.9 1057.2h0M1477 881.8h0M568.6 573.1h0M1376.4 760.4h0M1484.4 820.3h0M1502.2 797.6h0M1389.4 794.9h0M1083.9 1059.9h0M1575.9 871.7h0M1434.9 760.1h0M1663 775.4h0M1684 798.1h0M1460.1 696.5h0M1699.5 778.5h0M918.1 1066.5h0M1403.7 819.5h0M1511.6 893.6h0M1557.2 848.6h0M991.8 692.7h0M1648.6 754.2h0M1607.5 854h0M1131.8 535.4h0M878.5 1093.9h0M1301.9 782.9h0M1224.9 625.7h0M1652.2 884.3h0M1554.5 821.6h0M1591 889h0M1628 795.6h0M1161.4 523.3h0M1411.7 710.4h0M1527.7 819.8h0M852 1058.8h0M1551.7 774.6h0M822.6 1093.5h0M830.9 1044.4h0M1463.5 930.6h0M1141.3 598h0M1593.8 787.6h0M645.9 440.7h0M1617.8 866.6h0M1174.8 601.1h0M1521 749.4h0M1545.4 769h0M1096.6 1069h0M1493.6 919.6h0M1090.6 733.3h0M1096 1089.5h0M912.4 921.7h0M1630.5 753.1h0M1557.8 909.4h0M1464.8 723.5h0M1552.9 936.3h0M1272 560.1h0M1005.3 709.7h0M1651.8 806.3h0M1568.8 779.7h0M1318.4 789.4h0M1439.1 887.7h0M1736.7 833.9h0M931.7 1048.4h0M1434.2 914.9h0M1563.3 917.9h0M1364 776.4h0M1694.5 829h0M1643 757.8h0M1569.8 887.6h0M1590 882.8h0M1223.9 520h0M646.5 573.1h0M1321.2 667.9h0M930.8 1076.3h0M785.8 1049.6h0M1636.9 762.6h0M1490.1 707.9h0M1639.6 805.1h0M1349.4 352.5h0M1576.6 842.2h0M857.3 506.5h0M1539.2 932.2h0M765.9 864.3h0M1482.4 709.5h0M1560.9 827h0M1209.3 489.5h0M1612.3 744.1h0M1398.4 887.1h0M1685.5 887.1h0M1118.6 537.2h0M1487.2 826.9h0M1674.7 903.2h0M1000.3 754h0M1524 709.6h0M909.9 1077.3h0M1519.4 875.5h0M1026.6 595.9h0M898.4 1048.6h0M846.7 1094.3h0M1259.6 779.2h0M1096.6 529.3h0M1610.5 849.3h0M1677.7 819.1h0M1104.2 813.2h0M1583.5 879.8h0M843.6 1029.1h0M1365.9 937.9h0M836.6 1053.4h0M1308.9 790.1h0M1709.8 876.9h0M1459.5 841.1h0M1716.4 800.3h0M1334.9 946.8h0M1678.3 770.9h0M1206.2 533h0M780.6 1058.9h0M1081.4 967.5h0M880.1 1084.6h0M1656.1 835.4h0M1064.5 546.4h0M660.7 584.6h0M1010.5 614.5h0M1488.7 827h0M1293.1 573.5h0M1447.2 788.9h0M1664.9 800.3h0M1702.9 796h0M1531 780.1h0M1111.3 525.8h0M1176.3 605.7h0M1619.7 919.9h0M972.4 479.3h0M620.3 586.9h0M842.9 1099h0M1217.9 779.7h0M1318.6 326.8h0M1495.1 911.5h0M1484.4 840.3h0M1613.3 823.7h0M1557 906.6h0M1698 827.1h0M1465.4 809.9h0M1041.3 520.9h0M1416.9 904h0M1521.8 914h0M1352.8 654.7h0M1680.4 876.2h0M1440.5 698.3h0M1284.6 575.2h0M1189.2 631.3h0M1631.1 681.4h0M1016.9 719.4h0M1199.2 603.1h0M869.3 997.4h0M1093.5 965.8h0M1598.2 943.7h0M1111.9 810.9h0M1384.9 817h0M1170.5 611.3h0M1038.8 525.2h0M1133.3 550.7h0M1638.7 876.3h0M798.8 1031h0M1546.4 953.8h0M1582.4 741.1h0M1583.9 905.4h0M1209.2 511.3h0M1422.9 819h0M1495.4 829.4h0M807.7 1042.3h0M1596.4 858.6h0M1618 814.7h0M1289.5 672.1h0M1298.7 616.6h0M1572 858.1h0M1490.9 799.3h0M1428.7 796.6h0M855.2 1046.3h0M1362.3 784.6h0M1700.1 883.7h0M1529.8 752.7h0M1112 514.8h0M948.4 478.4h0M1187.4 794.8h0M1433.3 826h0M1540.8 942.3h0M1068.5 531.8h0M1131.7 535.9h0M1563.9 920h0M1036.8 476.4h0M1077.1 538.8h0M1152.3 587.2h0M1275.2 628.3h0M1733.6 851.7h0M1199.6 504.6h0M966.8 1066.1h0M1232.8 550.7h0M1158.3 518.9h0M1453.9 774.3h0M1181.6 589.6h0M924.9 1087.7h0M1166.6 575.8h0M979.3 1008.5h0M1113.8 776.2h0M1462 909h0M1727.6 846.3h0M1074.9 547.4h0M1678 863.5h0M1592.1 891.1h0M1424.1 700.8h0M1486.7 876h0M1533.7 790.3h0M629.8 564.9h0M1502.2 816.6h0M1109.9 959.7h0M791.2 1038.9h0M1607.8 773.4h0M1187 520h0M900.9 1067.2h0M1153.9 489.1h0M1420.5 750.7h0M1597.5 936.8h0M1086.2 1066.7h0M920.5 941.9h0M1064.9 1073.2h0M1139.2 492.9h0M1227.5 612.1h0M1469.2 832h0M886.9 1054h0M1479.5 855.9h0M779.9 1071.3h0M881.9 1095.3h0M1532 705.7h0M1059.4 534.4h0M1385.2 936.8h0M1740 824.1h0M775.1 1057.8h0M1670.7 833.5h0M1670.4 880.8h0M1666.6 799.4h0M1446.4 920.2h0M1641.8 797.9h0M1158.8 515.8h0M1077.5 479.2h0M1304.3 780.4h0M922.9 1079.8h0M846.9 1092.3h0M1594.3 820.3h0M1688.4 766.3h0M1377.3 788h0M1089.8 1067.5h0M885.3 1068.3h0M1035 518h0M1531.2 859.3h0M1033.5 1065.2h0M845.1 1093.7h0M1685.1 888.7h0M1524 898.1h0M580.8 577.3h0M1644 914.1h0M1127.5 801h0M1523.6 922.6h0M1196.6 598.4h0M881 1067.1h0M1731.9 799.4h0M1503.7 879.5h0M1646.4 927.4h0M1457.8 871.3h0M1699.2 865.3h0M1321.3 810.8h0M764.1 838.6h0M1442.1 790h0M1491 924.5h0M848 1108.4h0M1167.7 504.5h0M1489.5 836h0M1428.3 688.3h0M1324.6 334.4h0M683.2 956h0M1466.8 848.7h0M1522.3 848.3h0M772.2 1042.3h0M1109.5 289.1h0M1227.4 590.4h0M997.9 757.3h0M1112.2 957.9h0M1196.3 579.3h0M1307 658.6h0M1435.8 836.3h0M1321 333.8h0M1339 354.2h0M1432.2 769.4h0M1255.6 584.2h0M945 1054.8h0M1233.3 633.6h0M1514.9 942.1h0M1199.5 629.8h0M1165.2 529.9h0M1077.5 890.4h0M1185 509.5h0M1719.2 848.9h0M1507.3 892.2h0M713.5 943.8h0M1449.1 745.5h0M1160.3 588.5h0M1679.1 803.6h0M1507.7 929h0M1477.8 854.6h0M1091.1 962.8h0M890.3 1099.3h0M1674 805.2h0M923.2 1054.2h0M1207.8 554.5h0M1123.5 509.5h0M1256.9 592.5h0M1614.8 815.2h0M892.9 1044.3h0M1003.6 486.6h0M1177.6 618.8h0M1535.1 805.1h0M1526.6 767.1h0M1054.2 529.7h0M1075.3 481.9h0M1240.7 533.5h0M1580.2 872.7h0M821.7 955.3h0M1711.4 826.9h0M1539.6 768.8h0M1432.9 691.7h0M1099.8 1068.4h0M1719.4 852.7h0M1143.4 536.6h0M1623.3 812.6h0M1297.3 781.2h0M1467.7 825.3h0M1094.6 522h0M1667.5 875.7h0M1730.4 807.8h0M1322.2 666.1h0M1565.7 857.5h0M895.5 1042h0M1640.3 770.6h0M1603.8 944.8h0M977.3 670.2h0M1030 702h0M1287.1 636.4h0M1729.2 798.6h0M1127.7 585.9h0M1656.8 800.5h0M1599.7 761.6h0M1497.9 893.4h0M1458.3 708.6h0M923.8 1095.4h0M1207.6 487.2h0M1300.6 782h0M1705.6 887.7h0M1230 590.3h0M1433.6 806.6h0M1111.4 955.7h0M1437.4 781.4h0M1367.2 713.3h0M1243.6 491.8h0M1244.7 626.8h0M1666.3 834.5h0M1636.2 678.1h0M1341.9 767.9h0M1622.4 765.4h0M1180.1 624h0M1662.7 845.9h0M1239.7 618.5h0M1046.6 541.5h0M1087.2 1063.4h0M753.2 838.1h0M880.6 507.3h0M1055.3 522.9h0M1282 783.7h0M1190.5 789.2h0M1044.1 514.3h0M1309.7 661.3h0M1393.5 680.3h0M1569.1 803.4h0M1409.8 812.9h0M1506.1 804.2h0M1239.8 534.1h0M1319.2 341.5h0M1049.1 514.6h0M1644.1 882.7h0M1626.1 819.6h0M1479.8 902.1h0M955.3 1052.6h0M923.7 1052.7h0M1627.3 820h0M855.9 1108.8h0M1585.6 819.3h0M871.5 1066.3h0M1721.4 812.2h0M1469.6 822.9h0M1644.1 897.9h0M1681.2 782.6h0M1592.8 845.3h0M1092.3 544.2h0M1115 1086.6h0M818.8 1079.1h0M1242.5 598.5h0M1095.6 964.2h0M1592.6 914.4h0M1615.6 798.3h0M1369.7 652.8h0M1084.4 615.6h0M1494.5 935.3h0M848.8 1064h0M1137.8 804.8h0M1735.9 833.7h0M1272.9 568.2h0M1089.2 526.8h0M1322.8 335.4h0M1232.7 780.5h0M1197.7 788.5h0M1447.1 909.2h0M1453.9 781.8h0M1462.7 871.7h0M1418.4 690.8h0M1636.5 796.9h0M1392.1 671.9h0M1722 866.3h0M1703.9 859.2h0M1152.7 617.9h0M1269 586.1h0M1095 474.2h0M1353.2 639.7h0M1646.2 849.9h0M1490.4 865.5h0M1230 534h0M1109.1 546.1h0M1020 616.1h0M855 1111.9h0M784.7 1037.9h0M1694.8 782.5h0M1531.5 895h0M1198.4 590.2h0M1490.9 720h0M870.3 499h0M1494.9 934.8h0M825 1046.3h0M1544.4 891.1h0M1569.7 857.8h0M1520.7 711.1h0M1582 947.9h0M1562.4 712h0M1515.7 931h0M801.4 921.6h0M1439 682.8h0M1658.5 824.6h0M1576.9 908.6h0M1457.3 898.6h0M1236.6 585.7h0M971.5 681.1h0M989.9 758.4h0M1550.9 903.4h0M878 1107.5h0M1057.4 1066.7h0M1333.1 769.9h0M920.8 1001.4h0M1154.7 485.1h0M1060.8 529.6h0M1464 772.4h0M1500.7 915h0M863.8 1062.5h0M1690.2 790.8h0M591.7 551.7h0M1610.5 855.8h0M957.3 1068.2h0M866.1 1085.2h0M1731.8 810.3h0M1437.6 859.2h0M1413.4 773.1h0M1672.9 792.7h0M1630.3 815.5h0M1235.1 619.8h0M1733.5 838.4h0M1099.1 1074h0M698.8 735.6h0M648.3 584.7h0M1297.1 582.6h0M1155 515.4h0M1269.9 542.4h0M811 1090.8h0M1303.6 654.1h0M1311.2 636.4h0M1639.8 884.7h0M1082.9 499.3h0M1075.1 963.2h0M1463.7 831.2h0M1440.5 816.5h0M1618.8 906.2h0M1483.3 905h0M1599.5 841.4h0M1435.8 879h0M1629.4 811.4h0M1544.9 865h0M1616.2 681.2h0M1102.6 528.4h0M1617.1 821.4h0M1495.2 799.1h0M1300 312.5h0M1674.2 845.5h0M960.2 698.3h0M1588.4 762.6h0M826.9 1024.2h0M1296.2 619h0M843.7 1016.3h0M1632.8 839.9h0M1513.3 811h0M1608.6 883.7h0M1100.3 953.3h0M426.9 917h0M1091.5 1068.9h0M1537.3 774.5h0M1188.8 607.9h0M1621 914.2h0M1328 954.4h0M1553.5 777.7h0M872.1 1067.5h0M1482.5 818.8h0M1616.6 825.5h0M1405.7 822.3h0M1581.6 888h0M1285.8 785.6h0M1415.9 723.5h0M921.4 941.9h0M894.1 1072.6h0M853.2 1102.1h0M1558.4 923.4h0M999.3 687.3h0M1483.8 899.3h0M1597.2 775.2h0M1343.6 645.1h0M1609.1 782.2h0M1169.1 532.9h0M1644.1 914h0M1471.7 859.8h0M1088.1 803.9h0M808.7 1076.6h0M785.5 1064.2h0M1056.2 536.5h0M1603.8 916.3h0M1077.7 812.5h0M1649.4 856.5h0M1457 812h0M1587.3 922.7h0M1510.2 806.3h0M1512.1 934.7h0M959.1 1065.7h0M1632 880.5h0M1522.6 804.1h0M782.3 1037.8h0M1138.9 533.1h0M1571.5 944.3h0M1470.4 890h0M335.5 872.8h0M1169.9 478.9h0M1519.7 797.1h0M1050.6 492h0M1614.4 779.8h0M947.9 1088.9h0M1549.8 838.3h0M1548.2 809.3h0M1076.3 556.6h0M1113.9 510.8h0M1529.9 856.8h0M1382.9 938.1h0M1574.8 935h0M1604.9 875.1h0M817.5 1084.4h0M1470.5 892.1h0M1046.7 639.6h0M1405.3 791.4h0M1079.4 533.8h0M1612.2 951.3h0M1722.1 818.6h0M1492.1 828.6h0M1585.9 760.5h0M344.3 878.2h0M1213 485h0M1571.5 703.5h0M1436.6 734.1h0M1526.3 835.6h0M1452.3 920.6h0M1165.8 628.5h0M1405.3 724.6h0M1145.2 568.3h0M1548.9 884.1h0M1650.2 855.2h0M904.3 1074.1h0M847.5 1026h0M1475.9 753.8h0M1709.5 827.4h0M1084 811.1h0M1114.4 1085.3h0M1617 819.5h0M814.5 1036.1h0M1734.1 859.6h0M904 1023.3h0M1629.5 757.1h0M1467.9 831h0M1582.7 778h0M1089.1 956.4h0M1688.6 769.6h0M1546.5 864.6h0M1576.9 951.5h0M1429 717.4h0M1077 1079.6h0M1318 665.6h0M1193.3 591.7h0M944.9 1081.5h0M1172.6 599.9h0M1581.7 901.7h0M1689.7 820h0M851.8 1080.8h0M1316 633.1h0M1263.7 802.4h0M1731.3 874.3h0M1584.4 847.6h0M825.1 1078.6h0M1431.9 802.5h0M1618.9 924.1h0M940 917h0M1442.8 716.1h0M1640.8 870.1h0M1280 811.4h0M1489.2 862.2h0M1645.9 928.1h0M960.9 1058.7h0M1444.6 861.4h0M1398.6 778.8h0M1522.6 859.9h0M1677.4 846.3h0M968.5 1072.1h0M1672.8 872.2h0M1264.8 781.4h0M1428.6 743.7h0M1640.3 893.6h0M1447.5 816.9h0M1192.2 580.2h0M1283.5 781.4h0M1288.2 595h0M1209.1 524.3h0M1181 627.1h0M1585.4 947.2h0M1480.7 922.4h0M1611.2 864.9h0M942.5 1080.8h0M1634.4 861.7h0M1591.2 838.1h0M886.1 1091.1h0M1466.8 765h0M1424.9 743.3h0M1379.8 709.3h0M1406.2 885.2h0M1674 892.9h0M1417.3 727.6h0M924.5 1081.2h0M1648.7 830h0M1416.7 881h0M1560.7 782.1h0M1073.7 1081.4h0M1551.1 787.2h0M1102.6 510.5h0M1597.2 937.8h0M1237.9 625.5h0M1522.4 932.8h0M874.7 1056.9h0M1638.4 771.5h0M1414.4 888.4h0M1143.7 582.6h0M1475.1 844.1h0M819.7 1055.5h0M1427.5 687.8h0M1412.4 801h0M1104.8 1079.4h0M1395.8 891.7h0M1720.4 822h0M1583.4 797.7h0M1426.6 783.3h0M1096.5 522.5h0M1699.1 887.5h0M1408.3 817h0M1574.8 839.9h0M1249.2 801.6h0M1686.8 886.6h0M1441 868.5h0M1121.8 482.2h0M1211.9 636.7h0M1450.1 746.2h0M1044.3 533.4h0M1488.6 796.9h0M1507.8 712h0M1714.9 854.7h0M1393.5 816.1h0M816.3 1019.9h0M1055.7 1067.3h0M1343.9 639.6h0M869.9 1049h0M1660.4 923.4h0M1123.8 584.7h0M881.1 1032.1h0M1571.4 859.7h0M1568.5 785.1h0M1571 928.3h0M1622.9 920h0M1573.6 779.1h0M1537.8 864.3h0M1101.9 541.7h0M1544.4 945h0M1729.1 858.2h0M1469.9 724.9h0M1673.3 835.1h0M1481.8 850.4h0M1563.3 761.1h0M1642.4 756.9h0M1302.2 624.3h0M1495.6 761.2h0M851.5 1074.8h0M1570.1 915.6h0M1518.8 731.9h0M912.3 1059.5h0M1470 821.7h0M1531.6 883.5h0M1371 763h0M1557 834.5h0M1524.2 778.2h0M902 1043.3h0M1178.6 621.8h0M868.5 1047.7h0M1479.5 810.2h0M1418.5 874.5h0M1601.3 797.1h0M825.7 1031.3h0M951 1088.2h0M859.5 1048.5h0M1322.6 769.1h0M875.7 1025.8h0M400.7 906.6h0M839.4 1077.7h0M1317.6 780.7h0M1566.9 902.8h0M1560.5 953.9h0M615.2 562h0M911.7 1045.3h0M885.7 1104.1h0M1466.2 806.9h0M1516.4 785.5h0"/>
<path stroke="#fec88c" d="M835.9 970.1h0M1592.8 779.8h0M1514.4 935h0M1537.5 845.6h0M1599 764.6h0M1522.2 712.6h0M1089.3 954.5h0M1533 702.8h0M1394.9 712.7h0M1619.9 844.7h0M1684 867h0M1055.5 544.2h0M924.7 474.2h0M1472.4 790.5h0M1598.4 915.5h0M1669.3 907.9h0M1367.7 676.8h0M904.1 1049.6h0M1499 767.2h0M910.4 1078.4h0M1099.3 1091.1h0M1515.3 871.1h0M1483 768.4h0M1237.8 771.3h0M1333.3 662.2h0M1540.1 813.6h0M902.3 1096.3h0M498.1 936.5h0M1113.2 489.3h0M1093.2 952h0M1559.1 795.6h0M1661.8 928.3h0M1121.9 513.7h0M1041.9 568h0M1269 600.4h0M914.6 1064.4h0M916.6 1097.5h0M1444.8 748.4h0M864.5 1058.6h0M908.1 1075.1h0M1125.9 530.8h0M1226.7 486.2h0M1578 802.3h0M658.5 578.1h0M1096.9 948h0M857.9 1039.4h0M788.1 1024.6h0M897.1 1082.9h0M857.9 1085.9h0M1491.8 889.3h0M1385 937.6h0M930.9 522.9h0M1406.9 749.9h0M1479.3 723.3h0M803.2 1076.9h0M1348.4 667.8h0M932.6 1058.5h0M1484.4 867.8h0M1607.4 779.6h0M787.7 1074.4h0M1245.1 634.2h0M832.3 1081.4h0M1483.5 822.3h0M608.8 592.4h0M1666.6 921h0M707.2 942.9h0M1391 758.7h0M1336.5 344.7h0M1097 503.6h0M1495.7 789.8h0M1550 860.9h0M1403.6 777.2h0M1333.4 949h0M1606.7 883h0M980.4 484.4h0M698.6 931.8h0M1410.4 701h0M839 1094.2h0M1696.7 895h0M863.1 1099.8h0M843.4 1082.1h0M1116.8 543.9h0M929.1 1094.7h0M873.6 1098.5h0M1072.9 478.3h0M1499.9 841.2h0M1661.8 927.6h0M846 1036.7h0M1584 912h0M1478.7 797.1h0M880.8 1078.3h0M861 1073h0M944 933.8h0M1661 814.7h0M1484.7 809.6h0M1317.4 329.7h0M1123.1 579.1h0M1673.8 868h0M1252.8 512.4h0M1460.1 919.6h0M1739.4 834.9h0M1717.8 828.9h0M828.9 922.9h0M1605.8 921.4h0M1215.6 542.7h0M1499.7 867.6h0M1078.4 896h0M1419.3 677.9h0M1321.7 336.4h0M1564.9 812.9h0M1056.9 529.2h0M936.2 1080.5h0M1214.7 622.7h0M821.3 1040.9h0M1334 341.7h0M1710.2 864.3h0M1588.3 854.3h0M1465.7 886.2h0M1561.1 804h0M1571.9 947.7h0M1148.8 580.9h0M1133.3 296.2h0M885.1 1098.1h0M956.2 1047.3h0M1104.2 1072.8h0M995.8 687.5h0M1236.9 731.7h0M824.8 948h0M955.1 1050.1h0M1589.8 871.1h0M1526.3 768h0M968.8 1064.9h0M1123.9 267.9h0M891.1 1042.2h0M1483 935.3h0M1705.9 797h0M944.8 1069.2h0M1267.6 537h0M1640 938.2h0M1048.5 503.5h0M1091.7 1079h0M1164.4 627.9h0M1220.9 550.6h0M1489.5 770.6h0M1276.6 624.3h0M1080 822.7h0M1470.3 713.6h0M1449.4 923.4h0M1678.2 839.6h0M1118.1 565h0M891.2 1078.7h0M1106 960.7h0M1419.9 680.5h0M1581.7 808.9h0M944.2 1083.6h0M1405.2 721.4h0M1528.2 708.1h0M1682.8 868.1h0M1097 961.4h0M1116.6 949.2h0M1110.7 963.5h0M1243.4 551.7h0M1082.1 536.9h0M753.6 847.6h0M1068.2 1082.7h0M1251.9 627h0M1663.6 777.3h0M1411.5 814.7h0M1151.4 524.6h0M790.4 1031.6h0M883.3 1062.1h0M1368.4 655.6h0M992.9 658.5h0M1645.3 935.6h0M862.6 1030.2h0M1463.1 728h0M1678.1 802.8h0M1653.4 850.4h0M856.6 1058.9h0M1644.3 770.1h0M1128.9 596.1h0M1137.5 491.4h0M995.7 501h0M979.9 699.9h0M1397.8 734.8h0M1524.3 926.5h0M1532 932.8h0M706.3 926.3h0M1473.8 700.4h0M811.2 1083.6h0M909 1098.1h0M1064.8 528.2h0M1403.4 710.2h0M1218.9 605.3h0M996.8 683h0M944.8 1054.9h0M885.9 1108.2h0M874.6 1055h0M934.6 1045.2h0M558.2 966.5h0M1152 552.9h0M1107.2 1089h0M1106.1 947.8h0M1095.6 541.3h0M1469.9 885.6h0M1475.7 688.4h0M1210.4 551.7h0M1217.3 778.9h0M1000.6 520.3h0M1677.8 888.5h0M853.1 1031h0M831.4 1054.8h0M873.8 1024h0M837 1020.3h0M1662.3 851.4h0M939.4 1079.7h0M1062.8 507h0M951.5 1085.3h0M1122.3 524.5h0M957 1063.7h0M1537.8 845.9h0M1037.1 510.3h0M1705.2 794.8h0M1016.3 508.3h0M1505 814.5h0M833.2 975.1h0M1412.4 728.4h0M1017 923.9h0M1046.2 533h0M1716.2 884.1h0M1520.8 765.7h0M798.6 1048.8h0M916.2 1102.5h0M1262.4 542.9h0M841.3 960.9h0M922.4 1075.1h0M1600.6 796h0M852.7 1099.1h0M1496.6 816.8h0M1614.8 872.2h0M879.2 1096.1h0M1467.8 763h0M943.8 497.4h0M1480.3 899.2h0M1432.7 699.4h0M897.7 1047.8h0M649 427.1h0M1072.4 530.7h0M1297.8 858.1h0M1628.5 870h0M1465.1 883.8h0M1385.1 794.9h0M943.8 1085.8h0M1670.5 899.4h0M1510.7 775.5h0M1209.3 494.8h0M1530.1 828.4h0M1115.7 473.8h0M923.2 1022.7h0M1517.4 927.1h0M950.2 1084h0M823.1 1029.9h0M907.5 1095.3h0M1570.2 918h0M1164.6 563.1h0M1545.6 741.5h0M1281.3 601.8h0M1558.7 893.7h0M1147 797.3h0M1682 815.6h0M1475.7 881.2h0M1551.3 810.9h0M1591 796.7h0M1522.6 697.1h0M1091.6 958.6h0M1470.6 697.6h0M1094.6 1086.9h0M1462.3 738.7h0M1403 882.9h0M1527.4 865.6h0M1121.4 948.3h0M1112.1 1076h0M1085.4 1076.3h0M872.5 1029.2h0M1040.9 1076.9h0M1693.7 847.1h0M1740.8 848.9h0M1592.2 942.3h0M1279.4 561.6h0M1733.9 837.9h0M1617.3 771.5h0M1479.6 690.5h0M1565.4 821.6h0M823.8 251.4h0M1171 606.3h0M1661.5 877.9h0M1307.1 656.3h0M1000.2 753.4h0M1126.7 551.5h0M1284.8 600.4h0M1669.8 923.8h0M1472.3 862.4h0M1085.9 827.2h0M1579.1 876.3h0M1464.4 768.6h0M1079.6 820.9h0M1513.5 916.1h0M1232.1 526.4h0M1512.4 897.5h0M1262.8 623.3h0M1638.9 804.2h0M1254 550.6h0M1407.1 726.1h0M1252.8 774.1h0M1468.4 896.5h0M1547.2 917.3h0M1406.1 725.4h0M688.5 947.3h0M1444.1 821.3h0M624.1 562.1h0M1218.4 555.4h0M1503.8 702.4h0M1310.6 656.2h0M1222.1 565.8h0M1516.3 733.1h0M1580.6 812.5h0M1602.2 881.2h0M1515.4 696.4h0M858.1 1093.3h0M1575.2 794.7h0M824 1056.8h0M940.2 1074.2h0M993.2 709.1h0M828.3 1089.3h0M1629.4 874.9h0M1477.4 860.2h0M863 1061.2h0M1507.7 943.9h0M1382.6 762.6h0M1160.1 625.6h0M1456.8 740h0M943.6 929.8h0M1601.5 677.6h0M850 1011.2h0M1253.2 513h0M869.7 1085.5h0M789 1046.3h0M1635.3 808.1h0M1071.4 479.2h0M1660.7 868.3h0M1559.2 862.9h0M1663.3 894.7h0M1650 921.5h0M1440.2 814.6h0M867.7 1023h0M1633.5 843h0M756.3 833.7h0M1698.1 860.3h0M1046.4 486.3h0M864 1010.9h0M851.7 1099.9h0M1140.1 512.3h0M862.9 1051.9h0M1448.5 928.2h0M1709.7 810.2h0M936.7 1067.3h0M1619 894.2h0M926.5 1005.7h0M1450.4 750.5h0M800.3 1059.5h0M1084.9 820.9h0M1501 944h0M1348.5 685.7h0M1075.9 1080.1h0M1022.4 695.5h0M1093.5 501.2h0M1041 507h0M914.2 1072.7h0M885.3 1107.2h0M1436.6 795.6h0M1471.2 699.2h0M1711 859.6h0M1105.9 1073.8h0M1502.6 742.5h0M1701.3 778.9h0M1132.4 483.1h0M714.3 954.5h0M661.3 591.2h0M1557.3 930.4h0M1535 841.4h0M1709.7 822.2h0M894.4 1041.8h0M1568 826.6h0M1080.5 534.2h0M1557.6 761.7h0M1471.7 828.1h0M605.3 583.8h0M791.6 1039.6h0M1547.4 857.4h0M1663.4 771.5h0M1645.8 887.8h0M1083.2 502.7h0M1597.1 895h0M1707.8 814.8h0M885.2 1071.9h0M888.8 1083.7h0M1652.2 869.4h0M1455.3 745.3h0M1583.9 777.7h0M964.3 1066.1h0M1418.6 753.1h0M778.2 1057.6h0M785.2 1015.5h0M1221.1 582.6h0M833.7 511.4h0M1218.8 567.9h0M1434.9 767.1h0M912.1 921.7h0M1022.7 716h0M1591.8 792.5h0M1139 549.9h0M902.5 1060.6h0M1570.2 880.2h0M1243.4 557.3h0M1065.9 1082.3h0M850.8 1065.3h0M1093.4 1081.4h0M1352.7 821h0M913.5 1061.1h0M1635.3 939.4h0M1582.8 856.9h0M1085 1069.4h0M1519.6 913.2h0M1623.5 776.7h0M658 439.5h0M1700.1 865.4h0M1404.1 714.6h0M758.6 851.2h0M1415.1 691.5h0M1562.1 887.3h0M699 936.6h0M1497.9 918.8h0M1443.6 744.3h0M1406.7 810.9h0M1463.3 743.1h0M802.6 1045.5h0M1354.6 710.1h0M1374.3 794.1h0M748 835.8h0M750.7 847.9h0M957.2 509.7h0M1463.7 705.5h0M1708.4 866.8h0M1666.2 781.5h0M1299 293h0M1197.4 550h0M718.8 933h0M1107.9 1077.8h0M1545.3 869.7h0M1649.3 845.1h0M889.2 1095h0M1507.7 723.9h0M1711.1 861.4h0M1368.1 674.1h0M1333 349.5h0M1367.7 772.4h0M816.1 1021.7h0M1523.9 885.3h0M708.5 955.6h0M835.3 1065.9h0M1543.9 926.7h0M1429.1 818.7h0M878.4 1076.4h0M1523.2 927.5h0M1611.6 800.8h0M795 1076.8h0M1482.7 723h0M1586.4 799.8h0M873.9 1065.3h0M1281.8 782h0M1046 481.3h0M1530.3 880.8h0M1072.8 1062.1h0M880.2 1094.7h0M1068.7 1081.6h0M1575.4 936h0M938.9 1047.6h0M1275.1 295.6h0M1638.7 914.4h0M1610.6 914.4h0M938.6 913.8h0M868.9 1033.7h0M893.6 1048.9h0M838.4 1041.2h0M1108.9 1078.1h0M1055.1 1071.5h0M861.7 1096.9h0M1115.4 950.2h0M944.2 485.9h0M1587.4 765h0M908.4 1098.5h0M915.9 1091.9h0M913.1 1063.6h0M1000.5 663.7h0M943.6 1054.2h0M1224 569.6h0M913.4 1047.6h0M1342.1 639h0M1101.3 962.1h0M1595.2 916.2h0M1616.4 850.9h0M1321.3 606.3h0M1466.3 812.5h0M1583.4 859.2h0M901.6 1066.4h0M1494.7 800.9h0M1020.3 717.8h0M1719.6 803h0M1189.6 585.9h0M1148.3 616.8h0M1473.7 785.5h0M868.9 1068.1h0M1415.8 766.9h0M1490.4 716.3h0M1661.1 778.6h0M1537.9 913h0M836 1085.2h0M1132.2 569.8h0M1227.3 770.6h0M1298.8 678.7h0M1227.7 580.7h0M1536.8 884.4h0M1438.3 887.3h0M1085.2 962.4h0M1194.2 614.5h0M1195.6 595.2h0M1419.1 741.6h0M858.5 1076.5h0M895.5 1058.6h0M1319.6 600.5h0M1011.7 658.6h0M933.5 1067.7h0M1589.9 751.1h0M1600.9 847.1h0M892.5 1069.7h0M899.5 1048.8h0M894.1 1008.1h0M1079.8 954.7h0M1504.6 751.2h0M799.7 1031.2h0M707.7 926.5h0M1091.5 951.8h0M1591.4 763.9h0M1284.4 571.4h0M799.1 1046h0M864.1 1104h0M1567.2 952.4h0M1093.6 959h0M1305.5 779.5h0M1347.3 355.2h0M1135 548.7h0M709.6 928.5h0M1738.4 839.7h0M1624.6 800.5h0M1288.2 642.6h0M902.4 1069.6h0M1646.7 818.8h0M889.9 1055.3h0M918.2 1088.1h0M1313.9 613.7h0M907.6 1017.6h0M1270.1 776.1h0M1258.8 598.3h0M1235.1 625.3h0M1672.1 791.5h0M1317.4 810.5h0M780.3 1054.4h0M1264.9 804.1h0M1091 959.2h0M1316 621h0M1014.9 493.3h0M1080.9 956.8h0M1616.9 878.9h0M1123 476.9h0M963.1 697.5h0M1500 710.3h0M1556.1 807.2h0M1711 887.8h0M692.4 954.8h0M1687 887h0M1255.3 522.5h0M1614 843.6h0M1539.3 791.3h0M1055.9 633.5h0M1556.6 782.7h0M591.9 575.5h0M1635 692.3h0M1581.8 876.5h0M818.2 1041.7h0M1580.4 899.4h0M1688.1 910.5h0M1100.3 469.3h0M1151.8 480.6h0M1477.3 810.1h0M1610.2 675.2h0M803.4 1058.3h0M912.5 1059h0M1140.5 586.2h0M1208.6 495.1h0M1459 772.9h0M1095.5 957.5h0M818.2 1039.9h0M1441.7 868.1h0M1529.1 899.9h0M1410 878.9h0M1620 923.3h0M1104 576.8h0M1099.6 1079.7h0M1089.1 954.3h0M1538.6 899.4h0M1524.5 938.9h0M1348.2 342.8h0M996.2 760h0M1445.3 768.3h0M829.5 1079.2h0M1132.6 504.7h0M1532.3 934h0M774.4 1040.3h0M960.5 1063h0M1619.5 856.1h0M1341.9 663.6h0M1605.4 843.8h0M1055.5 533.6h0M1445.5 844h0M878.1 1040.8h0M1512 913.7h0M1109.8 510h0M1599.5 769.1h0M1200 500.6h0M1330.5 949.2h0M1084.3 528.1h0M1400.6 723.9h0M921.8 1095.5h0M916.6 1076.9h0M807.7 1074.2h0M1564.7 783.6h0M1139.5 548.1h0M1432.4 905.8h0M1680.9 767.7h0M1078.9 1061.5h0M1084.8 1067.5h0M1521.4 750.2h0M1688.9 854.8h0M1629.4 928.7h0M1072.4 902.8h0M1461.4 793h0M1108 477.9h0M944.4 1054.2h0M1439.4 843.3h0M855.4 1035.4h0M722.9 972.9h0M1105.5 957.7h0M1196.4 586.1h0M1074.6 1070.8h0M1481 731.9h0M1176 535.9h0M1582.4 800.4h0M1120.1 580.8h0M1419.3 813.4h0M1490 815.6h0M1645.8 795.3h0M1470.2 764.2h0M1561.1 901.4h0M875.6 1065h0M965.1 681.4h0M1438.5 845.3h0M1473.2 903.5h0M800.9 1023.5h0M1589.6 739.8h0M854 1106.2h0M1419.7 789.4h0M875.8 1062.8h0M1526.9 876.5h0M1424.6 783.4h0M1478.5 881.1h0M929.1 1080.4h0M937.3 1072.8h0M775.8 1043.4h0M1485.7 691.5h0M1290 805.7h0M1077.1 963h0M1581.5 904.4h0M1573.3 916.3h0M1629.1 816.7h0M1599 915.8h0M1705.3 852.2h0M1670.5 860.1h0M1467.5 704.5h0M1441 866.9h0M1639.2 809.2h0M912.9 501.7h0M1409.1 747.5h0M1467.8 910.5h0M768.5 1041.2h0M1092.3 952.2h0"/>
<path stroke="#fed194" d="M1578.9 772.3h0M1367.6 685.2h0M1341.5 948.9h0M1662.9 842.1h0M1336.7 343h0M863.6 1044.1h0M864.5 1080.4h0M1572.7 830.5h0M1216.8 561.1h0M1457.2 813.2h0M1037.2 504.1h0M1604.5 744.4h0M819.7 1031.1h0M1099.1 529.3h0M1457.1 856.5h0M1130.9 477.5h0M1112.6 587.8h0M1203.9 578.6h0M1117.3 1079.7h0M1243 772.1h0M822.5 1076.5h0M1330.8 952.3h0M1117.2 953.9h0M784.6 1071.1h0M1718.8 839.1h0M868.3 1078.8h0M803.3 1045h0M873.3 1080h0M1478.5 686.8h0M1079.8 961.5h0M1089.5 1081.4h0M1451.8 770.2h0M1337.3 672.4h0M1716.9 839.5h0M1313.8 811.1h0M1094 953.4h0M985.7 856.7h0M1487 709.6h0M1072.4 1078.4h0M1410.6 749.8h0M1085.1 1067.9h0M1074.9 1061.5h0M1599.4 794.4h0M1681.3 780.1h0M1093.2 960.9h0M914 1045h0M1221.3 608.4h0M882.3 1054.4h0M1341.6 343.7h0M1457.9 864.8h0M1693.2 819.7h0M1622.8 852h0M921.7 1075.6h0M1466.9 892h0M830.5 1048.1h0M1042.9 479.2h0M1616.4 856.8h0M1585.8 951.1h0M1254.5 509.6h0M1126.8 480.4h0M898.4 1069.2h0M1360.4 940.6h0M715.8 933.7h0M924.6 1084.5h0M1075.3 713h0M1460.3 804.2h0M935.7 1075.9h0M1667.4 901.7h0M1564.5 910.5h0M1526 730.8h0M872.3 1090.5h0M1204.7 539.1h0M912.5 1083.2h0M1148 625.4h0M1623.8 825.9h0M1393.1 801.9h0M1320.8 813.9h0M1330.5 946.8h0M1667.4 903.1h0M1463.9 714.5h0M957.1 1073.6h0M1094.7 960.5h0M859.8 1067.1h0M1106 958.2h0M795.9 1027.3h0M1558.8 857.6h0M1101.7 1086.8h0M1102.5 1072.2h0M1482.7 814h0M1100.1 947.1h0M1386.8 718.1h0M1634.6 876h0M1037.8 484.7h0M1196.6 547.1h0M1099.3 1089.2h0M806.8 1025.6h0M1100.8 952.5h0M1082.6 727.7h0M1582.3 768.8h0M1290.7 604.7h0M1155.2 610.1h0M1720.7 798.2h0M1310.1 813.3h0M1457.6 763h0M1091.6 532.3h0M1496.5 727.6h0M828.4 1054h0M1145.8 475.6h0M1225.3 485.7h0M1276.8 803.2h0M1591.2 817.7h0M1525.9 862.4h0M1450.3 824.4h0M1429.4 905.7h0M1655.2 784h0M1109.4 539.5h0M844.1 1072.1h0M1035 928.4h0M1407.1 931.7h0M1476.1 750.4h0M1683.9 896.8h0M1509.8 721h0M817.4 1087h0M1098.4 948.6h0M1022.9 699.1h0M820.4 1019.6h0M854.6 1045h0M403.8 903.1h0M1464.2 809.2h0M877.4 1067.6h0M1349.4 354.8h0M1511.9 790.4h0M1244.6 638.6h0M1064.5 515.7h0M1649.1 834h0M1666.2 825.8h0M1546.3 841h0M1058.6 496.4h0M1482.6 744.4h0M1718 865.2h0M1140.9 522h0M926.8 1078.5h0M798.6 1050.3h0M824.8 1075.5h0M818.1 1083h0M1112.9 949.9h0M714.8 922.7h0M1325.1 951.1h0M1587.3 870h0M946.2 1047.5h0M932.8 1081.8h0M1112.9 501.9h0M1542.8 803.3h0M1662.6 786.1h0M1413.9 741h0M934.5 1058.6h0M1597.1 798.7h0M1097.7 526.2h0M1449.1 731.5h0M1572 846.4h0M1495.5 752.4h0M1100.9 960.7h0M1193.5 549.4h0M1508.9 861.8h0M1597.5 852.2h0M1516 944.3h0M872.2 1076.2h0M984.1 701.2h0M583.3 443.6h0M1237.3 632.8h0M1099 1065.3h0M862.9 1098.1h0M819.6 1052.7h0M861.2 1042h0M1334.4 953.6h0M1492.6 749.7h0M1436 690.3h0M1578.4 886.4h0M1561.6 951h0M1425 803.4h0M1430.3 792.9h0M1468.6 865.4h0M865.5 1048.1h0M1216.1 520.7h0M1584.4 807.6h0M1302.7 781.7h0M915.9 1012h0M1152.9 594.2h0M1620.9 878h0M1227.7 518h0M1202.2 563.9h0M933.2 1092.5h0M1485.9 706.2h0M1459.2 822.1h0M1493.7 900.2h0M1093.8 961.1h0M1556.4 875.5h0M1049.8 931.4h0M1662.7 759.1h0M1094.4 1064.8h0M1275.5 611h0M1100.3 566.2h0M1474 722.1h0M1629.8 763.5h0M1456.8 709.4h0M815.8 1051.6h0M1087.1 959.7h0M679.5 964.3h0M910.6 1094h0M1230.4 617.2h0M865.8 1045.7h0M873.6 1065.7h0M711.2 950h0M1707.8 830.2h0M671 575h0M902.9 1050.3h0M1582 811.9h0M1357.1 929.3h0M749.2 833.2h0M1681.8 767.5h0M1121.8 267.1h0M1121.6 475.1h0M810.1 1090.7h0M891 1093.8h0M1468.4 837.3h0M1416.2 816.7h0M1636.7 827.1h0M1435.7 830.2h0M1108.9 965.5h0M1475.7 782.5h0M1055.9 491.1h0M839.2 1034.6h0M1625.4 784.4h0M1419.9 688.6h0M1663.8 757.2h0M1076.5 965.4h0M860 1075.9h0M885.3 1078.1h0M1252.4 632.3h0M826.3 1064.6h0M1626 931.4h0M1332.2 947.2h0M1215.2 796h0M927.1 1066.4h0M706.7 934.3h0M910.1 1098.9h0M1074.1 658.6h0M1104.7 1086.6h0M1477.9 718.1h0M1080.8 508.9h0M1071.3 1084.6h0M1334.4 951.2h0M1071.4 1083.3h0M872.6 1063.8h0M873.2 1089.6h0M1097.2 473.3h0M827.6 1098.3h0M869.8 1062.7h0M1625.8 923.5h0M1394.5 934.1h0M760.6 847h0M1174.6 797.4h0M1212.3 586.4h0M1322.3 335.2h0M841.4 1065.2h0M817.8 233.5h0M1742.5 849.7h0M922.7 1063.5h0M941.2 1059.5h0M1253.6 778.3h0M934 1075.6h0M1553.2 710.4h0M863.4 1006.7h0M1639.8 682.1h0M904.3 1092.8h0M1065.9 1060.9h0M861.3 1090.7h0M830 1045.3h0M978.4 680.7h0M1622.1 749.5h0M1499.9 732.1h0M1613.9 693.8h0M1231.6 590.5h0M943.5 1068h0M1098.2 625.9h0M1247.5 596.2h0M901.4 1088.6h0M1107.3 1078.5h0M957.9 1046.5h0M849.8 1067h0M1141.7 585.6h0M718.8 936.4h0M1514.5 740.7h0M1509.7 888.7h0M798.6 1015.3h0M1458.4 736.2h0M1665.7 882.3h0M1099.1 960.4h0M1532.6 797.6h0M1104.3 1085.4h0M888.5 1041h0M1675.7 847.5h0M1508 749.1h0M900.4 1074.4h0M1367.9 912.6h0M1377.2 724.3h0M1250.3 639.7h0M1082.6 1083.4h0M883.8 1080.3h0M700.6 940.3h0M1382.1 829.4h0M807.9 1016.8h0M897.5 1085.4h0M792.6 1052.4h0M1317.9 635.4h0M1716.7 819.6h0M908.8 1072.8h0M1339.6 342h0M1671.1 847.9h0M1355.3 660.4h0M795 1015.6h0M1217.1 521.9h0M912.4 1091.2h0M1123.5 952.8h0M845.9 1099h0M936.9 1051.4h0M1158.5 612.7h0M818.6 1088.8h0M1097.9 1076h0M888.1 1086.8h0M1582.2 781.2h0M1098.4 1068.1h0M843.5 1099.7h0M1469.6 780.4h0M779.5 1027.4h0M1064.5 494.9h0M850.6 1033.5h0M1391.5 684.2h0M942.5 928.2h0M1325.5 952.5h0M951.4 1058.7h0M1407.2 726.4h0M1105.1 1081.1h0M1713.2 890h0M1479.2 877.1h0M1410 753.9h0M1422.9 781.6h0M919.5 1045h0M1054.8 496.5h0"/>
<path stroke="#fddc9e" d="M878.6 1052h0M1177.8 547.9h0M921.1 1066.5h0M1606.1 679.3h0M712.8 939.7h0M601.7 990.2h0M1391 801.3h0M1404.6 680.1h0M1559.9 826.8h0M1118.2 1084.1h0M1086 951.5h0M1446 801.1h0M901.3 1038.9h0M1082.5 498.8h0M1658.1 892.1h0M1180.3 557.7h0M959.3 1061.3h0M642.2 429.1h0M957.3 1031.3h0M1582.3 936.8h0M1566.3 917.9h0M1641.1 887h0M1626 816.2h0M659.7 434.8h0M1105.9 958.7h0M1100.2 951.4h0M1587.1 876h0M1417.3 781.4h0M809.7 1058h0M1265.3 552.9h0M1103.9 949.2h0M906.3 1100.7h0M916.6 1092.5h0M915.7 1069.7h0M1450.3 723h0M1331.7 658.8h0M686.2 954.3h0M1448.2 689.2h0M826.9 1093.3h0M1320 666.7h0M1311.8 641.9h0M1161.9 583.2h0M1109.2 504.6h0M1638.5 782.7h0M1333.2 955.3h0M1454.3 703.1h0M1094.1 1063.1h0M1308.6 664.9h0M865.4 1084.3h0M1154.2 595h0M1522 890.2h0M1134 801.7h0M1111.4 954.9h0M1103.6 478.4h0M878.9 1089.5h0M711.9 920.5h0M1354 640.2h0M758.5 833.3h0M1400.3 735.8h0M1653.6 856.2h0M1447.5 700.1h0M1650.8 808.8h0M998.7 752h0M665.8 441.6h0M1394.3 762.9h0M1344.4 650.4h0M1531.8 825.8h0M886.8 1102.8h0M842.3 1041.9h0M1150.2 495.7h0M1654.2 899.9h0M1083.6 962.4h0M1073.7 477.8h0M1110.9 1086.3h0M1083.5 959.7h0M1113.8 1084.4h0M1401.8 686.7h0M1088.2 1068.1h0M1471.6 852.8h0M1615.2 696.4h0M1092.3 964.4h0M1422.5 782.9h0M1366 678.7h0M777.8 1051.5h0M1104 510.1h0M1665 889.8h0M1644 936.1h0M1669 809.9h0M1688.7 801.1h0M968.3 1074.4h0M895.5 1043.4h0M951.9 1045h0M1502.1 710.2h0M916.9 1068.2h0M1083.6 966.9h0M1096.3 1066.3h0M1405.3 757.1h0M1420.1 785.8h0M1517.7 707.5h0M899.2 1104.2h0M1307.5 599.3h0M1195.3 483.3h0M1114 269.6h0M1513 791.2h0M848.4 1041.7h0M1674.6 779h0M1212.8 485.4h0"/>
<path stroke="#fde5a7" d="M1351.1 346.3h0M871.1 1077.6h0M1076.2 1061.9h0M1225.3 518.8h0M1127.4 599.8h0M1653.1 833.7h0M1427.4 804.6h0M1654.7 849.2h0M1272.3 534.5h0M1106.2 1081.3h0M1016.6 685.1h0M1640.7 757.3h0M1450.8 891.5h0M1389.1 799.6h0M882.6 1069.3h0M643.3 429.8h0M1453.3 786.5h0M1620.8 672.6h0M1250.1 595h0M1228.1 594.9h0M1251.2 591.3h0M1349.2 351.2h0M967.1 1062.2h0M935.7 1069h0M1381.4 790.7h0M1539.6 940.8h0"/>
<path stroke="#fceeb0" d="M1382.4 936.8h0M1344.8 343.6h0M1335.6 352.2h0M1499 772.2h0M1118 962h0M1504 768.1h0M874.9 1074.8h0"/>
</g>
<g stroke="#000" stroke-width="4.45" fill="none" stroke-linecap="butt">
<path d="M222.45 142.4V1304.85M220.2 1302.65H1871.1"/>
<path d="M222.4 440.4h-14.6M222.4 845.2h-14.6M222.4 1250h-14.6M795.6 1302.6v14.6M1419.7 1302.6v14.6"/>
</g>
<text transform="translate(1046.6 101) scale(0.966 1.049)" font-size="68.75" font-weight="bold" text-anchor="middle">RPS7</text>
<text transform="translate(1047 1435.4) scale(1 1.05)" font-size="58.33" text-anchor="middle">UMAP_1</text>
<text transform="translate(94.9 723.5) rotate(-90) scale(1 1.055)" font-size="58.33" text-anchor="middle">UMAP_2</text>
<g font-size="50" text-anchor="end">
<text transform="translate(194.5 458.1) scale(0.975 1.04)">10</text>
<text transform="translate(194.5 862.9) scale(0.975 1.04)">0</text>
<text transform="translate(194.5 1267.7) scale(0.975 1.04)" dx="0 1.8 0">-10</text>
</g>
<g font-size="50" text-anchor="middle">
<text transform="translate(795.6 1366.4) scale(0.975 1.04)">0</text>
<text transform="translate(1419.7 1366.4) scale(0.975 1.04)">10</text>
</g>
<rect x="1927.0" y="578.3" width="64.0" height="319.0" fill="url(#mg)"/>
<path d="M1927.0 897.2h12.8M1991.0 897.2h-12.8" stroke="#fff" stroke-width="1.6" fill="none"/>
<text transform="translate(2019.5 916.7) scale(0.975 1.04)" font-size="50">0</text>
<path d="M1927.0 828.1h12.8M1991.0 828.1h-12.8" stroke="#fff" stroke-width="1.6" fill="none"/>
<text transform="translate(2019.5 846.4) scale(0.975 1.04)" font-size="50">1</text>
<path d="M1927.0 759.0h12.8M1991.0 759.0h-12.8" stroke="#fff" stroke-width="1.6" fill="none"/>
<text transform="translate(2019.5 777.3) scale(0.975 1.04)" font-size="50">2</text>
<path d="M1927.0 689.9h12.8M1991.0 689.9h-12.8" stroke="#fff" stroke-width="1.6" fill="none"/>
<text transform="translate(2019.5 708.2) scale(0.975 1.04)" font-size="50">3</text>
<path d="M1927.0 620.8h12.8M1991.0 620.8h-12.8" stroke="#fff" stroke-width="1.6" fill="none"/>
<text transform="translate(2019.5 639.1) scale(0.975 1.04)" font-size="50">4</text>
</svg>
</body></html>
